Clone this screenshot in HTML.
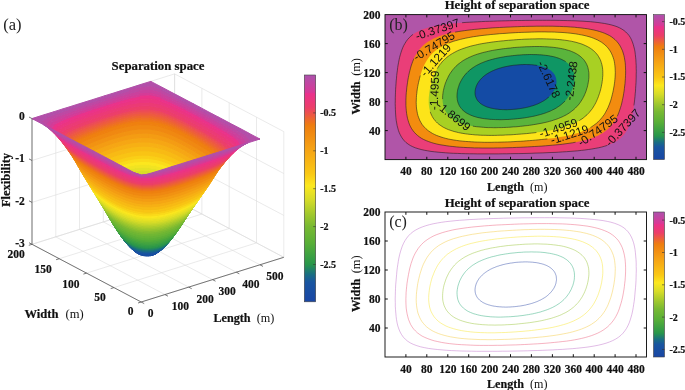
<!DOCTYPE html><html><head><meta charset="utf-8"><title>figure</title><style>html,body{margin:0;padding:0;background:#fff}svg{display:block}text[font-weight=bold],g[font-weight=bold] text{stroke:#111;stroke-width:0.2px}tspan[font-weight=normal]{stroke:none}</style></head><body>
<svg width="685" height="390" viewBox="0 0 685 390">
<rect width="685" height="390" fill="#fff"/>
<g stroke="#dcdcdc" stroke-width="0.6" fill="none">
<path d="M141.2,302.0 L283.8,257.3"/>
<path d="M113.9,287.6 L256.5,242.9"/>
<path d="M86.6,273.1 L229.2,228.5"/>
<path d="M59.3,258.7 L201.9,214.0"/>
<path d="M32.0,244.3 L174.6,199.6"/>
<path d="M141.2,302.0 L32.0,244.3"/>
<path d="M165.0,294.6 L55.8,236.9"/>
<path d="M188.7,287.1 L79.5,229.4"/>
<path d="M212.5,279.6 L103.3,221.9"/>
<path d="M236.3,272.2 L127.1,214.5"/>
<path d="M260.0,264.8 L150.8,207.1"/>
<path d="M283.8,257.3 L174.6,199.6"/>
<path d="M32.0,244.3 L32.0,118.6"/>
<path d="M55.8,236.9 L55.8,111.2"/>
<path d="M79.5,229.4 L79.5,103.7"/>
<path d="M103.3,221.9 L103.3,96.2"/>
<path d="M127.1,214.5 L127.1,88.8"/>
<path d="M150.8,207.1 L150.8,81.4"/>
<path d="M174.6,199.6 L174.6,73.9"/>
<path d="M32.0,118.6 L174.6,73.9"/>
<path d="M32.0,160.5 L174.6,115.8"/>
<path d="M32.0,202.4 L174.6,157.7"/>
<path d="M32.0,244.3 L174.6,199.6"/>
<path d="M283.8,257.3 L283.8,131.6"/>
<path d="M256.5,242.9 L256.5,117.2"/>
<path d="M229.2,228.5 L229.2,102.8"/>
<path d="M201.9,214.0 L201.9,88.3"/>
<path d="M174.6,199.6 L174.6,73.9"/>
<path d="M283.8,131.6 L174.6,73.9"/>
<path d="M283.8,173.5 L174.6,115.8"/>
<path d="M283.8,215.4 L174.6,157.7"/>
<path d="M283.8,257.3 L174.6,199.6"/>
</g>
<style>.q0{fill:#b24fa9;stroke:#b24fa9}.q1{fill:#be48a3;stroke:#be48a3}.q2{fill:#ca419d;stroke:#ca419d}.q3{fill:#d53b97;stroke:#d53b97}.q4{fill:#ea328a;stroke:#ea328a}.q5{fill:#eb3580;stroke:#eb3580}.q6{fill:#eb3a75;stroke:#eb3a75}.q7{fill:#ec3e6a;stroke:#ec3e6a}.q8{fill:#ec495a;stroke:#ec495a}.q9{fill:#ed524d;stroke:#ed524d}.q10{fill:#ed5b3f;stroke:#ed5b3f}.q11{fill:#ed6531;stroke:#ed6531}.q12{fill:#ee6f23;stroke:#ee6f23}.q13{fill:#ee7816;stroke:#ee7816}.q14{fill:#ef800f;stroke:#ef800f}.q15{fill:#f08811;stroke:#f08811}.q16{fill:#f29212;stroke:#f29212}.q17{fill:#f49c13;stroke:#f49c13}.q18{fill:#f6a614;stroke:#f6a614}.q19{fill:#f7b014;stroke:#f7b014}.q20{fill:#f8ba14;stroke:#f8ba14}.q21{fill:#f9c414;stroke:#f9c414}.q22{fill:#facf16;stroke:#facf16}.q23{fill:#fbdb1a;stroke:#fbdb1a}.q24{fill:#fce71e;stroke:#fce71e}.q25{fill:#f1e421;stroke:#f1e421}.q26{fill:#e5e124;stroke:#e5e124}.q27{fill:#d9dd27;stroke:#d9dd27}.q28{fill:#ccd829;stroke:#ccd829}.q29{fill:#bed32a;stroke:#bed32a}.q30{fill:#b1ce2b;stroke:#b1ce2b}.q31{fill:#a3c92d;stroke:#a3c92d}.q32{fill:#96c42e;stroke:#96c42e}.q33{fill:#89bf30;stroke:#89bf30}.q34{fill:#7cba32;stroke:#7cba32}.q35{fill:#71b733;stroke:#71b733}.q36{fill:#67b435;stroke:#67b435}.q37{fill:#5db036;stroke:#5db036}.q38{fill:#53ac39;stroke:#53ac39}.q39{fill:#49a73d;stroke:#49a73d}.q40{fill:#40a341;stroke:#40a341}.q41{fill:#379e45;stroke:#379e45}.q42{fill:#2e9949;stroke:#2e9949}.q43{fill:#279250;stroke:#279250}.q44{fill:#23885f;stroke:#23885f}.q45{fill:#1f7e6c;stroke:#1f7e6c}.q46{fill:#1b747a;stroke:#1b747a}.q47{fill:#196a87;stroke:#196a87}.q48{fill:#196093;stroke:#196093}.q49{fill:#1954a0;stroke:#1954a0}.q50{fill:#194fa2;stroke:#194fa2}.q51{fill:#1949a4;stroke:#1949a4}</style>
<g stroke-width="1" stroke-linejoin="round">
<path class="q40" d="M147.7,210.4l-4.4,-0.2l0.1,2.9l4.2,0.2z"/>
<path class="q41" d="M147.6,213.3l-4.2,-0.2l0.2,3.1l3.9,0.2z"/>
<path class="q39" d="M147.8,207.2l-4.6,-0.2l0.1,3.2l4.4,0.2z"/>
<path class="q40" d="M143.3,210.2l-4.1,0.3l0.3,2.9l3.9,-0.3z"/>
<path class="q41" d="M143.4,213.1l-3.9,0.3l0.3,3l3.8,-0.2z"/>
<path class="q38" d="M147.8,204.2l-4.7,-0.1l0.1,2.9l4.6,0.2z"/>
<path class="q42" d="M147.5,216.4l-3.9,-0.2l0.1,3.2l3.7,0.2z"/>
<path class="q39" d="M143.2,207.0l-4.4,0.3l0.4,3.2l4.1,-0.3z"/>
<path class="q42" d="M143.6,216.2l-3.8,0.2l0.3,3.2l3.6,-0.2z"/>
<path class="q38" d="M143.1,204.1l-4.6,0.2l0.3,3l4.4,-0.3z"/>
<path class="q43" d="M147.4,219.6l-3.7,-0.2l0.1,2l3.6,0.2z"/>
<path class="q43" d="M143.7,219.4l-3.6,0.2l0.3,2l3.4,-0.2z"/>
<path class="q37" d="M147.9,200.5l-5,-0.2l0.2,3.8l4.7,0.1z"/>
<path class="q44" d="M147.4,221.6l-3.6,-0.2l0.1,1.9l3.4,0.1z"/>
<path class="q44" d="M143.8,221.4l-3.4,0.2l0.2,1.8l3.3,-0.1z"/>
<path class="q37" d="M142.9,200.3l-4.7,0.4l0.3,3.6l4.6,-0.2z"/>
<path class="q45" d="M147.3,223.4l-3.4,-0.1l0.1,1.8l3.3,0.1z"/>
<path class="q45" d="M143.9,223.3l-3.3,0.1l0.2,1.8l3.2,-0.1z"/>
<path class="q36" d="M148.0,196.8l-5.2,-0.2l0.1,3.7l5,0.2z"/>
<path class="q36" d="M142.8,196.6l-5,0.3l0.4,3.8l4.7,-0.4z"/>
<path class="q46" d="M144.0,225.1l-3.2,0.1l0.2,2l3.1,-0.2z"/>
<path class="q46" d="M147.3,225.2l-3.3,-0.1l0.1,1.9l3.1,0.2z"/>
<path class="q41" d="M151.7,213.9l-4.1,-0.6l-0.1,3.1l3.9,0.5z"/>
<path class="q40" d="M152.0,211.0l-4.3,-0.6l-0.1,2.9l4.1,0.6z"/>
<path class="q42" d="M151.4,216.9l-3.9,-0.5l-0.1,3.2l3.7,0.5z"/>
<path class="q35" d="M148.1,193.0l-5.4,-0.2l0.1,3.8l5.2,0.2z"/>
<path class="q41" d="M139.5,213.4l-3.7,0.5l0.5,3l3.5,-0.5z"/>
<path class="q42" d="M139.8,216.4l-3.5,0.5l0.5,3.2l3.3,-0.5z"/>
<path class="q39" d="M152.3,207.8l-4.5,-0.6l-0.1,3.2l4.3,0.6z"/>
<path class="q40" d="M139.2,210.5l-3.9,0.5l0.5,2.9l3.7,-0.5z"/>
<path class="q43" d="M140.1,219.6l-3.3,0.5l0.4,1.9l3.2,-0.4z"/>
<path class="q43" d="M151.1,220.1l-3.7,-0.5l0,2l3.5,0.5z"/>
<path class="q47" d="M144.1,227.0l-3.1,0.2l0.4,2.4l2.8,-0.1z"/>
<path class="q47" d="M147.2,227.2l-3.1,-0.2l0.1,2.5l2.9,0.1z"/>
<path class="q38" d="M152.5,204.9l-4.7,-0.7l0,3l4.5,0.6z"/>
<path class="q44" d="M140.4,221.6l-3.2,0.4l0.3,1.8l3.1,-0.4z"/>
<path class="q39" d="M138.8,207.3l-4,0.6l0.5,3.1l3.9,-0.5z"/>
<path class="q35" d="M142.7,192.8l-5.2,0.4l0.3,3.7l5,-0.3z"/>
<path class="q44" d="M150.9,222.1l-3.5,-0.5l-0.1,1.8l3.4,0.5z"/>
<path class="q45" d="M140.6,223.4l-3.1,0.4l0.4,1.8l2.9,-0.4z"/>
<path class="q45" d="M150.7,223.9l-3.4,-0.5l0,1.8l3.2,0.5z"/>
<path class="q34" d="M148.1,190.0l-5.6,-0.2l0.2,3l5.4,0.2z"/>
<path class="q38" d="M138.5,204.3l-4.1,0.7l0.4,2.9l4,-0.6z"/>
<path class="q37" d="M152.8,201.2l-4.9,-0.7l-0.1,3.7l4.7,0.7z"/>
<path class="q46" d="M140.8,225.2l-2.9,0.4l0.3,1.9l2.8,-0.3z"/>
<path class="q46" d="M150.5,225.7l-3.2,-0.5l-0.1,2l3.1,0.4z"/>
<path class="q48" d="M144.2,229.5l-2.8,0.1l0.3,2.4l2.6,-0.1z"/>
<path class="q48" d="M147.1,229.6l-2.9,-0.1l0.1,2.4l2.8,0.2z"/>
<path class="q34" d="M142.5,189.8l-5.3,0.4l0.3,3l5.2,-0.4z"/>
<path class="q37" d="M138.2,200.7l-4.4,0.6l0.6,3.7l4.1,-0.7z"/>
<path class="q33" d="M148.2,187.2l-5.8,-0.2l0.1,2.8l5.6,0.2z"/>
<path class="q47" d="M141.0,227.2l-2.8,0.3l0.5,2.4l2.7,-0.3z"/>
<path class="q36" d="M153.1,197.5l-5.1,-0.7l-0.1,3.7l4.9,0.7z"/>
<path class="q47" d="M150.3,227.6l-3.1,-0.4l-0.1,2.4l3,0.4z"/>
<path class="q33" d="M142.4,187.0l-5.4,0.4l0.2,2.8l5.3,-0.4z"/>
<path class="q32" d="M148.3,184.4l-6,-0.2l0.1,2.8l5.8,0.2z"/>
<path class="q48" d="M141.4,229.6l-2.7,0.3l0.5,2.4l2.5,-0.3z"/>
<path class="q36" d="M137.8,196.9l-4.5,0.7l0.5,3.7l4.4,-0.6z"/>
<path class="q35" d="M153.4,193.8l-5.3,-0.8l-0.1,3.8l5.1,0.7z"/>
<path class="q48" d="M150.1,230.0l-3,-0.4l0,2.5l2.7,0.3z"/>
<path class="q49" d="M144.3,231.9l-2.6,0.1l0.5,4.2l2.3,-0.1z"/>
<path class="q32" d="M142.3,184.2l-5.6,0.4l0.3,2.8l5.4,-0.4z"/>
<path class="q49" d="M147.1,232.1l-2.8,-0.2l0.2,4.2l2.4,0.2z"/>
<path class="q31" d="M148.3,181.6l-6.1,-0.2l0.1,2.8l6,0.2z"/>
<path class="q43" d="M136.8,220.1l-2.9,0.6l0.4,1.9l2.9,-0.6z"/>
<path class="q44" d="M137.2,222.0l-2.9,0.6l0.5,1.8l2.7,-0.6z"/>
<path class="q42" d="M136.3,216.9l-3.1,0.7l0.7,3.1l2.9,-0.6z"/>
<path class="q45" d="M137.5,223.8l-2.7,0.6l0.4,1.8l2.7,-0.6z"/>
<path class="q41" d="M135.8,213.9l-3.3,0.7l0.7,3l3.1,-0.7z"/>
<path class="q35" d="M137.5,193.2l-4.7,0.8l0.5,3.6l4.5,-0.7z"/>
<path class="q34" d="M153.7,190.8l-5.6,-0.8l0,3l5.3,0.8z"/>
<path class="q46" d="M137.9,225.6l-2.7,0.6l0.5,1.9l2.5,-0.6z"/>
<path class="q31" d="M142.2,181.4l-5.8,0.4l0.3,2.8l5.6,-0.4z"/>
<path class="q30" d="M148.4,179.0l-6.3,-0.2l0.1,2.6l6.1,0.2z"/>
<path class="q42" d="M155.1,217.8l-3.7,-0.9l-0.3,3.2l3.5,0.8z"/>
<path class="q43" d="M154.6,220.9l-3.5,-0.8l-0.2,2l3.3,0.8z"/>
<path class="q40" d="M135.3,211.0l-3.4,0.8l0.6,2.8l3.3,-0.7z"/>
<path class="q41" d="M155.6,214.8l-3.9,-0.9l-0.3,3l3.7,0.9z"/>
<path class="q44" d="M154.2,222.9l-3.3,-0.8l-0.2,1.8l3.2,0.7z"/>
<path class="q49" d="M141.7,232.0l-2.5,0.3l0.9,4.2l2.1,-0.3z"/>
<path class="q47" d="M138.2,227.5l-2.5,0.6l0.6,2.3l2.4,-0.5z"/>
<path class="q45" d="M153.9,224.6l-3.2,-0.7l-0.2,1.8l3.1,0.7z"/>
<path class="q40" d="M156.0,212.0l-4,-1l-0.3,2.9l3.9,0.9z"/>
<path class="q49" d="M149.8,232.4l-2.7,-0.3l-0.2,4.2l2.4,0.3z"/>
<path class="q46" d="M153.6,226.4l-3.1,-0.7l-0.2,1.9l3,0.7z"/>
<path class="q39" d="M134.8,207.9l-3.6,0.8l0.7,3.1l3.4,-0.8z"/>
<path class="q29" d="M148.5,176.4l-6.4,-0.2l0,2.6l6.3,0.2z"/>
<path class="q30" d="M142.1,178.8l-5.9,0.4l0.2,2.6l5.8,-0.4z"/>
<path class="q33" d="M153.9,188.1l-5.7,-0.9l-0.1,2.8l5.6,0.8z"/>
<path class="q48" d="M138.7,229.9l-2.4,0.5l0.6,2.4l2.3,-0.5z"/>
<path class="q34" d="M137.2,190.2l-4.9,0.8l0.5,3l4.7,-0.8z"/>
<path class="q39" d="M156.5,208.9l-4.2,-1.1l-0.3,3.2l4,1z"/>
<path class="q47" d="M153.3,228.3l-3,-0.7l-0.2,2.4l2.7,0.6z"/>
<path class="q38" d="M134.4,205.0l-3.8,0.9l0.6,2.8l3.6,-0.8z"/>
<path class="q28" d="M148.5,173.7l-6.5,-0.2l0.1,2.7l6.4,0.2z"/>
<path class="q29" d="M142.1,176.2l-6.1,0.4l0.2,2.6l5.9,-0.4z"/>
<path class="q38" d="M156.9,206.0l-4.4,-1.1l-0.2,2.9l4.2,1.1z"/>
<path class="q32" d="M154.1,185.3l-5.8,-0.9l-0.1,2.8l5.7,0.9z"/>
<path class="q48" d="M152.8,230.6l-2.7,-0.6l-0.3,2.4l2.6,0.6z"/>
<path class="q33" d="M137.0,187.4l-5,0.8l0.3,2.8l4.9,-0.8z"/>
<path class="q27" d="M148.6,170.8l-6.8,-0.2l0.2,2.9l6.5,0.2z"/>
<path class="q28" d="M142.0,173.5l-6.3,0.5l0.3,2.6l6.1,-0.4z"/>
<path class="q49" d="M139.2,232.3l-2.3,0.5l1.2,4l2,-0.3z"/>
<path class="q37" d="M133.8,201.3l-3.9,1l0.7,3.6l3.8,-0.9z"/>
<path class="q37" d="M157.4,202.4l-4.6,-1.2l-0.3,3.7l4.4,1.1z"/>
<path class="q31" d="M154.4,182.5l-6.1,-0.9l0,2.8l5.8,0.9z"/>
<path class="q32" d="M136.7,184.6l-5.1,0.9l0.4,2.7l5,-0.8z"/>
<path class="q27" d="M141.8,170.6l-6.3,0.5l0.2,2.9l6.3,-0.5z"/>
<path class="q26" d="M148.6,167.7l-6.9,-0.2l0.1,3.1l6.8,0.2z"/>
<path class="q49" d="M152.4,233.0l-2.6,-0.6l-0.5,4.2l2.2,0.5z"/>
<path class="q30" d="M154.6,179.9l-6.2,-0.9l-0.1,2.6l6.1,0.9z"/>
<path class="q45" d="M134.8,224.4l-2.5,0.7l0.5,1.8l2.4,-0.7z"/>
<path class="q44" d="M134.3,222.6l-2.5,0.8l0.5,1.7l2.5,-0.7z"/>
<path class="q46" d="M135.2,226.2l-2.4,0.7l0.6,1.8l2.3,-0.6z"/>
<path class="q36" d="M158.0,198.7l-4.9,-1.2l-0.3,3.7l4.6,1.2z"/>
<path class="q43" d="M133.9,220.7l-2.7,0.8l0.6,1.9l2.5,-0.8z"/>
<path class="q36" d="M133.3,197.6l-4.1,1l0.7,3.7l3.9,-1z"/>
<path class="q47" d="M135.7,228.1l-2.3,0.6l0.8,2.3l2.1,-0.6z"/>
<path class="q50" d="M144.5,236.1l-2.3,0.1l1.2,7.2l1.6,0z"/>
<path class="q31" d="M136.4,181.8l-5.2,0.9l0.4,2.8l5.1,-0.9z"/>
<path class="q42" d="M133.2,217.6l-2.8,0.8l0.8,3.1l2.7,-0.8z"/>
<path class="q50" d="M146.9,236.3l-2.4,-0.2l0.5,7.3l1.7,0.1z"/>
<path class="q29" d="M154.8,177.3l-6.3,-0.9l-0.1,2.6l6.2,0.9z"/>
<path class="q48" d="M136.3,230.4l-2.1,0.6l0.7,2.3l2,-0.5z"/>
<path class="q26" d="M141.7,167.5l-6.5,0.5l0.3,3.1l6.3,-0.5z"/>
<path class="q25" d="M148.7,164.7l-7.1,-0.2l0.1,3l6.9,0.2z"/>
<path class="q41" d="M132.5,214.6l-2.9,0.9l0.8,2.9l2.8,-0.8z"/>
<path class="q50" d="M142.2,236.2l-2.1,0.3l1.8,7.1l1.5,-0.2z"/>
<path class="q30" d="M136.2,179.2l-5.4,0.9l0.4,2.6l5.2,-0.9z"/>
<path class="q35" d="M158.5,195.1l-5.1,-1.3l-0.3,3.7l4.9,1.2z"/>
<path class="q28" d="M155.0,174.7l-6.5,-1l0,2.7l6.3,0.9z"/>
<path class="q49" d="M136.9,232.8l-2,0.5l1.5,4l1.7,-0.5z"/>
<path class="q35" d="M132.8,194.0l-4.3,1l0.7,3.6l4.1,-1z"/>
<path class="q50" d="M149.3,236.6l-2.4,-0.3l-0.2,7.2l1.6,0.2z"/>
<path class="q40" d="M131.9,211.8l-3.1,0.9l0.8,2.8l2.9,-0.9z"/>
<path class="q25" d="M141.6,164.5l-6.7,0.5l0.3,3l6.5,-0.5z"/>
<path class="q24" d="M148.8,161.6l-7.3,-0.2l0.1,3.1l7.1,0.2z"/>
<path class="q45" d="M156.9,225.6l-3,-1l-0.3,1.8l2.8,0.9z"/>
<path class="q46" d="M156.4,227.3l-2.8,-0.9l-0.3,1.9l2.7,0.8z"/>
<path class="q44" d="M157.3,223.8l-3.1,-0.9l-0.3,1.7l3,1z"/>
<path class="q43" d="M157.7,221.9l-3.1,-1l-0.4,2l3.1,0.9z"/>
<path class="q47" d="M156.0,229.1l-2.7,-0.8l-0.5,2.3l2.6,0.8z"/>
<path class="q29" d="M136.0,176.6l-5.6,1l0.4,2.5l5.4,-0.9z"/>
<path class="q27" d="M155.2,171.8l-6.6,-1l-0.1,2.9l6.5,1z"/>
<path class="q42" d="M158.4,218.9l-3.3,-1.1l-0.5,3.1l3.1,1z"/>
<path class="q48" d="M155.4,231.4l-2.6,-0.8l-0.4,2.4l2.3,0.7z"/>
<path class="q39" d="M131.2,208.7l-3.2,1l0.8,3l3.1,-0.9z"/>
<path class="q34" d="M158.9,192.1l-5.2,-1.3l-0.3,3l5.1,1.3z"/>
<path class="q50" d="M140.1,236.5l-2,0.3l2.4,7l1.4,-0.2z"/>
<path class="q41" d="M159.1,216.0l-3.5,-1.2l-0.5,3l3.3,1.1z"/>
<path class="q24" d="M141.5,161.4l-6.8,0.6l0.2,3l6.7,-0.5z"/>
<path class="q23" d="M148.8,158.4l-7.4,-0.2l0.1,3.2l7.3,0.2z"/>
<path class="q34" d="M132.3,191.0l-4.3,1l0.5,3l4.3,-1z"/>
<path class="q28" d="M135.7,174.0l-5.6,1l0.3,2.6l5.6,-1z"/>
<path class="q26" d="M155.5,168.7l-6.9,-1l0,3.1l6.6,1z"/>
<path class="q49" d="M154.7,233.7l-2.3,-0.7l-0.9,4.1l2.1,0.6z"/>
<path class="q38" d="M130.6,205.9l-3.3,1l0.7,2.8l3.2,-1z"/>
<path class="q40" d="M159.7,213.2l-3.7,-1.2l-0.4,2.8l3.5,1.2z"/>
<path class="q50" d="M151.5,237.1l-2.2,-0.5l-1,7.1l1.6,0.3z"/>
<path class="q33" d="M159.2,189.4l-5.3,-1.3l-0.2,2.7l5.2,1.3z"/>
<path class="q22" d="M148.9,155.3l-7.6,-0.2l0.1,3.1l7.4,0.2z"/>
<path class="q23" d="M141.4,158.2l-7,0.6l0.3,3.2l6.8,-0.6z"/>
<path class="q27" d="M135.5,171.1l-5.8,1l0.4,2.9l5.6,-1z"/>
<path class="q33" d="M132.0,188.2l-4.5,1.1l0.5,2.7l4.3,-1z"/>
<path class="q47" d="M133.4,228.7l-2,0.7l0.9,2.3l1.9,-0.7z"/>
<path class="q46" d="M132.8,226.9l-2.1,0.7l0.7,1.8l2,-0.7z"/>
<path class="q48" d="M134.2,231.0l-1.9,0.7l0.9,2.3l1.7,-0.7z"/>
<path class="q39" d="M160.3,210.2l-3.8,-1.3l-0.5,3.1l3.7,1.2z"/>
<path class="q45" d="M132.3,225.1l-2.2,0.8l0.6,1.7l2.1,-0.7z"/>
<path class="q25" d="M155.7,165.7l-7,-1l-0.1,3l6.9,1z"/>
<path class="q44" d="M131.8,223.4l-2.3,0.8l0.6,1.7l2.2,-0.8z"/>
<path class="q37" d="M129.9,202.3l-3.4,1l0.8,3.6l3.3,-1z"/>
<path class="q50" d="M138.1,236.8l-1.7,0.5l2.8,6.9l1.3,-0.4z"/>
<path class="q32" d="M159.6,186.7l-5.5,-1.4l-0.2,2.8l5.3,1.3z"/>
<path class="q49" d="M134.9,233.3l-1.7,0.7l1.6,3.9l1.6,-0.6z"/>
<path class="q43" d="M131.2,221.5l-2.3,0.8l0.6,1.9l2.3,-0.8z"/>
<path class="q26" d="M135.2,168.0l-5.9,1l0.4,3.1l5.8,-1z"/>
<path class="q38" d="M160.9,207.4l-4,-1.4l-0.4,2.9l3.8,1.3z"/>
<path class="q22" d="M141.3,155.1l-7.2,0.6l0.3,3.1l7,-0.6z"/>
<path class="q32" d="M131.6,185.5l-4.6,1.1l0.5,2.7l4.5,-1.1z"/>
<path class="q42" d="M130.4,218.4l-2.5,1l1,2.9l2.3,-0.8z"/>
<path class="q24" d="M155.9,162.7l-7.1,-1.1l-0.1,3.1l7,1z"/>
<path class="q21" d="M149.0,150.9l-7.8,-0.2l0.1,4.4l7.6,0.2z"/>
<path class="q31" d="M160.0,183.9l-5.6,-1.4l-0.3,2.8l5.5,1.4z"/>
<path class="q36" d="M129.2,198.6l-3.6,1.1l0.9,3.6l3.4,-1z"/>
<path class="q41" d="M129.6,215.5l-2.7,1l1,2.9l2.5,-1z"/>
<path class="q50" d="M153.6,237.7l-2.1,-0.6l-1.6,6.9l1.4,0.4z"/>
<path class="q31" d="M131.2,182.7l-4.7,1.2l0.5,2.7l4.6,-1.1z"/>
<path class="q37" d="M161.6,203.8l-4.2,-1.4l-0.5,3.6l4,1.4z"/>
<path class="q25" d="M134.9,165.0l-6,1.1l0.4,2.9l5.9,-1z"/>
<path class="q23" d="M156.2,159.6l-7.4,-1.2l0,3.2l7.1,1.1z"/>
<path class="q30" d="M160.3,181.4l-5.7,-1.5l-0.2,2.6l5.6,1.4z"/>
<path class="q21" d="M141.2,150.7l-7.4,0.6l0.3,4.4l7.2,-0.6z"/>
<path class="q40" d="M128.8,212.7l-2.7,1l0.8,2.8l2.7,-1z"/>
<path class="q48" d="M157.6,232.3l-2.2,-0.9l-0.7,2.3l2.2,0.9z"/>
<path class="q47" d="M158.4,230.1l-2.4,-1l-0.6,2.3l2.2,0.9z"/>
<path class="q50" d="M136.4,237.3l-1.6,0.6l3.3,6.6l1.1,-0.3z"/>
<path class="q46" d="M158.9,228.3l-2.5,-1l-0.4,1.8l2.4,1z"/>
<path class="q20" d="M149.1,146.3l-8.1,-0.2l0.2,4.6l7.8,0.2z"/>
<path class="q30" d="M130.8,180.1l-4.8,1.2l0.5,2.6l4.7,-1.2z"/>
<path class="q49" d="M156.9,234.6l-2.2,-0.9l-1.1,4l1.8,0.7z"/>
<path class="q45" d="M159.5,226.6l-2.6,-1l-0.5,1.7l2.5,1z"/>
<path class="q24" d="M134.7,162.0l-6.2,1.1l0.4,3l6,-1.1z"/>
<path class="q29" d="M160.7,178.8l-5.9,-1.5l-0.2,2.6l5.7,1.5z"/>
<path class="q35" d="M128.5,195.0l-3.7,1.1l0.8,3.6l3.6,-1.1z"/>
<path class="q44" d="M160.0,224.9l-2.7,-1.1l-0.4,1.8l2.6,1z"/>
<path class="q36" d="M162.3,200.2l-4.3,-1.5l-0.6,3.7l4.2,1.4z"/>
<path class="q22" d="M156.4,156.4l-7.5,-1.1l-0.1,3.1l7.4,1.2z"/>
<path class="q39" d="M128.0,209.7l-2.8,1l0.9,3l2.7,-1z"/>
<path class="q43" d="M160.5,223.1l-2.8,-1.2l-0.4,1.9l2.7,1.1z"/>
<path class="q48" d="M132.3,231.7l-1.7,0.7l1,2.2l1.6,-0.6z"/>
<path class="q47" d="M131.4,229.4l-1.8,0.8l1,2.2l1.7,-0.7z"/>
<path class="q49" d="M133.2,234.0l-1.6,0.6l1.9,3.9l1.3,-0.6z"/>
<path class="q29" d="M130.4,177.6l-4.9,1.2l0.5,2.5l4.8,-1.2z"/>
<path class="q46" d="M130.7,227.6l-1.8,0.8l0.7,1.8l1.8,-0.8z"/>
<path class="q28" d="M161.0,176.2l-6,-1.5l-0.2,2.6l5.9,1.5z"/>
<path class="q20" d="M141.0,146.1l-7.6,0.8l0.4,4.4l7.4,-0.6z"/>
<path class="q42" d="M161.4,220.1l-3,-1.2l-0.7,3l2.8,1.2z"/>
<path class="q45" d="M130.1,225.9l-1.9,0.9l0.7,1.6l1.8,-0.8z"/>
<path class="q23" d="M134.4,158.8l-6.3,1.2l0.4,3.1l6.2,-1.1z"/>
<path class="q44" d="M129.5,224.2l-2,0.9l0.7,1.7l1.9,-0.9z"/>
<path class="q34" d="M128.0,192.0l-3.9,1.2l0.7,2.9l3.7,-1.1z"/>
<path class="q19" d="M149.2,142.1l-8.3,-0.2l0.1,4.2l8.1,0.2z"/>
<path class="q38" d="M127.3,206.9l-2.9,1.1l0.8,2.7l2.8,-1z"/>
<path class="q21" d="M156.7,152.1l-7.7,-1.2l-0.1,4.4l7.5,1.1z"/>
<path class="q50" d="M155.4,238.4l-1.8,-0.7l-2.3,6.7l1.3,0.5z"/>
<path class="q28" d="M130.1,175.0l-5.1,1.2l0.5,2.6l4.9,-1.2z"/>
<path class="q35" d="M162.9,196.7l-4.4,-1.6l-0.5,3.6l4.3,1.5z"/>
<path class="q27" d="M161.4,173.4l-6.2,-1.6l-0.2,2.9l6,1.5z"/>
<path class="q41" d="M162.2,217.3l-3.1,-1.3l-0.7,2.9l3,1.2z"/>
<path class="q43" d="M128.9,222.3l-2.1,0.9l0.7,1.9l2,-0.9z"/>
<path class="q50" d="M134.8,237.9l-1.3,0.6l3.7,6.5l0.9,-0.5z"/>
<path class="q22" d="M134.1,155.7l-6.4,1.2l0.4,3.1l6.3,-1.2z"/>
<path class="q27" d="M129.7,172.1l-5.2,1.3l0.5,2.8l5.1,-1.2z"/>
<path class="q42" d="M127.9,219.4l-2.2,0.9l1.1,2.9l2.1,-0.9z"/>
<path class="q33" d="M127.5,189.3l-4,1.3l0.6,2.6l3.9,-1.2z"/>
<path class="q40" d="M162.9,214.6l-3.2,-1.4l-0.6,2.8l3.1,1.3z"/>
<path class="q37" d="M126.5,203.3l-3.1,1.2l1,3.5l2.9,-1.1z"/>
<path class="q26" d="M161.8,170.4l-6.3,-1.7l-0.3,3.1l6.2,1.6z"/>
<path class="q19" d="M140.9,141.9l-7.8,0.8l0.3,4.2l7.6,-0.8z"/>
<path class="q34" d="M163.5,193.8l-4.6,-1.7l-0.4,3l4.4,1.6z"/>
<path class="q20" d="M157.0,147.6l-7.9,-1.3l-0.1,4.6l7.7,1.2z"/>
<path class="q18" d="M149.3,137.6l-8.5,-0.1l0.1,4.4l8.3,0.2z"/>
<path class="q41" d="M126.9,216.5l-2.3,1l1.1,2.8l2.2,-0.9z"/>
<path class="q26" d="M129.3,169.0l-5.3,1.4l0.5,3l5.2,-1.3z"/>
<path class="q39" d="M163.7,211.6l-3.4,-1.4l-0.6,3l3.2,1.4z"/>
<path class="q32" d="M127.0,186.6l-4.1,1.3l0.6,2.7l4,-1.3z"/>
<path class="q49" d="M158.7,235.5l-1.8,-0.9l-1.5,3.8l1.7,0.8z"/>
<path class="q21" d="M133.8,151.3l-6.7,1.3l0.6,4.3l6.4,-1.2z"/>
<path class="q25" d="M162.2,167.5l-6.5,-1.8l-0.2,3l6.3,1.7z"/>
<path class="q49" d="M131.6,234.6l-1.3,0.8l2,3.7l1.2,-0.6z"/>
<path class="q48" d="M159.6,233.3l-2,-1l-0.7,2.3l1.8,0.9z"/>
<path class="q33" d="M164.0,191.1l-4.8,-1.7l-0.3,2.7l4.6,1.7z"/>
<path class="q48" d="M130.6,232.4l-1.5,0.8l1.2,2.2l1.3,-0.8z"/>
<path class="q36" d="M125.6,199.7l-3.2,1.2l1,3.6l3.1,-1.2z"/>
<path class="q47" d="M160.5,231.1l-2.1,-1l-0.8,2.2l2,1z"/>
<path class="q47" d="M129.6,230.2l-1.5,0.8l1,2.2l1.5,-0.8z"/>
<path class="q40" d="M126.1,213.7l-2.4,1.1l0.9,2.7l2.3,-1z"/>
<path class="q50" d="M157.1,239.2l-1.7,-0.8l-2.8,6.5l1.2,0.6z"/>
<path class="q50" d="M133.5,238.5l-1.2,0.6l4.1,6.3l0.8,-0.4z"/>
<path class="q46" d="M161.1,229.4l-2.2,-1.1l-0.5,1.8l2.1,1z"/>
<path class="q25" d="M128.9,166.1l-5.4,1.4l0.5,2.9l5.3,-1.4z"/>
<path class="q38" d="M164.4,208.9l-3.5,-1.5l-0.6,2.8l3.4,1.4z"/>
<path class="q31" d="M126.5,183.9l-4.2,1.3l0.6,2.7l4.1,-1.3z"/>
<path class="q46" d="M128.9,228.4l-1.7,0.9l0.9,1.7l1.5,-0.8z"/>
<path class="q18" d="M140.8,137.5l-8,0.8l0.3,4.4l7.8,-0.8z"/>
<path class="q19" d="M157.3,143.4l-8.1,-1.3l-0.1,4.2l7.9,1.3z"/>
<path class="q24" d="M162.5,164.5l-6.6,-1.8l-0.2,3l6.5,1.8z"/>
<path class="q45" d="M161.7,227.8l-2.2,-1.2l-0.6,1.7l2.2,1.1z"/>
<path class="q32" d="M164.5,188.4l-4.9,-1.7l-0.4,2.7l4.8,1.7z"/>
<path class="q45" d="M128.2,226.8l-1.7,0.9l0.7,1.6l1.7,-0.9z"/>
<path class="q17" d="M149.3,133.2l-8.7,-0.1l0.2,4.4l8.5,0.1z"/>
<path class="q39" d="M125.2,210.7l-2.6,1.1l1.1,3l2.4,-1.1z"/>
<path class="q44" d="M162.3,226.1l-2.3,-1.2l-0.5,1.7l2.2,1.2z"/>
<path class="q20" d="M133.4,146.9l-6.8,1.2l0.5,4.5l6.7,-1.3z"/>
<path class="q44" d="M127.5,225.1l-1.8,0.9l0.8,1.7l1.7,-0.9z"/>
<path class="q35" d="M124.8,196.1l-3.4,1.3l1,3.5l3.2,-1.2z"/>
<path class="q30" d="M126.0,181.3l-4.3,1.4l0.6,2.5l4.2,-1.3z"/>
<path class="q24" d="M128.5,163.1l-5.6,1.4l0.6,3l5.4,-1.4z"/>
<path class="q37" d="M165.2,205.4l-3.6,-1.6l-0.7,3.6l3.5,1.5z"/>
<path class="q43" d="M163.0,224.3l-2.5,-1.2l-0.5,1.8l2.3,1.2z"/>
<path class="q23" d="M162.9,161.4l-6.7,-1.8l-0.3,3.1l6.6,1.8z"/>
<path class="q31" d="M165.0,185.7l-5,-1.8l-0.4,2.8l4.9,1.7z"/>
<path class="q43" d="M126.8,223.2l-1.9,1l0.8,1.8l1.8,-0.9z"/>
<path class="q38" d="M124.4,208.0l-2.7,1.1l0.9,2.7l2.6,-1.1z"/>
<path class="q29" d="M125.5,178.8l-4.4,1.4l0.6,2.5l4.3,-1.4z"/>
<path class="q18" d="M157.6,139.0l-8.3,-1.4l-0.1,4.5l8.1,1.3z"/>
<path class="q42" d="M163.9,221.5l-2.5,-1.4l-0.9,3l2.5,1.2z"/>
<path class="q17" d="M140.6,133.1l-8.1,0.9l0.3,4.3l8,-0.8z"/>
<path class="q42" d="M125.7,220.3l-2,1l1.2,2.9l1.9,-1z"/>
<path class="q30" d="M165.4,183.2l-5.1,-1.8l-0.3,2.5l5,1.8z"/>
<path class="q23" d="M128.1,160.0l-5.7,1.4l0.5,3.1l5.6,-1.4z"/>
<path class="q49" d="M130.3,235.4l-1.2,0.8l2.2,3.6l1,-0.7z"/>
<path class="q16" d="M149.4,129.0l-8.9,-0.1l0.1,4.2l8.7,0.1z"/>
<path class="q50" d="M132.3,239.1l-1,0.7l4.4,6.1l0.7,-0.5z"/>
<path class="q34" d="M124.1,193.2l-3.4,1.3l0.7,2.9l3.4,-1.3z"/>
<path class="q22" d="M163.3,158.3l-6.9,-1.9l-0.2,3.2l6.7,1.8z"/>
<path class="q0" d="M150.8,81.4l-12,3.7l0.2,3l11.5,-1.5z"/>
<path class="q36" d="M166.1,201.9l-3.8,-1.7l-0.7,3.6l3.6,1.6z"/>
<path class="q50" d="M158.5,240.0l-1.4,-0.8l-3.3,6.3l1,0.5z"/>
<path class="q19" d="M133.1,142.7l-7,1.3l0.5,4.1l6.8,-1.2z"/>
<path class="q48" d="M129.1,233.2l-1.2,0.8l1.2,2.2l1.2,-0.8z"/>
<path class="q49" d="M160.3,236.4l-1.6,-0.9l-1.6,3.7l1.4,0.8z"/>
<path class="q28" d="M125.0,176.2l-4.5,1.4l0.6,2.6l4.4,-1.4z"/>
<path class="q51" d="M145.0,243.4l-1.6,0l2.6,10.8l0,0z"/>
<path class="q41" d="M164.9,218.7l-2.7,-1.4l-0.8,2.8l2.5,1.4z"/>
<path class="q51" d="M146.7,243.5l-1.7,-0.1l1,10.8l0,0z"/>
<path class="q37" d="M123.4,204.5l-2.8,1.2l1.1,3.4l2.7,-1.1z"/>
<path class="q29" d="M165.9,180.8l-5.2,-2l-0.4,2.6l5.1,1.8z"/>
<path class="q51" d="M143.4,243.4l-1.5,0.2l4.1,10.6l0,0z"/>
<path class="q41" d="M124.6,217.5l-2,1l1.1,2.8l2,-1z"/>
<path class="q47" d="M128.1,231.0l-1.4,0.9l1.2,2.1l1.2,-0.8z"/>
<path class="q51" d="M148.3,243.7l-1.6,-0.2l-0.7,10.7l0,0z"/>
<path class="q48" d="M161.3,234.3l-1.7,-1l-0.9,2.2l1.6,0.9z"/>
<path class="q22" d="M127.7,156.9l-5.8,1.5l0.5,3l5.7,-1.4z"/>
<path class="q33" d="M123.5,190.6l-3.5,1.3l0.7,2.6l3.4,-1.3z"/>
<path class="q51" d="M141.9,243.6l-1.4,0.2l5.5,10.4l0,0z"/>
<path class="q21" d="M163.8,154.0l-7.1,-1.9l-0.3,4.3l6.9,1.9z"/>
<path class="q27" d="M124.5,173.4l-4.6,1.4l0.6,2.8l4.5,-1.4z"/>
<path class="q46" d="M127.2,229.3l-1.4,0.9l0.9,1.7l1.4,-0.9z"/>
<path class="q17" d="M157.9,134.6l-8.6,-1.4l0,4.4l8.3,1.4z"/>
<path class="q15" d="M149.5,124.6l-9.1,-0.1l0.1,4.4l8.9,0.1z"/>
<path class="q51" d="M149.9,244.0l-1.6,-0.3l-2.3,10.5l0,0z"/>
<path class="q47" d="M162.3,232.2l-1.8,-1.1l-0.9,2.2l1.7,1z"/>
<path class="q16" d="M140.5,128.9l-8.3,0.9l0.3,4.2l8.1,-0.9z"/>
<path class="q28" d="M166.4,178.2l-5.4,-2l-0.3,2.6l5.2,2z"/>
<path class="q40" d="M165.7,216.0l-2.8,-1.4l-0.7,2.7l2.7,1.4z"/>
<path class="q35" d="M166.9,198.4l-4,-1.7l-0.6,3.5l3.8,1.7z"/>
<path class="q51" d="M140.5,243.8l-1.3,0.4l6.8,10l0,0z"/>
<path class="q40" d="M123.7,214.8l-2.2,1.1l1.1,2.6l2,-1z"/>
<path class="q45" d="M126.5,227.7l-1.5,0.9l0.8,1.6l1.4,-0.9z"/>
<path class="q46" d="M163.0,230.5l-1.9,-1.1l-0.6,1.7l1.8,1.1z"/>
<path class="q32" d="M122.9,187.9l-3.7,1.3l0.8,2.7l3.5,-1.3z"/>
<path class="q36" d="M122.4,200.9l-2.9,1.3l1.1,3.5l2.8,-1.2z"/>
<path class="q51" d="M151.3,244.4l-1.4,-0.4l-3.9,10.2l0,0z"/>
<path class="q18" d="M132.8,138.3l-7.2,1.4l0.5,4.3l7,-1.3z"/>
<path class="q50" d="M131.3,239.8l-0.8,0.7l4.6,5.9l0.6,-0.5z"/>
<path class="q26" d="M124.0,170.4l-4.8,1.4l0.7,3l4.6,-1.4z"/>
<path class="q21" d="M127.1,152.6l-5.9,1.5l0.7,4.3l5.8,-1.5z"/>
<path class="q44" d="M125.7,226.0l-1.5,1l0.8,1.6l1.5,-0.9z"/>
<path class="q51" d="M139.2,244.2l-1.1,0.3l7.9,9.7l0,0z"/>
<path class="q27" d="M166.9,175.4l-5.5,-2l-0.4,2.8l5.4,2z"/>
<path class="q45" d="M163.7,228.9l-2,-1.1l-0.6,1.6l1.9,1.1z"/>
<path class="q14" d="M149.6,121.1l-9.4,-0.1l0.2,3.5l9.1,0.1z"/>
<path class="q39" d="M166.6,213.2l-2.9,-1.6l-0.8,3l2.8,1.4z"/>
<path class="q49" d="M129.1,236.2l-1,0.8l2.4,3.5l0.8,-0.7z"/>
<path class="q39" d="M122.6,211.8l-2.2,1.2l1.1,2.9l2.2,-1.1z"/>
<path class="q20" d="M164.4,149.6l-7.4,-2l-0.3,4.5l7.1,1.9z"/>
<path class="q34" d="M167.5,195.6l-4,-1.8l-0.6,2.9l4,1.7z"/>
<path class="q43" d="M124.9,224.2l-1.6,1l0.9,1.8l1.5,-1z"/>
<path class="q16" d="M158.2,130.5l-8.8,-1.5l-0.1,4.2l8.6,1.4z"/>
<path class="q51" d="M152.6,244.9l-1.3,-0.5l-5.3,9.8l0,0z"/>
<path class="q50" d="M159.7,240.8l-1.2,-0.8l-3.7,6l0.8,0.6z"/>
<path class="q15" d="M140.4,124.5l-8.5,1l0.3,4.3l8.3,-0.9z"/>
<path class="q44" d="M164.4,227.3l-2.1,-1.2l-0.6,1.7l2,1.1z"/>
<path class="q31" d="M122.3,185.2l-3.8,1.4l0.7,2.6l3.7,-1.3z"/>
<path class="q51" d="M138.1,244.5l-0.9,0.5l8.8,9.2l0,0z"/>
<path class="q13" d="M149.6,119.3l-9.4,-0.1l0,1.8l9.4,0.1z"/>
<path class="q25" d="M123.5,167.5l-4.9,1.5l0.6,2.8l4.8,-1.4z"/>
<path class="q26" d="M167.4,172.4l-5.6,-2l-0.4,3l5.5,2z"/>
<path class="q48" d="M127.9,234.0l-1.1,0.9l1.3,2.1l1,-0.8z"/>
<path class="q35" d="M121.4,197.4l-3,1.3l1.1,3.5l2.9,-1.3z"/>
<path class="q12" d="M149.7,117.3l-9.6,-0.1l0.1,2l9.4,0.1z"/>
<path class="q43" d="M165.1,225.6l-2.1,-1.3l-0.7,1.8l2.1,1.2z"/>
<path class="q1" d="M150.5,86.6l-11.5,1.5l0.1,2.9l11.3,-0.9z"/>
<path class="q38" d="M167.4,210.5l-3,-1.6l-0.7,2.7l2.9,1.6z"/>
<path class="q42" d="M123.7,221.3l-1.7,1.1l1.3,2.8l1.6,-1z"/>
<path class="q49" d="M161.7,237.3l-1.4,-0.9l-1.8,3.6l1.2,0.8z"/>
<path class="q38" d="M121.7,209.1l-2.4,1.2l1.1,2.7l2.2,-1.2z"/>
<path class="q51" d="M153.8,245.5l-1.2,-0.6l-6.6,9.3l0,0z"/>
<path class="q51" d="M137.2,245.0l-0.8,0.4l9.6,8.8l0,0z"/>
<path class="q30" d="M121.7,182.7l-3.9,1.4l0.7,2.5l3.8,-1.4z"/>
<path class="q33" d="M168.1,193.0l-4.1,-1.9l-0.5,2.7l4,1.8z"/>
<path class="q11" d="M149.7,115.1l-9.6,0l0,2.1l9.6,0.1z"/>
<path class="q20" d="M126.6,148.1l-6.1,1.6l0.7,4.4l5.9,-1.5z"/>
<path class="q17" d="M132.5,134.0l-7.3,1.4l0.4,4.3l7.2,-1.4z"/>
<path class="q0" d="M161.9,87.2l-11.1,-5.8l-0.3,5.2l11.1,3.5z"/>
<path class="q47" d="M126.7,231.9l-1.1,0.9l1.2,2.1l1.1,-0.9z"/>
<path class="q14" d="M140.2,121.0l-8.6,1.1l0.3,3.4l8.5,-1z"/>
<path class="q15" d="M158.5,126.1l-9,-1.5l-0.1,4.4l8.8,1.5z"/>
<path class="q24" d="M122.9,164.5l-4.9,1.5l0.6,3l4.9,-1.5z"/>
<path class="q10" d="M149.8,112.9l-9.8,0.1l0.1,2.1l9.6,0z"/>
<path class="q25" d="M167.9,169.6l-5.7,-2.1l-0.4,2.9l5.6,2z"/>
<path class="q19" d="M164.8,145.5l-7.5,-2.1l-0.3,4.2l7.4,2z"/>
<path class="q42" d="M166.2,222.8l-2.3,-1.3l-0.9,2.8l2.1,1.3z"/>
<path class="q50" d="M130.5,240.5l-0.7,0.7l4.9,5.7l0.4,-0.5z"/>
<path class="q48" d="M162.8,235.3l-1.5,-1l-1,2.1l1.4,0.9z"/>
<path class="q9" d="M149.8,111.0l-9.9,0.1l0.1,1.9l9.8,-0.1z"/>
<path class="q46" d="M125.8,230.2l-1.1,1l0.9,1.6l1.1,-0.9z"/>
<path class="q51" d="M136.4,245.4l-0.7,0.5l10.3,8.3l0,0z"/>
<path class="q41" d="M122.6,218.5l-1.9,1.2l1.3,2.7l1.7,-1.1z"/>
<path class="q34" d="M120.7,194.5l-3.2,1.3l0.9,2.9l3,-1.3z"/>
<path class="q2" d="M150.4,90.1l-11.3,0.9l0.1,2.9l11.1,-0.7z"/>
<path class="q29" d="M121.1,180.2l-3.9,1.4l0.6,2.5l3.9,-1.4z"/>
<path class="q51" d="M154.8,246.0l-1,-0.5l-7.8,8.7l0,0z"/>
<path class="q37" d="M168.4,207.1l-3.2,-1.7l-0.8,3.5l3,1.6z"/>
<path class="q8" d="M149.8,109.1l-10,0.1l0.1,1.9l9.9,-0.1z"/>
<path class="q32" d="M168.7,190.4l-4.2,-2l-0.5,2.7l4.1,1.9z"/>
<path class="q13" d="M140.2,119.2l-8.7,1.1l0.1,1.8l8.6,-1.1z"/>
<path class="q37" d="M120.6,205.7l-2.5,1.2l1.2,3.4l2.4,-1.2z"/>
<path class="q47" d="M163.9,233.3l-1.6,-1.1l-1,2.1l1.5,1z"/>
<path class="q7" d="M149.9,105.8l-10.2,0.2l0.1,3.2l10,-0.1z"/>
<path class="q45" d="M125.0,228.6l-1.2,1l0.9,1.6l1.1,-1z"/>
<path class="q3" d="M150.3,93.2l-11.1,0.7l0.1,2.4l10.9,-0.5z"/>
<path class="q24" d="M168.4,166.7l-5.9,-2.2l-0.3,3l5.7,2.1z"/>
<path class="q23" d="M122.4,161.4l-5.1,1.6l0.7,3l4.9,-1.5z"/>
<path class="q14" d="M158.7,122.7l-9.1,-1.6l-0.1,3.5l9,1.5z"/>
<path class="q49" d="M128.1,237.0l-0.7,0.8l2.4,3.4l0.7,-0.7z"/>
<path class="q50" d="M160.7,241.6l-1,-0.8l-4.1,5.8l0.7,0.6z"/>
<path class="q12" d="M140.1,117.2l-8.8,1.2l0.2,1.9l8.7,-1.1z"/>
<path class="q6" d="M150.0,102.2l-10.4,0.3l0.1,3.5l10.2,-0.2z"/>
<path class="q41" d="M167.2,220.1l-2.3,-1.4l-1,2.8l2.3,1.3z"/>
<path class="q4" d="M150.2,95.8l-10.9,0.5l0.2,2.9l10.6,-0.3z"/>
<path class="q51" d="M135.7,245.9l-0.6,0.5l10.9,7.8l0,0z"/>
<path class="q28" d="M120.5,177.6l-4,1.5l0.7,2.5l3.9,-1.4z"/>
<path class="q19" d="M126.1,144.0l-6.3,1.6l0.7,4.1l6.1,-1.6z"/>
<path class="q5" d="M150.1,98.9l-10.6,0.3l0.1,3.3l10.4,-0.3z"/>
<path class="q40" d="M121.5,215.9l-1.9,1.2l1.1,2.6l1.9,-1.2z"/>
<path class="q16" d="M132.2,129.8l-7.5,1.5l0.5,4.1l7.3,-1.4z"/>
<path class="q33" d="M120.0,191.9l-3.3,1.3l0.8,2.6l3.2,-1.3z"/>
<path class="q44" d="M124.2,227.0l-1.3,1l0.9,1.6l1.2,-1z"/>
<path class="q51" d="M155.6,246.6l-0.8,-0.6l-8.8,8.2l0,0z"/>
<path class="q46" d="M164.7,231.6l-1.7,-1.1l-0.7,1.7l1.6,1.1z"/>
<path class="q31" d="M169.3,187.7l-4.3,-2l-0.5,2.7l4.2,2z"/>
<path class="q18" d="M165.3,141.2l-7.7,-2.2l-0.3,4.4l7.5,2.1z"/>
<path class="q11" d="M140.1,115.1l-9,1.3l0.2,2l8.8,-1.2z"/>
<path class="q13" d="M158.9,120.9l-9.3,-1.6l0,1.8l9.1,1.6z"/>
<path class="q36" d="M169.4,203.6l-3.3,-1.7l-0.9,3.5l3.2,1.7z"/>
<path class="q23" d="M168.9,163.7l-6,-2.3l-0.4,3.1l5.9,2.2z"/>
<path class="q48" d="M126.8,234.9l-0.8,0.9l1.4,2l0.7,-0.8z"/>
<path class="q22" d="M121.9,158.4l-5.2,1.6l0.6,3l5.1,-1.6z"/>
<path class="q51" d="M135.1,246.4l-0.4,0.5l11.3,7.3l0,0z"/>
<path class="q12" d="M159.0,118.9l-9.3,-1.6l-0.1,2l9.3,1.6z"/>
<path class="q43" d="M123.3,225.2l-1.3,1.1l0.9,1.7l1.3,-1z"/>
<path class="q36" d="M119.5,202.2l-2.6,1.3l1.2,3.4l2.5,-1.2z"/>
<path class="q27" d="M119.9,174.8l-4.2,1.5l0.8,2.8l4,-1.5z"/>
<path class="q45" d="M165.4,230.1l-1.7,-1.2l-0.7,1.6l1.7,1.1z"/>
<path class="q10" d="M140.0,113.0l-9,1.3l0.1,2.1l9,-1.3z"/>
<path class="q40" d="M168.2,217.5l-2.5,-1.5l-0.8,2.7l2.3,1.4z"/>
<path class="q50" d="M129.8,241.2l-0.5,0.8l5.1,5.5l0.3,-0.6z"/>
<path class="q49" d="M162.9,238.3l-1.2,-1l-2,3.5l1,0.8z"/>
<path class="q30" d="M169.9,185.3l-4.5,-2.1l-0.4,2.5l4.3,2z"/>
<path class="q32" d="M119.2,189.2l-3.3,1.4l0.8,2.6l3.3,-1.3z"/>
<path class="q39" d="M120.4,213.0l-2.1,1.2l1.3,2.9l1.9,-1.2z"/>
<path class="q51" d="M156.3,247.2l-0.7,-0.6l-9.6,7.6l0,0z"/>
<path class="q11" d="M159.2,116.9l-9.5,-1.8l0,2.2l9.3,1.6z"/>
<path class="q9" d="M139.9,111.1l-9.1,1.3l0.2,1.9l9,-1.3z"/>
<path class="q1" d="M161.6,90.1l-11.1,-3.5l-0.1,3.5l10.9,2.9z"/>
<path class="q44" d="M166.2,228.6l-1.8,-1.3l-0.7,1.6l1.7,1.2z"/>
<path class="q47" d="M125.6,232.8l-0.9,1l1.3,2l0.8,-0.9z"/>
<path class="q10" d="M159.4,114.7l-9.6,-1.8l-0.1,2.2l9.5,1.8z"/>
<path class="q51" d="M134.7,246.9l-0.3,0.6l11.6,6.7l0,0z"/>
<path class="q42" d="M122.0,222.4l-1.5,1.1l1.5,2.8l1.3,-1.1z"/>
<path class="q15" d="M131.9,125.5l-7.7,1.6l0.5,4.2l7.5,-1.5z"/>
<path class="q18" d="M125.6,139.7l-6.4,1.6l0.6,4.3l6.3,-1.6z"/>
<path class="q8" d="M139.8,109.2l-9.1,1.4l0.1,1.8l9.1,-1.3z"/>
<path class="q22" d="M169.4,160.7l-6.1,-2.4l-0.4,3.1l6,2.3z"/>
<path class="q26" d="M119.2,171.8l-4.2,1.6l0.7,2.9l4.2,-1.5z"/>
<path class="q9" d="M159.5,112.8l-9.7,-1.8l0,1.9l9.6,1.8z"/>
<path class="q29" d="M170.5,182.8l-4.6,-2l-0.5,2.4l4.5,2.1z"/>
<path class="q35" d="M170.3,200.2l-3.4,-1.8l-0.8,3.5l3.3,1.7z"/>
<path class="q17" d="M165.7,136.9l-7.8,-2.3l-0.3,4.4l7.7,2.2z"/>
<path class="q39" d="M169.2,214.7l-2.6,-1.5l-0.9,2.8l2.5,1.5z"/>
<path class="q21" d="M121.2,154.1l-5.4,1.6l0.9,4.3l5.2,-1.6z"/>
<path class="q31" d="M118.5,186.6l-3.4,1.4l0.8,2.6l3.3,-1.4z"/>
<path class="q51" d="M156.9,247.8l-0.6,-0.6l-10.3,7l0,0z"/>
<path class="q43" d="M167.0,226.8l-1.9,-1.2l-0.7,1.7l1.8,1.3z"/>
<path class="q48" d="M164.1,236.3l-1.3,-1l-1.1,2l1.2,1z"/>
<path class="q8" d="M159.7,110.9l-9.9,-1.8l0,1.9l9.7,1.8z"/>
<path class="q46" d="M124.7,231.2l-1,1l1,1.6l0.9,-1z"/>
<path class="q50" d="M161.5,242.5l-0.8,-0.9l-4.4,5.6l0.6,0.6z"/>
<path class="q35" d="M118.4,198.7l-2.7,1.3l1.2,3.5l2.6,-1.3z"/>
<path class="q7" d="M139.7,106.0l-9.3,1.5l0.3,3.1l9.1,-1.4z"/>
<path class="q38" d="M119.3,210.3l-2.1,1.3l1.1,2.6l2.1,-1.2z"/>
<path class="q2" d="M161.3,93.0l-10.9,-2.9l-0.1,3.1l10.7,2.7z"/>
<path class="q49" d="M127.4,237.8l-0.6,0.9l2.5,3.3l0.5,-0.8z"/>
<path class="q51" d="M134.4,247.5l-0.3,0.5l11.9,6.2l0,0z"/>
<path class="q7" d="M159.9,107.8l-10,-2l-0.1,3.3l9.9,1.8z"/>
<path class="q41" d="M120.7,219.7l-1.5,1.1l1.3,2.7l1.5,-1.1z"/>
<path class="q25" d="M118.6,169.0l-4.4,1.5l0.8,2.9l4.2,-1.6z"/>
<path class="q3" d="M161.0,95.9l-10.7,-2.7l-0.1,2.6l10.5,2.4z"/>
<path class="q6" d="M160.2,104.3l-10.2,-2.1l-0.1,3.6l10,2z"/>
<path class="q28" d="M171.1,180.3l-4.7,-2.1l-0.5,2.6l4.6,2z"/>
<path class="q45" d="M123.8,229.6l-1,1l0.9,1.6l1,-1z"/>
<path class="q6" d="M139.6,102.5l-9.5,1.7l0.3,3.3l9.3,-1.5z"/>
<path class="q4" d="M160.7,98.2l-10.5,-2.4l-0.1,3.1l10.4,2.2z"/>
<path class="q21" d="M170.1,156.4l-6.3,-2.4l-0.5,4.3l6.1,2.4z"/>
<path class="q30" d="M117.8,184.1l-3.5,1.4l0.8,2.5l3.4,-1.4z"/>
<path class="q5" d="M160.5,101.1l-10.4,-2.2l-0.1,3.3l10.2,2.1z"/>
<path class="q47" d="M165.2,234.4l-1.3,-1.1l-1.1,2l1.3,1z"/>
<path class="q14" d="M131.6,122.1l-7.7,1.6l0.3,3.4l7.7,-1.6z"/>
<path class="q51" d="M157.4,248.4l-0.5,-0.6l-10.9,6.4l0,0z"/>
<path class="q50" d="M129.3,242.0l-0.3,0.8l5.1,5.2l0.3,-0.5z"/>
<path class="q42" d="M168.2,224.1l-2,-1.3l-1.1,2.8l1.9,1.2z"/>
<path class="q38" d="M170.1,212.1l-2.7,-1.6l-0.8,2.7l2.6,1.5z"/>
<path class="q34" d="M171.1,197.4l-3.6,-1.8l-0.6,2.8l3.4,1.8z"/>
<path class="q51" d="M134.1,248.0l-0.1,0.6l12,5.6l0,0z"/>
<path class="q5" d="M139.5,99.2l-9.6,1.9l0.2,3.1l9.5,-1.7z"/>
<path class="q34" d="M117.5,195.8l-2.8,1.4l1,2.8l2.7,-1.3z"/>
<path class="q44" d="M122.9,228.0l-1.1,1.1l1,1.5l1,-1z"/>
<path class="q37" d="M118.1,206.9l-2.2,1.3l1.3,3.4l2.1,-1.3z"/>
<path class="q17" d="M125.2,135.4l-6.6,1.7l0.6,4.2l6.4,-1.6z"/>
<path class="q48" d="M126.0,235.8l-0.6,0.9l1.4,2l0.6,-0.9z"/>
<path class="q16" d="M166.2,132.9l-8,-2.4l-0.3,4.1l7.8,2.3z"/>
<path class="q20" d="M120.5,149.7l-5.6,1.7l0.9,4.3l5.4,-1.6z"/>
<path class="q27" d="M171.7,177.6l-4.8,-2.2l-0.5,2.8l4.7,2.1z"/>
<path class="q24" d="M118.0,166.0l-4.5,1.6l0.7,2.9l4.4,-1.5z"/>
<path class="q46" d="M166.1,232.8l-1.4,-1.2l-0.8,1.7l1.3,1.1z"/>
<path class="q4" d="M139.3,96.3l-9.6,2l0.2,2.8l9.6,-1.9z"/>
<path class="q29" d="M117.2,181.6l-3.6,1.5l0.7,2.4l3.5,-1.4z"/>
<path class="q40" d="M119.6,217.1l-1.7,1.2l1.3,2.5l1.5,-1.1z"/>
<path class="q13" d="M131.5,120.3l-7.8,1.7l0.2,1.7l7.7,-1.6z"/>
<path class="q51" d="M157.7,249.0l-0.3,-0.6l-11.4,5.8l0,0z"/>
<path class="q49" d="M163.9,239.3l-1,-1l-2.2,3.3l0.8,0.9z"/>
<path class="q3" d="M139.2,93.9l-9.7,2.2l0.2,2.2l9.6,-2z"/>
<path class="q43" d="M122.0,226.3l-1.1,1.1l0.9,1.7l1.1,-1.1z"/>
<path class="q51" d="M134.0,248.6l0,0.5l12,5.1l0,0z"/>
<path class="q0" d="M138.8,85.1l-10,3.2l0.2,2.6l10,-2.8z"/>
<path class="q2" d="M139.1,91.0l-9.9,2.5l0.3,2.6l9.7,-2.2z"/>
<path class="q41" d="M169.3,221.5l-2.1,-1.4l-1,2.7l2,1.3z"/>
<path class="q1" d="M139.0,88.1l-10,2.8l0.2,2.6l9.9,-2.5z"/>
<path class="q33" d="M171.8,194.9l-3.7,-1.9l-0.6,2.6l3.6,1.8z"/>
<path class="q50" d="M162.2,243.3l-0.7,-0.8l-4.6,5.3l0.5,0.6z"/>
<path class="q12" d="M131.3,118.4l-7.9,1.7l0.3,1.9l7.8,-1.7z"/>
<path class="q47" d="M124.7,233.8l-0.7,1l1.4,1.9l0.6,-0.9z"/>
<path class="q37" d="M171.2,208.8l-2.8,-1.7l-1,3.4l2.7,1.6z"/>
<path class="q20" d="M170.8,152.1l-6.4,-2.5l-0.6,4.4l6.3,2.4z"/>
<path class="q45" d="M166.9,231.3l-1.5,-1.2l-0.7,1.5l1.4,1.2z"/>
<path class="q33" d="M116.7,193.2l-2.9,1.5l0.9,2.5l2.8,-1.4z"/>
<path class="q28" d="M116.5,179.1l-3.7,1.5l0.8,2.5l3.6,-1.5z"/>
<path class="q26" d="M172.3,174.7l-4.9,-2.3l-0.5,3l4.8,2.2z"/>
<path class="q23" d="M117.3,163.0l-4.6,1.6l0.8,3l4.5,-1.6z"/>
<path class="q51" d="M157.9,249.6l-0.2,-0.6l-11.7,5.2l0,0z"/>
<path class="q36" d="M116.9,203.5l-2.4,1.3l1.4,3.4l2.2,-1.3z"/>
<path class="q39" d="M118.3,214.2l-1.7,1.3l1.3,2.8l1.7,-1.2z"/>
<path class="q49" d="M126.8,238.7l-0.4,0.9l2.6,3.2l0.3,-0.8z"/>
<path class="q15" d="M166.7,128.6l-8.2,-2.5l-0.3,4.4l8,2.4z"/>
<path class="q11" d="M131.1,116.4l-7.9,1.7l0.2,2l7.9,-1.7z"/>
<path class="q51" d="M134.0,249.1l0.1,0.6l11.9,4.5l0,0z"/>
<path class="q50" d="M129.0,242.8l-0.2,0.8l5.2,5l0.1,-0.6z"/>
<path class="q42" d="M120.5,223.5l-1.2,1.2l1.6,2.7l1.1,-1.1z"/>
<path class="q16" d="M124.7,131.3l-6.7,1.8l0.6,4l6.6,-1.7z"/>
<path class="q19" d="M119.8,145.6l-5.6,1.7l0.7,4.1l5.6,-1.7z"/>
<path class="q44" d="M167.7,229.8l-1.5,-1.2l-0.8,1.5l1.5,1.2z"/>
<path class="q48" d="M165.1,237.4l-1,-1.1l-1.2,2l1,1z"/>
<path class="q46" d="M123.7,232.2l-0.7,1l1,1.6l0.7,-1z"/>
<path class="q32" d="M172.5,192.3l-3.8,-1.9l-0.6,2.6l3.7,1.9z"/>
<path class="q40" d="M170.4,219.0l-2.2,-1.5l-1,2.6l2.1,1.4z"/>
<path class="q32" d="M115.9,190.6l-3,1.5l0.9,2.6l2.9,-1.5z"/>
<path class="q27" d="M115.7,176.3l-3.8,1.6l0.9,2.7l3.7,-1.5z"/>
<path class="q10" d="M131.0,114.3l-8,1.8l0.2,2l7.9,-1.7z"/>
<path class="q25" d="M172.9,171.9l-5,-2.3l-0.5,2.8l4.9,2.3z"/>
<path class="q51" d="M158.0,250.1l-0.1,-0.5l-11.9,4.6l0,0z"/>
<path class="q22" d="M116.7,160.0l-4.7,1.6l0.7,3l4.6,-1.6z"/>
<path class="q36" d="M172.3,205.4l-2.9,-1.8l-1,3.5l2.8,1.7z"/>
<path class="q51" d="M134.1,249.7l0.3,0.6l11.6,3.9l0,0z"/>
<path class="q43" d="M168.6,228.1l-1.6,-1.3l-0.8,1.8l1.5,1.2z"/>
<path class="q45" d="M122.8,230.6l-0.8,1.1l1,1.5l0.7,-1z"/>
<path class="q19" d="M171.4,148.1l-6.6,-2.6l-0.4,4.1l6.4,2.5z"/>
<path class="q38" d="M117.2,211.6l-1.8,1.3l1.2,2.6l1.7,-1.3z"/>
<path class="q14" d="M167.0,125.3l-8.3,-2.6l-0.2,3.4l8.2,2.5z"/>
<path class="q9" d="M130.8,112.4l-8,1.9l0.2,1.8l8,-1.8z"/>
<path class="q47" d="M166.4,235.5l-1.2,-1.1l-1.1,1.9l1,1.1z"/>
<path class="q48" d="M125.4,236.7l-0.5,1l1.5,1.9l0.4,-0.9z"/>
<path class="q35" d="M115.7,200.0l-2.5,1.4l1.3,3.4l2.4,-1.3z"/>
<path class="q41" d="M119.2,220.8l-1.3,1.3l1.4,2.6l1.2,-1.2z"/>
<path class="q31" d="M173.2,189.7l-3.9,-2l-0.6,2.7l3.8,1.9z"/>
<path class="q31" d="M115.1,188.0l-3.1,1.5l0.9,2.6l3,-1.5z"/>
<path class="q26" d="M115.0,173.4l-4,1.5l0.9,3l3.8,-1.6z"/>
<path class="q50" d="M162.7,244.2l-0.5,-0.9l-4.8,5.1l0.3,0.6z"/>
<path class="q51" d="M158.0,250.7l0,-0.6l-12,4.1l0,0z"/>
<path class="q39" d="M171.5,216.2l-2.3,-1.5l-1,2.8l2.2,1.5z"/>
<path class="q49" d="M164.7,240.2l-0.8,-0.9l-2.4,3.2l0.7,0.8z"/>
<path class="q44" d="M121.8,229.1l-0.8,1.1l1,1.5l0.8,-1.1z"/>
<path class="q24" d="M173.6,169.0l-5.2,-2.3l-0.5,2.9l5,2.3z"/>
<path class="q8" d="M130.7,110.6l-8.2,1.9l0.3,1.8l8,-1.9z"/>
<path class="q15" d="M124.2,127.1l-6.8,1.8l0.6,4.2l6.7,-1.8z"/>
<path class="q51" d="M134.4,250.3l0.3,0.6l11.3,3.3l0,0z"/>
<path class="q18" d="M119.2,141.3l-5.8,1.8l0.8,4.2l5.6,-1.7z"/>
<path class="q13" d="M167.2,123.5l-8.3,-2.6l-0.2,1.8l8.3,2.6z"/>
<path class="q42" d="M169.9,225.5l-1.7,-1.4l-1.2,2.7l1.6,1.3z"/>
<path class="q21" d="M115.8,155.7l-4.9,1.7l1.1,4.2l4.7,-1.6z"/>
<path class="q50" d="M128.8,243.6l0,0.8l5.2,4.7l0,-0.5z"/>
<path class="q46" d="M167.3,233.9l-1.2,-1.1l-0.9,1.6l1.2,1.1z"/>
<path class="q47" d="M124.0,234.8l-0.5,1l1.4,1.9l0.5,-1z"/>
<path class="q30" d="M173.9,187.3l-4,-2l-0.6,2.4l3.9,2z"/>
<path class="q51" d="M157.9,251.3l0.1,-0.6l-12,3.5l0,0z"/>
<path class="q35" d="M173.4,202.0l-3.1,-1.8l-0.9,3.4l2.9,1.8z"/>
<path class="q37" d="M115.9,208.2l-2,1.4l1.5,3.3l1.8,-1.3z"/>
<path class="q30" d="M114.3,185.5l-3.2,1.5l0.9,2.5l3.1,-1.5z"/>
<path class="q12" d="M167.5,121.7l-8.5,-2.8l-0.1,2l8.3,2.6z"/>
<path class="q7" d="M130.4,107.5l-8.2,2l0.3,3l8.2,-1.9z"/>
<path class="q43" d="M120.9,227.4l-0.9,1.2l1,1.6l0.8,-1.1z"/>
<path class="q40" d="M117.9,218.3l-1.4,1.3l1.4,2.5l1.3,-1.3z"/>
<path class="q49" d="M126.4,239.6l-0.2,0.9l2.6,3.1l0.2,-0.8z"/>
<path class="q25" d="M114.2,170.5l-4,1.7l0.8,2.7l4,-1.5z"/>
<path class="q34" d="M114.7,197.2l-2.6,1.4l1.1,2.8l2.5,-1.4z"/>
<path class="q51" d="M134.7,250.9l0.4,0.6l10.9,2.7l0,0z"/>
<path class="q18" d="M172.1,143.8l-6.8,-2.6l-0.5,4.3l6.6,2.6z"/>
<path class="q23" d="M174.2,166.1l-5.3,-2.4l-0.5,3l5.2,2.3z"/>
<path class="q38" d="M172.5,213.7l-2.4,-1.6l-0.9,2.6l2.3,1.5z"/>
<path class="q11" d="M167.7,119.6l-8.5,-2.7l-0.2,2l8.5,2.8z"/>
<path class="q45" d="M168.2,232.5l-1.3,-1.2l-0.8,1.5l1.2,1.1z"/>
<path class="q48" d="M166.0,238.4l-0.9,-1l-1.2,1.9l0.8,0.9z"/>
<path class="q14" d="M123.9,123.7l-7,1.9l0.5,3.3l6.8,-1.8z"/>
<path class="q51" d="M157.7,251.8l0.2,-0.5l-11.9,2.9l0,0z"/>
<path class="q29" d="M174.5,185.0l-4,-2.2l-0.6,2.5l4,2z"/>
<path class="q46" d="M123.0,233.2l-0.5,1.1l1,1.5l0.5,-1z"/>
<path class="q29" d="M113.6,183.1l-3.4,1.5l0.9,2.4l3.2,-1.5z"/>
<path class="q6" d="M130.1,104.2l-8.3,2.1l0.4,3.2l8.2,-2z"/>
<path class="q41" d="M171.1,222.9l-1.8,-1.4l-1.1,2.6l1.7,1.4z"/>
<path class="q10" d="M167.9,117.6l-8.5,-2.9l-0.2,2.2l8.5,2.7z"/>
<path class="q51" d="M135.1,251.5l0.6,0.6l10.3,2.1l0,0z"/>
<path class="q24" d="M113.5,167.6l-4.2,1.7l0.9,2.9l4,-1.7z"/>
<path class="q42" d="M119.3,224.7l-0.9,1.2l1.6,2.7l0.9,-1.2z"/>
<path class="q50" d="M163.0,245.0l-0.3,-0.8l-5,4.8l0.2,0.6z"/>
<path class="q20" d="M114.9,151.4l-5,1.7l1,4.3l4.9,-1.7z"/>
<path class="q17" d="M118.6,137.1l-5.9,1.8l0.7,4.2l5.8,-1.8z"/>
<path class="q39" d="M116.6,215.5l-1.5,1.3l1.4,2.8l1.4,-1.3z"/>
<path class="q33" d="M113.8,194.7l-2.7,1.4l1,2.5l2.6,-1.4z"/>
<path class="q44" d="M169.0,231.0l-1.3,-1.2l-0.8,1.5l1.3,1.2z"/>
<path class="q34" d="M174.2,199.3l-3.1,-1.9l-0.8,2.8l3.1,1.8z"/>
<path class="q22" d="M174.8,163.1l-5.4,-2.4l-0.5,3l5.3,2.4z"/>
<path class="q36" d="M114.5,204.8l-2.1,1.4l1.5,3.4l2,-1.4z"/>
<path class="q9" d="M168.2,115.8l-8.7,-3l-0.1,1.9l8.5,2.9z"/>
<path class="q51" d="M157.4,252.3l0.3,-0.5l-11.7,2.4l0,0z"/>
<path class="q48" d="M124.9,237.7l-0.2,1l1.5,1.8l0.2,-0.9z"/>
<path class="q13" d="M123.7,122.0l-7,1.9l0.2,1.7l7,-1.9z"/>
<path class="q45" d="M122.0,231.7l-0.5,1.1l1,1.5l0.5,-1.1z"/>
<path class="q50" d="M128.8,244.4l0.2,0.8l5.1,4.5l-0.1,-0.6z"/>
<path class="q28" d="M175.2,182.5l-4.1,-2.2l-0.6,2.5l4,2.2z"/>
<path class="q28" d="M112.8,180.6l-3.4,1.6l0.8,2.4l3.4,-1.5z"/>
<path class="q5" d="M129.9,101.1l-8.4,2.2l0.3,3l8.3,-2.1z"/>
<path class="q37" d="M173.7,210.4l-2.5,-1.6l-1.1,3.3l2.4,1.6z"/>
<path class="q49" d="M165.3,241.2l-0.6,-1l-2.5,3.1l0.5,0.9z"/>
<path class="q47" d="M167.3,236.6l-0.9,-1.1l-1.3,1.9l0.9,1z"/>
<path class="q8" d="M168.4,114.0l-8.7,-3.1l-0.2,1.9l8.7,3z"/>
<path class="q51" d="M135.7,252.1l0.7,0.5l9.6,1.6l0,0z"/>
<path class="q17" d="M172.6,139.7l-6.9,-2.8l-0.4,4.3l6.8,2.6z"/>
<path class="q23" d="M112.7,164.6l-4.2,1.7l0.8,3l4.2,-1.7z"/>
<path class="q43" d="M169.9,229.4l-1.3,-1.3l-0.9,1.7l1.3,1.2z"/>
<path class="q40" d="M172.3,220.5l-1.9,-1.5l-1.1,2.5l1.8,1.4z"/>
<path class="q12" d="M123.4,120.1l-7,1.9l0.3,1.9l7,-1.9z"/>
<path class="q51" d="M156.9,252.9l0.5,-0.6l-11.4,1.9l0,0z"/>
<path class="q32" d="M112.9,192.1l-2.8,1.5l1,2.5l2.7,-1.4z"/>
<path class="q41" d="M117.9,222.1l-1,1.2l1.5,2.6l0.9,-1.2z"/>
<path class="q33" d="M175.0,196.8l-3.2,-1.9l-0.7,2.5l3.1,1.9z"/>
<path class="q7" d="M168.7,111.0l-8.8,-3.2l-0.2,3.1l8.7,3.1z"/>
<path class="q44" d="M121.0,230.2l-0.5,1.2l1,1.4l0.5,-1.1z"/>
<path class="q38" d="M115.4,212.9l-1.6,1.3l1.3,2.6l1.5,-1.3z"/>
<path class="q4" d="M129.7,98.3l-8.5,2.3l0.3,2.7l8.4,-2.2z"/>
<path class="q49" d="M126.2,240.5l0,0.9l2.6,3l0,-0.8z"/>
<path class="q27" d="M111.9,177.9l-3.5,1.6l1,2.7l3.4,-1.6z"/>
<path class="q27" d="M175.9,179.8l-4.2,-2.2l-0.6,2.7l4.1,2.2z"/>
<path class="q21" d="M175.7,159.0l-5.6,-2.6l-0.7,4.3l5.4,2.4z"/>
<path class="q51" d="M136.4,252.6l0.9,0.6l8.7,1l0,0z"/>
<path class="q47" d="M123.5,235.8l-0.2,1l1.4,1.9l0.2,-1z"/>
<path class="q19" d="M114.2,147.3l-5.2,1.8l0.9,4l5,-1.7z"/>
<path class="q16" d="M118.0,133.1l-6,1.8l0.7,4l5.9,-1.8z"/>
<path class="q11" d="M123.2,118.1l-7.1,2l0.3,1.9l7,-1.9z"/>
<path class="q46" d="M168.3,235.1l-1,-1.2l-0.9,1.6l0.9,1.1z"/>
<path class="q35" d="M113.2,201.4l-2.3,1.5l1.5,3.3l2.1,-1.4z"/>
<path class="q51" d="M156.4,253.4l0.5,-0.5l-10.9,1.3l0,0z"/>
<path class="q3" d="M129.5,96.1l-8.6,2.4l0.3,2.1l8.5,-2.3z"/>
<path class="q6" d="M169.1,107.7l-8.9,-3.4l-0.3,3.5l8.8,3.2z"/>
<path class="q50" d="M163.2,245.8l-0.2,-0.8l-5.1,4.6l0.1,0.5z"/>
<path class="q22" d="M112.0,161.6l-4.4,1.7l0.9,3l4.2,-1.7z"/>
<path class="q31" d="M112.0,189.5l-2.9,1.5l1,2.6l2.8,-1.5z"/>
<path class="q42" d="M171.4,226.8l-1.5,-1.3l-1.3,2.6l1.3,1.3z"/>
<path class="q43" d="M120.0,228.6l-0.6,1.2l1.1,1.6l0.5,-1.2z"/>
<path class="q36" d="M174.9,207.1l-2.6,-1.7l-1.1,3.4l2.5,1.6z"/>
<path class="q39" d="M173.5,217.8l-2,-1.6l-1.1,2.8l1.9,1.5z"/>
<path class="q32" d="M175.8,194.3l-3.3,-2l-0.7,2.6l3.2,1.9z"/>
<path class="q48" d="M166.6,239.4l-0.6,-1l-1.3,1.8l0.6,1z"/>
<path class="q51" d="M137.3,253.2l1,0.6l7.7,0.4l0,0z"/>
<path class="q10" d="M123.0,116.1l-7.2,1.9l0.3,2.1l7.1,-2z"/>
<path class="q16" d="M173.2,135.7l-7,-2.8l-0.5,4l6.9,2.8z"/>
<path class="q26" d="M111.0,174.9l-3.6,1.7l1,2.9l3.5,-1.6z"/>
<path class="q50" d="M129.0,245.2l0.3,0.8l5.1,4.3l-0.3,-0.6z"/>
<path class="q51" d="M155.7,253.8l0.7,-0.4l-10.4,0.8l0,0z"/>
<path class="q26" d="M176.7,177.0l-4.4,-2.3l-0.6,2.9l4.2,2.2z"/>
<path class="q40" d="M116.5,219.6l-1,1.3l1.4,2.4l1,-1.2z"/>
<path class="q2" d="M129.2,93.5l-8.6,2.5l0.3,2.5l8.6,-2.4z"/>
<path class="q5" d="M169.5,104.6l-9,-3.5l-0.3,3.2l8.9,3.4z"/>
<path class="q45" d="M169.2,233.7l-1,-1.2l-0.9,1.4l1,1.2z"/>
<path class="q46" d="M122.5,234.3l-0.3,1.1l1.1,1.4l0.2,-1z"/>
<path class="q37" d="M113.9,209.6l-1.7,1.4l1.6,3.2l1.6,-1.3z"/>
<path class="q9" d="M122.8,114.3l-7.2,2l0.2,1.7l7.2,-1.9z"/>
<path class="q4" d="M169.8,101.9l-9.1,-3.7l-0.2,2.9l9,3.5z"/>
<path class="q34" d="M112.1,198.6l-2.3,1.6l1.1,2.7l2.3,-1.5z"/>
<path class="q30" d="M111.1,187.0l-3,1.6l1,2.4l2.9,-1.5z"/>
<path class="q48" d="M124.7,238.7l0,1l1.5,1.7l0,-0.9z"/>
<path class="q20" d="M176.5,154.7l-5.7,-2.6l-0.7,4.3l5.6,2.6z"/>
<path class="q51" d="M154.9,254.3l0.8,-0.5l-9.7,0.4l0,0z"/>
<path class="q1" d="M129.0,90.9l-8.7,2.6l0.3,2.5l8.6,-2.5z"/>
<path class="q51" d="M138.3,253.8l1.1,0.5l6.6,-0.1l0,0z"/>
<path class="q49" d="M165.6,242.2l-0.3,-1l-2.6,3l0.3,0.8z"/>
<path class="q18" d="M113.4,143.1l-5.3,1.8l0.9,4.2l5.2,-1.8z"/>
<path class="q21" d="M110.9,157.4l-4.5,1.8l1.2,4.1l4.4,-1.7z"/>
<path class="q15" d="M117.4,128.9l-6.1,1.8l0.7,4.2l6,-1.8z"/>
<path class="q42" d="M118.4,225.9l-0.6,1.3l1.6,2.6l0.6,-1.2z"/>
<path class="q3" d="M170.1,99.8l-9.1,-3.9l-0.3,2.3l9.1,3.7z"/>
<path class="q31" d="M176.6,191.8l-3.4,-2.1l-0.7,2.6l3.3,2z"/>
<path class="q25" d="M110.2,172.2l-3.7,1.6l0.9,2.8l3.6,-1.7z"/>
<path class="q44" d="M170.1,232.3l-1.1,-1.3l-0.8,1.5l1,1.2z"/>
<path class="q45" d="M121.5,232.8l-0.3,1.2l1,1.4l0.3,-1.1z"/>
<path class="q41" d="M172.7,224.3l-1.6,-1.4l-1.2,2.6l1.5,1.3z"/>
<path class="q25" d="M177.4,174.2l-4.5,-2.3l-0.6,2.8l4.4,2.3z"/>
<path class="q8" d="M122.5,112.5l-7.2,2l0.3,1.8l7.2,-2z"/>
<path class="q38" d="M174.6,215.3l-2.1,-1.6l-1,2.5l2,1.6z"/>
<path class="q47" d="M168.0,237.7l-0.7,-1.1l-1.3,1.8l0.6,1z"/>
<path class="q2" d="M170.5,97.2l-9.2,-4.2l-0.3,2.9l9.1,3.9z"/>
<path class="q0" d="M128.8,88.3l-8.8,2.7l0.3,2.5l8.7,-2.6z"/>
<path class="q51" d="M153.9,254.7l1,-0.4l-8.9,-0.1l0,0z"/>
<path class="q35" d="M176.1,203.9l-2.7,-1.9l-1.1,3.4l2.6,1.7z"/>
<path class="q49" d="M126.2,241.4l0.2,1l2.6,2.8l-0.2,-0.8z"/>
<path class="q39" d="M115.1,216.8l-1.1,1.4l1.5,2.7l1,-1.3z"/>
<path class="q51" d="M139.4,254.3l1.3,0.5l5.3,-0.6l0,0z"/>
<path class="q1" d="M170.8,94.6l-9.2,-4.5l-0.3,2.9l9.2,4.2z"/>
<path class="q50" d="M163.2,246.6l0,-0.8l-5.2,4.3l0,0.6z"/>
<path class="q0" d="M171.1,92.1l-9.2,-4.9l-0.3,2.9l9.2,4.5z"/>
<path class="q15" d="M173.8,131.5l-7.1,-2.9l-0.5,4.3l7,2.8z"/>
<path class="q29" d="M110.2,184.6l-3,1.6l0.9,2.4l3,-1.6z"/>
<path class="q33" d="M111.1,196.1l-2.4,1.6l1.1,2.5l2.3,-1.6z"/>
<path class="q36" d="M112.4,206.2l-1.8,1.5l1.6,3.3l1.7,-1.4z"/>
<path class="q51" d="M152.8,255.1l1.1,-0.4l-7.9,-0.5l0,0z"/>
<path class="q47" d="M123.3,236.8l0,1.1l1.4,1.8l0,-1z"/>
<path class="q7" d="M122.2,109.5l-7.3,2.1l0.4,2.9l7.2,-2z"/>
<path class="q50" d="M129.3,246.0l0.5,0.8l4.9,4.1l-0.3,-0.6z"/>
<path class="q51" d="M140.7,254.8l1.5,0.4l3.8,-1l0,0z"/>
<path class="q43" d="M171.1,230.7l-1.2,-1.3l-0.9,1.6l1.1,1.3z"/>
<path class="q30" d="M177.4,189.4l-3.5,-2.1l-0.7,2.4l3.4,2.1z"/>
<path class="q44" d="M120.5,231.4l-0.3,1.2l1,1.4l0.3,-1.2z"/>
<path class="q24" d="M109.3,169.3l-3.8,1.6l1,2.9l3.7,-1.6z"/>
<path class="q24" d="M178.1,171.4l-4.5,-2.4l-0.7,2.9l4.5,2.3z"/>
<path class="q14" d="M116.9,125.6l-6.2,1.9l0.6,3.2l6.1,-1.8z"/>
<path class="q19" d="M177.3,150.8l-5.9,-2.7l-0.6,4l5.7,2.6z"/>
<path class="q51" d="M151.6,255.4l1.2,-0.3l-6.8,-0.9l0,0z"/>
<path class="q41" d="M116.9,223.3l-0.7,1.4l1.6,2.5l0.6,-1.3z"/>
<path class="q46" d="M169.0,236.2l-0.7,-1.1l-1,1.5l0.7,1.1z"/>
<path class="q20" d="M109.9,153.1l-4.7,1.8l1.2,4.3l4.5,-1.8z"/>
<path class="q28" d="M109.4,182.2l-3.2,1.6l1,2.4l3,-1.6z"/>
<path class="q51" d="M142.2,255.2l1.6,0.4l2.2,-1.4l0,0z"/>
<path class="q40" d="M173.9,221.9l-1.6,-1.4l-1.2,2.4l1.6,1.4z"/>
<path class="q17" d="M112.7,138.9l-5.4,1.8l0.8,4.2l5.3,-1.8z"/>
<path class="q48" d="M167.1,240.5l-0.5,-1.1l-1.3,1.8l0.3,1z"/>
<path class="q37" d="M175.9,212.1l-2.2,-1.7l-1.2,3.3l2.1,1.6z"/>
<path class="q51" d="M150.2,255.7l1.4,-0.3l-5.6,-1.2l0,0z"/>
<path class="q38" d="M113.8,214.2l-1.2,1.5l1.4,2.5l1.1,-1.4z"/>
<path class="q34" d="M177.0,201.2l-2.8,-1.9l-0.8,2.7l2.7,1.9z"/>
<path class="q14" d="M174.3,128.3l-7.3,-3l-0.3,3.3l7.1,2.9z"/>
<path class="q32" d="M110.1,193.6l-2.5,1.5l1.1,2.6l2.4,-1.6z"/>
<path class="q51" d="M143.8,255.6l1.6,0.2l0.6,-1.6l0,0z"/>
<path class="q51" d="M148.7,255.8l1.5,-0.1l-4.2,-1.5l0,0z"/>
<path class="q43" d="M119.4,229.8l-0.3,1.2l1.1,1.6l0.3,-1.2z"/>
<path class="q29" d="M178.1,187.1l-3.6,-2.1l-0.6,2.3l3.5,2.1z"/>
<path class="q6" d="M121.8,106.3l-7.4,2.1l0.5,3.2l7.3,-2.1z"/>
<path class="q51" d="M145.4,255.8l1.7,0.1l-1.1,-1.7l0,0z"/>
<path class="q51" d="M147.1,255.9l1.6,-0.1l-2.7,-1.6l0,0z"/>
<path class="q23" d="M108.5,166.3l-4,1.7l1,2.9l3.8,-1.6z"/>
<path class="q49" d="M165.9,243.1l-0.3,-0.9l-2.6,2.8l0.2,0.8z"/>
<path class="q46" d="M122.2,235.4l0,1.1l1.1,1.4l0,-1.1z"/>
<path class="q13" d="M116.7,123.9l-6.3,1.9l0.3,1.7l6.2,-1.9z"/>
<path class="q50" d="M163.0,247.4l0.2,-0.8l-5.2,4.1l-0.1,0.6z"/>
<path class="q48" d="M124.7,239.7l0.3,1l1.4,1.7l-0.2,-1z"/>
<path class="q42" d="M172.6,228.2l-1.2,-1.4l-1.5,2.6l1.2,1.3z"/>
<path class="q23" d="M178.9,168.5l-4.7,-2.4l-0.6,2.9l4.5,2.4z"/>
<path class="q35" d="M110.9,202.9l-1.9,1.5l1.6,3.3l1.8,-1.5z"/>
<path class="q45" d="M170.0,234.9l-0.8,-1.2l-0.9,1.4l0.7,1.1z"/>
<path class="q27" d="M108.4,179.5l-3.3,1.6l1.1,2.7l3.2,-1.6z"/>
<path class="q13" d="M174.5,126.6l-7.3,-3.1l-0.2,1.8l7.3,3z"/>
<path class="q40" d="M115.5,220.9l-0.8,1.4l1.5,2.4l0.7,-1.4z"/>
<path class="q49" d="M126.4,242.4l0.4,0.9l2.5,2.7l-0.3,-0.8z"/>
<path class="q12" d="M116.4,122.0l-6.4,2l0.4,1.8l6.3,-1.9z"/>
<path class="q50" d="M129.8,246.8l0.7,0.9l4.6,3.8l-0.4,-0.6z"/>
<path class="q31" d="M109.1,191.0l-2.6,1.6l1.1,2.5l2.5,-1.5z"/>
<path class="q39" d="M175.2,219.3l-1.7,-1.5l-1.2,2.7l1.6,1.4z"/>
<path class="q28" d="M178.9,184.7l-3.7,-2.2l-0.7,2.5l3.6,2.1z"/>
<path class="q18" d="M178.0,146.6l-5.9,-2.8l-0.7,4.3l5.9,2.7z"/>
<path class="q33" d="M177.9,198.7l-2.9,-1.9l-0.8,2.5l2.8,1.9z"/>
<path class="q19" d="M109.0,149.1l-4.8,1.8l1,4l4.7,-1.8z"/>
<path class="q5" d="M121.5,103.3l-7.5,2.2l0.4,2.9l7.4,-2.1z"/>
<path class="q47" d="M168.5,238.8l-0.5,-1.1l-1.4,1.7l0.5,1.1z"/>
<path class="q37" d="M112.2,211.0l-1.3,1.5l1.7,3.2l1.2,-1.5z"/>
<path class="q45" d="M121.2,234.0l0,1.1l1,1.4l0,-1.1z"/>
<path class="q22" d="M107.6,163.3l-4.1,1.8l1,2.9l4,-1.7z"/>
<path class="q16" d="M112.0,134.9l-5.6,1.9l0.9,3.9l5.4,-1.8z"/>
<path class="q42" d="M117.8,227.2l-0.3,1.3l1.6,2.5l0.3,-1.2z"/>
<path class="q12" d="M174.8,124.7l-7.3,-3l-0.3,1.8l7.3,3.1z"/>
<path class="q44" d="M170.9,233.5l-0.8,-1.2l-0.9,1.4l0.8,1.2z"/>
<path class="q36" d="M177.2,208.9l-2.3,-1.8l-1.2,3.3l2.2,1.7z"/>
<path class="q26" d="M107.4,176.6l-3.4,1.7l1.1,2.8l3.3,-1.6z"/>
<path class="q22" d="M179.6,165.6l-4.8,-2.5l-0.6,3l4.7,2.4z"/>
<path class="q11" d="M116.1,120.1l-6.4,1.9l0.3,2l6.4,-2z"/>
<path class="q47" d="M123.3,237.9l0.3,1.1l1.4,1.7l-0.3,-1z"/>
<path class="q34" d="M109.8,200.2l-2,1.6l1.2,2.6l1.9,-1.5z"/>
<path class="q41" d="M174.0,225.7l-1.3,-1.4l-1.3,2.5l1.2,1.4z"/>
<path class="q30" d="M108.1,188.6l-2.7,1.7l1.1,2.3l2.6,-1.6z"/>
<path class="q11" d="M175.1,122.8l-7.4,-3.2l-0.2,2.1l7.3,3z"/>
<path class="q4" d="M121.2,100.6l-7.6,2.2l0.4,2.7l7.5,-2.2z"/>
<path class="q27" d="M179.7,182.1l-3.8,-2.3l-0.7,2.7l3.7,2.2z"/>
<path class="q50" d="M162.7,248.2l0.3,-0.8l-5.1,3.9l-0.2,0.5z"/>
<path class="q39" d="M114.0,218.2l-0.8,1.5l1.5,2.6l0.8,-1.4z"/>
<path class="q32" d="M178.8,196.3l-3,-2l-0.8,2.5l2.9,1.9z"/>
<path class="q44" d="M120.2,232.6l0,1.2l1,1.3l0,-1.1z"/>
<path class="q10" d="M115.8,118.0l-6.5,2l0.4,2l6.4,-1.9z"/>
<path class="q48" d="M167.3,241.5l-0.2,-1l-1.5,1.7l0.3,0.9z"/>
<path class="q46" d="M169.5,237.4l-0.5,-1.2l-1,1.5l0.5,1.1z"/>
<path class="q43" d="M171.9,232.0l-0.8,-1.3l-1,1.6l0.8,1.2z"/>
<path class="q38" d="M176.4,216.9l-1.8,-1.6l-1.1,2.5l1.7,1.5z"/>
<path class="q49" d="M165.9,244.0l0,-0.9l-2.7,2.7l0,0.8z"/>
<path class="q21" d="M106.4,159.2l-4.2,1.8l1.3,4.1l4.1,-1.8z"/>
<path class="q25" d="M106.5,173.8l-3.6,1.7l1.1,2.8l3.4,-1.7z"/>
<path class="q10" d="M175.4,120.8l-7.5,-3.2l-0.2,2l7.4,3.2z"/>
<path class="q18" d="M108.1,144.9l-4.9,1.8l1,4.2l4.8,-1.8z"/>
<path class="q3" d="M120.9,98.5l-7.6,2.3l0.3,2l7.6,-2.2z"/>
<path class="q17" d="M178.7,142.5l-6.1,-2.8l-0.5,4.1l5.9,2.8z"/>
<path class="q50" d="M130.5,247.7l0.8,0.8l4.4,3.6l-0.6,-0.6z"/>
<path class="q36" d="M110.6,207.7l-1.4,1.6l1.7,3.2l1.3,-1.5z"/>
<path class="q21" d="M180.6,161.5l-4.9,-2.5l-0.9,4.1l4.8,2.5z"/>
<path class="q41" d="M116.2,224.7l-0.3,1.4l1.6,2.4l0.3,-1.3z"/>
<path class="q29" d="M107.2,186.2l-2.9,1.7l1.1,2.4l2.7,-1.7z"/>
<path class="q15" d="M111.3,130.7l-5.7,1.9l0.8,4.2l5.6,-1.9z"/>
<path class="q9" d="M115.6,116.3l-6.6,2l0.3,1.7l6.5,-2z"/>
<path class="q48" d="M125.0,240.7l0.4,1l1.4,1.6l-0.4,-0.9z"/>
<path class="q33" d="M108.7,197.7l-2.1,1.6l1.2,2.5l2,-1.6z"/>
<path class="q35" d="M178.5,205.7l-2.4,-1.8l-1.2,3.2l2.3,1.8z"/>
<path class="q46" d="M122.2,236.5l0.3,1.1l1.1,1.4l-0.3,-1.1z"/>
<path class="q49" d="M126.8,243.3l0.6,1l2.4,2.5l-0.5,-0.8z"/>
<path class="q26" d="M180.6,179.2l-3.9,-2.2l-0.8,2.8l3.8,2.3z"/>
<path class="q9" d="M175.7,119.0l-7.5,-3.2l-0.3,1.8l7.5,3.2z"/>
<path class="q43" d="M119.1,231.0l0.1,1.3l1,1.5l0,-1.2z"/>
<path class="q31" d="M179.7,193.8l-3.1,-2l-0.8,2.5l3,2z"/>
<path class="q40" d="M175.3,223.4l-1.4,-1.5l-1.2,2.4l1.3,1.4z"/>
<path class="q2" d="M120.6,96.0l-7.7,2.3l0.4,2.5l7.6,-2.3z"/>
<path class="q45" d="M170.5,236.1l-0.5,-1.2l-1,1.3l0.5,1.2z"/>
<path class="q8" d="M115.3,114.5l-6.6,2l0.3,1.8l6.6,-2z"/>
<path class="q38" d="M112.6,215.7l-0.9,1.5l1.5,2.5l0.8,-1.5z"/>
<path class="q24" d="M105.5,170.9l-3.7,1.8l1.1,2.8l3.6,-1.7z"/>
<path class="q8" d="M176.0,117.3l-7.6,-3.3l-0.2,1.8l7.5,3.2z"/>
<path class="q50" d="M162.2,249.0l0.5,-0.8l-5,3.6l-0.3,0.5z"/>
<path class="q42" d="M173.5,229.6l-0.9,-1.4l-1.5,2.5l0.8,1.3z"/>
<path class="q28" d="M106.2,183.8l-2.9,1.7l1,2.4l2.9,-1.7z"/>
<path class="q47" d="M168.7,239.8l-0.2,-1l-1.4,1.7l0.2,1z"/>
<path class="q37" d="M177.8,213.8l-1.9,-1.7l-1.3,3.2l1.8,1.6z"/>
<path class="q32" d="M107.6,195.1l-2.2,1.7l1.2,2.5l2.1,-1.6z"/>
<path class="q20" d="M105.2,154.9l-4.4,1.8l1.4,4.3l4.2,-1.8z"/>
<path class="q45" d="M121.2,235.1l0.3,1.2l1,1.3l-0.3,-1.1z"/>
<path class="q1" d="M120.3,93.5l-7.7,2.4l0.3,2.4l7.7,-2.3z"/>
<path class="q25" d="M181.4,176.6l-4,-2.4l-0.7,2.8l3.9,2.2z"/>
<path class="q14" d="M110.7,127.5l-5.8,1.9l0.7,3.2l5.7,-1.9z"/>
<path class="q7" d="M114.9,111.6l-6.8,2l0.6,2.9l6.6,-2z"/>
<path class="q40" d="M114.7,222.3l-0.3,1.5l1.5,2.3l0.3,-1.4z"/>
<path class="q30" d="M180.5,191.5l-3.1,-2.1l-0.8,2.4l3.1,2z"/>
<path class="q17" d="M107.3,140.7l-5.1,1.9l1,4.1l4.9,-1.8z"/>
<path class="q16" d="M179.4,138.6l-6.2,-2.9l-0.6,4l6.1,2.8z"/>
<path class="q35" d="M109.0,204.4l-1.5,1.7l1.7,3.2l1.4,-1.6z"/>
<path class="q7" d="M176.4,114.4l-7.7,-3.4l-0.3,3l7.6,3.3z"/>
<path class="q47" d="M123.6,239.0l0.5,1.1l1.3,1.6l-0.4,-1z"/>
<path class="q44" d="M171.5,234.7l-0.6,-1.2l-0.9,1.4l0.5,1.2z"/>
<path class="q20" d="M181.6,157.4l-5.1,-2.7l-0.8,4.3l4.9,2.5z"/>
<path class="q34" d="M179.6,203.0l-2.6,-1.8l-0.9,2.7l2.4,1.8z"/>
<path class="q50" d="M131.3,248.5l1.1,0.9l4,3.2l-0.7,-0.5z"/>
<path class="q42" d="M117.5,228.5l0,1.4l1.7,2.4l-0.1,-1.3z"/>
<path class="q23" d="M104.5,168.0l-3.8,1.8l1.1,2.9l3.7,-1.8z"/>
<path class="q49" d="M165.7,245.0l0.2,-1l-2.7,2.6l-0.2,0.8z"/>
<path class="q48" d="M167.3,242.5l0,-1l-1.4,1.6l0,0.9z"/>
<path class="q27" d="M105.1,181.1l-3,1.8l1.2,2.6l2.9,-1.7z"/>
<path class="q39" d="M176.7,220.9l-1.5,-1.6l-1.3,2.6l1.4,1.5z"/>
<path class="q0" d="M120.0,91.0l-7.8,2.5l0.4,2.4l7.7,-2.4z"/>
<path class="q37" d="M110.9,212.5l-0.9,1.7l1.7,3l0.9,-1.5z"/>
<path class="q31" d="M106.5,192.6l-2.3,1.7l1.2,2.5l2.2,-1.7z"/>
<path class="q46" d="M169.8,238.5l-0.3,-1.1l-1,1.4l0.2,1z"/>
<path class="q13" d="M110.4,125.8l-5.9,1.9l0.4,1.7l5.8,-1.9z"/>
<path class="q44" d="M120.2,233.8l0.3,1.2l1,1.3l-0.3,-1.2z"/>
<path class="q50" d="M161.6,249.7l0.6,-0.7l-4.8,3.3l-0.5,0.6z"/>
<path class="q24" d="M182.2,173.8l-4.1,-2.4l-0.7,2.8l4,2.4z"/>
<path class="q49" d="M127.4,244.3l0.8,1l2.3,2.4l-0.7,-0.9z"/>
<path class="q29" d="M181.4,189.2l-3.3,-2.1l-0.7,2.3l3.1,2.1z"/>
<path class="q6" d="M176.9,111.2l-7.8,-3.5l-0.4,3.3l7.7,3.4z"/>
<path class="q6" d="M114.4,108.4l-6.8,2.1l0.5,3.1l6.8,-2z"/>
<path class="q48" d="M125.4,241.7l0.7,1l1.3,1.6l-0.6,-1z"/>
<path class="q41" d="M175.0,227.2l-1,-1.5l-1.4,2.5l0.9,1.4z"/>
<path class="q43" d="M172.6,233.3l-0.7,-1.3l-1,1.5l0.6,1.2z"/>
<path class="q19" d="M104.2,150.9l-4.6,1.9l1.2,3.9l4.4,-1.8z"/>
<path class="q36" d="M179.3,210.6l-2.1,-1.7l-1.3,3.2l1.9,1.7z"/>
<path class="q22" d="M103.5,165.1l-3.9,1.8l1.1,2.9l3.8,-1.8z"/>
<path class="q12" d="M110.0,124.0l-5.9,1.9l0.4,1.8l5.9,-1.9z"/>
<path class="q33" d="M180.5,200.6l-2.6,-1.9l-0.9,2.5l2.6,1.8z"/>
<path class="q26" d="M104.0,178.3l-3.2,1.7l1.3,2.9l3,-1.8z"/>
<path class="q39" d="M113.2,219.7l-0.4,1.5l1.6,2.6l0.3,-1.5z"/>
<path class="q46" d="M122.5,237.6l0.5,1.2l1.1,1.3l-0.5,-1.1z"/>
<path class="q34" d="M107.8,201.8l-1.7,1.7l1.4,2.6l1.5,-1.7z"/>
<path class="q16" d="M106.4,136.8l-5.2,1.9l1,3.9l5.1,-1.9z"/>
<path class="q15" d="M180.1,134.5l-6.3,-3l-0.6,4.2l6.2,2.9z"/>
<path class="q19" d="M182.5,153.5l-5.2,-2.7l-0.8,3.9l5.1,2.7z"/>
<path class="q30" d="M105.4,190.3l-2.4,1.7l1.2,2.3l2.3,-1.7z"/>
<path class="q41" d="M115.9,226.1l0,1.4l1.6,2.4l0,-1.4z"/>
<path class="q5" d="M177.3,108.3l-7.8,-3.7l-0.4,3.1l7.8,3.5z"/>
<path class="q45" d="M170.8,237.2l-0.3,-1.1l-1,1.3l0.3,1.1z"/>
<path class="q43" d="M119.2,232.3l0.3,1.3l1,1.4l-0.3,-1.2z"/>
<path class="q50" d="M132.4,249.4l1.2,0.8l3.7,3l-0.9,-0.6z"/>
<path class="q38" d="M178.0,218.5l-1.6,-1.6l-1.2,2.4l1.5,1.6z"/>
<path class="q28" d="M182.2,186.8l-3.3,-2.1l-0.8,2.4l3.3,2.1z"/>
<path class="q47" d="M168.7,240.9l0,-1.1l-1.4,1.7l0,1z"/>
<path class="q5" d="M114.0,105.5l-6.9,2.1l0.5,2.9l6.8,-2.1z"/>
<path class="q11" d="M109.7,122.0l-6,2l0.4,1.9l5.9,-1.9z"/>
<path class="q23" d="M183.1,170.9l-4.2,-2.4l-0.8,2.9l4.1,2.4z"/>
<path class="q49" d="M165.3,245.9l0.4,-0.9l-2.7,2.4l-0.3,0.8z"/>
<path class="q36" d="M109.2,209.3l-1,1.7l1.8,3.2l0.9,-1.7z"/>
<path class="q50" d="M160.7,250.4l0.9,-0.7l-4.7,3.2l-0.5,0.5z"/>
<path class="q25" d="M102.9,175.5l-3.2,1.8l1.1,2.7l3.2,-1.7z"/>
<path class="q40" d="M176.4,224.9l-1.1,-1.5l-1.3,2.3l1,1.5z"/>
<path class="q32" d="M181.5,198.2l-2.7,-1.9l-0.9,2.4l2.6,1.9z"/>
<path class="q21" d="M102.2,161.0l-4.1,1.8l1.5,4.1l3.9,-1.8z"/>
<path class="q45" d="M121.5,236.3l0.6,1.2l0.9,1.3l-0.5,-1.2z"/>
<path class="q42" d="M174.2,230.9l-0.7,-1.3l-1.6,2.4l0.7,1.3z"/>
<path class="q47" d="M124.1,240.1l0.7,1.1l1.3,1.5l-0.7,-1z"/>
<path class="q4" d="M177.7,105.7l-7.9,-3.8l-0.3,2.7l7.8,3.7z"/>
<path class="q48" d="M167.1,243.5l0.2,-1l-1.4,1.5l-0.2,1z"/>
<path class="q33" d="M106.6,199.3l-1.7,1.8l1.2,2.4l1.7,-1.7z"/>
<path class="q29" d="M104.3,187.9l-2.4,1.8l1.1,2.3l2.4,-1.7z"/>
<path class="q10" d="M109.3,120.0l-6.1,2l0.5,2l6,-2z"/>
<path class="q18" d="M103.2,146.7l-4.8,1.9l1.2,4.2l4.6,-1.9z"/>
<path class="q38" d="M111.7,217.2l-0.4,1.6l1.5,2.4l0.4,-1.5z"/>
<path class="q4" d="M113.6,102.8l-7,2.2l0.5,2.6l6.9,-2.1z"/>
<path class="q14" d="M180.7,131.3l-6.4,-3l-0.5,3.2l6.3,3z"/>
<path class="q27" d="M183.1,184.3l-3.4,-2.2l-0.8,2.6l3.3,2.1z"/>
<path class="q35" d="M180.7,207.5l-2.2,-1.8l-1.3,3.2l2.1,1.7z"/>
<path class="q44" d="M171.8,236.0l-0.3,-1.3l-1,1.4l0.3,1.1z"/>
<path class="q49" d="M128.2,245.3l1,0.9l2.1,2.3l-0.8,-0.8z"/>
<path class="q15" d="M105.6,132.6l-5.4,2l1,4.1l5.2,-1.9z"/>
<path class="q22" d="M183.9,168.1l-4.3,-2.5l-0.7,2.9l4.2,2.4z"/>
<path class="q3" d="M178.0,103.6l-7.9,-3.8l-0.3,2.1l7.9,3.8z"/>
<path class="q9" d="M109.0,118.3l-6.2,2l0.4,1.7l6.1,-2z"/>
<path class="q48" d="M126.1,242.7l0.8,1.1l1.3,1.5l-0.8,-1z"/>
<path class="q42" d="M117.5,229.9l0.4,1.3l1.6,2.4l-0.3,-1.3z"/>
<path class="q18" d="M183.3,149.4l-5.3,-2.8l-0.7,4.2l5.2,2.7z"/>
<path class="q46" d="M169.8,239.6l0,-1.1l-1.1,1.3l0,1.1z"/>
<path class="q40" d="M114.4,223.8l0,1.5l1.5,2.2l0,-1.4z"/>
<path class="q24" d="M101.8,172.7l-3.4,1.8l1.3,2.8l3.2,-1.8z"/>
<path class="q37" d="M179.5,215.5l-1.7,-1.7l-1.4,3.1l1.6,1.6z"/>
<path class="q50" d="M133.6,250.2l1.4,0.8l3.3,2.8l-1,-0.6z"/>
<path class="q28" d="M103.3,185.5l-2.6,1.8l1.2,2.4l2.4,-1.8z"/>
<path class="q44" d="M120.5,235.0l0.6,1.3l1,1.2l-0.6,-1.2z"/>
<path class="q3" d="M113.3,100.8l-7,2.1l0.3,2.1l7,-2.2z"/>
<path class="q31" d="M182.5,195.8l-2.8,-2l-0.9,2.5l2.7,1.9z"/>
<path class="q50" d="M159.7,251.1l1,-0.7l-4.3,3l-0.7,0.4z"/>
<path class="q32" d="M105.4,196.8l-1.8,1.8l1.3,2.5l1.7,-1.8z"/>
<path class="q13" d="M181.0,129.7l-6.5,-3.1l-0.2,1.7l6.4,3z"/>
<path class="q2" d="M178.4,101.2l-7.9,-4l-0.4,2.6l7.9,3.8z"/>
<path class="q8" d="M108.7,116.5l-6.2,2l0.3,1.8l6.2,-2z"/>
<path class="q35" d="M107.5,206.1l-1,1.7l1.7,3.2l1,-1.7z"/>
<path class="q46" d="M123.0,238.8l0.8,1.1l1,1.3l-0.7,-1.1z"/>
<path class="q20" d="M100.8,156.7l-4.2,1.9l1.5,4.2l4.1,-1.8z"/>
<path class="q39" d="M177.9,222.4l-1.2,-1.5l-1.4,2.5l1.1,1.5z"/>
<path class="q26" d="M184.1,181.5l-3.5,-2.3l-0.9,2.9l3.4,2.2z"/>
<path class="q43" d="M172.9,234.6l-0.3,-1.3l-1.1,1.4l0.3,1.3z"/>
<path class="q49" d="M164.7,246.7l0.6,-0.8l-2.6,2.3l-0.5,0.8z"/>
<path class="q41" d="M175.7,228.6l-0.7,-1.4l-1.5,2.4l0.7,1.3z"/>
<path class="q47" d="M168.5,242.0l0.2,-1.1l-1.4,1.6l-0.2,1z"/>
<path class="q2" d="M112.9,98.3l-7.1,2.2l0.5,2.4l7,-2.1z"/>
<path class="q17" d="M102.2,142.6l-4.9,1.9l1.1,4.1l4.8,-1.9z"/>
<path class="q12" d="M181.3,127.9l-6.5,-3.2l-0.3,1.9l6.5,3.1z"/>
<path class="q14" d="M104.9,129.4l-5.6,2l0.9,3.2l5.4,-2z"/>
<path class="q37" d="M110.0,214.2l-0.5,1.6l1.8,3l0.4,-1.6z"/>
<path class="q34" d="M181.8,204.9l-2.2,-1.9l-1.1,2.7l2.2,1.8z"/>
<path class="q1" d="M178.8,98.7l-8,-4.1l-0.3,2.6l7.9,4z"/>
<path class="q21" d="M185.0,164.1l-4.4,-2.6l-1,4.1l4.3,2.5z"/>
<path class="q23" d="M100.7,169.8l-3.5,1.9l1.2,2.8l3.4,-1.8z"/>
<path class="q45" d="M170.8,238.4l0,-1.2l-1,1.3l0,1.1z"/>
<path class="q27" d="M102.1,182.9l-2.7,1.8l1.3,2.6l2.6,-1.8z"/>
<path class="q7" d="M108.1,113.6l-6.2,2.1l0.6,2.8l6.2,-2z"/>
<path class="q30" d="M183.4,193.5l-2.9,-2l-0.8,2.3l2.8,2z"/>
<path class="q48" d="M166.7,244.4l0.4,-0.9l-1.4,1.5l-0.4,0.9z"/>
<path class="q43" d="M119.5,233.6l0.6,1.2l1,1.5l-0.6,-1.3z"/>
<path class="q31" d="M104.2,194.3l-1.9,1.9l1.3,2.4l1.8,-1.8z"/>
<path class="q39" d="M112.8,221.2l0.1,1.6l1.5,2.5l0,-1.5z"/>
<path class="q17" d="M184.2,145.3l-5.5,-2.8l-0.7,4.1l5.3,2.8z"/>
<path class="q50" d="M158.6,251.7l1.1,-0.6l-4,2.7l-0.8,0.5z"/>
<path class="q47" d="M124.8,241.2l0.9,1.1l1.2,1.5l-0.8,-1.1z"/>
<path class="q11" d="M181.7,125.9l-6.6,-3.1l-0.3,1.9l6.5,3.2z"/>
<path class="q41" d="M115.9,227.5l0.4,1.4l1.6,2.3l-0.4,-1.3z"/>
<path class="q0" d="M179.2,96.3l-8.1,-4.2l-0.3,2.5l8,4.1z"/>
<path class="q50" d="M135.0,251.0l1.6,0.8l2.8,2.5l-1.1,-0.5z"/>
<path class="q49" d="M129.2,246.2l1.1,1l2.1,2.2l-1.1,-0.9z"/>
<path class="q25" d="M185.0,178.9l-3.6,-2.3l-0.8,2.6l3.5,2.3z"/>
<path class="q1" d="M112.6,95.9l-7.2,2.2l0.4,2.4l7.1,-2.2z"/>
<path class="q45" d="M122.1,237.5l0.8,1.2l0.9,1.2l-0.8,-1.1z"/>
<path class="q36" d="M181.1,212.4l-1.8,-1.8l-1.5,3.2l1.7,1.7z"/>
<path class="q13" d="M104.5,127.7l-5.6,2l0.4,1.7l5.6,-2z"/>
<path class="q34" d="M106.1,203.5l-1.1,1.8l1.5,2.5l1,-1.7z"/>
<path class="q19" d="M99.6,152.8l-4.4,1.9l1.4,3.9l4.2,-1.9z"/>
<path class="q22" d="M99.6,166.9l-3.6,1.9l1.2,2.9l3.5,-1.9z"/>
<path class="q38" d="M179.2,220.1l-1.2,-1.6l-1.3,2.4l1.2,1.5z"/>
<path class="q48" d="M126.9,243.8l1.1,1l1.2,1.4l-1,-0.9z"/>
<path class="q42" d="M174.6,232.3l-0.4,-1.4l-1.6,2.4l0.3,1.3z"/>
<path class="q26" d="M100.8,180.0l-2.8,2l1.4,2.7l2.7,-1.8z"/>
<path class="q44" d="M171.8,237.2l0,-1.2l-1,1.2l0,1.2z"/>
<path class="q6" d="M107.6,110.5l-6.4,2l0.7,3.2l6.2,-2.1z"/>
<path class="q10" d="M182.1,124.0l-6.7,-3.2l-0.3,2l6.6,3.1z"/>
<path class="q33" d="M182.9,202.6l-2.4,-2l-0.9,2.4l2.2,1.9z"/>
<path class="q29" d="M184.3,191.3l-2.9,-2.1l-0.9,2.3l2.9,2z"/>
<path class="q46" d="M169.6,240.7l0.2,-1.1l-1.1,1.3l-0.2,1.1z"/>
<path class="q12" d="M104.1,125.9l-5.6,2l0.4,1.8l5.6,-2z"/>
<path class="q30" d="M103.0,192.0l-1.9,1.9l1.2,2.3l1.9,-1.9z"/>
<path class="q40" d="M177.2,226.4l-0.8,-1.5l-1.4,2.3l0.7,1.4z"/>
<path class="q16" d="M101.2,138.7l-5,1.9l1.1,3.9l4.9,-1.9z"/>
<path class="q0" d="M112.2,93.5l-7.2,2.2l0.4,2.4l7.2,-2.2z"/>
<path class="q49" d="M163.9,247.6l0.8,-0.9l-2.5,2.3l-0.6,0.7z"/>
<path class="q20" d="M186.2,160.0l-4.6,-2.6l-1,4.1l4.4,2.6z"/>
<path class="q36" d="M108.2,211.0l-0.5,1.8l1.8,3l0.5,-1.6z"/>
<path class="q50" d="M157.2,252.3l1.4,-0.6l-3.7,2.6l-1,0.4z"/>
<path class="q24" d="M185.9,176.1l-3.7,-2.3l-0.8,2.8l3.6,2.3z"/>
<path class="q42" d="M117.9,231.2l0.6,1.4l1.6,2.2l-0.6,-1.2z"/>
<path class="q9" d="M182.4,122.3l-6.7,-3.3l-0.3,1.8l6.7,3.2z"/>
<path class="q44" d="M121.1,236.3l0.9,1.2l0.9,1.2l-0.8,-1.2z"/>
<path class="q38" d="M111.3,218.8l0.1,1.7l1.5,2.3l-0.1,-1.6z"/>
<path class="q50" d="M136.6,251.8l1.9,0.7l2.2,2.3l-1.3,-0.5z"/>
<path class="q11" d="M103.7,124.0l-5.7,2l0.5,1.9l5.6,-2z"/>
<path class="q46" d="M123.8,239.9l0.9,1.2l1,1.2l-0.9,-1.1z"/>
<path class="q47" d="M168.0,243.0l0.5,-1l-1.4,1.5l-0.4,0.9z"/>
<path class="q16" d="M185.0,141.5l-5.6,-2.9l-0.7,3.9l5.5,2.8z"/>
<path class="q25" d="M99.7,177.3l-3,2l1.3,2.7l2.8,-2z"/>
<path class="q40" d="M114.4,225.3l0.5,1.5l1.4,2.1l-0.4,-1.4z"/>
<path class="q33" d="M104.9,201.1l-1.2,1.8l1.3,2.4l1.1,-1.8z"/>
<path class="q5" d="M107.1,107.6l-6.5,2l0.6,2.9l6.4,-2z"/>
<path class="q28" d="M185.3,189.0l-3.1,-2.2l-0.8,2.4l2.9,2.1z"/>
<path class="q21" d="M98.1,162.8l-3.8,2l1.7,4l3.6,-1.9z"/>
<path class="q48" d="M166.0,245.4l0.7,-1l-1.4,1.5l-0.6,0.8z"/>
<path class="q29" d="M101.9,189.7l-2.1,1.9l1.3,2.3l1.9,-1.9z"/>
<path class="q43" d="M172.9,235.8l0,-1.2l-1.1,1.4l0,1.2z"/>
<path class="q32" d="M183.9,200.2l-2.4,-2l-1,2.4l2.4,2z"/>
<path class="q8" d="M182.7,120.5l-6.7,-3.2l-0.3,1.7l6.7,3.3z"/>
<path class="q35" d="M182.6,209.3l-1.9,-1.8l-1.4,3.1l1.8,1.8z"/>
<path class="q45" d="M170.6,239.6l0.2,-1.2l-1,1.2l-0.2,1.1z"/>
<path class="q18" d="M98.4,148.6l-4.5,2l1.3,4.1l4.4,-1.9z"/>
<path class="q49" d="M130.3,247.2l1.4,0.9l1.9,2.1l-1.2,-0.8z"/>
<path class="q10" d="M103.2,122.0l-5.8,2l0.6,2l5.7,-2z"/>
<path class="q37" d="M180.9,217.2l-1.4,-1.7l-1.5,3l1.2,1.6z"/>
<path class="q50" d="M155.7,252.9l1.5,-0.6l-3.3,2.4l-1.1,0.4z"/>
<path class="q47" d="M125.7,242.3l1.1,1.1l1.2,1.4l-1.1,-1z"/>
<path class="q41" d="M176.1,230.1l-0.4,-1.5l-1.5,2.3l0.4,1.4z"/>
<path class="q15" d="M100.2,134.6l-5.2,1.9l1.2,4.1l5,-1.9z"/>
<path class="q23" d="M186.9,173.3l-3.8,-2.4l-0.9,2.9l3.7,2.3z"/>
<path class="q39" d="M178.7,224.0l-0.8,-1.6l-1.5,2.5l0.8,1.5z"/>
<path class="q43" d="M120.1,234.8l0.9,1.3l1,1.4l-0.9,-1.2z"/>
<path class="q4" d="M106.6,105.0l-6.6,2.1l0.6,2.5l6.5,-2z"/>
<path class="q7" d="M183.2,117.7l-6.8,-3.3l-0.4,2.9l6.7,3.2z"/>
<path class="q49" d="M163.0,248.4l0.9,-0.8l-2.3,2.1l-0.9,0.7z"/>
<path class="q19" d="M187.2,156.1l-4.7,-2.6l-0.9,3.9l4.6,2.6z"/>
<path class="q50" d="M138.5,252.5l2,0.6l1.7,2.1l-1.5,-0.4z"/>
<path class="q24" d="M98.4,174.5l-3,2l1.3,2.8l3,-2z"/>
<path class="q9" d="M102.8,120.3l-5.8,2l0.4,1.7l5.8,-2z"/>
<path class="q48" d="M128.0,244.8l1.2,1l1.1,1.4l-1.1,-1z"/>
<path class="q28" d="M100.7,187.3l-2.2,2l1.3,2.3l2.1,-1.9z"/>
<path class="q27" d="M186.3,186.5l-3.2,-2.2l-0.9,2.5l3.1,2.2z"/>
<path class="q45" d="M122.9,238.7l1,1.2l0.8,1.2l-0.9,-1.2z"/>
<path class="q32" d="M103.6,198.6l-1.2,1.9l1.3,2.4l1.2,-1.8z"/>
<path class="q35" d="M106.5,207.8l-0.5,1.9l1.7,3.1l0.5,-1.8z"/>
<path class="q31" d="M185.0,197.8l-2.5,-2l-1,2.4l2.4,2z"/>
<path class="q37" d="M109.5,215.8l0.1,1.7l1.8,3l-0.1,-1.7z"/>
<path class="q46" d="M169.1,241.8l0.5,-1.1l-1.1,1.3l-0.5,1z"/>
<path class="q41" d="M116.3,228.9l0.7,1.5l1.5,2.2l-0.6,-1.4z"/>
<path class="q15" d="M185.8,137.4l-5.7,-2.9l-0.7,4.1l5.6,2.9z"/>
<path class="q50" d="M153.9,253.3l1.8,-0.4l-2.9,2.2l-1.2,0.3z"/>
<path class="q44" d="M171.6,238.4l0.2,-1.2l-1,1.2l-0.2,1.2z"/>
<path class="q39" d="M112.9,222.8l0.4,1.6l1.6,2.4l-0.5,-1.5z"/>
<path class="q20" d="M96.6,158.6l-4.1,2l1.8,4.2l3.8,-2z"/>
<path class="q8" d="M102.5,118.5l-5.9,2l0.4,1.8l5.8,-2z"/>
<path class="q3" d="M106.3,102.9l-6.7,2.1l0.4,2.1l6.6,-2.1z"/>
<path class="q42" d="M174.6,233.6l0,-1.3l-1.7,2.3l0,1.2z"/>
<path class="q34" d="M183.8,206.8l-2,-1.9l-1.1,2.6l1.9,1.8z"/>
<path class="q22" d="M187.8,170.5l-3.9,-2.4l-0.8,2.8l3.8,2.4z"/>
<path class="q17" d="M97.3,144.5l-4.7,2l1.3,4.1l4.5,-2z"/>
<path class="q6" d="M183.8,114.6l-6.9,-3.4l-0.5,3.2l6.8,3.3z"/>
<path class="q50" d="M140.5,253.1l2.3,0.5l1,2l-1.6,-0.4z"/>
<path class="q47" d="M167.3,244.0l0.7,-1l-1.3,1.4l-0.7,1z"/>
<path class="q14" d="M99.3,131.4l-5.3,1.9l1,3.2l5.2,-1.9z"/>
<path class="q48" d="M165.2,246.3l0.8,-0.9l-1.3,1.3l-0.8,0.9z"/>
<path class="q23" d="M97.2,171.7l-3.2,2l1.4,2.8l3,-2z"/>
<path class="q27" d="M99.4,184.7l-2.3,2.1l1.4,2.5l2.2,-2z"/>
<path class="q26" d="M187.4,183.7l-3.3,-2.2l-1,2.8l3.2,2.2z"/>
<path class="q46" d="M124.7,241.1l1.2,1.1l0.9,1.2l-1.1,-1.1z"/>
<path class="q31" d="M102.3,196.2l-1.3,2l1.4,2.3l1.2,-1.9z"/>
<path class="q50" d="M152.0,253.7l1.9,-0.4l-2.3,2.1l-1.4,0.3z"/>
<path class="q49" d="M131.7,248.1l1.6,1l1.7,1.9l-1.4,-0.8z"/>
<path class="q44" d="M122.0,237.5l1,1.2l0.9,1.2l-1,-1.2z"/>
<path class="q36" d="M182.5,214.2l-1.4,-1.8l-1.6,3.1l1.4,1.7z"/>
<path class="q40" d="M177.6,228.0l-0.4,-1.6l-1.5,2.2l0.4,1.5z"/>
<path class="q38" d="M180.1,221.8l-0.9,-1.7l-1.3,2.3l0.8,1.6z"/>
<path class="q7" d="M101.9,115.7l-6.1,2l0.8,2.8l5.9,-2z"/>
<path class="q2" d="M105.8,100.5l-6.7,2.1l0.5,2.4l6.7,-2.1z"/>
<path class="q30" d="M186.0,195.6l-2.6,-2.1l-0.9,2.3l2.5,2z"/>
<path class="q42" d="M118.5,232.6l1,1.4l1.5,2.1l-0.9,-1.3z"/>
<path class="q49" d="M161.8,249.1l1.2,-0.7l-2.3,2l-1,0.7z"/>
<path class="q18" d="M188.2,152.1l-4.9,-2.7l-0.8,4.1l4.7,2.6z"/>
<path class="q50" d="M142.8,253.6l2.3,0.3l0.3,1.9l-1.6,-0.2z"/>
<path class="q34" d="M105.0,205.3l-0.5,1.9l1.5,2.5l0.5,-1.9z"/>
<path class="q45" d="M170.1,240.7l0.5,-1.1l-1,1.1l-0.5,1.1z"/>
<path class="q13" d="M98.9,129.7l-5.4,2l0.5,1.6l5.3,-1.9z"/>
<path class="q14" d="M186.5,134.3l-5.8,-3l-0.6,3.2l5.7,2.9z"/>
<path class="q43" d="M172.6,237.1l0.3,-1.3l-1.1,1.4l-0.2,1.2z"/>
<path class="q50" d="M149.8,254.0l2.2,-0.3l-1.8,2l-1.5,0.1z"/>
<path class="q5" d="M184.3,111.8l-7,-3.5l-0.4,2.9l6.9,3.4z"/>
<path class="q47" d="M126.8,243.4l1.4,1.1l1,1.3l-1.2,-1z"/>
<path class="q50" d="M145.1,253.9l2.4,0.1l-0.4,1.9l-1.7,-0.1z"/>
<path class="q19" d="M95.2,154.7l-4.2,2l1.5,3.9l4.1,-2z"/>
<path class="q50" d="M147.5,254.0l2.3,0l-1.1,1.8l-1.6,0.1z"/>
<path class="q22" d="M96.0,168.8l-3.4,2.1l1.4,2.8l3.2,-2z"/>
<path class="q33" d="M184.9,204.5l-2,-1.9l-1.1,2.3l2,1.9z"/>
<path class="q40" d="M114.9,226.8l0.8,1.5l1.3,2.1l-0.7,-1.5z"/>
<path class="q26" d="M98.0,182.0l-2.4,2l1.5,2.8l2.3,-2.1z"/>
<path class="q1" d="M105.4,98.1l-6.8,2.1l0.5,2.4l6.7,-2.1z"/>
<path class="q48" d="M129.2,245.8l1.5,1.1l1,1.2l-1.4,-0.9z"/>
<path class="q21" d="M189.1,166.6l-4.1,-2.5l-1.1,4l3.9,2.4z"/>
<path class="q38" d="M111.4,220.5l0.5,1.6l1.4,2.3l-0.4,-1.6z"/>
<path class="q36" d="M107.7,212.8l0.1,1.8l1.8,2.9l-0.1,-1.7z"/>
<path class="q30" d="M101.1,193.9l-1.4,2l1.3,2.3l1.3,-2z"/>
<path class="q6" d="M101.2,112.5l-6.2,2l0.8,3.2l6.1,-2z"/>
<path class="q25" d="M188.4,181.2l-3.4,-2.3l-0.9,2.6l3.3,2.2z"/>
<path class="q12" d="M98.5,127.9l-5.5,2l0.5,1.8l5.4,-2z"/>
<path class="q16" d="M96.2,140.6l-4.9,2l1.3,3.9l4.7,-2z"/>
<path class="q29" d="M187.0,193.4l-2.7,-2.1l-0.9,2.2l2.6,2.1z"/>
<path class="q43" d="M121.0,236.1l1.1,1.3l0.9,1.3l-1,-1.2z"/>
<path class="q45" d="M123.9,239.9l1.2,1.2l0.8,1.1l-1.2,-1.1z"/>
<path class="q46" d="M168.4,242.8l0.7,-1l-1.1,1.2l-0.7,1z"/>
<path class="q41" d="M176.2,231.5l-0.1,-1.4l-1.5,2.2l0,1.3z"/>
<path class="q13" d="M186.8,132.7l-5.8,-3l-0.3,1.6l5.8,3z"/>
<path class="q48" d="M164.2,247.1l1,-0.8l-1.3,1.3l-0.9,0.8z"/>
<path class="q4" d="M184.7,109.2l-7,-3.5l-0.4,2.6l7,3.5z"/>
<path class="q47" d="M166.4,244.9l0.9,-0.9l-1.3,1.4l-0.8,0.9z"/>
<path class="q0" d="M105.0,95.7l-6.9,2.2l0.5,2.3l6.8,-2.1z"/>
<path class="q44" d="M171.0,239.5l0.6,-1.1l-1,1.2l-0.5,1.1z"/>
<path class="q33" d="M103.7,202.9l-0.5,2l1.3,2.3l0.5,-1.9z"/>
<path class="q11" d="M98.0,126.0l-5.6,2l0.6,1.9l5.5,-2z"/>
<path class="q49" d="M160.4,249.9l1.4,-0.8l-2.1,2l-1.1,0.6z"/>
<path class="q39" d="M179.2,225.6l-0.5,-1.6l-1.5,2.4l0.4,1.6z"/>
<path class="q37" d="M181.9,218.9l-1,-1.7l-1.7,2.9l0.9,1.7z"/>
<path class="q49" d="M133.3,249.1l1.9,0.9l1.4,1.8l-1.6,-0.8z"/>
<path class="q35" d="M184.1,211.2l-1.5,-1.9l-1.5,3.1l1.4,1.8z"/>
<path class="q25" d="M96.7,179.3l-2.5,2.1l1.4,2.6l2.4,-2z"/>
<path class="q17" d="M189.1,148.1l-4.9,-2.8l-0.9,4.1l4.9,2.7z"/>
<path class="q12" d="M187.2,130.9l-5.9,-3l-0.3,1.8l5.8,3z"/>
<path class="q29" d="M99.8,191.6l-1.4,2.1l1.3,2.2l1.4,-2z"/>
<path class="q32" d="M186.1,202.2l-2.2,-2l-1,2.4l2,1.9z"/>
<path class="q5" d="M100.6,109.6l-6.3,2.1l0.7,2.8l6.2,-2z"/>
<path class="q21" d="M94.3,164.8l-3.6,2.1l1.9,4l3.4,-2.1z"/>
<path class="q41" d="M117.0,230.4l1.1,1.4l1.4,2.2l-1,-1.4z"/>
<path class="q42" d="M174.3,235.0l0.3,-1.4l-1.7,2.2l-0.3,1.3z"/>
<path class="q24" d="M189.4,178.5l-3.5,-2.4l-0.9,2.8l3.4,2.3z"/>
<path class="q3" d="M185.1,107.2l-7.1,-3.6l-0.3,2.1l7,3.5z"/>
<path class="q28" d="M188.0,191.1l-2.7,-2.1l-1,2.3l2.7,2.1z"/>
<path class="q46" d="M125.9,242.2l1.4,1.2l0.9,1.1l-1.4,-1.1z"/>
<path class="q18" d="M93.9,150.6l-4.4,2l1.5,4.1l4.2,-2z"/>
<path class="q10" d="M97.4,124.0l-5.6,2l0.6,2l5.6,-2z"/>
<path class="q20" d="M190.4,162.5l-4.2,-2.5l-1.2,4.1l4.1,2.5z"/>
<path class="q39" d="M113.3,224.4l0.9,1.6l1.5,2.3l-0.8,-1.5z"/>
<path class="q44" d="M123.0,238.7l1.3,1.3l0.8,1.1l-1.2,-1.2z"/>
<path class="q15" d="M95.0,136.5l-5.1,2l1.4,4.1l4.9,-2z"/>
<path class="q37" d="M109.6,217.5l0.6,1.8l1.7,2.8l-0.5,-1.6z"/>
<path class="q11" d="M187.6,129.0l-5.9,-3.1l-0.4,2l5.9,3z"/>
<path class="q45" d="M169.3,241.8l0.8,-1.1l-1,1.1l-0.7,1z"/>
<path class="q35" d="M106.0,209.7l0.1,1.9l1.7,3l-0.1,-1.8z"/>
<path class="q47" d="M128.2,244.5l1.5,1.1l1,1.3l-1.5,-1.1z"/>
<path class="q32" d="M102.4,200.5l-0.6,2.1l1.4,2.3l0.5,-2z"/>
<path class="q48" d="M130.7,246.9l1.7,1l0.9,1.2l-1.6,-1z"/>
<path class="q42" d="M119.5,234.0l1.2,1.3l1.4,2.1l-1.1,-1.3z"/>
<path class="q2" d="M185.5,104.8l-7.1,-3.6l-0.4,2.4l7.1,3.6z"/>
<path class="q4" d="M100.0,107.1l-6.3,2l0.6,2.6l6.3,-2.1z"/>
<path class="q9" d="M97.0,122.3l-5.7,2l0.5,1.7l5.6,-2z"/>
<path class="q43" d="M172.1,238.3l0.5,-1.2l-1,1.3l-0.6,1.1z"/>
<path class="q24" d="M95.4,176.5l-2.6,2.2l1.4,2.7l2.5,-2.1z"/>
<path class="q28" d="M98.5,189.3l-1.5,2.1l1.4,2.3l1.4,-2.1z"/>
<path class="q40" d="M177.7,229.4l-0.1,-1.4l-1.5,2.1l0.1,1.4z"/>
<path class="q49" d="M158.9,250.6l1.5,-0.7l-1.8,1.8l-1.4,0.6z"/>
<path class="q48" d="M162.9,247.9l1.3,-0.8l-1.2,1.3l-1.2,0.7z"/>
<path class="q31" d="M187.2,199.9l-2.2,-2.1l-1.1,2.4l2.2,2z"/>
<path class="q10" d="M188.1,127.1l-6,-3.1l-0.4,1.9l5.9,3.1z"/>
<path class="q46" d="M167.4,243.8l1,-1l-1.1,1.2l-0.9,0.9z"/>
<path class="q27" d="M189.2,188.7l-2.9,-2.2l-1,2.5l2.7,2.1z"/>
<path class="q23" d="M190.5,175.7l-3.6,-2.4l-1,2.8l3.5,2.4z"/>
<path class="q34" d="M185.4,208.7l-1.6,-1.9l-1.2,2.5l1.5,1.9z"/>
<path class="q38" d="M180.7,223.4l-0.6,-1.6l-1.4,2.2l0.5,1.6z"/>
<path class="q49" d="M135.2,250.0l2.1,0.8l1.2,1.7l-1.9,-0.7z"/>
<path class="q47" d="M165.3,245.8l1.1,-0.9l-1.2,1.4l-1,0.8z"/>
<path class="q8" d="M96.6,120.5l-5.8,2l0.5,1.8l5.7,-2z"/>
<path class="q16" d="M190.1,144.3l-5.1,-2.8l-0.8,3.8l4.9,2.8z"/>
<path class="q20" d="M92.5,160.6l-3.7,2.2l1.9,4.1l3.6,-2.1z"/>
<path class="q45" d="M125.1,241.1l1.5,1.2l0.7,1.1l-1.4,-1.2z"/>
<path class="q36" d="M183.6,216.0l-1.1,-1.8l-1.6,3l1,1.7z"/>
<path class="q3" d="M99.6,105.0l-6.4,2.1l0.5,2l6.3,-2z"/>
<path class="q1" d="M185.9,102.4l-7.1,-3.7l-0.4,2.5l7.1,3.6z"/>
<path class="q14" d="M94.0,133.3l-5.2,2.1l1.1,3.1l5.1,-2z"/>
<path class="q17" d="M92.6,146.5l-4.6,2.1l1.5,4l4.4,-2z"/>
<path class="q43" d="M122.1,237.4l1.4,1.3l0.8,1.3l-1.3,-1.3z"/>
<path class="q40" d="M115.7,228.3l1.1,1.5l1.3,2l-1.1,-1.4z"/>
<path class="q44" d="M170.2,240.7l0.8,-1.2l-0.9,1.2l-0.8,1.1z"/>
<path class="q9" d="M188.4,125.4l-6,-3.1l-0.3,1.7l6,3.1z"/>
<path class="q27" d="M97.1,186.8l-1.6,2.2l1.5,2.4l1.5,-2.1z"/>
<path class="q31" d="M101.0,198.2l-0.6,2l1.4,2.4l0.6,-2.1z"/>
<path class="q23" d="M94.0,173.7l-2.7,2.2l1.5,2.8l2.6,-2.2z"/>
<path class="q19" d="M191.5,158.8l-4.3,-2.7l-1,3.9l4.2,2.5z"/>
<path class="q41" d="M175.9,232.9l0.3,-1.4l-1.6,2.1l-0.3,1.4z"/>
<path class="q38" d="M111.9,222.1l0.9,1.7l1.4,2.2l-0.9,-1.6z"/>
<path class="q7" d="M95.8,117.7l-5.9,2l0.9,2.8l5.8,-2z"/>
<path class="q34" d="M104.5,207.2l0.1,1.9l1.5,2.5l-0.1,-1.9z"/>
<path class="q49" d="M157.1,251.2l1.8,-0.6l-1.7,1.7l-1.5,0.6z"/>
<path class="q30" d="M188.3,197.7l-2.3,-2.1l-1,2.2l2.2,2.1z"/>
<path class="q2" d="M99.1,102.6l-6.5,2.1l0.6,2.4l6.4,-2.1z"/>
<path class="q0" d="M186.3,100.1l-7.1,-3.8l-0.4,2.4l7.1,3.7z"/>
<path class="q26" d="M190.4,186.0l-3,-2.3l-1.1,2.8l2.9,2.2z"/>
<path class="q22" d="M191.5,173.0l-3.7,-2.5l-0.9,2.8l3.6,2.4z"/>
<path class="q36" d="M107.8,214.6l0.7,1.8l1.7,2.9l-0.6,-1.8z"/>
<path class="q46" d="M127.3,243.4l1.7,1.1l0.7,1.1l-1.5,-1.1z"/>
<path class="q8" d="M188.8,123.7l-6.1,-3.2l-0.3,1.8l6,3.1z"/>
<path class="q13" d="M93.5,131.7l-5.2,2l0.5,1.7l5.2,-2.1z"/>
<path class="q42" d="M173.7,236.2l0.6,-1.2l-1.7,2.1l-0.5,1.2z"/>
<path class="q45" d="M168.3,242.8l1,-1l-0.9,1l-1,1z"/>
<path class="q48" d="M161.5,248.7l1.4,-0.8l-1.1,1.2l-1.4,0.8z"/>
<path class="q33" d="M186.6,206.5l-1.7,-2l-1.1,2.3l1.6,1.9z"/>
<path class="q48" d="M132.4,247.9l2,0.9l0.8,1.2l-1.9,-0.9z"/>
<path class="q39" d="M179.3,227.2l-0.1,-1.6l-1.6,2.4l0.1,1.4z"/>
<path class="q49" d="M137.3,250.8l2.4,0.7l0.8,1.6l-2,-0.6z"/>
<path class="q41" d="M118.1,231.8l1.3,1.4l1.3,2.1l-1.2,-1.3z"/>
<path class="q47" d="M129.7,245.6l1.9,1l0.8,1.3l-1.7,-1z"/>
<path class="q44" d="M124.3,240.0l1.6,1.2l0.7,1.1l-1.5,-1.2z"/>
<path class="q19" d="M91.0,156.7l-3.9,2.2l1.7,3.9l3.7,-2.2z"/>
<path class="q15" d="M191.0,140.3l-5.2,-2.9l-0.8,4.1l5.1,2.8z"/>
<path class="q1" d="M98.6,100.2l-6.6,2.1l0.6,2.4l6.5,-2.1z"/>
<path class="q22" d="M92.6,170.9l-2.9,2.2l1.6,2.8l2.7,-2.2z"/>
<path class="q37" d="M182.4,220.6l-0.5,-1.7l-1.8,2.9l0.6,1.6z"/>
<path class="q26" d="M95.6,184.0l-1.6,2.3l1.5,2.7l1.6,-2.2z"/>
<path class="q12" d="M93.0,129.9l-5.4,2l0.7,1.8l5.2,-2z"/>
<path class="q6" d="M95.0,114.5l-6,2.1l0.9,3.1l5.9,-2z"/>
<path class="q30" d="M99.7,195.9l-0.6,2.2l1.3,2.1l0.6,-2z"/>
<path class="q46" d="M166.2,244.8l1.2,-1l-1,1.1l-1.1,0.9z"/>
<path class="q47" d="M164.0,246.7l1.3,-0.9l-1.1,1.3l-1.3,0.8z"/>
<path class="q16" d="M91.3,142.6l-4.8,2.1l1.5,3.9l4.6,-2.1z"/>
<path class="q43" d="M171.2,239.4l0.9,-1.1l-1.1,1.2l-0.8,1.2z"/>
<path class="q7" d="M189.4,120.9l-6.2,-3.2l-0.5,2.8l6.1,3.2z"/>
<path class="q49" d="M155.1,251.8l2,-0.6l-1.4,1.7l-1.8,0.4z"/>
<path class="q29" d="M189.4,195.5l-2.4,-2.1l-1,2.2l2.3,2.1z"/>
<path class="q35" d="M185.3,213.1l-1.2,-1.9l-1.6,3l1.1,1.8z"/>
<path class="q42" d="M120.7,235.3l1.5,1.4l1.3,2l-1.4,-1.3z"/>
<path class="q39" d="M114.2,226.0l1.2,1.5l1.4,2.3l-1.1,-1.5z"/>
<path class="q33" d="M103.2,204.9l0.1,2l1.3,2.2l-0.1,-1.9z"/>
<path class="q25" d="M191.5,183.5l-3.1,-2.3l-1,2.5l3,2.3z"/>
<path class="q18" d="M192.7,154.8l-4.5,-2.7l-1,4l4.3,2.7z"/>
<path class="q11" d="M92.4,128.0l-5.4,2l0.6,1.9l5.4,-2z"/>
<path class="q21" d="M193.0,169.1l-3.9,-2.5l-1.3,3.9l3.7,2.5z"/>
<path class="q0" d="M98.1,97.9l-6.7,2.1l0.6,2.3l6.6,-2.1z"/>
<path class="q45" d="M126.6,242.3l1.7,1.2l0.7,1l-1.7,-1.1z"/>
<path class="q40" d="M177.3,230.9l0.4,-1.5l-1.5,2.1l-0.3,1.4z"/>
<path class="q37" d="M110.2,219.3l1,1.7l1.6,2.8l-0.9,-1.7z"/>
<path class="q32" d="M187.9,204.2l-1.8,-2l-1.2,2.3l1.7,2z"/>
<path class="q49" d="M139.7,251.5l2.6,0.6l0.5,1.5l-2.3,-0.5z"/>
<path class="q44" d="M169.1,241.7l1.1,-1l-0.9,1.1l-1,1z"/>
<path class="q5" d="M94.3,111.7l-6.1,2l0.8,2.9l6,-2.1z"/>
<path class="q48" d="M159.8,249.5l1.7,-0.8l-1.1,1.2l-1.5,0.7z"/>
<path class="q29" d="M98.4,193.7l-0.7,2.2l1.4,2.2l0.6,-2.2z"/>
<path class="q43" d="M123.5,238.7l1.6,1.3l0.8,1.2l-1.6,-1.2z"/>
<path class="q25" d="M94.2,181.4l-1.7,2.3l1.5,2.6l1.6,-2.3z"/>
<path class="q6" d="M190.0,117.9l-6.2,-3.3l-0.6,3.1l6.2,3.2z"/>
<path class="q49" d="M152.9,252.2l2.2,-0.4l-1.2,1.5l-1.9,0.4z"/>
<path class="q35" d="M106.1,211.6l0.7,1.9l1.7,2.9l-0.7,-1.8z"/>
<path class="q14" d="M191.8,137.2l-5.3,-2.9l-0.7,3.1l5.2,2.9z"/>
<path class="q10" d="M91.8,126.0l-5.5,2.1l0.7,1.9l5.4,-2z"/>
<path class="q21" d="M90.7,166.9l-3.1,2.3l2.1,3.9l2.9,-2.2z"/>
<path class="q28" d="M190.6,193.3l-2.6,-2.2l-1,2.3l2.4,2.1z"/>
<path class="q18" d="M89.5,152.6l-4.2,2.3l1.8,4l3.9,-2.2z"/>
<path class="q48" d="M134.4,248.8l2.3,0.9l0.6,1.1l-2.1,-0.8z"/>
<path class="q38" d="M180.7,225.1l0,-1.7l-1.5,2.2l0.1,1.6z"/>
<path class="q45" d="M167.0,243.8l1.3,-1l-0.9,1l-1.2,1z"/>
<path class="q46" d="M129.0,244.5l1.9,1.1l0.7,1l-1.9,-1z"/>
<path class="q15" d="M89.9,138.5l-4.9,2.2l1.5,4l4.8,-2.1z"/>
<path class="q40" d="M116.8,229.8l1.3,1.5l1.3,1.9l-1.3,-1.4z"/>
<path class="q41" d="M175.2,234.2l0.7,-1.3l-1.6,2.1l-0.6,1.2z"/>
<path class="q24" d="M192.6,180.8l-3.2,-2.3l-1,2.7l3.1,2.3z"/>
<path class="q47" d="M162.4,247.5l1.6,-0.8l-1.1,1.2l-1.4,0.8z"/>
<path class="q49" d="M142.3,252.1l2.7,0.4l0.1,1.4l-2.3,-0.3z"/>
<path class="q32" d="M101.8,202.6l0.2,2.1l1.3,2.2l-0.1,-2z"/>
<path class="q47" d="M131.6,246.6l2.1,1.1l0.7,1.1l-2,-0.9z"/>
<path class="q49" d="M150.4,252.5l2.5,-0.3l-0.9,1.5l-2.2,0.3z"/>
<path class="q46" d="M164.8,245.7l1.4,-0.9l-0.9,1l-1.3,0.9z"/>
<path class="q9" d="M91.3,124.3l-5.6,2.1l0.6,1.7l5.5,-2.1z"/>
<path class="q4" d="M93.7,109.1l-6.3,2.1l0.8,2.5l6.1,-2z"/>
<path class="q42" d="M172.7,237.5l1,-1.3l-1.6,2.1l-0.9,1.1z"/>
<path class="q36" d="M184.2,217.8l-0.6,-1.8l-1.7,2.9l0.5,1.7z"/>
<path class="q34" d="M186.7,210.7l-1.3,-2l-1.3,2.5l1.2,1.9z"/>
<path class="q31" d="M189.1,202.0l-1.9,-2.1l-1.1,2.3l1.8,2z"/>
<path class="q13" d="M192.2,135.6l-5.4,-2.9l-0.3,1.6l5.3,2.9z"/>
<path class="q44" d="M125.9,241.2l1.8,1.2l0.6,1.1l-1.7,-1.2z"/>
<path class="q49" d="M145.0,252.5l2.7,0.1l-0.2,1.4l-2.4,-0.1z"/>
<path class="q28" d="M97.0,191.4l-0.7,2.3l1.4,2.2l0.7,-2.2z"/>
<path class="q49" d="M147.7,252.6l2.7,-0.1l-0.6,1.5l-2.3,0z"/>
<path class="q38" d="M112.8,223.8l1.3,1.6l1.3,2.1l-1.2,-1.5z"/>
<path class="q5" d="M190.6,115.1l-6.3,-3.3l-0.5,2.8l6.2,3.3z"/>
<path class="q17" d="M193.8,150.8l-4.7,-2.7l-0.9,4l4.5,2.7z"/>
<path class="q24" d="M92.8,178.7l-1.9,2.4l1.6,2.6l1.7,-2.3z"/>
<path class="q43" d="M170.1,240.5l1.1,-1.1l-1,1.3l-1.1,1z"/>
<path class="q20" d="M194.4,165.1l-4,-2.6l-1.3,4.1l3.9,2.5z"/>
<path class="q48" d="M157.9,250.2l1.9,-0.7l-0.9,1.1l-1.8,0.6z"/>
<path class="q8" d="M90.8,122.5l-5.7,2.1l0.6,1.8l5.6,-2.1z"/>
<path class="q41" d="M119.4,233.2l1.5,1.5l1.3,2l-1.5,-1.4z"/>
<path class="q27" d="M191.8,190.9l-2.6,-2.2l-1.2,2.4l2.6,2.2z"/>
<path class="q3" d="M93.2,107.1l-6.4,2.1l0.6,2l6.3,-2.1z"/>
<path class="q39" d="M178.9,228.7l0.4,-1.5l-1.6,2.2l-0.4,1.5z"/>
<path class="q12" d="M192.7,133.9l-5.5,-3l-0.4,1.8l5.4,2.9z"/>
<path class="q14" d="M88.8,135.4l-5.1,2.2l1.3,3.1l4.9,-2.2z"/>
<path class="q36" d="M108.5,216.4l1,1.8l1.7,2.8l-1,-1.7z"/>
<path class="q20" d="M88.8,162.8l-3.3,2.4l2.1,4l3.1,-2.3z"/>
<path class="q23" d="M193.8,178.1l-3.3,-2.4l-1.1,2.8l3.2,2.3z"/>
<path class="q44" d="M167.8,242.7l1.3,-1l-0.8,1.1l-1.3,1z"/>
<path class="q34" d="M104.6,209.1l0.8,2l1.4,2.4l-0.7,-1.9z"/>
<path class="q17" d="M88.0,148.6l-4.4,2.3l1.7,4l4.2,-2.3z"/>
<path class="q42" d="M122.2,236.7l1.7,1.3l1.2,2l-1.6,-1.3z"/>
<path class="q48" d="M136.7,249.7l2.5,0.8l0.5,1l-2.4,-0.7z"/>
<path class="q31" d="M100.4,200.2l0.2,2.2l1.4,2.3l-0.2,-2.1z"/>
<path class="q45" d="M128.3,243.5l2,1.1l0.6,1l-1.9,-1.1z"/>
<path class="q4" d="M191.1,112.6l-6.4,-3.4l-0.4,2.6l6.3,3.3z"/>
<path class="q7" d="M89.9,119.7l-5.8,2.1l1,2.8l5.7,-2.1z"/>
<path class="q47" d="M160.7,248.3l1.7,-0.8l-0.9,1.2l-1.7,0.8z"/>
<path class="q27" d="M95.5,189.0l-0.7,2.3l1.5,2.4l0.7,-2.3z"/>
<path class="q2" d="M92.6,104.7l-6.5,2.1l0.7,2.4l6.4,-2.1z"/>
<path class="q30" d="M190.3,199.8l-2,-2.1l-1.1,2.2l1.9,2.1z"/>
<path class="q37" d="M182.5,222.4l-0.1,-1.8l-1.7,2.8l0,1.7z"/>
<path class="q45" d="M165.6,244.7l1.4,-0.9l-0.8,1l-1.4,0.9z"/>
<path class="q39" d="M115.4,227.5l1.4,1.6l1.3,2.2l-1.3,-1.5z"/>
<path class="q23" d="M91.3,175.9l-2,2.5l1.6,2.7l1.9,-2.4z"/>
<path class="q11" d="M193.1,132.0l-5.5,-3l-0.4,1.9l5.5,3z"/>
<path class="q33" d="M188.0,208.5l-1.4,-2l-1.2,2.2l1.3,2z"/>
<path class="q40" d="M176.6,232.3l0.7,-1.4l-1.4,2l-0.7,1.3z"/>
<path class="q46" d="M163.2,246.6l1.6,-0.9l-0.8,1l-1.6,0.8z"/>
<path class="q43" d="M125.1,240.0l1.8,1.2l0.8,1.2l-1.8,-1.2z"/>
<path class="q48" d="M155.7,250.8l2.2,-0.6l-0.8,1l-2,0.6z"/>
<path class="q13" d="M88.3,133.7l-5.3,2.2l0.7,1.7l5.1,-2.2z"/>
<path class="q46" d="M130.9,245.6l2.2,1.1l0.6,1l-2.1,-1.1z"/>
<path class="q47" d="M133.7,247.7l2.4,0.9l0.6,1.1l-2.3,-0.9z"/>
<path class="q26" d="M193.1,188.3l-2.7,-2.3l-1.2,2.7l2.6,2.2z"/>
<path class="q16" d="M194.8,147.1l-4.7,-2.8l-1,3.8l4.7,2.7z"/>
<path class="q3" d="M191.5,110.6l-6.4,-3.4l-0.4,2l6.4,3.4z"/>
<path class="q35" d="M186.0,215.0l-0.7,-1.9l-1.7,2.9l0.6,1.8z"/>
<path class="q19" d="M195.7,161.4l-4.2,-2.6l-1.1,3.7l4,2.6z"/>
<path class="q1" d="M92.0,102.3l-6.6,2.1l0.7,2.4l6.5,-2.1z"/>
<path class="q41" d="M174.2,235.5l1,-1.3l-1.5,2l-1,1.3z"/>
<path class="q22" d="M195.0,175.4l-3.5,-2.4l-1,2.7l3.3,2.4z"/>
<path class="q6" d="M89.0,116.6l-6,2.1l1.1,3.1l5.8,-2.1z"/>
<path class="q37" d="M111.2,221.0l1.3,1.7l1.6,2.7l-1.3,-1.6z"/>
<path class="q10" d="M193.6,130.1l-5.5,-3l-0.5,1.9l5.5,3z"/>
<path class="q12" d="M87.6,131.9l-5.3,2.2l0.7,1.8l5.3,-2.2z"/>
<path class="q42" d="M171.5,238.6l1.2,-1.1l-1.5,1.9l-1.1,1.1z"/>
<path class="q30" d="M99.1,198.1l0.1,2.2l1.4,2.1l-0.2,-2.2z"/>
<path class="q48" d="M139.2,250.5l2.8,0.6l0.3,1l-2.6,-0.6z"/>
<path class="q33" d="M103.3,206.9l0.8,2l1.3,2.2l-0.8,-2z"/>
<path class="q19" d="M87.1,158.9l-3.5,2.5l1.9,3.8l3.3,-2.4z"/>
<path class="q43" d="M168.7,241.6l1.4,-1.1l-1,1.2l-1.3,1z"/>
<path class="q40" d="M118.1,231.3l1.7,1.5l1.1,1.9l-1.5,-1.5z"/>
<path class="q16" d="M86.5,144.7l-4.5,2.4l1.6,3.8l4.4,-2.3z"/>
<path class="q44" d="M127.7,242.4l2,1.2l0.6,1l-2,-1.1z"/>
<path class="q29" d="M191.5,197.7l-2.1,-2.2l-1.1,2.2l2,2.1z"/>
<path class="q26" d="M94.0,186.3l-0.8,2.4l1.6,2.6l0.7,-2.3z"/>
<path class="q38" d="M180.3,226.7l0.4,-1.6l-1.4,2.1l-0.4,1.5z"/>
<path class="q22" d="M89.7,173.1l-2,2.5l1.6,2.8l2,-2.5z"/>
<path class="q48" d="M153.3,251.2l2.4,-0.4l-0.6,1l-2.2,0.4z"/>
<path class="q47" d="M158.6,249.1l2.1,-0.8l-0.9,1.2l-1.9,0.7z"/>
<path class="q2" d="M192.0,108.2l-6.5,-3.4l-0.4,2.4l6.4,3.4z"/>
<path class="q9" d="M194.0,128.4l-5.6,-3l-0.3,1.7l5.5,3z"/>
<path class="q32" d="M189.3,206.3l-1.4,-2.1l-1.3,2.3l1.4,2z"/>
<path class="q11" d="M87.0,130.0l-5.5,2.2l0.8,1.9l5.3,-2.2z"/>
<path class="q0" d="M91.4,100.0l-6.7,2.1l0.7,2.3l6.6,-2.1z"/>
<path class="q44" d="M166.3,243.7l1.5,-1l-0.8,1.1l-1.4,0.9z"/>
<path class="q35" d="M106.8,213.5l1.1,1.9l1.6,2.8l-1,-1.8z"/>
<path class="q25" d="M194.3,185.8l-2.8,-2.3l-1.1,2.5l2.7,2.3z"/>
<path class="q5" d="M88.2,113.7l-6.2,2.2l1,2.8l6,-2.1z"/>
<path class="q41" d="M120.9,234.7l1.8,1.4l1.2,1.9l-1.7,-1.3z"/>
<path class="q45" d="M163.9,245.6l1.7,-0.9l-0.8,1l-1.6,0.9z"/>
<path class="q46" d="M161.3,247.4l1.9,-0.8l-0.8,0.9l-1.7,0.8z"/>
<path class="q45" d="M130.3,244.6l2.3,1.2l0.5,0.9l-2.2,-1.1z"/>
<path class="q48" d="M142.0,251.1l2.9,0.4l0.1,1l-2.7,-0.4z"/>
<path class="q38" d="M114.1,225.4l1.5,1.6l1.2,2.1l-1.4,-1.6z"/>
<path class="q47" d="M136.1,248.6l2.7,0.9l0.4,1l-2.5,-0.8z"/>
<path class="q48" d="M150.7,251.6l2.6,-0.4l-0.4,1l-2.5,0.3z"/>
<path class="q29" d="M97.7,195.9l0.2,2.3l1.3,2.1l-0.1,-2.2z"/>
<path class="q15" d="M195.9,143.1l-4.9,-2.8l-0.9,4l4.7,2.8z"/>
<path class="q8" d="M194.5,126.8l-5.7,-3.1l-0.4,1.7l5.6,3z"/>
<path class="q36" d="M184.3,219.6l-0.1,-1.8l-1.8,2.8l0.1,1.8z"/>
<path class="q10" d="M86.3,128.1l-5.6,2.2l0.8,1.9l5.5,-2.2z"/>
<path class="q39" d="M178.1,230.2l0.8,-1.5l-1.6,2.2l-0.7,1.4z"/>
<path class="q1" d="M192.5,105.9l-6.6,-3.5l-0.4,2.4l6.5,3.4z"/>
<path class="q42" d="M123.9,238.0l1.9,1.4l1.1,1.8l-1.8,-1.2z"/>
<path class="q21" d="M196.6,171.6l-3.6,-2.5l-1.5,3.9l3.5,2.4z"/>
<path class="q46" d="M133.1,246.7l2.5,1l0.5,0.9l-2.4,-0.9z"/>
<path class="q28" d="M192.7,195.6l-2.1,-2.3l-1.2,2.2l2.1,2.2z"/>
<path class="q18" d="M196.9,157.4l-4.2,-2.6l-1.2,4l4.2,2.6z"/>
<path class="q48" d="M144.9,251.5l3,0.2l-0.2,0.9l-2.7,-0.1z"/>
<path class="q48" d="M147.9,251.7l2.8,-0.1l-0.3,0.9l-2.7,0.1z"/>
<path class="q25" d="M92.5,183.7l-0.8,2.5l1.5,2.5l0.8,-2.4z"/>
<path class="q32" d="M102.0,204.7l0.8,2.1l1.3,2.1l-0.8,-2z"/>
<path class="q34" d="M187.4,212.7l-0.7,-2l-1.4,2.4l0.7,1.9z"/>
<path class="q15" d="M85.0,140.7l-4.8,2.4l1.8,4l4.5,-2.4z"/>
<path class="q47" d="M156.4,249.7l2.2,-0.6l-0.7,1.1l-2.2,0.6z"/>
<path class="q4" d="M87.4,111.2l-6.3,2.1l0.9,2.6l6.2,-2.2z"/>
<path class="q18" d="M85.3,154.9l-3.6,2.5l1.9,4l3.5,-2.5z"/>
<path class="q43" d="M126.9,241.2l2.2,1.3l0.6,1.1l-2,-1.2z"/>
<path class="q21" d="M87.6,169.2l-2.2,2.6l2.3,3.8l2,-2.5z"/>
<path class="q9" d="M85.7,126.4l-5.7,2.2l0.7,1.7l5.6,-2.2z"/>
<path class="q40" d="M175.5,233.7l1.1,-1.4l-1.4,1.9l-1,1.3z"/>
<path class="q31" d="M190.6,204.1l-1.5,-2.1l-1.2,2.2l1.4,2.1z"/>
<path class="q7" d="M195.1,124.0l-5.7,-3.1l-0.6,2.8l5.7,3.1z"/>
<path class="q36" d="M109.5,218.2l1.5,1.8l1.5,2.7l-1.3,-1.7z"/>
<path class="q24" d="M195.6,183.3l-3,-2.5l-1.1,2.7l2.8,2.3z"/>
<path class="q0" d="M193.0,103.6l-6.7,-3.5l-0.4,2.3l6.6,3.5z"/>
<path class="q42" d="M170.0,239.7l1.5,-1.1l-1.4,1.9l-1.4,1.1z"/>
<path class="q39" d="M116.8,229.1l1.8,1.5l1.2,2.2l-1.7,-1.5z"/>
<path class="q43" d="M167.1,242.6l1.6,-1l-0.9,1.1l-1.5,1z"/>
<path class="q41" d="M172.9,236.7l1.3,-1.2l-1.5,2l-1.2,1.1z"/>
<path class="q37" d="M182.1,224.0l0.4,-1.6l-1.8,2.7l-0.4,1.6z"/>
<path class="q28" d="M96.3,193.7l0.3,2.4l1.3,2.1l-0.2,-2.3z"/>
<path class="q8" d="M85.1,124.6l-5.8,2.3l0.7,1.7l5.7,-2.2z"/>
<path class="q44" d="M164.5,244.7l1.8,-1l-0.7,1l-1.7,0.9z"/>
<path class="q46" d="M159.2,248.1l2.1,-0.7l-0.6,0.9l-2.1,0.8z"/>
<path class="q34" d="M105.4,211.1l1.2,2l1.3,2.3l-1.1,-1.9z"/>
<path class="q3" d="M86.8,109.2l-6.4,2.1l0.7,2l6.3,-2.1z"/>
<path class="q44" d="M129.7,243.6l2.4,1.2l0.5,1l-2.3,-1.2z"/>
<path class="q47" d="M138.8,249.5l2.9,0.6l0.3,1l-2.8,-0.6z"/>
<path class="q45" d="M161.9,246.5l2,-0.9l-0.7,1l-1.9,0.8z"/>
<path class="q14" d="M196.8,140.1l-5,-2.9l-0.8,3.1l4.9,2.8z"/>
<path class="q27" d="M194.1,193.2l-2.3,-2.3l-1.2,2.4l2.1,2.3z"/>
<path class="q24" d="M90.9,181.1l-0.8,2.5l1.6,2.6l0.8,-2.5z"/>
<path class="q47" d="M153.8,250.2l2.6,-0.5l-0.7,1.1l-2.4,0.4z"/>
<path class="q31" d="M100.6,202.4l0.8,2.2l1.4,2.2l-0.8,-2.1z"/>
<path class="q40" d="M119.8,232.8l1.9,1.4l1,1.9l-1.8,-1.4z"/>
<path class="q14" d="M83.7,137.6l-5,2.3l1.5,3.2l4.8,-2.4z"/>
<path class="q45" d="M132.6,245.8l2.6,1l0.4,0.9l-2.5,-1z"/>
<path class="q33" d="M188.7,210.5l-0.7,-2l-1.3,2.2l0.7,2z"/>
<path class="q20" d="M198.2,167.7l-3.8,-2.6l-1.4,4l3.6,2.5z"/>
<path class="q37" d="M112.5,222.7l1.7,1.7l1.4,2.6l-1.5,-1.6z"/>
<path class="q6" d="M195.9,121.0l-5.9,-3.1l-0.6,3l5.7,3.1z"/>
<path class="q7" d="M84.1,121.8l-6,2.3l1.2,2.8l5.8,-2.3z"/>
<path class="q2" d="M86.1,106.8l-6.6,2.1l0.9,2.4l6.4,-2.1z"/>
<path class="q46" d="M135.6,247.7l2.8,0.9l0.4,0.9l-2.7,-0.9z"/>
<path class="q17" d="M198.2,153.6l-4.4,-2.8l-1.1,4l4.2,2.6z"/>
<path class="q38" d="M179.5,228.2l0.8,-1.5l-1.4,2l-0.8,1.5z"/>
<path class="q30" d="M191.9,202.0l-1.6,-2.2l-1.2,2.2l1.5,2.1z"/>
<path class="q23" d="M196.9,180.6l-3.1,-2.5l-1.2,2.7l3,2.5z"/>
<path class="q35" d="M186.1,216.9l-0.1,-1.9l-1.8,2.8l0.1,1.8z"/>
<path class="q17" d="M83.6,150.9l-3.8,2.5l1.9,4l3.6,-2.5z"/>
<path class="q20" d="M85.5,165.2l-2.3,2.6l2.2,4l2.2,-2.6z"/>
<path class="q47" d="M141.7,250.1l3.1,0.5l0.1,0.9l-2.9,-0.4z"/>
<path class="q13" d="M197.3,138.5l-5.1,-2.9l-0.4,1.6l5,2.9z"/>
<path class="q41" d="M122.7,236.1l2.1,1.4l1,1.9l-1.9,-1.4z"/>
<path class="q27" d="M94.8,191.3l0.3,2.4l1.5,2.4l-0.3,-2.4z"/>
<path class="q47" d="M151.0,250.6l2.8,-0.4l-0.5,1l-2.6,0.4z"/>
<path class="q42" d="M125.8,239.4l2.3,1.3l1,1.8l-2.2,-1.3z"/>
<path class="q46" d="M156.8,248.8l2.4,-0.7l-0.6,1l-2.2,0.6z"/>
<path class="q13" d="M83.0,135.9l-5.1,2.4l0.8,1.6l5,-2.3z"/>
<path class="q1" d="M85.4,104.4l-6.7,2.2l0.8,2.3l6.6,-2.1z"/>
<path class="q39" d="M176.9,231.6l1.2,-1.4l-1.5,2.1l-1.1,1.4z"/>
<path class="q26" d="M195.5,190.7l-2.4,-2.4l-1.3,2.6l2.3,2.3z"/>
<path class="q33" d="M104.1,208.9l1.3,2.1l1.2,2.1l-1.2,-2z"/>
<path class="q43" d="M165.3,243.6l1.8,-1l-0.8,1.1l-1.8,1z"/>
<path class="q23" d="M89.3,178.4l-0.9,2.6l1.7,2.6l0.8,-2.5z"/>
<path class="q47" d="M144.8,250.6l3.2,0.1l-0.1,1l-3,-0.2z"/>
<path class="q47" d="M148.0,250.7l3,-0.1l-0.3,1l-2.8,0.1z"/>
<path class="q43" d="M129.1,242.5l2.4,1.2l0.6,1.1l-2.4,-1.2z"/>
<path class="q6" d="M83.0,118.7l-6.2,2.3l1.3,3.1l6,-2.3z"/>
<path class="q38" d="M115.6,227.0l1.9,1.6l1.1,2l-1.8,-1.5z"/>
<path class="q45" d="M159.8,247.3l2.1,-0.8l-0.6,0.9l-2.1,0.7z"/>
<path class="q44" d="M162.5,245.5l2,-0.8l-0.6,0.9l-2,0.9z"/>
<path class="q35" d="M107.9,215.4l1.6,1.8l1.5,2.8l-1.5,-1.8z"/>
<path class="q42" d="M168.3,240.8l1.7,-1.1l-1.3,1.9l-1.6,1z"/>
<path class="q12" d="M197.8,136.8l-5.1,-2.9l-0.5,1.7l5.1,2.9z"/>
<path class="q5" d="M196.6,118.2l-6,-3.1l-0.6,2.8l5.9,3.1z"/>
<path class="q30" d="M99.2,200.3l1,2.2l1.2,2.1l-0.8,-2.2z"/>
<path class="q40" d="M174.1,234.9l1.4,-1.2l-1.3,1.8l-1.3,1.2z"/>
<path class="q12" d="M82.3,134.1l-5.2,2.4l0.8,1.8l5.1,-2.4z"/>
<path class="q41" d="M171.3,237.9l1.6,-1.2l-1.4,1.9l-1.5,1.1z"/>
<path class="q29" d="M193.1,200.0l-1.6,-2.3l-1.2,2.1l1.6,2.2z"/>
<path class="q32" d="M190.1,208.4l-0.8,-2.1l-1.3,2.2l0.7,2z"/>
<path class="q36" d="M183.8,221.4l0.5,-1.8l-1.8,2.8l-0.4,1.6z"/>
<path class="q22" d="M198.2,178.0l-3.2,-2.6l-1.2,2.7l3.1,2.5z"/>
<path class="q44" d="M132.1,244.8l2.7,1.1l0.4,0.9l-2.6,-1z"/>
<path class="q46" d="M138.4,248.6l3.1,0.7l0.2,0.8l-2.9,-0.6z"/>
<path class="q0" d="M84.7,102.1l-6.8,2.1l0.8,2.4l6.7,-2.2z"/>
<path class="q19" d="M199.6,164.1l-3.9,-2.7l-1.3,3.7l3.8,2.6z"/>
<path class="q11" d="M198.3,135.0l-5.2,-3l-0.4,1.9l5.1,2.9z"/>
<path class="q16" d="M82.0,147.1l-4.1,2.6l1.9,3.7l3.8,-2.5z"/>
<path class="q16" d="M199.4,149.9l-4.6,-2.8l-1,3.7l4.4,2.8z"/>
<path class="q46" d="M154.2,249.4l2.6,-0.6l-0.4,0.9l-2.6,0.5z"/>
<path class="q45" d="M135.2,246.8l2.9,1l0.3,0.8l-2.8,-0.9z"/>
<path class="q26" d="M93.2,188.7l0.3,2.5l1.6,2.5l-0.3,-2.4z"/>
<path class="q11" d="M81.5,132.2l-5.3,2.5l0.9,1.8l5.2,-2.4z"/>
<path class="q39" d="M118.6,230.6l2,1.6l1.1,2l-1.9,-1.4z"/>
<path class="q19" d="M83.6,161.4l-2.5,2.7l2.1,3.7l2.3,-2.6z"/>
<path class="q5" d="M82.0,115.9l-6.4,2.3l1.2,2.8l6.2,-2.3z"/>
<path class="q4" d="M197.2,115.8l-6.1,-3.2l-0.5,2.5l6,3.1z"/>
<path class="q34" d="M187.5,214.6l-0.1,-1.9l-1.4,2.3l0.1,1.9z"/>
<path class="q22" d="M87.7,175.6l-0.9,2.7l1.6,2.7l0.9,-2.6z"/>
<path class="q25" d="M196.8,188.3l-2.5,-2.5l-1.2,2.5l2.4,2.4z"/>
<path class="q36" d="M111.0,220.0l1.8,1.8l1.4,2.6l-1.7,-1.7z"/>
<path class="q37" d="M181.2,225.7l0.9,-1.7l-1.8,2.7l-0.8,1.5z"/>
<path class="q32" d="M102.8,206.8l1.4,2l1.2,2.2l-1.3,-2.1z"/>
<path class="q29" d="M97.9,198.2l1,2.3l1.3,2l-1,-2.2z"/>
<path class="q45" d="M157.3,248.0l2.5,-0.7l-0.6,0.8l-2.4,0.7z"/>
<path class="q10" d="M198.9,133.1l-5.3,-3l-0.5,1.9l5.2,3z"/>
<path class="q10" d="M80.7,130.3l-5.5,2.4l1,2l5.3,-2.5z"/>
<path class="q40" d="M121.7,234.2l2.2,1.5l0.9,1.8l-2.1,-1.4z"/>
<path class="q46" d="M141.5,249.3l3.3,0.4l0,0.9l-3.1,-0.5z"/>
<path class="q44" d="M160.3,246.4l2.2,-0.9l-0.6,1l-2.1,0.8z"/>
<path class="q28" d="M194.4,197.9l-1.7,-2.3l-1.2,2.1l1.6,2.3z"/>
<path class="q43" d="M163.2,244.5l2.1,-0.9l-0.8,1.1l-2,0.8z"/>
<path class="q46" d="M151.2,249.8l3,-0.4l-0.4,0.8l-2.8,0.4z"/>
<path class="q4" d="M81.1,113.3l-6.5,2.3l1,2.6l6.4,-2.3z"/>
<path class="q31" d="M191.5,206.3l-0.9,-2.2l-1.3,2.2l0.8,2.1z"/>
<path class="q3" d="M197.6,113.8l-6.1,-3.2l-0.4,2l6.1,3.2z"/>
<path class="q38" d="M178.3,229.6l1.2,-1.4l-1.4,2l-1.2,1.4z"/>
<path class="q34" d="M106.6,213.1l1.7,1.9l1.2,2.2l-1.6,-1.8z"/>
<path class="q42" d="M166.4,241.8l1.9,-1l-1.2,1.8l-1.8,1z"/>
<path class="q41" d="M124.8,237.5l2.4,1.4l0.9,1.8l-2.3,-1.3z"/>
<path class="q21" d="M200.0,174.2l-3.4,-2.6l-1.6,3.8l3.2,2.6z"/>
<path class="q42" d="M128.1,240.7l2.6,1.3l0.8,1.7l-2.4,-1.2z"/>
<path class="q37" d="M114.2,224.4l1.9,1.7l1.4,2.5l-1.9,-1.6z"/>
<path class="q46" d="M144.8,249.7l3.3,0.2l-0.1,0.8l-3.2,-0.1z"/>
<path class="q46" d="M148.1,249.9l3.1,-0.1l-0.2,0.8l-3,0.1z"/>
<path class="q25" d="M91.7,186.2l0.3,2.6l1.5,2.4l-0.3,-2.5z"/>
<path class="q9" d="M80.0,128.6l-5.6,2.4l0.8,1.7l5.5,-2.4z"/>
<path class="q43" d="M131.5,243.7l2.8,1.2l0.5,1l-2.7,-1.1z"/>
<path class="q9" d="M199.4,131.4l-5.4,-3l-0.4,1.7l5.3,3z"/>
<path class="q15" d="M80.2,143.1l-4.4,2.6l2.1,4l4.1,-2.6z"/>
<path class="q45" d="M138.1,247.8l3.2,0.7l0.2,0.8l-3.1,-0.7z"/>
<path class="q39" d="M175.5,232.9l1.4,-1.3l-1.4,2.1l-1.4,1.2z"/>
<path class="q15" d="M200.6,146.0l-4.7,-2.9l-1.1,4l4.6,2.8z"/>
<path class="q44" d="M134.8,245.9l3,1l0.3,0.9l-2.9,-1z"/>
<path class="q18" d="M201.0,160.2l-4.1,-2.8l-1.2,4l3.9,2.7z"/>
<path class="q41" d="M169.5,239.0l1.8,-1.1l-1.3,1.8l-1.7,1.1z"/>
<path class="q24" d="M198.2,185.8l-2.6,-2.5l-1.3,2.5l2.5,2.5z"/>
<path class="q3" d="M80.4,111.3l-6.7,2.3l0.9,2l6.5,-2.3z"/>
<path class="q40" d="M172.5,236.2l1.6,-1.3l-1.2,1.8l-1.6,1.2z"/>
<path class="q45" d="M154.5,248.6l2.8,-0.6l-0.5,0.8l-2.6,0.6z"/>
<path class="q18" d="M81.7,157.4l-2.7,2.8l2.1,3.9l2.5,-2.7z"/>
<path class="q28" d="M96.6,196.1l1,2.3l1.3,2.1l-1,-2.3z"/>
<path class="q21" d="M85.4,171.8l-1,2.8l2.4,3.7l0.9,-2.7z"/>
<path class="q35" d="M185.6,218.7l0.5,-1.8l-1.8,2.7l-0.5,1.8z"/>
<path class="q2" d="M198.2,111.5l-6.2,-3.3l-0.5,2.4l6.1,3.2z"/>
<path class="q8" d="M79.3,126.9l-5.8,2.4l0.9,1.7l5.6,-2.4z"/>
<path class="q33" d="M188.9,212.6l-0.2,-2.1l-1.3,2.2l0.1,1.9z"/>
<path class="q31" d="M101.4,204.6l1.5,2.1l1.3,2.1l-1.4,-2z"/>
<path class="q8" d="M199.9,129.8l-5.4,-3l-0.5,1.6l5.4,3z"/>
<path class="q27" d="M195.9,195.6l-1.8,-2.4l-1.4,2.4l1.7,2.3z"/>
<path class="q38" d="M117.5,228.6l2.1,1.6l1,2l-2,-1.6z"/>
<path class="q44" d="M157.7,247.1l2.6,-0.7l-0.5,0.9l-2.5,0.7z"/>
<path class="q2" d="M79.5,108.9l-6.8,2.3l1,2.4l6.7,-2.3z"/>
<path class="q30" d="M192.8,204.3l-0.9,-2.3l-1.3,2.1l0.9,2.2z"/>
<path class="q43" d="M160.8,245.4l2.4,-0.9l-0.7,1l-2.2,0.9z"/>
<path class="q45" d="M141.3,248.5l3.4,0.5l0.1,0.7l-3.3,-0.4z"/>
<path class="q35" d="M109.5,217.2l1.9,1.9l1.4,2.7l-1.8,-1.8z"/>
<path class="q7" d="M78.1,124.1l-6,2.5l1.4,2.7l5.8,-2.4z"/>
<path class="q45" d="M151.5,249.0l3,-0.4l-0.3,0.8l-3,0.4z"/>
<path class="q24" d="M90.1,183.6l0.3,2.7l1.6,2.5l-0.3,-2.6z"/>
<path class="q1" d="M198.8,109.2l-6.3,-3.3l-0.5,2.3l6.2,3.3z"/>
<path class="q33" d="M105.4,211.0l1.7,2l1.2,2l-1.7,-1.9z"/>
<path class="q36" d="M182.9,223.1l0.9,-1.7l-1.7,2.6l-0.9,1.7z"/>
<path class="q14" d="M78.7,139.9l-4.6,2.7l1.7,3.1l4.4,-2.6z"/>
<path class="q7" d="M200.6,127.1l-5.5,-3.1l-0.6,2.8l5.4,3z"/>
<path class="q39" d="M120.6,232.2l2.3,1.5l1,2l-2.2,-1.5z"/>
<path class="q42" d="M164.2,242.8l2.2,-1l-1.1,1.8l-2.1,0.9z"/>
<path class="q14" d="M201.6,143.0l-4.8,-2.9l-0.9,3l4.7,2.9z"/>
<path class="q20" d="M201.7,170.4l-3.5,-2.7l-1.6,3.9l3.4,2.6z"/>
<path class="q23" d="M199.6,183.2l-2.7,-2.6l-1.3,2.7l2.6,2.5z"/>
<path class="q27" d="M95.1,193.7l1.1,2.5l1.4,2.2l-1,-2.3z"/>
<path class="q45" d="M148.2,249.1l3.3,-0.1l-0.3,0.8l-3.1,0.1z"/>
<path class="q1" d="M78.7,106.6l-7,2.2l1,2.4l6.8,-2.3z"/>
<path class="q45" d="M144.7,249.0l3.5,0.1l-0.1,0.8l-3.3,-0.2z"/>
<path class="q44" d="M137.8,246.9l3.3,0.8l0.2,0.8l-3.2,-0.7z"/>
<path class="q37" d="M179.9,227.2l1.3,-1.5l-1.7,2.5l-1.2,1.4z"/>
<path class="q43" d="M134.3,244.9l3.2,1l0.3,1l-3,-1z"/>
<path class="q30" d="M100.2,202.5l1.5,2.2l1.2,2l-1.5,-2.1z"/>
<path class="q17" d="M202.4,156.3l-4.2,-2.7l-1.3,3.8l4.1,2.8z"/>
<path class="q40" d="M123.9,235.7l2.4,1.5l0.9,1.7l-2.4,-1.4z"/>
<path class="q44" d="M154.8,247.7l2.9,-0.6l-0.4,0.9l-2.8,0.6z"/>
<path class="q17" d="M79.8,153.4l-2.9,2.9l2.1,3.9l2.7,-2.8z"/>
<path class="q32" d="M190.2,210.5l-0.1,-2.1l-1.4,2.1l0.2,2.1z"/>
<path class="q26" d="M197.4,193.2l-1.9,-2.5l-1.4,2.5l1.8,2.4z"/>
<path class="q42" d="M130.7,242.0l2.9,1.2l0.7,1.7l-2.8,-1.2z"/>
<path class="q0" d="M199.3,106.9l-6.3,-3.3l-0.5,2.3l6.3,3.3z"/>
<path class="q6" d="M76.8,121.0l-6.2,2.5l1.5,3.1l6,-2.5z"/>
<path class="q20" d="M83.2,167.8l-1.1,2.9l2.3,3.9l1,-2.8z"/>
<path class="q36" d="M112.8,221.8l2,1.7l1.3,2.6l-1.9,-1.7z"/>
<path class="q13" d="M77.9,138.3l-4.6,2.7l0.8,1.6l4.6,-2.7z"/>
<path class="q41" d="M167.4,240.1l2.1,-1.1l-1.2,1.8l-1.9,1z"/>
<path class="q38" d="M176.7,231.0l1.6,-1.4l-1.4,2l-1.4,1.3z"/>
<path class="q41" d="M127.2,238.9l2.7,1.4l0.8,1.7l-2.6,-1.3z"/>
<path class="q29" d="M194.1,202.3l-1,-2.3l-1.2,2l0.9,2.3z"/>
<path class="q34" d="M187.0,216.5l0.5,-1.9l-1.4,2.3l-0.5,1.8z"/>
<path class="q0" d="M77.9,104.2l-7.3,2.3l1.1,2.3l7,-2.2z"/>
<path class="q40" d="M170.5,237.3l2,-1.1l-1.2,1.7l-1.8,1.1z"/>
<path class="q39" d="M173.7,234.2l1.8,-1.3l-1.4,2l-1.6,1.3z"/>
<path class="q43" d="M158.2,246.1l2.6,-0.7l-0.5,1l-2.6,0.7z"/>
<path class="q6" d="M201.5,124.1l-5.6,-3.1l-0.8,3l5.5,3.1z"/>
<path class="q23" d="M88.4,181.0l0.4,2.7l1.6,2.6l-0.3,-2.7z"/>
<path class="q13" d="M202.2,141.4l-4.9,-2.9l-0.5,1.6l4.8,2.9z"/>
<path class="q12" d="M77.1,136.5l-4.8,2.8l1,1.7l4.6,-2.7z"/>
<path class="q32" d="M104.2,208.8l1.8,2.1l1.1,2.1l-1.7,-2z"/>
<path class="q37" d="M116.1,226.1l2.2,1.7l1.3,2.4l-2.1,-1.6z"/>
<path class="q44" d="M141.1,247.7l3.6,0.5l0,0.8l-3.4,-0.5z"/>
<path class="q44" d="M151.7,248.1l3.1,-0.4l-0.3,0.9l-3,0.4z"/>
<path class="q22" d="M201.0,180.6l-2.8,-2.6l-1.3,2.6l2.7,2.6z"/>
<path class="q5" d="M75.6,118.2l-6.5,2.4l1.5,2.9l6.2,-2.5z"/>
<path class="q26" d="M93.5,191.2l1.2,2.5l1.5,2.5l-1.1,-2.5z"/>
<path class="q34" d="M108.3,215.0l1.9,1.9l1.2,2.2l-1.9,-1.9z"/>
<path class="q42" d="M161.7,243.7l2.5,-0.9l-1,1.7l-2.4,0.9z"/>
<path class="q12" d="M202.8,139.7l-5,-2.9l-0.5,1.7l4.9,2.9z"/>
<path class="q29" d="M98.9,200.5l1.6,2.3l1.2,1.9l-1.5,-2.2z"/>
<path class="q11" d="M76.2,134.7l-5,2.7l1.1,1.9l4.8,-2.8z"/>
<path class="q19" d="M203.3,166.8l-3.7,-2.7l-1.4,3.6l3.5,2.7z"/>
<path class="q44" d="M148.2,248.3l3.5,-0.2l-0.2,0.9l-3.3,0.1z"/>
<path class="q44" d="M144.7,248.2l3.5,0.1l0,0.8l-3.5,-0.1z"/>
<path class="q25" d="M198.8,190.8l-2,-2.5l-1.3,2.4l1.9,2.5z"/>
<path class="q31" d="M191.7,208.4l-0.2,-2.1l-1.4,2.1l0.1,2.1z"/>
<path class="q43" d="M137.5,245.9l3.4,0.8l0.2,1l-3.3,-0.8z"/>
<path class="q38" d="M119.6,230.2l2.3,1.6l1,1.9l-2.3,-1.5z"/>
<path class="q16" d="M77.9,149.7l-3.1,2.9l2.1,3.7l2.9,-2.9z"/>
<path class="q28" d="M195.5,200.3l-1.1,-2.4l-1.3,2.1l1,2.3z"/>
<path class="q5" d="M202.3,121.4l-5.7,-3.2l-0.7,2.8l5.6,3.1z"/>
<path class="q35" d="M184.5,220.5l1.1,-1.8l-1.8,2.7l-0.9,1.7z"/>
<path class="q16" d="M203.7,152.7l-4.3,-2.8l-1.2,3.7l4.2,2.7z"/>
<path class="q43" d="M155.2,246.8l3,-0.7l-0.5,1l-2.9,0.6z"/>
<path class="q19" d="M81.1,164.1l-1.1,3l2.1,3.6l1.1,-2.9z"/>
<path class="q22" d="M86.8,178.3l0.3,2.8l1.7,2.6l-0.4,-2.7z"/>
<path class="q4" d="M74.6,115.6l-6.8,2.5l1.3,2.5l6.5,-2.4z"/>
<path class="q11" d="M203.4,137.9l-5.1,-2.9l-0.5,1.8l5,2.9z"/>
<path class="q41" d="M165.1,241.1l2.3,-1l-1,1.7l-2.2,1z"/>
<path class="q10" d="M75.2,132.7l-5.1,2.8l1.1,1.9l5,-2.7z"/>
<path class="q33" d="M188.3,214.5l0.6,-1.9l-1.4,2l-0.5,1.9z"/>
<path class="q42" d="M133.6,243.2l3.4,1.1l0.5,1.6l-3.2,-1z"/>
<path class="q39" d="M122.9,233.7l2.5,1.6l0.9,1.9l-2.4,-1.5z"/>
<path class="q36" d="M181.4,224.6l1.5,-1.5l-1.7,2.6l-1.3,1.5z"/>
<path class="q31" d="M102.9,206.7l1.9,2.1l1.2,2.1l-1.8,-2.1z"/>
<path class="q35" d="M111.4,219.1l2.1,1.8l1.3,2.6l-2,-1.7z"/>
<path class="q40" d="M168.4,238.4l2.1,-1.1l-1,1.7l-2.1,1.1z"/>
<path class="q37" d="M178.2,228.6l1.7,-1.4l-1.6,2.4l-1.6,1.4z"/>
<path class="q25" d="M92.0,188.8l1.2,2.6l1.5,2.3l-1.2,-2.5z"/>
<path class="q40" d="M126.3,237.2l2.9,1.4l0.7,1.7l-2.7,-1.4z"/>
<path class="q21" d="M203.0,177.0l-3,-2.8l-1.8,3.8l2.8,2.6z"/>
<path class="q28" d="M97.6,198.4l1.7,2.3l1.2,2.1l-1.6,-2.3z"/>
<path class="q4" d="M203.0,118.9l-5.8,-3.1l-0.6,2.4l5.7,3.2z"/>
<path class="q3" d="M73.7,113.6l-7,2.5l1.1,2l6.8,-2.5z"/>
<path class="q38" d="M174.8,232.3l1.9,-1.3l-1.2,1.9l-1.8,1.3z"/>
<path class="q9" d="M74.4,131.0l-5.3,2.8l1,1.7l5.1,-2.8z"/>
<path class="q41" d="M129.9,240.3l3.1,1.3l0.6,1.6l-2.9,-1.2z"/>
<path class="q39" d="M171.7,235.4l2,-1.2l-1.2,2l-2,1.1z"/>
<path class="q10" d="M204.0,136.0l-5.1,-2.9l-0.6,1.9l5.1,2.9z"/>
<path class="q43" d="M140.9,246.7l3.7,0.5l0.1,1l-3.6,-0.5z"/>
<path class="q43" d="M151.9,247.2l3.3,-0.4l-0.4,0.9l-3.1,0.4z"/>
<path class="q42" d="M158.9,244.5l2.8,-0.8l-0.9,1.7l-2.6,0.7z"/>
<path class="q33" d="M107.1,213.0l2.1,1.9l1,2l-1.9,-1.9z"/>
<path class="q24" d="M200.3,188.4l-2.1,-2.6l-1.4,2.5l2,2.5z"/>
<path class="q30" d="M193.0,206.5l-0.2,-2.2l-1.3,2l0.2,2.1z"/>
<path class="q27" d="M197.0,198.1l-1.1,-2.5l-1.5,2.3l1.1,2.4z"/>
<path class="q15" d="M75.8,145.7l-3.3,3l2.3,3.9l3.1,-2.9z"/>
<path class="q18" d="M204.9,163.0l-3.9,-2.8l-1.4,3.9l3.7,2.7z"/>
<path class="q8" d="M73.5,129.3l-5.5,2.8l1.1,1.7l5.3,-2.8z"/>
<path class="q43" d="M148.3,247.4l3.6,-0.2l-0.2,0.9l-3.5,0.2z"/>
<path class="q36" d="M114.8,223.5l2.3,1.7l1.2,2.6l-2.2,-1.7z"/>
<path class="q43" d="M144.6,247.2l3.7,0.2l-0.1,0.9l-3.5,-0.1z"/>
<path class="q2" d="M72.7,111.2l-7.2,2.5l1.2,2.4l7,-2.5z"/>
<path class="q15" d="M205.2,148.9l-4.6,-2.9l-1.2,3.9l4.3,2.8z"/>
<path class="q9" d="M204.6,134.4l-5.2,-3l-0.5,1.7l5.1,2.9z"/>
<path class="q3" d="M203.5,117.0l-5.9,-3.2l-0.4,2l5.8,3.1z"/>
<path class="q21" d="M84.4,174.6l0.5,2.9l2.2,3.6l-0.3,-2.8z"/>
<path class="q18" d="M79.0,160.2l-1.2,3.1l2.2,3.8l1.1,-3z"/>
<path class="q32" d="M189.7,212.5l0.5,-2l-1.3,2.1l-0.6,1.9z"/>
<path class="q34" d="M185.9,218.3l1.1,-1.8l-1.4,2.2l-1.1,1.8z"/>
<path class="q41" d="M162.5,242.1l2.6,-1l-0.9,1.7l-2.5,0.9z"/>
<path class="q37" d="M118.3,227.8l2.5,1.6l1.1,2.4l-2.3,-1.6z"/>
<path class="q30" d="M101.7,204.7l2,2.2l1.1,1.9l-1.9,-2.1z"/>
<path class="q42" d="M137.0,244.3l3.6,0.9l0.3,1.5l-3.4,-0.8z"/>
<path class="q7" d="M72.1,126.6l-5.7,2.7l1.6,2.8l5.5,-2.8z"/>
<path class="q24" d="M90.4,186.3l1.3,2.6l1.5,2.5l-1.2,-2.6z"/>
<path class="q27" d="M96.2,196.2l1.8,2.3l1.3,2.2l-1.7,-2.3z"/>
<path class="q1" d="M71.7,108.8l-7.6,2.5l1.4,2.4l7.2,-2.5z"/>
<path class="q42" d="M155.7,245.2l3.2,-0.7l-0.7,1.6l-3,0.7z"/>
<path class="q8" d="M205.1,132.8l-5.2,-3l-0.5,1.6l5.2,3z"/>
<path class="q2" d="M204.2,114.7l-6,-3.2l-0.6,2.3l5.9,3.2z"/>
<path class="q23" d="M201.9,185.8l-2.3,-2.6l-1.4,2.6l2.1,2.6z"/>
<path class="q38" d="M121.9,231.8l2.7,1.6l0.8,1.9l-2.5,-1.6z"/>
<path class="q29" d="M194.3,204.6l-0.2,-2.3l-1.3,2l0.2,2.2z"/>
<path class="q40" d="M166.0,239.5l2.4,-1.1l-1,1.7l-2.3,1z"/>
<path class="q32" d="M106.0,210.9l2.1,2l1.1,2l-2.1,-1.9z"/>
<path class="q14" d="M74.1,142.6l-3.5,3.1l1.9,3l3.3,-3z"/>
<path class="q26" d="M198.6,195.7l-1.2,-2.5l-1.5,2.4l1.1,2.5z"/>
<path class="q34" d="M110.2,216.9l2.3,1.9l1,2.1l-2.1,-1.8z"/>
<path class="q20" d="M205.0,173.2l-3.3,-2.8l-1.7,3.8l3,2.8z"/>
<path class="q35" d="M183.0,222.1l1.5,-1.6l-1.6,2.6l-1.5,1.5z"/>
<path class="q0" d="M70.6,106.5l-7.8,2.4l1.3,2.4l7.6,-2.5z"/>
<path class="q39" d="M169.4,236.6l2.3,-1.2l-1.2,1.9l-2.1,1.1z"/>
<path class="q41" d="M133.0,241.6l3.5,1.2l0.5,1.5l-3.4,-1.1z"/>
<path class="q14" d="M206.3,145.9l-4.7,-2.9l-1,3l4.6,2.9z"/>
<path class="q39" d="M125.4,235.3l3,1.5l0.8,1.8l-2.9,-1.4z"/>
<path class="q38" d="M172.7,233.6l2.1,-1.3l-1.1,1.9l-2,1.2z"/>
<path class="q7" d="M206.0,130.1l-5.4,-3l-0.7,2.7l5.2,3z"/>
<path class="q6" d="M70.6,123.5l-6.2,2.8l2,3l5.7,-2.7z"/>
<path class="q37" d="M176.2,230.0l2,-1.4l-1.5,2.4l-1.9,1.3z"/>
<path class="q36" d="M179.7,226.1l1.7,-1.5l-1.5,2.6l-1.7,1.4z"/>
<path class="q17" d="M206.5,159.2l-4.1,-2.9l-1.4,3.9l3.9,2.8z"/>
<path class="q40" d="M129.2,238.6l3.2,1.4l0.6,1.6l-3.1,-1.3z"/>
<path class="q42" d="M152.3,245.7l3.4,-0.5l-0.5,1.6l-3.3,0.4z"/>
<path class="q42" d="M140.6,245.2l3.9,0.6l0.1,1.4l-3.7,-0.5z"/>
<path class="q1" d="M204.8,112.4l-6,-3.2l-0.6,2.3l6,3.2z"/>
<path class="q29" d="M100.5,202.8l2.1,2.2l1.1,1.9l-2,-2.2z"/>
<path class="q31" d="M191.1,210.5l0.6,-2.1l-1.5,2.1l-0.5,2z"/>
<path class="q13" d="M73.3,141.0l-3.7,3.1l1,1.6l3.5,-3.1z"/>
<path class="q41" d="M159.6,242.9l2.9,-0.8l-0.8,1.6l-2.8,0.8z"/>
<path class="q17" d="M76.9,156.3l-1.3,3.2l2.2,3.8l1.2,-3.1z"/>
<path class="q23" d="M88.8,183.7l1.4,2.7l1.5,2.5l-1.3,-2.6z"/>
<path class="q20" d="M82.1,170.7l0.5,3.1l2.3,3.7l-0.5,-2.9z"/>
<path class="q33" d="M187.2,216.4l1.1,-1.9l-1.3,2l-1.1,1.8z"/>
<path class="q26" d="M94.7,193.7l1.9,2.5l1.4,2.3l-1.8,-2.3z"/>
<path class="q35" d="M113.5,220.9l2.5,1.8l1.1,2.5l-2.3,-1.7z"/>
<path class="q42" d="M148.5,245.9l3.8,-0.2l-0.4,1.5l-3.6,0.2z"/>
<path class="q42" d="M144.5,245.8l4,0.1l-0.2,1.5l-3.7,-0.2z"/>
<path class="q22" d="M203.4,183.3l-2.4,-2.7l-1.4,2.6l2.3,2.6z"/>
<path class="q28" d="M195.7,202.6l-0.2,-2.3l-1.4,2l0.2,2.3z"/>
<path class="q13" d="M206.9,144.4l-4.7,-3l-0.6,1.6l4.7,2.9z"/>
<path class="q5" d="M69.1,120.6l-6.5,2.8l1.8,2.9l6.2,-2.8z"/>
<path class="q12" d="M72.3,139.3l-3.8,3.1l1.1,1.7l3.7,-3.1z"/>
<path class="q25" d="M200.1,193.4l-1.3,-2.6l-1.4,2.4l1.2,2.5z"/>
<path class="q0" d="M205.4,110.2l-6.1,-3.3l-0.5,2.3l6,3.2z"/>
<path class="q31" d="M104.8,208.8l2.3,2.1l1,2l-2.1,-2z"/>
<path class="q6" d="M207.0,127.2l-5.5,-3.1l-0.9,3l5.4,3z"/>
<path class="q40" d="M163.2,240.5l2.8,-1l-0.9,1.6l-2.6,1z"/>
<path class="q33" d="M109.2,214.9l2.3,1.9l1,2l-2.3,-1.9z"/>
<path class="q36" d="M117.1,225.2l2.6,1.8l1.1,2.4l-2.5,-1.6z"/>
<path class="q19" d="M206.7,169.7l-3.4,-2.9l-1.6,3.6l3.3,2.8z"/>
<path class="q12" d="M207.6,142.7l-4.8,-3l-0.6,1.7l4.7,3z"/>
<path class="q41" d="M136.5,242.8l3.8,0.9l0.3,1.5l-3.6,-0.9z"/>
<path class="q11" d="M71.2,137.4l-4,3.1l1.3,1.9l3.8,-3.1z"/>
<path class="q28" d="M99.3,200.7l2.2,2.3l1.1,2l-2.1,-2.2z"/>
<path class="q4" d="M67.8,118.1l-6.9,2.8l1.7,2.5l6.5,-2.8z"/>
<path class="q37" d="M120.8,229.4l2.8,1.7l1,2.3l-2.7,-1.6z"/>
<path class="q39" d="M166.9,237.7l2.5,-1.1l-1,1.8l-2.4,1.1z"/>
<path class="q41" d="M156.3,243.7l3.3,-0.8l-0.7,1.6l-3.2,0.7z"/>
<path class="q16" d="M208.0,155.6l-4.3,-2.9l-1.3,3.6l4.1,2.9z"/>
<path class="q34" d="M184.3,220.0l1.6,-1.7l-1.4,2.2l-1.5,1.6z"/>
<path class="q30" d="M192.4,208.6l0.6,-2.1l-1.3,1.9l-0.6,2.1z"/>
<path class="q22" d="M87.1,181.1l1.6,2.8l1.5,2.5l-1.4,-2.7z"/>
<path class="q25" d="M93.2,191.4l2,2.5l1.4,2.3l-1.9,-2.5z"/>
<path class="q38" d="M170.3,234.8l2.4,-1.2l-1,1.8l-2.3,1.2z"/>
<path class="q16" d="M74.8,152.6l-1.4,3.3l2.2,3.6l1.3,-3.2z"/>
<path class="q32" d="M188.4,214.4l1.3,-1.9l-1.4,2l-1.1,1.9z"/>
<path class="q38" d="M124.6,233.4l3.1,1.6l0.7,1.8l-3,-1.5z"/>
<path class="q5" d="M207.9,124.5l-5.6,-3.1l-0.8,2.7l5.5,3.1z"/>
<path class="q11" d="M208.3,140.9l-4.9,-3l-0.6,1.8l4.8,3z"/>
<path class="q27" d="M197.2,200.5l-0.2,-2.4l-1.5,2.2l0.2,2.3z"/>
<path class="q19" d="M80.0,167.1l0.5,3.1l2.1,3.6l-0.5,-3.1z"/>
<path class="q37" d="M174.0,231.3l2.2,-1.3l-1.4,2.3l-2.1,1.3z"/>
<path class="q40" d="M132.4,240.0l3.6,1.2l0.5,1.6l-3.5,-1.2z"/>
<path class="q10" d="M70.1,135.5l-4.2,3.1l1.3,1.9l4,-3.1z"/>
<path class="q3" d="M66.7,116.1l-7.2,2.8l1.4,2l6.9,-2.8z"/>
<path class="q39" d="M128.4,236.8l3.3,1.4l0.7,1.8l-3.2,-1.4z"/>
<path class="q35" d="M181.1,223.7l1.9,-1.6l-1.6,2.5l-1.7,1.5z"/>
<path class="q21" d="M205.5,179.8l-2.5,-2.8l-2,3.6l2.4,2.7z"/>
<path class="q24" d="M201.7,191.0l-1.4,-2.6l-1.5,2.4l1.3,2.6z"/>
<path class="q36" d="M177.6,227.6l2.1,-1.5l-1.5,2.5l-2,1.4z"/>
<path class="q30" d="M103.7,206.9l2.3,2.1l1.1,1.9l-2.3,-2.1z"/>
<path class="q34" d="M112.5,218.8l2.5,1.8l1,2.1l-2.5,-1.8z"/>
<path class="q41" d="M152.6,244.2l3.7,-0.5l-0.6,1.5l-3.4,0.5z"/>
<path class="q40" d="M160.2,241.4l3,-0.9l-0.7,1.6l-2.9,0.8z"/>
<path class="q41" d="M140.3,243.7l4.2,0.6l0,1.5l-3.9,-0.6z"/>
<path class="q32" d="M108.1,212.9l2.5,1.9l0.9,2l-2.3,-1.9z"/>
<path class="q9" d="M69.1,133.8l-4.3,3.2l1.1,1.6l4.2,-3.1z"/>
<path class="q2" d="M65.5,113.7l-7.7,2.8l1.7,2.4l7.2,-2.8z"/>
<path class="q10" d="M209.1,139.1l-5.1,-3.1l-0.6,1.9l4.9,3z"/>
<path class="q27" d="M98.0,198.5l2.3,2.4l1.2,2.1l-2.2,-2.3z"/>
<path class="q4" d="M208.7,122.1l-5.7,-3.2l-0.7,2.5l5.6,3.1z"/>
<path class="q18" d="M208.5,165.9l-3.6,-2.9l-1.6,3.8l3.4,2.9z"/>
<path class="q29" d="M193.7,206.8l0.6,-2.2l-1.3,1.9l-0.6,2.1z"/>
<path class="q41" d="M148.6,244.4l4,-0.2l-0.3,1.5l-3.8,0.2z"/>
<path class="q15" d="M209.6,151.9l-4.4,-3l-1.5,3.8l4.3,2.9z"/>
<path class="q8" d="M68.0,132.1l-4.4,3.2l1.2,1.7l4.3,-3.2z"/>
<path class="q41" d="M144.5,244.3l4.1,0.1l-0.1,1.5l-4,-0.1z"/>
<path class="q24" d="M91.7,188.9l2.1,2.6l1.4,2.4l-2,-2.5z"/>
<path class="q21" d="M84.9,177.5l1.6,2.9l2.2,3.5l-1.6,-2.8z"/>
<path class="q39" d="M164.0,238.7l2.9,-1l-0.9,1.8l-2.8,1z"/>
<path class="q33" d="M185.5,218.1l1.7,-1.7l-1.3,1.9l-1.6,1.7z"/>
<path class="q1" d="M64.1,111.3l-8.1,2.8l1.8,2.4l7.7,-2.8z"/>
<path class="q15" d="M72.5,148.7l-1.5,3.4l2.4,3.8l1.4,-3.3z"/>
<path class="q9" d="M209.7,137.5l-5.1,-3.1l-0.6,1.6l5.1,3.1z"/>
<path class="q35" d="M116.0,222.7l2.7,1.8l1,2.5l-2.6,-1.8z"/>
<path class="q31" d="M189.8,212.5l1.3,-2l-1.4,2l-1.3,1.9z"/>
<path class="q26" d="M198.8,198.2l-0.2,-2.5l-1.6,2.4l0.2,2.4z"/>
<path class="q23" d="M203.3,188.6l-1.4,-2.8l-1.6,2.6l1.4,2.6z"/>
<path class="q29" d="M102.6,205.0l2.4,2.1l1,1.9l-2.3,-2.1z"/>
<path class="q3" d="M209.4,120.2l-5.9,-3.2l-0.5,1.9l5.7,3.2z"/>
<path class="q38" d="M167.7,235.9l2.6,-1.1l-0.9,1.8l-2.5,1.1z"/>
<path class="q18" d="M77.8,163.3l0.5,3.2l2.2,3.7l-0.5,-3.1z"/>
<path class="q40" d="M136.0,241.2l4.1,1l0.2,1.5l-3.8,-0.9z"/>
<path class="q7" d="M66.4,129.3l-4.9,3.3l2.1,2.7l4.4,-3.2z"/>
<path class="q36" d="M119.7,227.0l3,1.7l0.9,2.4l-2.8,-1.7z"/>
<path class="q40" d="M156.7,242.2l3.5,-0.8l-0.6,1.5l-3.3,0.8z"/>
<path class="q0" d="M62.8,108.9l-8.7,2.8l1.9,2.4l8.1,-2.8z"/>
<path class="q8" d="M210.3,135.9l-5.2,-3.1l-0.5,1.6l5.1,3.1z"/>
<path class="q37" d="M171.5,232.5l2.5,-1.2l-1.3,2.3l-2.4,1.2z"/>
<path class="q20" d="M207.7,176.1l-2.7,-2.9l-2,3.8l2.5,2.8z"/>
<path class="q33" d="M111.5,216.8l2.6,1.9l0.9,1.9l-2.5,-1.8z"/>
<path class="q31" d="M107.1,210.9l2.5,2l1,1.9l-2.5,-1.9z"/>
<path class="q37" d="M123.6,231.1l3.2,1.7l0.9,2.2l-3.1,-1.6z"/>
<path class="q34" d="M182.3,221.6l2,-1.6l-1.3,2.1l-1.9,1.6z"/>
<path class="q26" d="M96.6,196.2l2.4,2.3l1.3,2.4l-2.3,-2.4z"/>
<path class="q39" d="M131.7,238.2l3.9,1.3l0.4,1.7l-3.6,-1.2z"/>
<path class="q28" d="M195.0,204.9l0.7,-2.3l-1.4,2l-0.6,2.2z"/>
<path class="q38" d="M127.7,235.0l3.5,1.5l0.5,1.7l-3.3,-1.4z"/>
<path class="q2" d="M210.1,117.9l-5.9,-3.2l-0.7,2.3l5.9,3.2z"/>
<path class="q36" d="M175.2,228.9l2.4,-1.3l-1.4,2.4l-2.2,1.3z"/>
<path class="q35" d="M178.9,225.1l2.2,-1.4l-1.4,2.4l-2.1,1.5z"/>
<path class="q14" d="M210.9,149.0l-4.6,-3.1l-1.1,3l4.4,3z"/>
<path class="q23" d="M90.2,186.4l2.2,2.7l1.4,2.4l-2.1,-2.6z"/>
<path class="q17" d="M210.3,162.2l-3.8,-3l-1.6,3.8l3.6,2.9z"/>
<path class="q14" d="M70.6,145.7l-1.6,3.4l2,3l1.5,-3.4z"/>
<path class="q6" d="M64.4,126.3l-5.2,3.3l2.3,3l4.9,-3.3z"/>
<path class="q7" d="M211.4,133.3l-5.4,-3.2l-0.9,2.7l5.2,3.1z"/>
<path class="q39" d="M160.8,239.7l3.2,-1l-0.8,1.8l-3,0.9z"/>
<path class="q32" d="M186.7,216.2l1.7,-1.8l-1.2,2l-1.7,1.7z"/>
<path class="q40" d="M152.9,242.8l3.8,-0.6l-0.4,1.5l-3.7,0.5z"/>
<path class="q30" d="M191.0,210.7l1.4,-2.1l-1.3,1.9l-1.3,2z"/>
<path class="q25" d="M200.4,196.0l-0.3,-2.6l-1.5,2.3l0.2,2.5z"/>
<path class="q28" d="M101.5,203.0l2.5,2.2l1,1.9l-2.4,-2.1z"/>
<path class="q22" d="M204.9,186.1l-1.5,-2.8l-1.5,2.5l1.4,2.8z"/>
<path class="q40" d="M140.1,242.2l4.3,0.6l0.1,1.5l-4.2,-0.6z"/>
<path class="q20" d="M82.6,173.8l1.8,3l2.1,3.6l-1.6,-2.9z"/>
<path class="q1" d="M210.9,115.7l-6.1,-3.3l-0.6,2.3l5.9,3.2z"/>
<path class="q34" d="M115.0,220.6l2.8,1.9l0.9,2l-2.7,-1.8z"/>
<path class="q38" d="M164.7,237.0l3,-1.1l-0.8,1.8l-2.9,1z"/>
<path class="q17" d="M75.6,159.5l0.6,3.3l2.1,3.7l-0.5,-3.2z"/>
<path class="q13" d="M211.6,147.5l-4.7,-3.1l-0.6,1.5l4.6,3.1z"/>
<path class="q13" d="M69.6,144.1l-1.6,3.5l1,1.5l1.6,-3.4z"/>
<path class="q40" d="M148.7,243.0l4.2,-0.2l-0.3,1.4l-4,0.2z"/>
<path class="q30" d="M106.0,209.0l2.7,2.1l0.9,1.8l-2.5,-2z"/>
<path class="q40" d="M144.4,242.8l4.3,0.2l-0.1,1.4l-4.1,-0.1z"/>
<path class="q5" d="M62.6,123.4l-5.7,3.4l2.3,2.8l5.2,-3.3z"/>
<path class="q32" d="M110.6,214.8l2.7,2l0.8,1.9l-2.6,-1.9z"/>
<path class="q25" d="M95.2,193.9l2.5,2.4l1.3,2.2l-2.4,-2.3z"/>
<path class="q27" d="M196.5,202.8l0.7,-2.3l-1.5,2.1l-0.7,2.3z"/>
<path class="q19" d="M209.6,172.7l-2.9,-3l-1.7,3.5l2.7,2.9z"/>
<path class="q6" d="M212.5,130.3l-5.5,-3.1l-1,2.9l5.4,3.2z"/>
<path class="q33" d="M183.4,219.8l2.1,-1.7l-1.2,1.9l-2,1.6z"/>
<path class="q37" d="M168.7,233.7l2.8,-1.2l-1.2,2.3l-2.6,1.1z"/>
<path class="q22" d="M88.7,183.9l2.3,2.8l1.4,2.4l-2.2,-2.7z"/>
<path class="q0" d="M211.6,113.5l-6.2,-3.3l-0.6,2.2l6.1,3.3z"/>
<path class="q39" d="M135.6,239.5l4.2,1.1l0.3,1.6l-4.1,-1z"/>
<path class="q12" d="M68.5,142.4l-1.7,3.5l1.2,1.7l1.6,-3.5z"/>
<path class="q12" d="M212.4,145.8l-4.8,-3.1l-0.7,1.7l4.7,3.1z"/>
<path class="q39" d="M157.2,240.5l3.6,-0.8l-0.6,1.7l-3.5,0.8z"/>
<path class="q35" d="M118.7,224.5l3,1.8l1,2.4l-3,-1.7z"/>
<path class="q16" d="M212.0,158.7l-4,-3.1l-1.5,3.6l3.8,3z"/>
<path class="q29" d="M192.2,208.9l1.5,-2.1l-1.3,1.8l-1.4,2.1z"/>
<path class="q4" d="M60.9,120.9l-6.3,3.3l2.3,2.6l5.7,-3.4z"/>
<path class="q24" d="M202.0,193.7l-0.3,-2.7l-1.6,2.4l0.3,2.6z"/>
<path class="q27" d="M100.3,200.9l2.6,2.2l1.1,2.1l-2.5,-2.2z"/>
<path class="q31" d="M187.9,214.3l1.9,-1.8l-1.4,1.9l-1.7,1.8z"/>
<path class="q36" d="M172.6,230.2l2.6,-1.3l-1.2,2.4l-2.5,1.2z"/>
<path class="q38" d="M131.2,236.5l3.9,1.4l0.5,1.6l-3.9,-1.3z"/>
<path class="q36" d="M122.7,228.7l3.3,1.8l0.8,2.3l-3.2,-1.7z"/>
<path class="q34" d="M180.0,223.1l2.3,-1.5l-1.2,2.1l-2.2,1.4z"/>
<path class="q37" d="M126.8,232.8l3.7,1.6l0.7,2.1l-3.5,-1.5z"/>
<path class="q21" d="M207.2,182.7l-1.7,-2.9l-2.1,3.5l1.5,2.8z"/>
<path class="q35" d="M176.4,226.5l2.5,-1.4l-1.3,2.5l-2.4,1.3z"/>
<path class="q11" d="M67.2,140.5l-1.8,3.6l1.4,1.8l1.7,-3.5z"/>
<path class="q11" d="M213.2,144.1l-4.9,-3.2l-0.7,1.8l4.8,3.1z"/>
<path class="q19" d="M80.5,170.2l1.9,3.2l2,3.4l-1.8,-3z"/>
<path class="q5" d="M213.6,127.7l-5.7,-3.2l-0.9,2.7l5.5,3.1z"/>
<path class="q29" d="M105.0,207.1l2.7,2.1l1,1.9l-2.7,-2.1z"/>
<path class="q3" d="M59.5,118.9l-6.8,3.3l1.9,2l6.3,-3.3z"/>
<path class="q38" d="M161.4,238.0l3.3,-1l-0.7,1.7l-3.2,1z"/>
<path class="q33" d="M114.1,218.7l2.9,1.9l0.8,1.9l-2.8,-1.9z"/>
<path class="q16" d="M73.4,155.9l0.7,3.4l2.1,3.5l-0.6,-3.3z"/>
<path class="q24" d="M93.8,191.5l2.7,2.5l1.2,2.3l-2.5,-2.4z"/>
<path class="q31" d="M109.6,212.9l2.8,2l0.9,1.9l-2.7,-2z"/>
<path class="q39" d="M153.2,241.1l4,-0.6l-0.5,1.7l-3.8,0.6z"/>
<path class="q26" d="M198.1,200.6l0.7,-2.4l-1.6,2.3l-0.7,2.3z"/>
<path class="q39" d="M139.8,240.6l4.5,0.6l0.1,1.6l-4.3,-0.6z"/>
<path class="q10" d="M65.9,138.6l-1.9,3.7l1.4,1.8l1.8,-3.6z"/>
<path class="q2" d="M57.8,116.5l-7.6,3.3l2.5,2.4l6.8,-3.3z"/>
<path class="q32" d="M184.5,217.9l2.2,-1.7l-1.2,1.9l-2.1,1.7z"/>
<path class="q10" d="M214.1,142.3l-5,-3.2l-0.8,1.8l4.9,3.2z"/>
<path class="q18" d="M211.6,169.0l-3.1,-3.1l-1.8,3.8l2.9,3z"/>
<path class="q21" d="M86.5,180.4l2.5,2.8l2,3.5l-2.3,-2.8z"/>
<path class="q37" d="M165.6,234.9l3.1,-1.2l-1,2.2l-3,1.1z"/>
<path class="q28" d="M193.5,207.0l1.5,-2.1l-1.3,1.9l-1.5,2.1z"/>
<path class="q23" d="M203.6,191.3l-0.3,-2.7l-1.6,2.4l0.3,2.7z"/>
<path class="q4" d="M214.5,125.3l-5.8,-3.2l-0.8,2.4l5.7,3.2z"/>
<path class="q26" d="M99.0,198.5l2.7,2.4l1.2,2.2l-2.6,-2.2z"/>
<path class="q39" d="M148.9,241.4l4.3,-0.3l-0.3,1.7l-4.2,0.2z"/>
<path class="q30" d="M189.0,212.6l2,-1.9l-1.2,1.8l-1.9,1.8z"/>
<path class="q15" d="M213.9,155.0l-4.3,-3.1l-1.6,3.7l4,3.1z"/>
<path class="q39" d="M144.3,241.2l4.6,0.2l-0.2,1.6l-4.3,-0.2z"/>
<path class="q9" d="M64.8,137.0l-2,3.7l1.2,1.6l1.9,-3.7z"/>
<path class="q1" d="M56.0,114.1l-8.6,3.2l2.8,2.5l7.6,-3.3z"/>
<path class="q34" d="M117.8,222.5l3.2,1.8l0.7,2l-3,-1.8z"/>
<path class="q9" d="M214.8,140.7l-5.1,-3.2l-0.6,1.6l5,3.2z"/>
<path class="q28" d="M104.0,205.2l2.8,2.2l0.9,1.8l-2.7,-2.1z"/>
<path class="q33" d="M180.9,221.3l2.5,-1.5l-1.1,1.8l-2.3,1.5z"/>
<path class="q36" d="M169.7,231.5l2.9,-1.3l-1.1,2.3l-2.8,1.2z"/>
<path class="q38" d="M135.1,237.9l4.4,1.1l0.3,1.6l-4.2,-1.1z"/>
<path class="q38" d="M157.7,238.9l3.7,-0.9l-0.6,1.7l-3.6,0.8z"/>
<path class="q0" d="M54.1,111.7l-10.1,3.1l3.4,2.5l8.6,-3.2z"/>
<path class="q20" d="M209.5,179.2l-1.8,-3.1l-2.2,3.7l1.7,2.9z"/>
<path class="q8" d="M63.6,135.3l-2.1,3.8l1.3,1.6l2,-3.7z"/>
<path class="q23" d="M92.4,189.1l2.8,2.6l1.3,2.3l-2.7,-2.5z"/>
<path class="q3" d="M215.3,123.4l-5.9,-3.2l-0.7,1.9l5.8,3.2z"/>
<path class="q32" d="M113.3,216.8l2.9,2l0.8,1.8l-2.9,-1.9z"/>
<path class="q15" d="M71.0,152.1l0.8,3.5l2.3,3.7l-0.7,-3.4z"/>
<path class="q18" d="M78.3,166.5l2.1,3.2l2,3.7l-1.9,-3.2z"/>
<path class="q30" d="M108.7,211.1l2.8,2l0.9,1.8l-2.8,-2z"/>
<path class="q25" d="M199.6,198.4l0.8,-2.4l-1.6,2.2l-0.7,2.4z"/>
<path class="q35" d="M173.6,227.9l2.8,-1.4l-1.2,2.4l-2.6,1.3z"/>
<path class="q34" d="M177.4,224.6l2.6,-1.5l-1.1,2l-2.5,1.4z"/>
<path class="q8" d="M215.5,139.1l-5.2,-3.2l-0.6,1.6l5.1,3.2z"/>
<path class="q37" d="M130.5,234.4l4.1,1.4l0.5,2.1l-3.9,-1.4z"/>
<path class="q35" d="M121.7,226.3l3.5,1.8l0.8,2.4l-3.3,-1.8z"/>
<path class="q36" d="M126.0,230.5l3.8,1.6l0.7,2.3l-3.7,-1.6z"/>
<path class="q31" d="M185.6,216.1l2.3,-1.8l-1.2,1.9l-2.2,1.7z"/>
<path class="q27" d="M194.9,205.0l1.6,-2.2l-1.5,2.1l-1.5,2.1z"/>
<path class="q22" d="M205.3,189.0l-0.4,-2.9l-1.6,2.5l0.3,2.7z"/>
<path class="q7" d="M61.5,132.6l-2.2,3.8l2.2,2.7l2.1,-3.8z"/>
<path class="q37" d="M162.1,235.9l3.5,-1l-0.9,2.1l-3.3,1z"/>
<path class="q25" d="M97.7,196.3l2.9,2.4l1.1,2.2l-2.7,-2.4z"/>
<path class="q29" d="M190.2,210.8l2,-1.9l-1.2,1.8l-2,1.9z"/>
<path class="q14" d="M215.4,152.2l-4.5,-3.2l-1.3,2.9l4.3,3.1z"/>
<path class="q17" d="M213.6,165.4l-3.3,-3.2l-1.8,3.7l3.1,3.1z"/>
<path class="q2" d="M216.1,121.2l-6,-3.3l-0.7,2.3l5.9,3.2z"/>
<path class="q38" d="M153.5,239.5l4.2,-0.6l-0.5,1.6l-4,0.6z"/>
<path class="q20" d="M84.4,176.8l2.7,2.9l1.9,3.5l-2.5,-2.8z"/>
<path class="q7" d="M216.7,136.5l-5.3,-3.2l-1.1,2.6l5.2,3.2z"/>
<path class="q38" d="M139.5,239.0l4.7,0.7l0.1,1.5l-4.5,-0.6z"/>
<path class="q27" d="M102.9,203.1l2.9,2.2l1,2.1l-2.8,-2.2z"/>
<path class="q33" d="M117.0,220.6l3.3,2l0.7,1.7l-3.2,-1.8z"/>
<path class="q32" d="M182.0,219.5l2.5,-1.6l-1.1,1.9l-2.5,1.5z"/>
<path class="q22" d="M91.0,186.7l2.9,2.6l1.3,2.4l-2.8,-2.6z"/>
<path class="q14" d="M69.0,149.1l0.9,3.7l1.9,2.8l-0.8,-3.5z"/>
<path class="q29" d="M107.7,209.2l3,2.1l0.8,1.8l-2.8,-2z"/>
<path class="q36" d="M166.4,232.6l3.3,-1.1l-1,2.2l-3.1,1.2z"/>
<path class="q1" d="M217.0,119.0l-6.1,-3.3l-0.8,2.2l6,3.3z"/>
<path class="q38" d="M149.0,239.8l4.5,-0.3l-0.3,1.6l-4.3,0.3z"/>
<path class="q31" d="M112.4,214.9l3,2l0.8,1.9l-2.9,-2z"/>
<path class="q6" d="M59.2,129.6l-2.5,3.9l2.6,2.9l2.2,-3.8z"/>
<path class="q24" d="M201.1,196.2l0.9,-2.5l-1.6,2.3l-0.8,2.4z"/>
<path class="q38" d="M144.2,239.7l4.8,0.1l-0.1,1.6l-4.6,-0.2z"/>
<path class="q13" d="M216.2,150.7l-4.6,-3.2l-0.7,1.5l4.5,3.2z"/>
<path class="q19" d="M211.6,175.8l-2,-3.1l-1.9,3.4l1.8,3.1z"/>
<path class="q17" d="M76.2,162.8l2.3,3.3l1.9,3.6l-2.1,-3.2z"/>
<path class="q33" d="M178.3,222.8l2.6,-1.5l-0.9,1.8l-2.6,1.5z"/>
<path class="q30" d="M186.6,214.3l2.4,-1.7l-1.1,1.7l-2.3,1.8z"/>
<path class="q26" d="M196.4,202.8l1.7,-2.2l-1.6,2.2l-1.6,2.2z"/>
<path class="q6" d="M218.1,133.6l-5.6,-3.3l-1.1,3l5.3,3.2z"/>
<path class="q35" d="M170.6,229.2l3,-1.3l-1,2.3l-2.9,1.3z"/>
<path class="q37" d="M134.6,235.8l4.6,1.2l0.3,2l-4.4,-1.1z"/>
<path class="q37" d="M158.2,236.9l3.9,-1l-0.7,2.1l-3.7,0.9z"/>
<path class="q28" d="M191.4,209.0l2.1,-2l-1.3,1.9l-2,1.9z"/>
<path class="q24" d="M96.5,194.0l2.9,2.4l1.2,2.3l-2.9,-2.4z"/>
<path class="q34" d="M174.5,226.0l2.9,-1.4l-1,1.9l-2.8,1.4z"/>
<path class="q12" d="M217.0,149.1l-4.6,-3.3l-0.8,1.7l4.6,3.2z"/>
<path class="q13" d="M68.0,147.6l0.9,3.7l1,1.5l-0.9,-3.7z"/>
<path class="q34" d="M121.0,224.3l3.5,1.9l0.7,1.9l-3.5,-1.8z"/>
<path class="q21" d="M207.6,185.6l-0.4,-2.9l-2.3,3.4l0.4,2.9z"/>
<path class="q0" d="M217.9,116.8l-6.3,-3.3l-0.7,2.2l6.1,3.3z"/>
<path class="q16" d="M215.5,162.0l-3.5,-3.3l-1.7,3.5l3.3,3.2z"/>
<path class="q5" d="M56.9,126.8l-2.9,3.9l2.7,2.8l2.5,-3.9z"/>
<path class="q26" d="M101.7,200.9l3,2.2l1.1,2.2l-2.9,-2.2z"/>
<path class="q36" d="M129.8,232.1l4.3,1.5l0.5,2.2l-4.1,-1.4z"/>
<path class="q19" d="M82.4,173.4l2.9,3l1.8,3.3l-2.7,-2.9z"/>
<path class="q28" d="M106.8,207.4l3,2.1l0.9,1.8l-3,-2.1z"/>
<path class="q35" d="M125.2,228.1l3.9,1.8l0.7,2.2l-3.8,-1.6z"/>
<path class="q32" d="M116.2,218.8l3.4,1.9l0.7,1.9l-3.3,-2z"/>
<path class="q31" d="M183.0,217.7l2.6,-1.6l-1.1,1.8l-2.5,1.6z"/>
<path class="q12" d="M66.8,145.9l0.9,3.8l1.2,1.6l-0.9,-3.7z"/>
<path class="q11" d="M218.0,147.4l-4.8,-3.3l-0.8,1.7l4.6,3.3z"/>
<path class="q30" d="M111.5,213.1l3.2,2.1l0.7,1.7l-3,-2z"/>
<path class="q21" d="M89.0,183.2l3.1,2.8l1.8,3.3l-2.9,-2.6z"/>
<path class="q23" d="M202.7,193.9l0.9,-2.6l-1.6,2.4l-0.9,2.5z"/>
<path class="q5" d="M219.3,131.0l-5.7,-3.3l-1.1,2.6l5.6,3.3z"/>
<path class="q36" d="M162.8,233.8l3.6,-1.2l-0.8,2.3l-3.5,1z"/>
<path class="q4" d="M54.6,124.2l-3.1,4.1l2.5,2.4l2.9,-3.9z"/>
<path class="q37" d="M153.9,237.5l4.3,-0.6l-0.5,2l-4.2,0.6z"/>
<path class="q29" d="M187.7,212.6l2.5,-1.8l-1.2,1.8l-2.4,1.7z"/>
<path class="q37" d="M139.2,237.0l4.9,0.7l0.1,2l-4.7,-0.7z"/>
<path class="q16" d="M74.1,159.3l2.5,3.4l1.9,3.4l-2.3,-3.3z"/>
<path class="q32" d="M179.2,221.0l2.8,-1.5l-1.1,1.8l-2.6,1.5z"/>
<path class="q18" d="M213.7,172.3l-2.1,-3.3l-2,3.7l2,3.1z"/>
<path class="q27" d="M192.7,207.0l2.2,-2l-1.4,2l-2.1,2z"/>
<path class="q25" d="M197.8,200.7l1.8,-2.3l-1.5,2.2l-1.7,2.2z"/>
<path class="q23" d="M95.2,191.7l3.1,2.4l1.1,2.3l-2.9,-2.4z"/>
<path class="q11" d="M65.4,144.1l1.1,3.9l1.2,1.7l-0.9,-3.8z"/>
<path class="q10" d="M219.0,145.6l-4.9,-3.3l-0.9,1.8l4.8,3.3z"/>
<path class="q3" d="M52.7,122.2l-3.6,4.1l2.4,2l3.1,-4.1z"/>
<path class="q35" d="M167.3,230.4l3.3,-1.2l-0.9,2.3l-3.3,1.1z"/>
<path class="q37" d="M149.1,237.9l4.8,-0.4l-0.4,2l-4.5,0.3z"/>
<path class="q33" d="M175.3,224.2l3,-1.4l-0.9,1.8l-2.9,1.4z"/>
<path class="q33" d="M120.3,222.6l3.6,1.9l0.6,1.7l-3.5,-1.9z"/>
<path class="q37" d="M144.1,237.7l5,0.2l-0.1,1.9l-4.8,-0.1z"/>
<path class="q15" d="M217.6,158.4l-3.7,-3.4l-1.9,3.7l3.5,3.3z"/>
<path class="q4" d="M220.4,128.7l-5.9,-3.4l-0.9,2.4l5.7,3.3z"/>
<path class="q25" d="M100.6,198.7l3.1,2.3l1,2.1l-3,-2.2z"/>
<path class="q34" d="M171.4,227.3l3.1,-1.3l-0.9,1.9l-3,1.3z"/>
<path class="q27" d="M105.8,205.3l3.1,2.2l0.9,2l-3,-2.1z"/>
<path class="q20" d="M210.0,182.2l-0.5,-3l-2.3,3.5l0.4,2.9z"/>
<path class="q10" d="M64.0,142.3l1.2,3.9l1.3,1.8l-1.1,-3.9z"/>
<path class="q2" d="M50.2,119.8l-4.3,4.2l3.2,2.3l3.6,-4.1z"/>
<path class="q9" d="M219.8,144.1l-5,-3.4l-0.7,1.6l4.9,3.3z"/>
<path class="q30" d="M183.9,216.0l2.7,-1.7l-1,1.8l-2.6,1.6z"/>
<path class="q29" d="M110.7,211.3l3.2,2.1l0.8,1.8l-3.2,-2.1z"/>
<path class="q31" d="M115.4,216.9l3.5,2l0.7,1.8l-3.4,-1.9z"/>
<path class="q22" d="M204.4,191.6l0.9,-2.6l-1.7,2.3l-0.9,2.6z"/>
<path class="q18" d="M80.4,169.7l3.1,3.1l1.8,3.6l-2.9,-3z"/>
<path class="q36" d="M158.8,234.7l4,-0.9l-0.7,2.1l-3.9,1z"/>
<path class="q36" d="M134.1,233.6l4.8,1.3l0.3,2.1l-4.6,-1.2z"/>
<path class="q3" d="M221.3,126.8l-6,-3.4l-0.8,1.9l5.9,3.4z"/>
<path class="q28" d="M188.8,210.8l2.6,-1.8l-1.2,1.8l-2.5,1.8z"/>
<path class="q1" d="M47.4,117.3l-5.6,4.2l4.1,2.5l4.3,-4.2z"/>
<path class="q34" d="M124.5,226.2l4.1,1.8l0.5,1.9l-3.9,-1.8z"/>
<path class="q9" d="M62.8,140.7l1.2,4l1.2,1.5l-1.2,-3.9z"/>
<path class="q20" d="M87.1,179.7l3.2,2.8l1.8,3.5l-3.1,-2.8z"/>
<path class="q8" d="M220.7,142.5l-5.2,-3.4l-0.7,1.6l5,3.4z"/>
<path class="q22" d="M93.9,189.3l3.2,2.5l1.2,2.3l-3.1,-2.4z"/>
<path class="q24" d="M199.3,198.6l1.8,-2.4l-1.5,2.2l-1.8,2.3z"/>
<path class="q15" d="M71.8,155.6l2.7,3.6l2.1,3.5l-2.5,-3.4z"/>
<path class="q31" d="M180.1,219.2l2.9,-1.5l-1,1.8l-2.8,1.5z"/>
<path class="q0" d="M44.0,114.8l-12,3.8l9.8,2.9l5.6,-4.2z"/>
<path class="q26" d="M194.1,204.9l2.3,-2.1l-1.5,2.2l-2.2,2z"/>
<path class="q35" d="M129.1,229.9l4.5,1.6l0.5,2.1l-4.3,-1.5z"/>
<path class="q17" d="M215.8,168.8l-2.2,-3.4l-2,3.6l2.1,3.3z"/>
<path class="q14" d="M219.3,155.6l-3.9,-3.4l-1.5,2.8l3.7,3.4z"/>
<path class="q24" d="M99.4,196.4l3.2,2.4l1.1,2.2l-3.1,-2.3z"/>
<path class="q8" d="M61.5,139.1l1.3,4l1.2,1.6l-1.2,-4z"/>
<path class="q35" d="M163.5,231.6l3.8,-1.2l-0.9,2.2l-3.6,1.2z"/>
<path class="q2" d="M222.4,124.6l-6.3,-3.4l-0.8,2.2l6,3.4z"/>
<path class="q32" d="M176.1,222.4l3.1,-1.4l-0.9,1.8l-3,1.4z"/>
<path class="q32" d="M119.6,220.7l3.7,2l0.6,1.8l-3.6,-1.9z"/>
<path class="q26" d="M104.7,203.1l3.2,2.3l1,2.1l-3.1,-2.2z"/>
<path class="q36" d="M154.2,235.5l4.6,-0.8l-0.6,2.2l-4.3,0.6z"/>
<path class="q7" d="M222.1,140.0l-5.4,-3.5l-1.2,2.6l5.2,3.4z"/>
<path class="q28" d="M109.8,209.5l3.4,2.2l0.7,1.7l-3.2,-2.1z"/>
<path class="q29" d="M184.9,214.3l2.8,-1.7l-1.1,1.7l-2.7,1.7z"/>
<path class="q33" d="M172.1,225.6l3.2,-1.4l-0.8,1.8l-3.1,1.3z"/>
<path class="q30" d="M114.7,215.2l3.5,2l0.7,1.7l-3.5,-2z"/>
<path class="q34" d="M167.9,228.6l3.5,-1.3l-0.8,1.9l-3.3,1.2z"/>
<path class="q36" d="M138.9,234.9l5.2,0.7l0,2.1l-4.9,-0.7z"/>
<path class="q19" d="M212.1,178.9l-0.5,-3.1l-2.1,3.4l0.5,3z"/>
<path class="q27" d="M190.0,208.9l2.7,-1.9l-1.3,2l-2.6,1.8z"/>
<path class="q21" d="M206.6,188.4l1,-2.8l-2.3,3.4l-0.9,2.6z"/>
<path class="q7" d="M59.3,136.4l1.4,4.2l2.1,2.5l-1.3,-4z"/>
<path class="q1" d="M223.5,122.5l-6.5,-3.5l-0.9,2.2l6.3,3.4z"/>
<path class="q17" d="M78.5,166.1l3.3,3.2l1.7,3.5l-3.1,-3.1z"/>
<path class="q13" d="M220.2,154.2l-4,-3.5l-0.8,1.5l3.9,3.4z"/>
<path class="q36" d="M149.3,235.8l4.9,-0.3l-0.3,2l-4.8,0.4z"/>
<path class="q14" d="M69.9,152.8l2.8,3.6l1.8,2.8l-2.7,-3.6z"/>
<path class="q36" d="M144.1,235.6l5.2,0.2l-0.2,2.1l-5,-0.2z"/>
<path class="q23" d="M200.8,196.4l1.9,-2.5l-1.6,2.3l-1.8,2.4z"/>
<path class="q30" d="M181.0,217.5l2.9,-1.5l-0.9,1.7l-2.9,1.5z"/>
<path class="q33" d="M123.9,224.5l4.2,1.8l0.5,1.7l-4.1,-1.8z"/>
<path class="q25" d="M195.3,202.9l2.5,-2.2l-1.4,2.1l-2.3,2.1z"/>
<path class="q21" d="M92.1,186.0l3.4,2.6l1.6,3.2l-3.2,-2.5z"/>
<path class="q19" d="M85.3,176.4l3.4,2.8l1.6,3.3l-3.2,-2.8z"/>
<path class="q6" d="M223.7,137.2l-5.6,-3.6l-1.4,2.9l5.4,3.5z"/>
<path class="q23" d="M98.3,194.1l3.3,2.5l1,2.2l-3.2,-2.4z"/>
<path class="q35" d="M159.3,232.6l4.2,-1l-0.7,2.2l-4,0.9z"/>
<path class="q16" d="M217.9,165.4l-2.4,-3.4l-1.9,3.4l2.2,3.4z"/>
<path class="q12" d="M221.2,152.6l-4.2,-3.5l-0.8,1.6l4,3.5z"/>
<path class="q35" d="M133.6,231.5l5,1.2l0.3,2.2l-4.8,-1.3z"/>
<path class="q0" d="M224.6,120.3l-6.7,-3.5l-0.9,2.2l6.5,3.5z"/>
<path class="q31" d="M177.0,220.7l3.1,-1.5l-0.9,1.8l-3.1,1.4z"/>
<path class="q31" d="M118.9,218.9l3.8,2l0.6,1.8l-3.7,-2z"/>
<path class="q34" d="M128.6,228.0l4.6,1.7l0.4,1.8l-4.5,-1.6z"/>
<path class="q25" d="M103.7,201.0l3.3,2.3l0.9,2.1l-3.2,-2.3z"/>
<path class="q28" d="M185.9,212.5l2.9,-1.7l-1.1,1.8l-2.8,1.7z"/>
<path class="q27" d="M108.9,207.5l3.4,2.2l0.9,2l-3.4,-2.2z"/>
<path class="q6" d="M56.7,133.5l1.6,4.2l2.4,2.9l-1.4,-4.2z"/>
<path class="q29" d="M113.9,213.4l3.6,2.2l0.7,1.6l-3.5,-2z"/>
<path class="q13" d="M68.9,151.3l2.9,3.7l0.9,1.4l-2.8,-3.6z"/>
<path class="q32" d="M172.8,223.8l3.3,-1.4l-0.8,1.8l-3.2,1.4z"/>
<path class="q34" d="M164.1,229.8l3.8,-1.2l-0.6,1.8l-3.8,1.2z"/>
<path class="q33" d="M168.5,226.9l3.6,-1.3l-0.7,1.7l-3.5,1.3z"/>
<path class="q11" d="M222.3,150.9l-4.3,-3.5l-1,1.7l4.2,3.5z"/>
<path class="q26" d="M191.2,206.8l2.9,-1.9l-1.4,2.1l-2.7,1.9z"/>
<path class="q5" d="M225.2,134.6l-5.9,-3.6l-1.2,2.6l5.6,3.6z"/>
<path class="q18" d="M214.3,175.5l-0.6,-3.2l-2.1,3.5l0.5,3.1z"/>
<path class="q29" d="M181.8,215.9l3.1,-1.6l-1,1.7l-2.9,1.5z"/>
<path class="q16" d="M76.6,162.7l3.5,3.3l1.7,3.3l-3.3,-3.2z"/>
<path class="q22" d="M202.3,194.1l2.1,-2.5l-1.7,2.3l-1.9,2.5z"/>
<path class="q12" d="M67.7,149.7l3.1,3.7l1,1.6l-2.9,-3.7z"/>
<path class="q24" d="M196.7,200.7l2.6,-2.1l-1.5,2.1l-2.5,2.2z"/>
<path class="q35" d="M154.6,233.3l4.7,-0.7l-0.5,2.1l-4.6,0.8z"/>
<path class="q32" d="M123.3,222.7l4.3,1.9l0.5,1.7l-4.2,-1.8z"/>
<path class="q5" d="M54.0,130.7l2,4.5l2.3,2.5l-1.6,-4.2z"/>
<path class="q20" d="M208.9,185.1l1.1,-2.9l-2.4,3.4l-1,2.8z"/>
<path class="q35" d="M138.6,232.7l5.4,0.8l0.1,2.1l-5.2,-0.7z"/>
<path class="q22" d="M97.1,191.8l3.4,2.5l1.1,2.3l-3.3,-2.5z"/>
<path class="q10" d="M223.5,149.2l-4.5,-3.6l-1,1.8l4.3,3.5z"/>
<path class="q18" d="M83.5,172.8l3.6,3l1.6,3.4l-3.4,-2.8z"/>
<path class="q30" d="M177.7,219.0l3.3,-1.5l-0.9,1.7l-3.1,1.5z"/>
<path class="q24" d="M102.6,198.8l3.5,2.4l0.9,2.1l-3.3,-2.3z"/>
<path class="q20" d="M90.3,182.5l3.6,2.7l1.6,3.4l-3.4,-2.6z"/>
<path class="q15" d="M220.2,161.9l-2.6,-3.5l-2.1,3.6l2.4,3.4z"/>
<path class="q30" d="M118.2,217.2l3.9,2.1l0.6,1.6l-3.8,-2z"/>
<path class="q27" d="M186.9,210.7l3.1,-1.8l-1.2,1.9l-2.9,1.7z"/>
<path class="q28" d="M113.2,211.7l3.7,2.1l0.6,1.8l-3.6,-2.2z"/>
<path class="q26" d="M107.9,205.4l3.6,2.2l0.8,2.1l-3.4,-2.2z"/>
<path class="q11" d="M66.5,148.0l3.2,3.8l1.1,1.6l-3.1,-3.7z"/>
<path class="q4" d="M226.6,132.3l-6.2,-3.6l-1.1,2.3l5.9,3.6z"/>
<path class="q35" d="M149.4,233.7l5.2,-0.4l-0.4,2.2l-4.9,0.3z"/>
<path class="q33" d="M128.1,226.3l4.7,1.7l0.4,1.7l-4.6,-1.7z"/>
<path class="q35" d="M144.0,233.5l5.4,0.2l-0.1,2.1l-5.2,-0.2z"/>
<path class="q31" d="M173.5,222.1l3.5,-1.4l-0.9,1.7l-3.3,1.4z"/>
<path class="q4" d="M51.5,128.3l2.3,4.6l2.2,2.3l-2,-4.5z"/>
<path class="q34" d="M159.7,230.8l4.4,-1l-0.6,1.8l-4.2,1z"/>
<path class="q9" d="M224.5,147.7l-4.7,-3.6l-0.8,1.5l4.5,3.6z"/>
<path class="q34" d="M133.2,229.7l5.2,1.3l0.2,1.7l-5,-1.2z"/>
<path class="q32" d="M169.1,225.2l3.7,-1.4l-0.7,1.8l-3.6,1.3z"/>
<path class="q33" d="M164.6,228.1l3.9,-1.2l-0.6,1.7l-3.8,1.2z"/>
<path class="q25" d="M192.4,204.8l2.9,-1.9l-1.2,2l-2.9,1.9z"/>
<path class="q28" d="M182.7,214.2l3.2,-1.7l-1,1.8l-3.1,1.6z"/>
<path class="q10" d="M65.2,146.2l3.4,3.9l1.1,1.7l-3.2,-3.8z"/>
<path class="q3" d="M227.7,130.5l-6.4,-3.7l-0.9,1.9l6.2,3.6z"/>
<path class="q23" d="M198.1,198.6l2.7,-2.2l-1.5,2.2l-2.6,2.1z"/>
<path class="q15" d="M74.5,159.2l3.7,3.3l1.9,3.5l-3.5,-3.3z"/>
<path class="q3" d="M49.1,126.3l2.7,4.7l2,1.9l-2.3,-4.6z"/>
<path class="q8" d="M225.5,146.2l-4.8,-3.7l-0.9,1.6l4.7,3.6z"/>
<path class="q17" d="M216.5,172.1l-0.7,-3.3l-2.1,3.5l0.6,3.2z"/>
<path class="q21" d="M204.4,191.0l2.2,-2.6l-2.2,3.2l-2.1,2.5z"/>
<path class="q31" d="M122.7,220.9l4.4,2l0.5,1.7l-4.3,-1.9z"/>
<path class="q29" d="M178.5,217.4l3.3,-1.5l-0.8,1.6l-3.3,1.5z"/>
<path class="q21" d="M95.5,188.6l3.6,2.5l1.4,3.2l-3.4,-2.5z"/>
<path class="q29" d="M117.5,215.6l4.1,2.1l0.5,1.6l-3.9,-2.1z"/>
<path class="q23" d="M101.6,196.6l3.5,2.3l1,2.3l-3.5,-2.4z"/>
<path class="q27" d="M112.3,209.7l3.8,2.2l0.8,1.9l-3.7,-2.1z"/>
<path class="q14" d="M222.2,159.3l-2.9,-3.7l-1.7,2.8l2.6,3.5z"/>
<path class="q19" d="M211.0,181.9l1.1,-3l-2.1,3.3l-1.1,2.9z"/>
<path class="q9" d="M64.0,144.7l3.6,3.9l1,1.5l-3.4,-3.9z"/>
<path class="q25" d="M107.0,203.3l3.7,2.3l0.8,2l-3.6,-2.2z"/>
<path class="q26" d="M188.1,208.6l3.1,-1.8l-1.2,2.1l-3.1,1.8z"/>
<path class="q34" d="M154.8,231.6l4.9,-0.8l-0.4,1.8l-4.7,0.7z"/>
<path class="q2" d="M229.0,128.4l-6.6,-3.8l-1.1,2.2l6.4,3.7z"/>
<path class="q2" d="M45.9,124.0l3.4,4.8l2.5,2.2l-2.7,-4.7z"/>
<path class="q17" d="M81.8,169.3l3.8,3.1l1.5,3.4l-3.6,-3z"/>
<path class="q19" d="M88.7,179.2l3.8,2.8l1.4,3.2l-3.6,-2.7z"/>
<path class="q34" d="M138.4,231.0l5.5,0.8l0.1,1.7l-5.4,-0.8z"/>
<path class="q30" d="M174.2,220.5l3.5,-1.5l-0.7,1.7l-3.5,1.4z"/>
<path class="q32" d="M127.6,224.6l4.9,1.8l0.3,1.6l-4.7,-1.7z"/>
<path class="q7" d="M227.2,143.8l-5.1,-3.8l-1.4,2.5l4.8,3.7z"/>
<path class="q8" d="M62.8,143.1l3.7,4l1.1,1.5l-3.6,-3.9z"/>
<path class="q33" d="M160.1,229.2l4.5,-1.1l-0.5,1.7l-4.4,1z"/>
<path class="q24" d="M193.6,202.7l3.1,-2l-1.4,2.2l-2.9,1.9z"/>
<path class="q31" d="M169.8,223.5l3.7,-1.4l-0.7,1.7l-3.7,1.4z"/>
<path class="q27" d="M183.6,212.3l3.3,-1.6l-1,1.8l-3.2,1.7z"/>
<path class="q33" d="M132.8,228.0l5.3,1.4l0.3,1.6l-5.2,-1.3z"/>
<path class="q32" d="M165.1,226.5l4,-1.3l-0.6,1.7l-3.9,1.2z"/>
<path class="q1" d="M41.8,121.5l4.7,5.1l2.8,2.2l-3.4,-4.8z"/>
<path class="q34" d="M149.5,232.0l5.3,-0.4l-0.2,1.7l-5.2,0.4z"/>
<path class="q13" d="M223.2,157.9l-3,-3.7l-0.9,1.4l2.9,3.7z"/>
<path class="q1" d="M230.4,126.2l-6.9,-3.7l-1.1,2.1l6.6,3.8z"/>
<path class="q14" d="M72.7,156.4l4,3.4l1.5,2.7l-3.7,-3.3z"/>
<path class="q22" d="M199.4,196.4l2.9,-2.3l-1.5,2.3l-2.7,2.2z"/>
<path class="q34" d="M143.9,231.8l5.6,0.2l-0.1,1.7l-5.4,-0.2z"/>
<path class="q30" d="M122.1,219.3l4.5,2l0.5,1.6l-4.4,-2z"/>
<path class="q0" d="M32.0,118.6l11.1,5.8l3.4,2.2l-4.7,-5.1z"/>
<path class="q28" d="M179.3,215.7l3.4,-1.5l-0.9,1.7l-3.3,1.5z"/>
<path class="q28" d="M116.9,213.8l4.1,2.2l0.6,1.7l-4.1,-2.1z"/>
<path class="q16" d="M218.6,168.9l-0.7,-3.5l-2.1,3.4l0.7,3.3z"/>
<path class="q22" d="M100.5,194.3l3.7,2.4l0.9,2.2l-3.5,-2.3z"/>
<path class="q7" d="M60.7,140.6l4.1,4l1.7,2.5l-3.7,-4z"/>
<path class="q26" d="M111.5,207.6l3.9,2.3l0.7,2l-3.8,-2.2z"/>
<path class="q6" d="M229.2,141.0l-5.5,-3.8l-1.6,2.8l5.1,3.8z"/>
<path class="q24" d="M106.1,201.2l3.7,2.3l0.9,2.1l-3.7,-2.3z"/>
<path class="q25" d="M189.1,206.6l3.3,-1.8l-1.2,2l-3.1,1.8z"/>
<path class="q12" d="M224.3,156.4l-3.1,-3.8l-1,1.6l3,3.7z"/>
<path class="q20" d="M206.5,187.7l2.4,-2.6l-2.3,3.3l-2.2,2.6z"/>
<path class="q0" d="M231.7,124.1l-7.1,-3.8l-1.1,2.2l6.9,3.7z"/>
<path class="q29" d="M174.9,218.9l3.6,-1.5l-0.8,1.6l-3.5,1.5z"/>
<path class="q18" d="M213.1,178.6l1.2,-3.1l-2.2,3.4l-1.1,3z"/>
<path class="q20" d="M93.9,185.2l3.8,2.6l1.4,3.3l-3.6,-2.5z"/>
<path class="q33" d="M155.1,230.0l5,-0.8l-0.4,1.6l-4.9,0.8z"/>
<path class="q13" d="M71.8,155.0l4.1,3.5l0.8,1.3l-4,-3.4z"/>
<path class="q16" d="M80.1,166.0l4,3.1l1.5,3.3l-3.8,-3.1z"/>
<path class="q31" d="M127.1,222.9l5,1.8l0.4,1.7l-4.9,-1.8z"/>
<path class="q33" d="M138.1,229.4l5.7,0.8l0.1,1.6l-5.5,-0.8z"/>
<path class="q18" d="M87.1,175.8l3.9,2.8l1.5,3.4l-3.8,-2.8z"/>
<path class="q23" d="M194.8,200.6l3.3,-2l-1.4,2.1l-3.1,2z"/>
<path class="q30" d="M170.3,221.9l3.9,-1.4l-0.7,1.6l-3.7,1.4z"/>
<path class="q26" d="M184.7,210.3l3.4,-1.7l-1.2,2.1l-3.3,1.6z"/>
<path class="q32" d="M160.5,227.6l4.6,-1.1l-0.5,1.6l-4.5,1.1z"/>
<path class="q11" d="M225.6,154.7l-3.3,-3.8l-1.1,1.7l3.1,3.8z"/>
<path class="q31" d="M165.6,224.8l4.2,-1.3l-0.7,1.7l-4,1.3z"/>
<path class="q32" d="M132.5,226.4l5.4,1.4l0.2,1.6l-5.3,-1.4z"/>
<path class="q6" d="M58.3,137.7l4.5,4.2l2,2.7l-4.1,-4z"/>
<path class="q5" d="M231.1,138.5l-5.9,-3.9l-1.5,2.6l5.5,3.8z"/>
<path class="q29" d="M121.6,217.7l4.6,2.1l0.4,1.5l-4.5,-2z"/>
<path class="q12" d="M70.8,153.4l4.2,3.5l0.9,1.6l-4.1,-3.5z"/>
<path class="q33" d="M149.6,230.4l5.5,-0.4l-0.3,1.6l-5.3,0.4z"/>
<path class="q21" d="M201.4,193.3l3,-2.3l-2.1,3.1l-2.9,2.3z"/>
<path class="q27" d="M116.1,211.9l4.3,2.3l0.6,1.8l-4.1,-2.2z"/>
<path class="q33" d="M143.8,230.2l5.8,0.2l-0.1,1.6l-5.6,-0.2z"/>
<path class="q27" d="M180.1,213.9l3.5,-1.6l-0.9,1.9l-3.4,1.5z"/>
<path class="q25" d="M110.7,205.6l4,2.3l0.7,2l-3.9,-2.3z"/>
<path class="q23" d="M105.1,198.9l3.9,2.4l0.8,2.2l-3.7,-2.3z"/>
<path class="q15" d="M221.0,165.5l-0.8,-3.6l-2.3,3.5l0.7,3.5z"/>
<path class="q10" d="M226.9,153.1l-3.4,-3.9l-1.2,1.7l3.3,3.8z"/>
<path class="q24" d="M190.2,204.6l3.4,-1.9l-1.2,2.1l-3.3,1.8z"/>
<path class="q21" d="M99.1,191.1l3.8,2.5l1.3,3.1l-3.7,-2.4z"/>
<path class="q28" d="M175.6,217.3l3.7,-1.6l-0.8,1.7l-3.6,1.5z"/>
<path class="q11" d="M69.7,151.8l4.4,3.5l0.9,1.6l-4.2,-3.5z"/>
<path class="q4" d="M232.8,136.3l-6.2,-4l-1.4,2.3l5.9,3.9z"/>
<path class="q32" d="M155.3,228.4l5.2,-0.8l-0.4,1.6l-5,0.8z"/>
<path class="q30" d="M126.6,221.3l5.1,1.9l0.4,1.5l-5,-1.8z"/>
<path class="q5" d="M56.0,135.2l5,4.2l1.8,2.5l-4.5,-4.2z"/>
<path class="q19" d="M208.4,184.7l2.6,-2.8l-2.1,3.2l-2.4,2.6z"/>
<path class="q15" d="M78.2,162.5l4.2,3.2l1.7,3.4l-4,-3.1z"/>
<path class="q29" d="M170.9,220.3l4,-1.4l-0.7,1.6l-3.9,1.4z"/>
<path class="q22" d="M196.1,198.5l3.3,-2.1l-1.3,2.2l-3.3,2z"/>
<path class="q17" d="M215.2,175.3l1.3,-3.2l-2.2,3.4l-1.2,3.1z"/>
<path class="q19" d="M92.5,182.0l3.9,2.7l1.3,3.1l-3.8,-2.6z"/>
<path class="q9" d="M228.1,151.7l-3.6,-4l-1,1.5l3.4,3.9z"/>
<path class="q25" d="M185.6,208.4l3.5,-1.8l-1,2l-3.4,1.7z"/>
<path class="q32" d="M137.9,227.8l5.9,0.9l0,1.5l-5.7,-0.8z"/>
<path class="q31" d="M160.9,226.0l4.7,-1.2l-0.5,1.7l-4.6,1.1z"/>
<path class="q30" d="M166.1,223.2l4.2,-1.3l-0.5,1.6l-4.2,1.3z"/>
<path class="q17" d="M85.6,172.4l4,2.8l1.4,3.4l-3.9,-2.8z"/>
<path class="q28" d="M121.0,216.0l4.7,2.1l0.5,1.7l-4.6,-2.1z"/>
<path class="q31" d="M132.1,224.7l5.6,1.5l0.2,1.6l-5.4,-1.4z"/>
<path class="q10" d="M68.6,150.1l4.5,3.6l1,1.6l-4.4,-3.5z"/>
<path class="q3" d="M234.2,134.6l-6.5,-4.1l-1.1,1.8l6.2,4z"/>
<path class="q26" d="M115.4,209.9l4.3,2.3l0.7,2l-4.3,-2.3z"/>
<path class="q32" d="M149.7,228.8l5.6,-0.4l-0.2,1.6l-5.5,0.4z"/>
<path class="q26" d="M181.0,211.9l3.7,-1.6l-1.1,2l-3.5,1.6z"/>
<path class="q22" d="M104.2,196.7l3.9,2.5l0.9,2.1l-3.9,-2.4z"/>
<path class="q8" d="M229.3,150.2l-3.8,-4l-1,1.5l3.6,4z"/>
<path class="q24" d="M109.8,203.5l4.1,2.4l0.8,2l-4,-2.3z"/>
<path class="q32" d="M143.8,228.7l5.9,0.1l-0.1,1.6l-5.8,-0.2z"/>
<path class="q4" d="M53.8,132.9l5.5,4.3l1.7,2.2l-5,-4.2z"/>
<path class="q14" d="M223.0,162.9l-0.8,-3.6l-2,2.6l0.8,3.6z"/>
<path class="q23" d="M191.3,202.5l3.5,-1.9l-1.2,2.1l-3.4,1.9z"/>
<path class="q27" d="M176.3,215.5l3.8,-1.6l-0.8,1.8l-3.7,1.6z"/>
<path class="q9" d="M67.6,148.6l4.6,3.6l0.9,1.5l-4.5,-3.6z"/>
<path class="q20" d="M203.3,190.1l3.2,-2.4l-2.1,3.3l-3,2.3z"/>
<path class="q29" d="M126.2,219.8l5.2,1.9l0.3,1.5l-5.1,-1.9z"/>
<path class="q2" d="M236.0,132.5l-7,-4.1l-1.3,2.1l6.5,4.1z"/>
<path class="q20" d="M97.7,187.8l3.9,2.6l1.3,3.2l-3.8,-2.5z"/>
<path class="q28" d="M171.5,218.7l4.1,-1.4l-0.7,1.6l-4,1.4z"/>
<path class="q14" d="M76.7,159.8l4.4,3.3l1.3,2.6l-4.2,-3.2z"/>
<path class="q31" d="M155.6,226.8l5.3,-0.8l-0.4,1.6l-5.2,0.8z"/>
<path class="q3" d="M51.8,131.0l6,4.5l1.5,1.7l-5.5,-4.3z"/>
<path class="q7" d="M231.3,147.8l-4.1,-4l-1.7,2.4l3.8,4z"/>
<path class="q24" d="M186.6,206.3l3.6,-1.7l-1.1,2l-3.5,1.8z"/>
<path class="q29" d="M166.5,221.7l4.4,-1.4l-0.6,1.6l-4.2,1.3z"/>
<path class="q8" d="M66.5,147.1l4.9,3.7l0.8,1.4l-4.6,-3.6z"/>
<path class="q21" d="M197.8,195.4l3.6,-2.1l-2,3.1l-3.3,2.1z"/>
<path class="q16" d="M217.2,172.1l1.4,-3.2l-2.1,3.2l-1.3,3.2z"/>
<path class="q27" d="M120.4,214.2l4.8,2.2l0.5,1.7l-4.7,-2.1z"/>
<path class="q18" d="M210.4,181.4l2.7,-2.8l-2.1,3.3l-2.6,2.8z"/>
<path class="q31" d="M137.7,226.2l6,0.9l0.1,1.6l-5.9,-0.9z"/>
<path class="q30" d="M161.2,224.4l4.9,-1.2l-0.5,1.6l-4.7,1.2z"/>
<path class="q13" d="M224.1,161.6l-0.9,-3.7l-1,1.4l0.8,3.6z"/>
<path class="q18" d="M91.0,178.6l4.1,2.7l1.3,3.4l-3.9,-2.7z"/>
<path class="q30" d="M131.7,223.2l5.8,1.5l0.2,1.5l-5.6,-1.5z"/>
<path class="q16" d="M84.1,169.1l4.2,2.9l1.3,3.2l-4,-2.8z"/>
<path class="q25" d="M114.7,207.9l4.4,2.4l0.6,1.9l-4.3,-2.3z"/>
<path class="q1" d="M237.8,130.4l-7.4,-4.2l-1.4,2.2l7,4.1z"/>
<path class="q25" d="M181.8,210.0l3.8,-1.6l-0.9,1.9l-3.7,1.6z"/>
<path class="q23" d="M109.0,201.3l4.2,2.5l0.7,2.1l-4.1,-2.4z"/>
<path class="q31" d="M149.8,227.3l5.8,-0.5l-0.3,1.6l-5.6,0.4z"/>
<path class="q2" d="M49.3,128.8l6.8,4.6l1.7,2.1l-6,-4.5z"/>
<path class="q13" d="M75.9,158.5l4.5,3.2l0.7,1.4l-4.4,-3.3z"/>
<path class="q22" d="M192.4,200.4l3.7,-1.9l-1.3,2.1l-3.5,1.9z"/>
<path class="q31" d="M143.7,227.1l6.1,0.2l-0.1,1.5l-5.9,-0.1z"/>
<path class="q21" d="M102.9,193.6l4.1,2.5l1.1,3.1l-3.9,-2.5z"/>
<path class="q12" d="M225.3,160.1l-1,-3.7l-1.1,1.5l0.9,3.7z"/>
<path class="q26" d="M177.1,213.5l3.9,-1.6l-0.9,2l-3.8,1.6z"/>
<path class="q7" d="M64.8,144.6l5.1,3.8l1.5,2.4l-4.9,-3.7z"/>
<path class="q6" d="M233.7,145.2l-4.5,-4.2l-2,2.8l4.1,4z"/>
<path class="q28" d="M125.7,218.1l5.3,2l0.4,1.6l-5.2,-1.9z"/>
<path class="q27" d="M172.1,217.0l4.2,-1.5l-0.7,1.8l-4.1,1.4z"/>
<path class="q0" d="M239.8,128.3l-8.1,-4.2l-1.3,2.1l7.4,4.2z"/>
<path class="q19" d="M205.0,187.1l3.4,-2.4l-1.9,3l-3.2,2.4z"/>
<path class="q30" d="M155.8,225.4l5.4,-1l-0.3,1.6l-5.3,0.8z"/>
<path class="q12" d="M75.0,156.9l4.7,3.3l0.7,1.5l-4.5,-3.2z"/>
<path class="q28" d="M167.0,220.1l4.5,-1.4l-0.6,1.6l-4.4,1.4z"/>
<path class="q23" d="M187.6,204.3l3.7,-1.8l-1.1,2.1l-3.6,1.7z"/>
<path class="q1" d="M46.5,126.6l7.7,4.8l1.9,2l-6.8,-4.6z"/>
<path class="q29" d="M161.6,222.9l4.9,-1.2l-0.4,1.5l-4.9,1.2z"/>
<path class="q19" d="M96.4,184.7l4.1,2.6l1.1,3.1l-3.9,-2.6z"/>
<path class="q11" d="M226.6,158.6l-1,-3.9l-1.3,1.7l1,3.7z"/>
<path class="q26" d="M119.7,212.2l4.9,2.2l0.6,2l-4.8,-2.2z"/>
<path class="q30" d="M137.5,224.7l6.2,0.9l0,1.5l-6,-0.9z"/>
<path class="q29" d="M131.4,221.7l5.9,1.5l0.2,1.5l-5.8,-1.5z"/>
<path class="q15" d="M219.5,168.9l1.5,-3.4l-2.4,3.4l-1.4,3.2z"/>
<path class="q24" d="M113.9,205.9l4.6,2.4l0.6,2l-4.4,-2.4z"/>
<path class="q15" d="M82.4,165.7l4.5,3l1.4,3.3l-4.2,-2.9z"/>
<path class="q17" d="M212.3,178.1l2.9,-2.8l-2.1,3.3l-2.7,2.8z"/>
<path class="q17" d="M89.6,175.2l4.3,2.8l1.2,3.3l-4.1,-2.7z"/>
<path class="q24" d="M182.7,208.0l3.9,-1.7l-1,2.1l-3.8,1.6z"/>
<path class="q22" d="M108.1,199.2l4.3,2.5l0.8,2.1l-4.2,-2.5z"/>
<path class="q6" d="M62.8,141.9l5.5,3.9l1.6,2.6l-5.1,-3.8z"/>
<path class="q11" d="M74.1,155.3l4.7,3.3l0.9,1.6l-4.7,-3.3z"/>
<path class="q20" d="M199.5,192.3l3.8,-2.2l-1.9,3.2l-3.6,2.1z"/>
<path class="q5" d="M236.0,142.8l-4.9,-4.3l-1.9,2.5l4.5,4.2z"/>
<path class="q30" d="M149.9,225.8l5.9,-0.4l-0.2,1.4l-5.8,0.5z"/>
<path class="q0" d="M43.1,124.4l9.2,4.9l1.9,2.1l-7.7,-4.8z"/>
<path class="q30" d="M143.7,225.6l6.2,0.2l-0.1,1.5l-6.1,-0.2z"/>
<path class="q10" d="M228.0,157.0l-1.1,-3.9l-1.3,1.6l1,3.9z"/>
<path class="q25" d="M177.8,211.6l4,-1.6l-0.8,1.9l-3.9,1.6z"/>
<path class="q21" d="M194.0,197.4l3.8,-2l-1.7,3.1l-3.7,1.9z"/>
<path class="q27" d="M125.2,216.4l5.5,2l0.3,1.7l-5.3,-2z"/>
<path class="q20" d="M101.6,190.4l4.3,2.5l1.1,3.2l-4.1,-2.5z"/>
<path class="q26" d="M172.8,215.0l4.3,-1.5l-0.8,2l-4.2,1.5z"/>
<path class="q29" d="M156.1,223.9l5.5,-1l-0.4,1.5l-5.4,1z"/>
<path class="q10" d="M73.1,153.7l4.9,3.3l0.8,1.6l-4.7,-3.3z"/>
<path class="q27" d="M167.5,218.4l4.6,-1.4l-0.6,1.7l-4.5,1.4z"/>
<path class="q22" d="M188.5,202.2l3.9,-1.8l-1.1,2.1l-3.7,1.8z"/>
<path class="q28" d="M162.0,221.4l5,-1.3l-0.5,1.6l-4.9,1.2z"/>
<path class="q5" d="M61.0,139.4l5.8,4l1.5,2.4l-5.5,-3.9z"/>
<path class="q9" d="M229.3,155.6l-1.2,-3.9l-1.2,1.4l1.1,3.9z"/>
<path class="q4" d="M238.3,140.7l-5.5,-4.4l-1.7,2.2l4.9,4.3z"/>
<path class="q29" d="M137.3,223.2l6.3,0.9l0.1,1.5l-6.2,-0.9z"/>
<path class="q28" d="M131.0,220.1l6.1,1.6l0.2,1.5l-5.9,-1.5z"/>
<path class="q25" d="M119.1,210.3l5,2.3l0.5,1.8l-4.9,-2.2z"/>
<path class="q18" d="M206.7,183.9l3.7,-2.5l-2,3.3l-3.4,2.4z"/>
<path class="q18" d="M95.1,181.3l4.3,2.7l1.1,3.3l-4.1,-2.6z"/>
<path class="q14" d="M221.4,166.4l1.6,-3.5l-2,2.6l-1.5,3.4z"/>
<path class="q23" d="M113.2,203.8l4.6,2.4l0.7,2.1l-4.6,-2.4z"/>
<path class="q14" d="M81.1,163.1l4.6,3l1.2,2.6l-4.5,-3z"/>
<path class="q23" d="M183.6,206.0l4,-1.7l-1,2l-3.9,1.7z"/>
<path class="q9" d="M72.2,152.2l5.1,3.4l0.7,1.4l-4.9,-3.3z"/>
<path class="q29" d="M150.0,224.3l6.1,-0.4l-0.3,1.5l-5.9,0.4z"/>
<path class="q16" d="M88.3,172.0l4.4,2.9l1.2,3.1l-4.3,-2.8z"/>
<path class="q21" d="M107.0,196.1l4.4,2.6l1,3l-4.3,-2.5z"/>
<path class="q16" d="M214.2,175.1l3,-3l-2,3.2l-2.9,2.8z"/>
<path class="q29" d="M143.6,224.1l6.4,0.2l-0.1,1.5l-6.2,-0.2z"/>
<path class="q8" d="M230.6,154.2l-1.3,-4l-1.2,1.5l1.2,3.9z"/>
<path class="q24" d="M178.6,209.7l4.1,-1.7l-0.9,2l-4,1.6z"/>
<path class="q3" d="M240.2,139.0l-6,-4.4l-1.4,1.7l5.5,4.4z"/>
<path class="q19" d="M201.0,189.3l4,-2.2l-1.7,3l-3.8,2.2z"/>
<path class="q4" d="M59.3,137.2l6.2,4l1.3,2.2l-5.8,-4z"/>
<path class="q26" d="M124.6,214.4l5.7,2.1l0.4,1.9l-5.5,-2z"/>
<path class="q8" d="M71.4,150.8l5.1,3.4l0.8,1.4l-5.1,-3.4z"/>
<path class="q28" d="M156.3,222.4l5.7,-1l-0.4,1.5l-5.5,1z"/>
<path class="q25" d="M173.4,213.2l4.4,-1.6l-0.7,1.9l-4.3,1.5z"/>
<path class="q13" d="M222.5,165.1l1.6,-3.5l-1.1,1.3l-1.6,3.5z"/>
<path class="q13" d="M80.4,161.7l4.7,3.1l0.6,1.3l-4.6,-3z"/>
<path class="q26" d="M168.1,216.5l4.7,-1.5l-0.7,2l-4.6,1.4z"/>
<path class="q27" d="M162.4,219.7l5.1,-1.3l-0.5,1.7l-5,1.3z"/>
<path class="q20" d="M195.5,194.3l4,-2l-1.7,3.1l-3.8,2z"/>
<path class="q19" d="M100.5,187.3l4.4,2.6l1,3l-4.3,-2.5z"/>
<path class="q28" d="M137.1,221.7l6.4,0.9l0.1,1.5l-6.3,-0.9z"/>
<path class="q24" d="M118.5,208.3l5.1,2.3l0.5,2l-5,-2.3z"/>
<path class="q27" d="M130.7,218.4l6.1,1.6l0.3,1.7l-6.1,-1.6z"/>
<path class="q21" d="M189.9,199.2l4.1,-1.8l-1.6,3l-3.9,1.8z"/>
<path class="q7" d="M232.8,152.0l-1.5,-4.2l-2,2.4l1.3,4z"/>
<path class="q2" d="M242.7,137.1l-6.7,-4.6l-1.8,2.1l6,4.4z"/>
<path class="q22" d="M112.4,201.7l4.8,2.5l0.6,2l-4.6,-2.4z"/>
<path class="q3" d="M57.8,135.5l6.6,4l1.1,1.7l-6.2,-4z"/>
<path class="q22" d="M184.4,203.9l4.1,-1.7l-0.9,2.1l-4,1.7z"/>
<path class="q17" d="M208.4,180.7l3.9,-2.6l-1.9,3.3l-3.7,2.5z"/>
<path class="q12" d="M79.7,160.2l4.7,3.1l0.7,1.5l-4.7,-3.1z"/>
<path class="q28" d="M150.1,222.8l6.2,-0.4l-0.2,1.5l-6.1,0.4z"/>
<path class="q12" d="M223.6,163.7l1.7,-3.6l-1.2,1.5l-1.6,3.5z"/>
<path class="q7" d="M69.9,148.4l5.4,3.5l1.2,2.3l-5.1,-3.4z"/>
<path class="q17" d="M93.9,178.0l4.4,2.7l1.1,3.3l-4.3,-2.7z"/>
<path class="q28" d="M143.5,222.6l6.6,0.2l-0.1,1.5l-6.4,-0.2z"/>
<path class="q15" d="M86.9,168.7l4.5,2.9l1.3,3.3l-4.4,-2.9z"/>
<path class="q23" d="M179.3,207.7l4.3,-1.7l-0.9,2l-4.1,1.7z"/>
<path class="q15" d="M216.2,171.9l3.3,-3l-2.3,3.2l-3,3z"/>
<path class="q1" d="M245.6,135.1l-7.8,-4.7l-1.8,2.1l6.7,4.6z"/>
<path class="q25" d="M124.1,212.6l5.8,2.1l0.4,1.8l-5.7,-2.1z"/>
<path class="q20" d="M105.9,192.9l4.6,2.6l0.9,3.2l-4.4,-2.6z"/>
<path class="q2" d="M56.1,133.4l6.9,4.1l1.4,2l-6.6,-4z"/>
<path class="q24" d="M174.1,211.3l4.5,-1.6l-0.8,1.9l-4.4,1.6z"/>
<path class="q27" d="M156.6,220.7l5.8,-1l-0.4,1.7l-5.7,1z"/>
<path class="q11" d="M78.8,158.6l4.9,3.2l0.7,1.5l-4.7,-3.1z"/>
<path class="q11" d="M224.8,162.2l1.8,-3.6l-1.3,1.5l-1.7,3.6z"/>
<path class="q6" d="M235.4,149.5l-1.7,-4.3l-2.4,2.6l1.5,4.2z"/>
<path class="q18" d="M202.6,186.1l4.1,-2.2l-1.7,3.2l-4,2.2z"/>
<path class="q25" d="M168.6,214.7l4.8,-1.5l-0.6,1.8l-4.7,1.5z"/>
<path class="q26" d="M162.8,217.8l5.3,-1.3l-0.6,1.9l-5.1,1.3z"/>
<path class="q27" d="M136.8,220.0l6.7,1l0,1.6l-6.4,-0.9z"/>
<path class="q23" d="M117.8,206.2l5.3,2.4l0.5,2l-5.1,-2.3z"/>
<path class="q6" d="M68.3,145.8l5.7,3.5l1.3,2.6l-5.4,-3.5z"/>
<path class="q26" d="M130.3,216.5l6.3,1.7l0.2,1.8l-6.1,-1.6z"/>
<path class="q18" d="M99.4,184.0l4.5,2.7l1,3.2l-4.4,-2.6z"/>
<path class="q19" d="M196.8,191.4l4.2,-2.1l-1.5,3l-4,2z"/>
<path class="q0" d="M249.0,133.2l-9.2,-4.9l-2,2.1l7.8,4.7z"/>
<path class="q1" d="M54.2,131.4l7.5,4.1l1.3,2l-6.9,-4.1z"/>
<path class="q21" d="M111.4,198.7l5,2.5l0.8,3l-4.8,-2.5z"/>
<path class="q10" d="M78.0,157.0l5,3.2l0.7,1.6l-4.9,-3.2z"/>
<path class="q27" d="M150.2,221.2l6.4,-0.5l-0.3,1.7l-6.2,0.4z"/>
<path class="q10" d="M226.1,160.6l1.9,-3.6l-1.4,1.6l-1.8,3.6z"/>
<path class="q20" d="M191.2,196.2l4.3,-1.9l-1.5,3.1l-4.1,1.8z"/>
<path class="q21" d="M185.6,201.0l4.3,-1.8l-1.4,3l-4.1,1.7z"/>
<path class="q27" d="M143.5,221.0l6.7,0.2l-0.1,1.6l-6.6,-0.2z"/>
<path class="q14" d="M85.7,166.1l4.7,3l1,2.5l-4.5,-2.9z"/>
<path class="q16" d="M92.7,174.9l4.5,2.8l1.1,3l-4.4,-2.7z"/>
<path class="q16" d="M210.1,177.7l4.1,-2.6l-1.9,3l-3.9,2.6z"/>
<path class="q22" d="M180.1,205.6l4.3,-1.7l-0.8,2.1l-4.3,1.7z"/>
<path class="q14" d="M217.9,169.4l3.5,-3l-1.9,2.5l-3.3,3z"/>
<path class="q5" d="M238.0,147.2l-2,-4.4l-2.3,2.4l1.7,4.3z"/>
<path class="q24" d="M123.6,210.6l5.9,2.2l0.4,1.9l-5.8,-2.1z"/>
<path class="q23" d="M174.7,209.3l4.6,-1.6l-0.7,2l-4.5,1.6z"/>
<path class="q9" d="M77.3,155.6l5.1,3.2l0.6,1.4l-5,-3.2z"/>
<path class="q5" d="M66.8,143.4l5.9,3.6l1.3,2.3l-5.7,-3.5z"/>
<path class="q0" d="M52.3,129.3l8,4.3l1.4,1.9l-7.5,-4.1z"/>
<path class="q26" d="M156.9,218.9l5.9,-1.1l-0.4,1.9l-5.8,1z"/>
<path class="q9" d="M227.3,159.3l2,-3.7l-1.3,1.4l-1.9,3.6z"/>
<path class="q24" d="M169.1,212.8l5,-1.5l-0.7,1.9l-4.8,1.5z"/>
<path class="q19" d="M104.9,189.9l4.7,2.7l0.9,2.9l-4.6,-2.6z"/>
<path class="q25" d="M163.2,216.1l5.4,-1.4l-0.5,1.8l-5.3,1.3z"/>
<path class="q22" d="M117.2,204.2l5.4,2.4l0.5,2l-5.3,-2.4z"/>
<path class="q26" d="M136.6,218.2l6.8,1l0.1,1.8l-6.7,-1z"/>
<path class="q17" d="M204.1,183.0l4.3,-2.3l-1.7,3.2l-4.1,2.2z"/>
<path class="q13" d="M85.1,164.8l4.8,2.9l0.5,1.4l-4.7,-3z"/>
<path class="q25" d="M129.9,214.7l6.5,1.7l0.2,1.8l-6.3,-1.7z"/>
<path class="q8" d="M76.5,154.2l5.2,3.2l0.7,1.4l-5.1,-3.2z"/>
<path class="q13" d="M218.8,168.2l3.7,-3.1l-1.1,1.3l-3.5,3z"/>
<path class="q4" d="M240.6,145.3l-2.3,-4.6l-2.3,2.1l2,4.4z"/>
<path class="q8" d="M228.5,158.0l2.1,-3.8l-1.3,1.4l-2,3.7z"/>
<path class="q17" d="M98.3,180.7l4.6,2.8l1,3.2l-4.5,-2.7z"/>
<path class="q26" d="M150.3,219.4l6.6,-0.5l-0.3,1.8l-6.4,0.5z"/>
<path class="q18" d="M198.2,188.2l4.4,-2.1l-1.6,3.2l-4.2,2.1z"/>
<path class="q4" d="M65.5,141.2l6.1,3.7l1.1,2.1l-5.9,-3.6z"/>
<path class="q26" d="M143.4,219.2l6.9,0.2l-0.1,1.8l-6.7,-0.2z"/>
<path class="q12" d="M84.4,163.3l4.9,3l0.6,1.4l-4.8,-2.9z"/>
<path class="q15" d="M91.4,171.6l4.7,2.8l1.1,3.3l-4.5,-2.8z"/>
<path class="q20" d="M110.5,195.5l5,2.7l0.9,3l-5,-2.5z"/>
<path class="q15" d="M211.9,174.5l4.3,-2.6l-2,3.2l-4.1,2.6z"/>
<path class="q19" d="M192.4,193.3l4.4,-1.9l-1.3,2.9l-4.3,1.9z"/>
<path class="q21" d="M181.1,202.8l4.5,-1.8l-1.2,2.9l-4.3,1.7z"/>
<path class="q23" d="M123.1,208.6l6,2.3l0.4,1.9l-5.9,-2.2z"/>
<path class="q20" d="M186.8,198.0l4.4,-1.8l-1.3,3l-4.3,1.8z"/>
<path class="q22" d="M175.4,207.3l4.7,-1.7l-0.8,2.1l-4.6,1.6z"/>
<path class="q12" d="M219.8,166.8l3.8,-3.1l-1.1,1.4l-3.7,3.1z"/>
<path class="q7" d="M75.3,151.9l5.4,3.2l1,2.3l-5.2,-3.2z"/>
<path class="q25" d="M157.1,217.1l6.1,-1l-0.4,1.7l-5.9,1.1z"/>
<path class="q23" d="M169.7,210.9l5,-1.6l-0.6,2l-5,1.5z"/>
<path class="q3" d="M242.9,143.7l-2.7,-4.7l-1.9,1.7l2.3,4.6z"/>
<path class="q24" d="M163.6,214.2l5.5,-1.4l-0.5,1.9l-5.4,1.4z"/>
<path class="q7" d="M230.5,155.8l2.3,-3.8l-2.2,2.2l-2.1,3.8z"/>
<path class="q3" d="M64.4,139.5l6.3,3.7l0.9,1.7l-6.1,-3.7z"/>
<path class="q11" d="M83.7,161.8l5,3l0.6,1.5l-4.9,-3z"/>
<path class="q25" d="M136.4,216.4l6.9,1.1l0.1,1.7l-6.8,-1z"/>
<path class="q24" d="M129.5,212.8l6.6,1.8l0.3,1.8l-6.5,-1.7z"/>
<path class="q18" d="M103.9,186.7l4.8,2.7l0.9,3.2l-4.7,-2.7z"/>
<path class="q21" d="M116.4,201.2l5.5,2.6l0.7,2.8l-5.4,-2.4z"/>
<path class="q16" d="M205.5,180.0l4.6,-2.3l-1.7,3l-4.3,2.3z"/>
<path class="q11" d="M220.9,165.3l3.9,-3.1l-1.2,1.5l-3.8,3.1z"/>
<path class="q25" d="M150.4,217.7l6.7,-0.6l-0.2,1.8l-6.6,0.5z"/>
<path class="q16" d="M97.2,177.7l4.8,2.7l0.9,3.1l-4.6,-2.8z"/>
<path class="q2" d="M246.1,141.9l-3.4,-4.8l-2.5,1.9l2.7,4.7z"/>
<path class="q2" d="M63.0,137.5l6.6,3.7l1.1,2l-6.3,-3.7z"/>
<path class="q6" d="M74.0,149.3l5.5,3.3l1.2,2.5l-5.4,-3.2z"/>
<path class="q25" d="M143.3,217.5l7.1,0.2l-0.1,1.7l-6.9,-0.2z"/>
<path class="q14" d="M90.4,169.1l4.8,2.8l0.9,2.5l-4.7,-2.8z"/>
<path class="q10" d="M83.0,160.2l5,3l0.7,1.6l-5,-3z"/>
<path class="q17" d="M199.5,185.1l4.6,-2.1l-1.5,3.1l-4.4,2.1z"/>
<path class="q14" d="M213.3,172.1l4.6,-2.7l-1.7,2.5l-4.3,2.6z"/>
<path class="q22" d="M122.6,206.6l6.1,2.3l0.4,2l-6,-2.3z"/>
<path class="q6" d="M232.9,153.4l2.5,-3.9l-2.6,2.5l-2.3,3.8z"/>
<path class="q10" d="M222.0,163.8l4.1,-3.2l-1.3,1.6l-3.9,3.1z"/>
<path class="q19" d="M109.6,192.6l5.2,2.7l0.7,2.9l-5,-2.7z"/>
<path class="q24" d="M157.4,215.3l6.2,-1.1l-0.4,1.9l-6.1,1z"/>
<path class="q18" d="M193.6,190.1l4.6,-1.9l-1.4,3.2l-4.4,1.9z"/>
<path class="q21" d="M176.2,204.5l4.9,-1.7l-1,2.8l-4.7,1.7z"/>
<path class="q22" d="M170.2,208.9l5.2,-1.6l-0.7,2l-5,1.6z"/>
<path class="q23" d="M164.0,212.3l5.7,-1.4l-0.6,1.9l-5.5,1.4z"/>
<path class="q19" d="M187.8,195.1l4.6,-1.8l-1.2,2.9l-4.4,1.8z"/>
<path class="q20" d="M182.1,199.8l4.7,-1.8l-1.2,3l-4.5,1.8z"/>
<path class="q9" d="M82.4,158.8l5.1,3.1l0.5,1.3l-5,-3z"/>
<path class="q1" d="M61.7,135.5l6.9,3.8l1,1.9l-6.6,-3.7z"/>
<path class="q24" d="M136.1,214.6l7.2,1.1l0,1.8l-6.9,-1.1z"/>
<path class="q23" d="M129.1,210.9l6.8,1.8l0.2,1.9l-6.6,-1.8z"/>
<path class="q1" d="M250.3,140.2l-4.7,-5.1l-2.9,2l3.4,4.8z"/>
<path class="q13" d="M89.9,167.7l4.9,2.9l0.4,1.3l-4.8,-2.8z"/>
<path class="q5" d="M72.7,147.0l5.8,3.3l1,2.3l-5.5,-3.3z"/>
<path class="q17" d="M102.9,183.5l5,2.8l0.8,3.1l-4.8,-2.7z"/>
<path class="q9" d="M223.0,162.5l4.3,-3.2l-1.2,1.3l-4.1,3.2z"/>
<path class="q13" d="M214.1,170.8l4.7,-2.6l-0.9,1.2l-4.6,2.7z"/>
<path class="q15" d="M207.1,176.9l4.8,-2.4l-1.8,3.2l-4.6,2.3z"/>
<path class="q24" d="M150.5,215.9l6.9,-0.6l-0.3,1.8l-6.7,0.6z"/>
<path class="q20" d="M115.5,198.2l5.7,2.6l0.7,3l-5.5,-2.6z"/>
<path class="q8" d="M81.7,157.4l5.2,3.1l0.6,1.4l-5.1,-3.1z"/>
<path class="q24" d="M143.3,215.7l7.2,0.2l-0.1,1.8l-7.1,-0.2z"/>
<path class="q15" d="M96.1,174.4l4.9,2.9l1,3.1l-4.8,-2.7z"/>
<path class="q5" d="M235.2,151.2l2.8,-4l-2.6,2.3l-2.5,3.9z"/>
<path class="q12" d="M89.3,166.3l4.9,2.9l0.6,1.4l-4.9,-2.9z"/>
<path class="q0" d="M60.3,133.6l7.2,3.8l1.1,1.9l-6.9,-3.8z"/>
<path class="q16" d="M200.8,182.1l4.7,-2.1l-1.4,3l-4.6,2.1z"/>
<path class="q8" d="M224.0,161.2l4.5,-3.2l-1.2,1.3l-4.3,3.2z"/>
<path class="q12" d="M215.0,169.5l4.8,-2.7l-1,1.4l-4.7,2.6z"/>
<path class="q21" d="M121.9,203.8l6.3,2.4l0.5,2.7l-6.1,-2.3z"/>
<path class="q23" d="M157.6,213.4l6.4,-1.1l-0.4,1.9l-6.2,1.1z"/>
<path class="q0" d="M260.0,139.1l-11,-5.8l-3.4,1.9l4.7,5.1z"/>
<path class="q4" d="M71.6,144.9l5.9,3.4l1,2l-5.8,-3.3z"/>
<path class="q22" d="M164.4,210.4l5.8,-1.5l-0.5,2l-5.7,1.4z"/>
<path class="q18" d="M108.7,189.4l5.3,2.8l0.8,3.1l-5.2,-2.7z"/>
<path class="q7" d="M80.7,155.1l5.3,3.2l0.9,2.2l-5.2,-3.1z"/>
<path class="q21" d="M170.9,206.1l5.3,-1.6l-0.8,2.8l-5.2,1.6z"/>
<path class="q17" d="M194.8,187.1l4.7,-2l-1.3,3.1l-4.6,1.9z"/>
<path class="q22" d="M128.7,208.9l7,1.9l0.2,1.9l-6.8,-1.8z"/>
<path class="q11" d="M88.7,164.8l5,2.9l0.5,1.5l-4.9,-2.9z"/>
<path class="q23" d="M135.9,212.7l7.3,1.1l0.1,1.9l-7.2,-1.1z"/>
<path class="q18" d="M188.9,192.0l4.7,-1.9l-1.2,3.2l-4.6,1.8z"/>
<path class="q20" d="M177.1,201.5l5,-1.7l-1,3l-4.9,1.7z"/>
<path class="q19" d="M183.0,196.9l4.8,-1.8l-1,2.9l-4.7,1.8z"/>
<path class="q4" d="M237.4,149.3l3.2,-4l-2.6,1.9l-2.8,4z"/>
<path class="q11" d="M215.9,168.0l5,-2.7l-1.1,1.5l-4.8,2.7z"/>
<path class="q14" d="M208.3,174.5l5,-2.4l-1.4,2.4l-4.8,2.4z"/>
<path class="q16" d="M102.0,180.4l5.1,2.9l0.8,3l-5,-2.8z"/>
<path class="q7" d="M225.7,159.1l4.8,-3.3l-2,2.2l-4.5,3.2z"/>
<path class="q23" d="M150.6,214.0l7,-0.6l-0.2,1.9l-6.9,0.6z"/>
<path class="q3" d="M70.7,143.2l6.1,3.4l0.7,1.7l-5.9,-3.4z"/>
<path class="q14" d="M95.2,171.9l5,2.9l0.8,2.5l-4.9,-2.9z"/>
<path class="q23" d="M143.2,213.8l7.4,0.2l-0.1,1.9l-7.2,-0.2z"/>
<path class="q10" d="M88.0,163.2l5.1,3l0.6,1.5l-5,-2.9z"/>
<path class="q19" d="M114.8,195.3l5.8,2.7l0.6,2.8l-5.7,-2.6z"/>
<path class="q6" d="M79.5,152.6l5.5,3.2l1,2.5l-5.3,-3.2z"/>
<path class="q22" d="M157.9,211.5l6.5,-1.1l-0.4,1.9l-6.4,1.1z"/>
<path class="q10" d="M216.8,166.6l5.2,-2.8l-1.1,1.5l-5,2.7z"/>
<path class="q15" d="M202.1,179.0l5,-2.1l-1.6,3.1l-4.7,2.1z"/>
<path class="q3" d="M239.3,147.8l3.6,-4.1l-2.3,1.6l-3.2,4z"/>
<path class="q2" d="M69.6,141.2l6.3,3.5l0.9,1.9l-6.1,-3.4z"/>
<path class="q13" d="M209.0,173.2l5.1,-2.4l-0.8,1.3l-5,2.4z"/>
<path class="q9" d="M87.5,161.9l5.2,3l0.4,1.3l-5.1,-3z"/>
<path class="q21" d="M164.9,207.6l6,-1.5l-0.7,2.8l-5.8,1.5z"/>
<path class="q22" d="M135.7,210.8l7.4,1.2l0.1,1.8l-7.3,-1.1z"/>
<path class="q20" d="M121.2,200.8l6.5,2.5l0.5,2.9l-6.3,-2.4z"/>
<path class="q13" d="M94.8,170.6l5,2.9l0.4,1.3l-5,-2.9z"/>
<path class="q17" d="M107.9,186.3l5.4,2.8l0.7,3.1l-5.3,-2.8z"/>
<path class="q16" d="M195.9,184.1l4.9,-2l-1.3,3l-4.7,2z"/>
<path class="q6" d="M227.6,156.7l5.3,-3.3l-2.4,2.4l-4.8,3.3z"/>
<path class="q21" d="M128.2,206.2l7.1,1.9l0.4,2.7l-7,-1.9z"/>
<path class="q20" d="M171.6,203.2l5.5,-1.7l-0.9,3l-5.3,1.6z"/>
<path class="q9" d="M217.7,165.3l5.3,-2.8l-1,1.3l-5.2,2.8z"/>
<path class="q17" d="M189.9,189.0l4.9,-1.9l-1.2,3l-4.7,1.9z"/>
<path class="q18" d="M183.9,193.9l5,-1.9l-1.1,3.1l-4.8,1.8z"/>
<path class="q22" d="M150.7,212.2l7.2,-0.7l-0.3,1.9l-7,0.6z"/>
<path class="q19" d="M177.9,198.7l5.1,-1.8l-0.9,2.9l-5,1.7z"/>
<path class="q15" d="M101.0,177.3l5.2,2.9l0.9,3.1l-5.1,-2.9z"/>
<path class="q5" d="M78.5,150.3l5.6,3.2l0.9,2.3l-5.5,-3.2z"/>
<path class="q8" d="M86.9,160.5l5.3,3l0.5,1.4l-5.2,-3z"/>
<path class="q12" d="M209.7,171.9l5.3,-2.4l-0.9,1.3l-5.1,2.4z"/>
<path class="q1" d="M68.6,139.3l6.4,3.5l0.9,1.9l-6.3,-3.5z"/>
<path class="q2" d="M241.8,146.1l4.3,-4.2l-3.2,1.8l-3.6,4.1z"/>
<path class="q22" d="M143.1,212.0l7.6,0.2l-0.1,1.8l-7.4,-0.2z"/>
<path class="q12" d="M94.2,169.2l5.2,3l0.4,1.3l-5,-2.9z"/>
<path class="q8" d="M218.5,164.0l5.5,-2.8l-1,1.3l-5.3,2.8z"/>
<path class="q18" d="M114.0,192.2l6,2.7l0.6,3.1l-5.8,-2.7z"/>
<path class="q14" d="M203.2,176.7l5.1,-2.2l-1.2,2.4l-5,2.1z"/>
<path class="q21" d="M158.3,208.9l6.6,-1.3l-0.5,2.8l-6.5,1.1z"/>
<path class="q5" d="M229.4,154.6l5.8,-3.4l-2.3,2.2l-5.3,3.3z"/>
<path class="q11" d="M210.5,170.5l5.4,-2.5l-0.9,1.5l-5.3,2.4z"/>
<path class="q7" d="M86.0,158.3l5.4,3l0.8,2.2l-5.3,-3z"/>
<path class="q11" d="M93.7,167.7l5.2,3l0.5,1.5l-5.2,-3z"/>
<path class="q0" d="M67.5,137.4l6.6,3.5l0.9,1.9l-6.4,-3.5z"/>
<path class="q4" d="M77.5,148.3l5.8,3.2l0.8,2l-5.6,-3.2z"/>
<path class="q1" d="M244.7,144.4l5.6,-4.2l-4.2,1.7l-4.3,4.2z"/>
<path class="q16" d="M107.1,183.3l5.5,2.8l0.7,3l-5.4,-2.8z"/>
<path class="q15" d="M197.1,181.1l5,-2.1l-1.3,3.1l-4.9,2z"/>
<path class="q21" d="M135.3,208.1l7.8,1.2l0,2.7l-7.4,-1.2z"/>
<path class="q19" d="M120.6,198.0l6.6,2.5l0.5,2.8l-6.5,-2.5z"/>
<path class="q20" d="M165.5,204.8l6.1,-1.6l-0.7,2.9l-6,1.5z"/>
<path class="q7" d="M219.9,161.8l5.8,-2.7l-1.7,2.1l-5.5,2.8z"/>
<path class="q14" d="M100.2,174.8l5.4,2.9l0.6,2.5l-5.2,-2.9z"/>
<path class="q16" d="M190.9,186.1l5,-2l-1.1,3l-4.9,1.9z"/>
<path class="q10" d="M211.3,169.0l5.5,-2.4l-0.9,1.4l-5.4,2.5z"/>
<path class="q13" d="M203.8,175.4l5.2,-2.2l-0.7,1.3l-5.1,2.2z"/>
<path class="q10" d="M93.1,166.2l5.3,3l0.5,1.5l-5.2,-3z"/>
<path class="q19" d="M172.2,200.4l5.7,-1.7l-0.8,2.8l-5.5,1.7z"/>
<path class="q21" d="M150.9,209.5l7.4,-0.6l-0.4,2.6l-7.2,0.7z"/>
<path class="q17" d="M184.8,190.8l5.1,-1.8l-1,3l-5,1.9z"/>
<path class="q20" d="M127.7,203.3l7.3,2l0.3,2.8l-7.1,-1.9z"/>
<path class="q18" d="M178.6,195.7l5.3,-1.8l-0.9,3l-5.1,1.8z"/>
<path class="q3" d="M76.8,146.6l5.9,3.3l0.6,1.6l-5.8,-3.2z"/>
<path class="q21" d="M143.1,209.3l7.8,0.2l-0.2,2.7l-7.6,-0.2z"/>
<path class="q4" d="M231.1,152.7l6.3,-3.4l-2.2,1.9l-5.8,3.4z"/>
<path class="q6" d="M85.0,155.8l5.5,3.1l0.9,2.4l-5.4,-3z"/>
<path class="q17" d="M113.3,189.1l6.1,2.8l0.6,3l-6,-2.7z"/>
<path class="q12" d="M204.4,174.1l5.3,-2.2l-0.7,1.3l-5.2,2.2z"/>
<path class="q0" d="M248.0,142.8l12,-3.8l-9.7,1.2l-5.6,4.2z"/>
<path class="q9" d="M92.7,164.9l5.3,3l0.4,1.3l-5.3,-3z"/>
<path class="q9" d="M212.0,167.7l5.7,-2.4l-0.9,1.3l-5.5,2.4z"/>
<path class="q13" d="M99.8,173.5l5.4,3l0.4,1.2l-5.4,-2.9z"/>
<path class="q2" d="M75.9,144.7l6,3.3l0.8,1.9l-5.9,-3.3z"/>
<path class="q6" d="M221.5,159.5l6.1,-2.8l-1.9,2.4l-5.8,2.7z"/>
<path class="q14" d="M198.0,178.7l5.2,-2l-1.1,2.3l-5,2.1z"/>
<path class="q20" d="M158.6,206.1l6.9,-1.3l-0.6,2.8l-6.6,1.3z"/>
<path class="q15" d="M106.2,180.2l5.7,2.9l0.7,3l-5.5,-2.8z"/>
<path class="q3" d="M232.5,151.2l6.8,-3.4l-1.9,1.5l-6.3,3.4z"/>
<path class="q8" d="M92.2,163.5l5.4,3l0.4,1.4l-5.3,-3z"/>
<path class="q8" d="M212.8,166.4l5.7,-2.4l-0.8,1.3l-5.7,2.4z"/>
<path class="q12" d="M99.4,172.2l5.4,2.9l0.4,1.4l-5.4,-3z"/>
<path class="q5" d="M84.1,153.5l5.7,3.1l0.7,2.3l-5.5,-3.1z"/>
<path class="q11" d="M205.1,172.7l5.4,-2.2l-0.8,1.4l-5.3,2.2z"/>
<path class="q15" d="M191.9,183.0l5.2,-1.9l-1.2,3l-5,2z"/>
<path class="q18" d="M120.0,194.9l6.8,2.7l0.4,2.9l-6.6,-2.5z"/>
<path class="q19" d="M166.0,202.0l6.2,-1.6l-0.6,2.8l-6.1,1.6z"/>
<path class="q20" d="M135.0,205.3l8,1.3l0.1,2.7l-7.8,-1.2z"/>
<path class="q16" d="M185.6,187.9l5.3,-1.8l-1,2.9l-5.1,1.8z"/>
<path class="q1" d="M75.0,142.8l6.2,3.3l0.7,1.9l-6,-3.3z"/>
<path class="q18" d="M172.8,197.4l5.8,-1.7l-0.7,3l-5.7,1.7z"/>
<path class="q17" d="M179.4,192.7l5.4,-1.9l-0.9,3.1l-5.3,1.8z"/>
<path class="q19" d="M127.2,200.5l7.5,2.2l0.3,2.6l-7.3,-2z"/>
<path class="q13" d="M198.5,177.5l5.3,-2.1l-0.6,1.3l-5.2,2z"/>
<path class="q20" d="M151.0,206.8l7.6,-0.7l-0.3,2.8l-7.4,0.6z"/>
<path class="q2" d="M234.3,149.4l7.5,-3.3l-2.5,1.7l-6.8,3.4z"/>
<path class="q11" d="M98.9,170.7l5.5,3l0.4,1.4l-5.4,-2.9z"/>
<path class="q5" d="M222.9,157.4l6.5,-2.8l-1.8,2.1l-6.1,2.8z"/>
<path class="q7" d="M91.4,161.3l5.5,3.1l0.7,2.1l-5.4,-3z"/>
<path class="q10" d="M205.8,171.2l5.5,-2.2l-0.8,1.5l-5.4,2.2z"/>
<path class="q20" d="M143.0,206.6l8,0.2l-0.1,2.7l-7.8,-0.2z"/>
<path class="q16" d="M112.6,186.1l6.2,2.9l0.6,2.9l-6.1,-2.8z"/>
<path class="q7" d="M213.9,164.3l6,-2.5l-1.4,2.2l-5.7,2.4z"/>
<path class="q4" d="M83.3,151.5l5.8,3.1l0.7,2l-5.7,-3.1z"/>
<path class="q0" d="M74.1,140.9l6.3,3.3l0.8,1.9l-6.2,-3.3z"/>
<path class="q14" d="M105.6,177.7l5.7,3l0.6,2.4l-5.7,-2.9z"/>
<path class="q12" d="M199.1,176.2l5.3,-2.1l-0.6,1.3l-5.3,2.1z"/>
<path class="q10" d="M98.4,169.2l5.6,3l0.4,1.5l-5.5,-3z"/>
<path class="q9" d="M206.4,169.9l5.6,-2.2l-0.7,1.3l-5.5,2.2z"/>
<path class="q14" d="M192.7,180.7l5.3,-2l-0.9,2.4l-5.2,1.9z"/>
<path class="q19" d="M158.9,203.4l7.1,-1.4l-0.5,2.8l-6.9,1.3z"/>
<path class="q1" d="M236.1,147.7l8.6,-3.3l-2.9,1.7l-7.5,3.3z"/>
<path class="q3" d="M82.7,149.9l5.8,3.2l0.6,1.5l-5.8,-3.1z"/>
<path class="q4" d="M224.2,155.5l6.9,-2.8l-1.7,1.9l-6.5,2.8z"/>
<path class="q17" d="M119.4,191.9l6.9,2.7l0.5,3l-6.8,-2.7z"/>
<path class="q6" d="M90.5,158.9l5.7,3.1l0.7,2.4l-5.5,-3.1z"/>
<path class="q15" d="M186.5,184.9l5.4,-1.9l-1,3.1l-5.3,1.8z"/>
<path class="q18" d="M166.4,199.1l6.4,-1.7l-0.6,3l-6.2,1.6z"/>
<path class="q16" d="M180.0,189.8l5.6,-1.9l-0.8,2.9l-5.4,1.9z"/>
<path class="q6" d="M215.2,162.0l6.3,-2.5l-1.6,2.3l-6,2.5z"/>
<path class="q11" d="M199.6,174.7l5.5,-2l-0.7,1.4l-5.3,2.1z"/>
<path class="q17" d="M173.4,194.5l6,-1.8l-0.8,3l-5.8,1.7z"/>
<path class="q19" d="M134.7,202.7l8.2,1.3l0.1,2.6l-8,-1.3z"/>
<path class="q13" d="M105.2,176.5l5.8,3l0.3,1.2l-5.7,-3z"/>
<path class="q9" d="M98.0,167.9l5.6,3l0.4,1.3l-5.6,-3z"/>
<path class="q8" d="M207.0,168.7l5.8,-2.3l-0.8,1.3l-5.6,2.2z"/>
<path class="q18" d="M126.8,197.6l7.6,2.2l0.3,2.9l-7.5,-2.2z"/>
<path class="q15" d="M111.9,183.1l6.3,3l0.6,2.9l-6.2,-2.9z"/>
<path class="q19" d="M151.2,204.1l7.7,-0.7l-0.3,2.7l-7.6,0.7z"/>
<path class="q13" d="M193.1,179.5l5.4,-2l-0.5,1.2l-5.3,2z"/>
<path class="q2" d="M81.9,148.0l6,3.2l0.6,1.9l-5.8,-3.2z"/>
<path class="q3" d="M225.3,154.0l7.2,-2.8l-1.4,1.5l-6.9,2.8z"/>
<path class="q0" d="M238.0,146.0l10,-3.2l-3.3,1.6l-8.6,3.3z"/>
<path class="q8" d="M97.6,166.5l5.7,3.1l0.3,1.3l-5.6,-3z"/>
<path class="q19" d="M142.9,204.0l8.3,0.1l-0.2,2.7l-8,-0.2z"/>
<path class="q12" d="M104.8,175.1l5.9,3.1l0.3,1.3l-5.8,-3z"/>
<path class="q10" d="M200.2,173.3l5.6,-2.1l-0.7,1.5l-5.5,2z"/>
<path class="q5" d="M89.8,156.6l5.7,3.2l0.7,2.2l-5.7,-3.1z"/>
<path class="q7" d="M208.0,166.6l5.9,-2.3l-1.1,2.1l-5.8,2.3z"/>
<path class="q5" d="M216.4,159.8l6.5,-2.4l-1.4,2.1l-6.3,2.5z"/>
<path class="q12" d="M193.6,178.2l5.5,-2l-0.6,1.3l-5.4,2z"/>
<path class="q18" d="M159.3,200.5l7.1,-1.4l-0.4,2.9l-7.1,1.4z"/>
<path class="q14" d="M187.2,182.6l5.5,-1.9l-0.8,2.3l-5.4,1.9z"/>
<path class="q1" d="M81.2,146.1l6,3.2l0.7,1.9l-6,-3.2z"/>
<path class="q16" d="M118.8,189.0l7.1,2.9l0.4,2.7l-6.9,-2.7z"/>
<path class="q11" d="M104.4,173.7l6,3.1l0.3,1.4l-5.9,-3.1z"/>
<path class="q9" d="M200.7,172.0l5.7,-2.1l-0.6,1.3l-5.6,2.1z"/>
<path class="q2" d="M226.6,152.2l7.7,-2.8l-1.8,1.8l-7.2,2.8z"/>
<path class="q7" d="M96.9,164.4l5.8,3.1l0.6,2.1l-5.7,-3.1z"/>
<path class="q15" d="M180.8,186.8l5.7,-1.9l-0.9,3l-5.6,1.9z"/>
<path class="q17" d="M166.9,196.2l6.5,-1.7l-0.6,2.9l-6.4,1.7z"/>
<path class="q16" d="M174.0,191.6l6,-1.8l-0.6,2.9l-6,1.8z"/>
<path class="q4" d="M89.1,154.6l5.8,3.2l0.6,2l-5.7,-3.2z"/>
<path class="q11" d="M194.1,176.8l5.5,-2.1l-0.5,1.5l-5.5,2z"/>
<path class="q18" d="M134.4,199.8l8.4,1.3l0.1,2.9l-8.2,-1.3z"/>
<path class="q14" d="M111.3,180.7l6.5,3.1l0.4,2.3l-6.3,-3z"/>
<path class="q17" d="M126.3,194.6l7.8,2.3l0.3,2.9l-7.6,-2.2z"/>
<path class="q0" d="M80.4,144.2l6.2,3.2l0.6,1.9l-6,-3.2z"/>
<path class="q8" d="M201.3,170.8l5.7,-2.1l-0.6,1.2l-5.7,2.1z"/>
<path class="q6" d="M209.1,164.2l6.1,-2.2l-1.3,2.3l-5.9,2.3z"/>
<path class="q4" d="M217.5,157.9l6.7,-2.4l-1.3,1.9l-6.5,2.4z"/>
<path class="q10" d="M104.0,172.2l6,3.1l0.4,1.5l-6,-3.1z"/>
<path class="q13" d="M187.6,181.4l5.5,-1.9l-0.4,1.2l-5.5,1.9z"/>
<path class="q18" d="M151.3,201.3l8,-0.8l-0.4,2.9l-7.7,0.7z"/>
<path class="q1" d="M227.9,150.4l8.2,-2.7l-1.8,1.7l-7.7,2.8z"/>
<path class="q18" d="M142.8,201.1l8.5,0.2l-0.1,2.8l-8.3,-0.1z"/>
<path class="q3" d="M88.5,153.1l5.9,3.1l0.5,1.6l-5.8,-3.2z"/>
<path class="q10" d="M194.6,175.3l5.6,-2l-0.6,1.4l-5.5,2.1z"/>
<path class="q6" d="M96.2,162.0l5.8,3.1l0.7,2.4l-5.8,-3.1z"/>
<path class="q13" d="M111.0,179.5l6.5,3.1l0.3,1.2l-6.5,-3.1z"/>
<path class="q9" d="M103.6,170.9l6.1,3.1l0.3,1.3l-6,-3.1z"/>
<path class="q12" d="M188.0,180.1l5.6,-1.9l-0.5,1.3l-5.5,1.9z"/>
<path class="q7" d="M202.1,168.7l5.9,-2.1l-1,2.1l-5.7,2.1z"/>
<path class="q3" d="M218.3,156.4l7,-2.4l-1.1,1.5l-6.7,2.4z"/>
<path class="q17" d="M159.6,197.6l7.3,-1.4l-0.5,2.9l-7.1,1.4z"/>
<path class="q14" d="M181.4,184.5l5.8,-1.9l-0.7,2.3l-5.7,1.9z"/>
<path class="q15" d="M118.2,186.1l7.2,2.9l0.5,2.9l-7.1,-2.9z"/>
<path class="q16" d="M167.3,193.4l6.7,-1.8l-0.6,2.9l-6.5,1.7z"/>
<path class="q15" d="M174.6,188.7l6.2,-1.9l-0.8,3l-6,1.8z"/>
<path class="q5" d="M210.1,162.1l6.3,-2.3l-1.2,2.2l-6.1,2.2z"/>
<path class="q9" d="M195.0,174.1l5.7,-2.1l-0.5,1.3l-5.6,2z"/>
<path class="q0" d="M229.2,148.7l8.8,-2.7l-1.9,1.7l-8.2,2.7z"/>
<path class="q2" d="M87.9,151.2l6,3.2l0.5,1.8l-5.9,-3.1z"/>
<path class="q12" d="M110.7,178.2l6.5,3.1l0.3,1.3l-6.5,-3.1z"/>
<path class="q8" d="M103.3,169.6l6.1,3.2l0.3,1.2l-6.1,-3.1z"/>
<path class="q11" d="M188.4,178.7l5.7,-1.9l-0.5,1.4l-5.6,1.9z"/>
<path class="q17" d="M134.1,196.9l8.6,1.4l0.1,2.8l-8.4,-1.3z"/>
<path class="q5" d="M95.5,159.8l5.9,3.1l0.6,2.2l-5.8,-3.1z"/>
<path class="q16" d="M125.9,191.9l8,2.4l0.2,2.6l-7.8,-2.3z"/>
<path class="q2" d="M219.4,154.7l7.2,-2.5l-1.3,1.8l-7,2.4z"/>
<path class="q8" d="M195.5,172.8l5.8,-2l-0.6,1.2l-5.7,2.1z"/>
<path class="q13" d="M181.7,183.4l5.9,-2l-0.4,1.2l-5.8,1.9z"/>
<path class="q17" d="M151.4,198.5l8.2,-0.9l-0.3,2.9l-8,0.8z"/>
<path class="q6" d="M203.0,166.4l6.1,-2.2l-1.1,2.4l-5.9,2.1z"/>
<path class="q1" d="M87.2,149.3l6.1,3.2l0.6,1.9l-6,-3.2z"/>
<path class="q11" d="M110.4,176.8l6.5,3.1l0.3,1.4l-6.5,-3.1z"/>
<path class="q4" d="M211.0,160.2l6.5,-2.3l-1.1,1.9l-6.3,2.3z"/>
<path class="q7" d="M102.7,167.5l6.2,3.2l0.5,2.1l-6.1,-3.2z"/>
<path class="q17" d="M142.7,198.3l8.7,0.2l-0.1,2.8l-8.5,-0.2z"/>
<path class="q10" d="M188.8,177.3l5.8,-2l-0.5,1.5l-5.7,1.9z"/>
<path class="q14" d="M117.8,183.8l7.2,3l0.4,2.2l-7.2,-2.9z"/>
<path class="q4" d="M94.9,157.8l6,3.2l0.5,1.9l-5.9,-3.1z"/>
<path class="q12" d="M182.0,182.1l6,-2l-0.4,1.3l-5.9,2z"/>
<path class="q16" d="M159.9,194.9l7.4,-1.5l-0.4,2.8l-7.3,1.4z"/>
<path class="q14" d="M175.1,186.4l6.3,-1.9l-0.6,2.3l-6.2,1.9z"/>
<path class="q1" d="M220.4,152.9l7.5,-2.5l-1.3,1.8l-7.2,2.5z"/>
<path class="q7" d="M196.2,170.7l5.9,-2l-0.8,2.1l-5.8,2z"/>
<path class="q15" d="M167.8,190.5l6.8,-1.8l-0.6,2.9l-6.7,1.8z"/>
<path class="q10" d="M110.0,175.3l6.6,3.2l0.3,1.4l-6.5,-3.1z"/>
<path class="q0" d="M86.6,147.4l6.2,3.3l0.5,1.8l-6.1,-3.2z"/>
<path class="q9" d="M189.2,176.1l5.8,-2l-0.4,1.2l-5.8,2z"/>
<path class="q3" d="M211.7,158.7l6.6,-2.3l-0.8,1.5l-6.5,2.3z"/>
<path class="q5" d="M203.9,164.2l6.2,-2.1l-1,2.1l-6.1,2.2z"/>
<path class="q11" d="M182.4,180.7l6,-2l-0.4,1.4l-6,2z"/>
<path class="q16" d="M133.9,194.3l8.7,1.4l0.1,2.6l-8.6,-1.4z"/>
<path class="q15" d="M125.4,189.0l8.2,2.5l0.3,2.8l-8,-2.4z"/>
<path class="q6" d="M102.0,165.1l6.3,3.3l0.6,2.3l-6.2,-3.2z"/>
<path class="q3" d="M94.4,156.2l6.1,3.3l0.4,1.5l-6,-3.2z"/>
<path class="q13" d="M117.5,182.6l7.3,3l0.2,1.2l-7.2,-3z"/>
<path class="q0" d="M221.4,151.2l7.8,-2.5l-1.3,1.7l-7.5,2.5z"/>
<path class="q9" d="M109.7,174.0l6.7,3.3l0.2,1.2l-6.6,-3.2z"/>
<path class="q13" d="M175.4,185.3l6.3,-1.9l-0.3,1.1l-6.3,1.9z"/>
<path class="q16" d="M151.5,195.8l8.4,-0.9l-0.3,2.7l-8.2,0.9z"/>
<path class="q8" d="M189.6,174.8l5.9,-2l-0.5,1.3l-5.8,2z"/>
<path class="q2" d="M212.5,156.9l6.9,-2.2l-1.1,1.7l-6.6,2.3z"/>
<path class="q6" d="M197.0,168.4l6,-2l-0.9,2.3l-5.9,2z"/>
<path class="q16" d="M142.6,195.7l8.9,0.1l-0.1,2.7l-8.7,-0.2z"/>
<path class="q10" d="M182.8,179.3l6,-2l-0.4,1.4l-6,2z"/>
<path class="q12" d="M117.2,181.3l7.4,3.1l0.2,1.2l-7.3,-3z"/>
<path class="q2" d="M93.9,154.4l6.1,3.2l0.5,1.9l-6.1,-3.3z"/>
<path class="q4" d="M204.6,162.4l6.4,-2.2l-0.9,1.9l-6.2,2.1z"/>
<path class="q8" d="M109.4,172.8l6.7,3.2l0.3,1.3l-6.7,-3.3z"/>
<path class="q15" d="M160.2,192.1l7.6,-1.6l-0.5,2.9l-7.4,1.5z"/>
<path class="q14" d="M168.2,188.3l6.9,-1.9l-0.5,2.3l-6.8,1.8z"/>
<path class="q12" d="M175.6,184.0l6.4,-1.9l-0.3,1.3l-6.3,1.9z"/>
<path class="q5" d="M101.4,162.9l6.4,3.3l0.5,2.2l-6.3,-3.3z"/>
<path class="q7" d="M190.2,172.7l6,-2l-0.7,2.1l-5.9,2z"/>
<path class="q1" d="M213.4,155.2l7,-2.3l-1,1.8l-6.9,2.2z"/>
<path class="q9" d="M183.1,178.0l6.1,-1.9l-0.4,1.2l-6,2z"/>
<path class="q14" d="M125.0,186.8l8.3,2.6l0.3,2.1l-8.2,-2.5z"/>
<path class="q11" d="M116.9,179.9l7.5,3.2l0.2,1.3l-7.4,-3.1z"/>
<path class="q1" d="M93.3,152.5l6.2,3.3l0.5,1.8l-6.1,-3.2z"/>
<path class="q5" d="M197.7,166.3l6.2,-2.1l-0.9,2.2l-6,2z"/>
<path class="q3" d="M205.2,160.9l6.5,-2.2l-0.7,1.5l-6.4,2.2z"/>
<path class="q11" d="M175.9,182.6l6.5,-1.9l-0.4,1.4l-6.4,1.9z"/>
<path class="q15" d="M133.6,191.5l8.9,1.5l0.1,2.7l-8.7,-1.4z"/>
<path class="q7" d="M108.9,170.7l6.8,3.3l0.4,2l-6.7,-3.2z"/>
<path class="q13" d="M168.4,187.1l7,-1.8l-0.3,1.1l-6.9,1.9z"/>
<path class="q15" d="M151.7,193.1l8.5,-1l-0.3,2.8l-8.4,0.9z"/>
<path class="q4" d="M100.9,161.0l6.4,3.3l0.5,1.9l-6.4,-3.3z"/>
<path class="q8" d="M183.4,176.8l6.2,-2l-0.4,1.3l-6.1,1.9z"/>
<path class="q0" d="M214.2,153.4l7.2,-2.2l-1,1.7l-7,2.3z"/>
<path class="q6" d="M190.9,170.4l6.1,-2l-0.8,2.3l-6,2z"/>
<path class="q10" d="M116.6,178.5l7.5,3.2l0.3,1.4l-7.5,-3.2z"/>
<path class="q15" d="M142.5,193.0l9.2,0.1l-0.2,2.7l-8.9,-0.1z"/>
<path class="q10" d="M176.2,181.3l6.6,-2l-0.4,1.4l-6.5,1.9z"/>
<path class="q0" d="M92.8,150.7l6.3,3.3l0.4,1.8l-6.2,-3.3z"/>
<path class="q14" d="M160.5,189.9l7.7,-1.6l-0.4,2.2l-7.6,1.6z"/>
<path class="q2" d="M205.9,159.1l6.6,-2.2l-0.8,1.8l-6.5,2.2z"/>
<path class="q13" d="M124.8,185.6l8.4,2.7l0.1,1.1l-8.3,-2.6z"/>
<path class="q12" d="M168.6,185.9l7,-1.9l-0.2,1.3l-7,1.8z"/>
<path class="q4" d="M198.4,164.4l6.2,-2l-0.7,1.8l-6.2,2.1z"/>
<path class="q3" d="M100.5,159.5l6.5,3.3l0.3,1.5l-6.4,-3.3z"/>
<path class="q6" d="M108.3,168.4l6.9,3.4l0.5,2.2l-6.8,-3.3z"/>
<path class="q7" d="M183.9,174.8l6.3,-2.1l-0.6,2.1l-6.2,2z"/>
<path class="q9" d="M116.4,177.3l7.5,3.2l0.2,1.2l-7.5,-3.2z"/>
<path class="q9" d="M176.5,180.0l6.6,-2l-0.3,1.3l-6.6,2z"/>
<path class="q12" d="M124.6,184.4l8.4,2.7l0.2,1.2l-8.4,-2.7z"/>
<path class="q14" d="M133.3,189.4l9.2,1.6l0,2l-8.9,-1.5z"/>
<path class="q1" d="M206.6,157.3l6.8,-2.1l-0.9,1.7l-6.6,2.2z"/>
<path class="q11" d="M168.8,184.6l7.1,-2l-0.3,1.4l-7,1.9z"/>
<path class="q5" d="M191.5,168.4l6.2,-2.1l-0.7,2.1l-6.1,2z"/>
<path class="q13" d="M160.6,188.8l7.8,-1.7l-0.2,1.2l-7.7,1.6z"/>
<path class="q3" d="M198.9,162.9l6.3,-2l-0.6,1.5l-6.2,2z"/>
<path class="q14" d="M151.8,191.0l8.7,-1.1l-0.3,2.2l-8.5,1z"/>
<path class="q2" d="M100.0,157.6l6.5,3.5l0.5,1.7l-6.5,-3.3z"/>
<path class="q8" d="M116.1,176.0l7.6,3.4l0.2,1.1l-7.5,-3.2z"/>
<path class="q8" d="M176.8,178.8l6.6,-2l-0.3,1.2l-6.6,2z"/>
<path class="q5" d="M107.8,166.2l6.9,3.5l0.5,2.1l-6.9,-3.4z"/>
<path class="q14" d="M142.5,191.0l9.3,0l-0.1,2.1l-9.2,-0.1z"/>
<path class="q6" d="M184.5,172.5l6.4,-2.1l-0.7,2.3l-6.3,2.1z"/>
<path class="q11" d="M124.4,183.1l8.5,2.8l0.1,1.2l-8.4,-2.7z"/>
<path class="q10" d="M169.1,183.2l7.1,-1.9l-0.3,1.3l-7.1,2z"/>
<path class="q12" d="M160.8,187.6l7.8,-1.7l-0.2,1.2l-7.8,1.7z"/>
<path class="q0" d="M207.3,155.6l6.9,-2.2l-0.8,1.8l-6.8,2.1z"/>
<path class="q2" d="M199.5,161.2l6.4,-2.1l-0.7,1.8l-6.3,2z"/>
<path class="q13" d="M133.2,188.3l9.2,1.6l0.1,1.1l-9.2,-1.6z"/>
<path class="q4" d="M192.0,166.5l6.4,-2.1l-0.7,1.9l-6.2,2.1z"/>
<path class="q1" d="M99.5,155.8l6.6,3.5l0.4,1.8l-6.5,-3.5z"/>
<path class="q13" d="M151.9,190.0l8.7,-1.2l-0.1,1.1l-8.7,1.1z"/>
<path class="q7" d="M115.7,174.0l7.6,3.4l0.4,2l-7.6,-3.4z"/>
<path class="q7" d="M177.2,176.8l6.7,-2l-0.5,2l-6.6,2z"/>
<path class="q9" d="M169.3,182.0l7.2,-2l-0.3,1.3l-7.1,1.9z"/>
<path class="q10" d="M124.1,181.7l8.6,2.9l0.2,1.3l-8.5,-2.8z"/>
<path class="q11" d="M160.9,186.3l7.9,-1.7l-0.2,1.3l-7.8,1.7z"/>
<path class="q4" d="M107.3,164.3l7,3.6l0.4,1.8l-6.9,-3.5z"/>
<path class="q13" d="M142.4,189.9l9.5,0.1l-0.1,1l-9.3,0z"/>
<path class="q12" d="M133.0,187.1l9.4,1.7l0,1.1l-9.2,-1.6z"/>
<path class="q1" d="M200.0,159.4l6.6,-2.1l-0.7,1.8l-6.4,2.1z"/>
<path class="q5" d="M185.0,170.4l6.5,-2l-0.6,2l-6.4,2.1z"/>
<path class="q3" d="M192.4,165.0l6.5,-2.1l-0.5,1.5l-6.4,2.1z"/>
<path class="q0" d="M99.1,154.0l6.6,3.5l0.4,1.8l-6.6,-3.5z"/>
<path class="q12" d="M151.9,188.8l8.9,-1.2l-0.2,1.2l-8.7,1.2z"/>
<path class="q8" d="M169.5,180.8l7.3,-2l-0.3,1.2l-7.2,2z"/>
<path class="q9" d="M123.9,180.5l8.6,3l0.2,1.1l-8.6,-2.9z"/>
<path class="q10" d="M161.1,185.0l8,-1.8l-0.3,1.4l-7.9,1.7z"/>
<path class="q6" d="M177.7,174.6l6.8,-2.1l-0.6,2.3l-6.7,2z"/>
<path class="q6" d="M115.2,171.8l7.7,3.5l0.4,2.1l-7.6,-3.4z"/>
<path class="q12" d="M142.4,188.8l9.5,0l0,1.2l-9.5,-0.1z"/>
<path class="q3" d="M107.0,162.8l7,3.6l0.3,1.5l-7,-3.6z"/>
<path class="q11" d="M132.9,185.9l9.4,1.7l0.1,1.2l-9.4,-1.7z"/>
<path class="q0" d="M200.6,157.7l6.7,-2.1l-0.7,1.7l-6.6,2.1z"/>
<path class="q2" d="M192.9,163.2l6.6,-2l-0.6,1.7l-6.5,2.1z"/>
<path class="q11" d="M152.0,187.6l8.9,-1.3l-0.1,1.3l-8.9,1.2z"/>
<path class="q4" d="M185.4,168.6l6.6,-2.1l-0.5,1.9l-6.5,2z"/>
<path class="q8" d="M123.7,179.4l8.7,3l0.1,1.1l-8.6,-3z"/>
<path class="q7" d="M169.8,178.9l7.4,-2.1l-0.4,2l-7.3,2z"/>
<path class="q9" d="M161.2,183.9l8.1,-1.9l-0.2,1.2l-8,1.8z"/>
<path class="q2" d="M106.5,161.1l7.1,3.6l0.4,1.7l-7,-3.6z"/>
<path class="q11" d="M142.3,187.6l9.7,0l-0.1,1.2l-9.5,0z"/>
<path class="q10" d="M132.7,184.6l9.6,1.7l0,1.3l-9.4,-1.7z"/>
<path class="q1" d="M193.4,161.5l6.6,-2.1l-0.5,1.8l-6.6,2z"/>
<path class="q5" d="M178.1,172.5l6.9,-2.1l-0.5,2.1l-6.8,2.1z"/>
<path class="q5" d="M114.7,169.7l7.8,3.7l0.4,1.9l-7.7,-3.5z"/>
<path class="q10" d="M152.1,186.3l9,-1.3l-0.2,1.3l-8.9,1.3z"/>
<path class="q3" d="M185.8,167.1l6.6,-2.1l-0.4,1.5l-6.6,2.1z"/>
<path class="q8" d="M161.4,182.7l8.1,-1.9l-0.2,1.2l-8.1,1.9z"/>
<path class="q7" d="M123.3,177.4l8.8,3.2l0.3,1.8l-8.7,-3z"/>
<path class="q1" d="M106.1,159.3l7.2,3.7l0.3,1.7l-7.1,-3.6z"/>
<path class="q10" d="M142.3,186.3l9.8,0l-0.1,1.3l-9.7,0z"/>
<path class="q6" d="M170.2,176.7l7.5,-2.1l-0.5,2.2l-7.4,2.1z"/>
<path class="q9" d="M132.5,183.5l9.8,1.8l0,1l-9.6,-1.7z"/>
<path class="q0" d="M193.9,159.8l6.7,-2.1l-0.6,1.7l-6.6,2.1z"/>
<path class="q9" d="M152.1,185.2l9.1,-1.3l-0.1,1.1l-9,1.3z"/>
<path class="q2" d="M186.2,165.4l6.7,-2.2l-0.5,1.8l-6.6,2.1z"/>
<path class="q4" d="M178.5,170.7l6.9,-2.1l-0.4,1.8l-6.9,2.1z"/>
<path class="q4" d="M114.3,167.9l7.9,3.7l0.3,1.8l-7.8,-3.7z"/>
<path class="q7" d="M161.6,180.9l8.2,-2l-0.3,1.9l-8.1,1.9z"/>
<path class="q9" d="M142.3,185.3l9.8,-0.1l0,1.1l-9.8,0z"/>
<path class="q0" d="M105.7,157.5l7.2,3.8l0.4,1.7l-7.2,-3.7z"/>
<path class="q8" d="M132.4,182.4l9.8,1.8l0.1,1.1l-9.8,-1.8z"/>
<path class="q8" d="M152.2,184.2l9.2,-1.5l-0.2,1.2l-9.1,1.3z"/>
<path class="q6" d="M122.9,175.3l9,3.3l0.2,2l-8.8,-3.2z"/>
<path class="q1" d="M186.6,163.6l6.8,-2.1l-0.5,1.7l-6.7,2.2z"/>
<path class="q5" d="M170.6,174.7l7.5,-2.2l-0.4,2.1l-7.5,2.1z"/>
<path class="q3" d="M178.8,169.3l7,-2.2l-0.4,1.5l-6.9,2.1z"/>
<path class="q3" d="M114.0,166.4l7.9,3.9l0.3,1.3l-7.9,-3.7z"/>
<path class="q8" d="M142.2,184.2l10,0l-0.1,1l-9.8,0.1z"/>
<path class="q6" d="M161.9,178.8l8.3,-2.1l-0.4,2.2l-8.2,2z"/>
<path class="q7" d="M132.1,180.6l10,2l0.1,1.6l-9.8,-1.8z"/>
<path class="q7" d="M152.3,182.4l9.3,-1.5l-0.2,1.8l-9.2,1.5z"/>
<path class="q0" d="M187.1,161.9l6.8,-2.1l-0.5,1.7l-6.8,2.1z"/>
<path class="q2" d="M179.1,167.6l7.1,-2.2l-0.4,1.7l-7,2.2z"/>
<path class="q4" d="M170.9,173.0l7.6,-2.3l-0.4,1.8l-7.5,2.2z"/>
<path class="q2" d="M113.6,164.7l8,4l0.3,1.6l-7.9,-3.9z"/>
<path class="q5" d="M122.5,173.4l9.1,3.5l0.3,1.7l-9,-3.3z"/>
<path class="q7" d="M142.1,182.6l10.2,-0.2l-0.1,1.8l-10,0z"/>
<path class="q1" d="M179.5,165.9l7.1,-2.3l-0.4,1.8l-7.1,2.2z"/>
<path class="q5" d="M162.2,176.9l8.4,-2.2l-0.4,2l-8.3,2.1z"/>
<path class="q3" d="M171.1,171.6l7.7,-2.3l-0.3,1.4l-7.6,2.3z"/>
<path class="q1" d="M113.3,163.0l8,4.1l0.3,1.6l-8,-4z"/>
<path class="q6" d="M152.5,180.5l9.4,-1.7l-0.3,2.1l-9.3,1.5z"/>
<path class="q6" d="M131.9,178.6l10.1,2.1l0.1,1.9l-10,-2z"/>
<path class="q4" d="M122.2,171.6l9.1,3.8l0.3,1.5l-9.1,-3.5z"/>
<path class="q0" d="M179.8,164.2l7.3,-2.3l-0.5,1.7l-7.1,2.3z"/>
<path class="q2" d="M171.4,169.9l7.7,-2.3l-0.3,1.7l-7.7,2.3z"/>
<path class="q6" d="M142.0,180.7l10.5,-0.2l-0.2,1.9l-10.2,0.2z"/>
<path class="q4" d="M162.4,175.2l8.5,-2.2l-0.3,1.7l-8.4,2.2z"/>
<path class="q0" d="M112.9,161.3l8,4.3l0.4,1.5l-8,-4.1z"/>
<path class="q3" d="M121.9,170.3l9.2,3.9l0.2,1.2l-9.1,-3.8z"/>
<path class="q5" d="M152.6,178.8l9.6,-1.9l-0.3,1.9l-9.4,1.7z"/>
<path class="q5" d="M131.6,176.9l10.3,2.2l0.1,1.6l-10.1,-2.1z"/>
<path class="q1" d="M171.7,168.3l7.8,-2.4l-0.4,1.7l-7.7,2.3z"/>
<path class="q3" d="M162.6,173.9l8.5,-2.3l-0.2,1.4l-8.5,2.2z"/>
<path class="q5" d="M141.9,179.1l10.7,-0.3l-0.1,1.7l-10.5,0.2z"/>
<path class="q2" d="M121.6,168.7l9.2,4.2l0.3,1.3l-9.2,-3.9z"/>
<path class="q0" d="M172.0,166.6l7.8,-2.4l-0.3,1.7l-7.8,2.4z"/>
<path class="q4" d="M152.7,177.3l9.7,-2.1l-0.2,1.7l-9.6,1.9z"/>
<path class="q2" d="M162.8,172.4l8.6,-2.5l-0.3,1.7l-8.5,2.3z"/>
<path class="q4" d="M131.3,175.4l10.6,2.4l0,1.3l-10.3,-2.2z"/>
<path class="q1" d="M121.3,167.1l9.2,4.5l0.3,1.3l-9.2,-4.2z"/>
<path class="q4" d="M141.9,177.8l10.8,-0.5l-0.1,1.5l-10.7,0.3z"/>
<path class="q3" d="M152.8,176.1l9.8,-2.2l-0.2,1.3l-9.7,2.1z"/>
<path class="q1" d="M163.0,170.9l8.7,-2.6l-0.3,1.6l-8.6,2.5z"/>
<path class="q3" d="M131.1,174.2l10.7,2.6l0.1,1l-10.6,-2.4z"/>
<path class="q0" d="M120.9,165.6l9.2,4.9l0.4,1.1l-9.2,-4.5z"/>
<path class="q0" d="M163.3,169.4l8.7,-2.8l-0.3,1.7l-8.7,2.6z"/>
<path class="q2" d="M152.9,174.8l9.9,-2.4l-0.2,1.5l-9.8,2.2z"/>
<path class="q3" d="M141.8,176.8l11,-0.7l-0.1,1.2l-10.8,0.5z"/>
<path class="q2" d="M130.8,172.9l10.9,2.9l0.1,1l-10.7,-2.6z"/>
<path class="q1" d="M153.1,173.6l9.9,-2.7l-0.2,1.5l-9.9,2.4z"/>
<path class="q2" d="M141.7,175.8l11.2,-1l-0.1,1.3l-11,0.7z"/>
<path class="q1" d="M130.5,171.6l11,3.5l0.2,0.7l-10.9,-2.9z"/>
<path class="q0" d="M153.2,172.5l10.1,-3.1l-0.3,1.5l-9.9,2.7z"/>
<path class="q1" d="M141.5,175.1l11.6,-1.5l-0.2,1.2l-11.2,1z"/>
<path class="q0" d="M130.1,170.5l11.1,5.8l0.3,-1.2l-11,-3.5z"/>
<path class="q0" d="M141.2,176.3l12,-3.8l-0.1,1.1l-11.6,1.5z"/>
</g>
<g stroke="#555" stroke-width="0.8" fill="none">
<path d="M141.2,302.0 L283.8,257.3"/>
<path d="M141.2,302.0 L32.0,244.3"/>
<path d="M32.0,244.3 L32.0,118.6"/>
<path d="M141.2,302.0 l3.0,1.6"/>
<path d="M165.0,294.6 l3.0,1.6"/>
<path d="M188.7,287.1 l3.0,1.6"/>
<path d="M212.5,279.6 l3.0,1.6"/>
<path d="M236.3,272.2 l3.0,1.6"/>
<path d="M260.0,264.8 l3.0,1.6"/>
<path d="M141.2,302.0 l-3.2,1.0"/>
<path d="M113.9,287.6 l-3.2,1.0"/>
<path d="M86.6,273.1 l-3.2,1.0"/>
<path d="M59.3,258.7 l-3.2,1.0"/>
<path d="M32.0,244.3 l-3.2,1.0"/>
<path d="M32.0,118.6 l-3.0,-1.6"/>
<path d="M32.0,160.5 l-3.0,-1.6"/>
<path d="M32.0,202.4 l-3.0,-1.6"/>
<path d="M32.0,244.3 l-3.0,-1.6"/>
</g>
<g font-family="Liberation Serif, serif" font-weight="bold" font-size="11.5" fill="#111" text-anchor="middle">
<text x="150.5" y="316.9">0</text>
<text x="180.4" y="310.4">100</text>
<text x="205.0" y="302.8">200</text>
<text x="227.0" y="294.7">300</text>
<text x="250.8" y="287.6">400</text>
<text x="274.8" y="279.9">500</text>
<text x="130.5" y="315.4">0</text>
<text x="100.1" y="301.3">50</text>
<text x="70.8" y="287.5">100</text>
<text x="43.1" y="272.7">150</text>
<text x="16.0" y="257.9">200</text>
</g>
<g font-family="Liberation Serif, serif" font-weight="bold" font-size="11.5" fill="#111" text-anchor="end">
<text x="24.8" y="120.4">0</text>
<text x="24.8" y="162.4">-1</text>
<text x="24.8" y="204.9">-2</text>
<text x="24.8" y="247.1">-3</text>
</g>
<text x="158" y="70" font-family="Liberation Serif, serif" font-weight="bold" font-size="12.8" fill="#111" text-anchor="middle">Separation space</text>
<text transform="translate(9.5,180) rotate(-90)" font-family="Liberation Serif, serif" font-weight="bold" font-size="12.5" fill="#111" text-anchor="middle">Flexibility</text>
<text x="24.5" y="317.8" font-family="Liberation Serif, serif" font-weight="bold" font-size="12.6" fill="#111">Width<tspan font-weight="normal" dx="7">(m)</tspan></text>
<text x="213.4" y="321.5" font-family="Liberation Serif, serif" font-weight="bold" font-size="12.2" fill="#111">Length<tspan font-weight="normal" dx="6">(m)</tspan></text>
<text x="3.3" y="30.2" font-family="Liberation Serif, serif" font-size="16.5" fill="#222">(a)</text>
<defs><linearGradient id="cba" x1="0" y1="1" x2="0" y2="0">
<stop offset="0.0000" stop-color="#1946a5"/>
<stop offset="0.0870" stop-color="#1955a0"/>
<stop offset="0.1210" stop-color="#196e82"/>
<stop offset="0.1640" stop-color="#28964b"/>
<stop offset="0.2580" stop-color="#58af37"/>
<stop offset="0.3310" stop-color="#78b932"/>
<stop offset="0.3850" stop-color="#a0c82d"/>
<stop offset="0.4520" stop-color="#d7dc28"/>
<stop offset="0.5120" stop-color="#fce81e"/>
<stop offset="0.5650" stop-color="#fac814"/>
<stop offset="0.6800" stop-color="#f5a014"/>
<stop offset="0.7790" stop-color="#ee7d0f"/>
<stop offset="0.8560" stop-color="#ec3e69"/>
<stop offset="0.9195" stop-color="#ea308e"/>
<stop offset="0.9205" stop-color="#da3895"/>
<stop offset="1.0000" stop-color="#ac52ac"/>
</linearGradient></defs>
<rect x="304.3" y="75.0" width="11.4" height="226.8" fill="url(#cba)" stroke="#444" stroke-width="0.6"/>
<g font-family="Liberation Serif, serif" font-weight="bold" font-size="10" fill="#111">
<path d="M315.7,112.9 h-2.5" stroke="#333" stroke-width="0.6"/>
<text x="320.2" y="116.3">-0.5</text>
<path d="M315.7,150.8 h-2.5" stroke="#333" stroke-width="0.6"/>
<text x="320.2" y="154.2">-1</text>
<path d="M315.7,188.7 h-2.5" stroke="#333" stroke-width="0.6"/>
<text x="320.2" y="192.1">-1.5</text>
<path d="M315.7,226.6 h-2.5" stroke="#333" stroke-width="0.6"/>
<text x="320.2" y="230.0">-2</text>
<path d="M315.7,264.5 h-2.5" stroke="#333" stroke-width="0.6"/>
<text x="320.2" y="267.9">-2.5</text>
</g>
<rect x="385.0" y="14.6" width="261.5" height="145.0" fill="#b055a8"/>
<path d="M559.8,20.4 L564.9,20.5 L570.1,20.6 L574.8,20.8 L580.1,21.0 L584.8,21.3 L589.5,21.7 L594.2,22.1 L598.5,22.6 L603.1,23.2 L607.3,24.0 L610.9,24.8 L614.6,25.9 L618.3,27.3 L621.2,28.7 L624.0,30.5 L626.2,32.4 L628.2,34.5 L630.0,37.1 L631.4,39.6 L632.6,42.5 L633.6,45.4 L634.4,48.7 L635.0,51.9 L635.4,55.2 L635.7,58.5 L636.0,62.1 L636.2,65.3 L636.2,69.0 L636.3,72.6 L636.2,76.2 L636.1,79.8 L636.0,83.1 L635.8,86.7 L635.5,90.3 L635.2,93.6 L634.9,96.9 L634.6,100.5 L634.2,103.8 L633.7,107.0 L633.2,110.3 L632.6,113.6 L631.9,116.8 L631.1,119.7 L630.2,122.6 L629.2,125.5 L627.9,128.4 L626.5,131.0 L624.8,133.5 L623.0,135.8 L620.9,137.9 L618.3,140.0 L615.6,141.7 L612.5,143.3 L609.4,144.6 L606.0,145.8 L602.1,146.9 L598.4,147.8 L594.2,148.6 L590.0,149.3 L585.8,149.9 L581.1,150.4 L576.4,150.9 L572.2,151.3 L567.3,151.6 L562.3,152.0 L557.6,152.2 L552.9,152.5 L547.7,152.7 L542.9,152.9 L537.7,153.1 L533.0,153.2 L527.8,153.4 L523.1,153.5 L517.8,153.6 L512.6,153.7 L507.4,153.8 L502.7,153.8 L497.4,153.9 L492.2,153.9 L487.0,153.9 L481.8,153.9 L476.5,153.9 L471.7,153.8 L466.6,153.7 L461.4,153.6 L456.7,153.4 L451.4,153.2 L446.7,152.9 L442.0,152.5 L437.3,152.1 L433.0,151.6 L428.4,151.0 L424.2,150.2 L420.6,149.4 L416.9,148.3 L413.2,146.9 L410.3,145.5 L407.5,143.7 L405.3,141.8 L403.3,139.7 L401.5,137.1 L400.1,134.6 L398.9,131.7 L397.9,128.8 L397.1,125.5 L396.5,122.3 L396.1,119.0 L395.8,115.7 L395.5,112.1 L395.3,108.8 L395.3,105.2 L395.2,101.6 L395.3,98.0 L395.4,94.3 L395.5,91.1 L395.7,87.5 L396.0,83.9 L396.3,80.6 L396.6,77.3 L396.9,73.7 L397.3,70.4 L397.8,67.2 L398.3,63.9 L398.9,60.6 L399.6,57.4 L400.4,54.5 L401.3,51.6 L402.3,48.7 L403.6,45.8 L405.0,43.2 L406.7,40.7 L408.5,38.4 L410.6,36.3 L413.2,34.2 L415.9,32.5 L419.0,30.9 L422.1,29.6 L425.5,28.4 L429.4,27.3 L433.1,26.4 L437.3,25.6 L441.5,24.9 L445.7,24.3 L450.4,23.8 L455.1,23.3 L459.3,22.9 L464.2,22.6 L469.2,22.2 L473.9,22.0 L478.6,21.7 L483.8,21.5 L488.6,21.3 L493.8,21.1 L498.5,21.0 L503.7,20.8 L508.4,20.7 L513.7,20.6 L518.9,20.5 L524.1,20.4 L528.8,20.4 L534.1,20.3 L539.3,20.3 L544.5,20.3 L549.7,20.3 L555.0,20.3Z" fill="#ea3e78"/>
<path d="M548.6,26.2 L552.9,26.3 L557.6,26.4 L562.3,26.5 L566.5,26.7 L570.7,27.0 L574.8,27.3 L579.0,27.7 L583.2,28.2 L587.1,28.7 L591.1,29.4 L594.7,30.2 L597.9,31.0 L601.2,32.0 L604.2,33.1 L607.3,34.4 L609.9,35.8 L612.3,37.4 L614.6,39.2 L616.5,41.1 L618.3,43.1 L619.8,45.4 L621.0,47.6 L622.2,50.1 L623.1,52.7 L623.9,55.6 L624.5,58.4 L625.0,61.4 L625.3,64.3 L625.5,67.5 L625.6,70.4 L625.6,73.7 L625.5,76.6 L625.3,79.8 L625.1,82.9 L624.7,86.0 L624.4,88.9 L624.0,91.8 L623.5,94.7 L623.0,97.6 L622.4,100.5 L621.7,103.4 L620.9,106.3 L620.1,108.8 L619.3,111.4 L618.3,114.1 L617.2,116.5 L615.9,119.0 L614.6,121.2 L613.0,123.5 L611.4,125.5 L609.4,127.7 L607.5,129.5 L605.2,131.3 L603.1,132.8 L600.5,134.3 L597.8,135.7 L594.7,137.0 L591.6,138.2 L588.4,139.2 L585.3,140.1 L581.6,141.0 L578.0,141.8 L574.3,142.5 L570.7,143.1 L566.6,143.7 L562.8,144.1 L558.6,144.6 L554.5,145.0 L550.3,145.4 L546.1,145.8 L541.9,146.1 L537.7,146.4 L533.5,146.6 L528.8,146.9 L524.6,147.1 L520.4,147.3 L515.8,147.5 L511.0,147.6 L506.9,147.7 L502.2,147.9 L497.4,147.9 L492.9,148.0 L488.6,148.0 L483.8,148.0 L479.7,148.0 L475.0,147.9 L470.2,147.7 L466.1,147.5 L461.6,147.3 L457.2,147.0 L453.0,146.6 L449.3,146.2 L445.1,145.6 L441.5,145.0 L437.8,144.2 L434.2,143.4 L431.0,142.4 L427.9,141.3 L424.8,140.0 L422.1,138.7 L419.7,137.1 L417.4,135.4 L415.4,133.5 L413.7,131.7 L412.1,129.5 L410.6,127.0 L409.6,124.7 L408.5,122.0 L407.8,119.4 L407.1,116.5 L406.6,113.6 L406.2,110.7 L406.0,107.4 L405.9,104.5 L405.9,101.2 L406.0,98.3 L406.1,95.1 L406.4,91.8 L406.7,88.9 L407.0,86.0 L407.5,82.8 L408.0,79.8 L408.5,77.0 L409.1,74.1 L409.6,71.5 L410.4,68.6 L411.1,66.0 L412.1,63.2 L413.0,60.6 L414.1,58.1 L415.3,55.7 L416.7,53.4 L418.1,51.2 L419.8,49.0 L421.6,47.0 L423.6,45.0 L425.8,43.3 L427.9,41.8 L430.5,40.2 L433.1,38.8 L436.2,37.4 L439.0,36.3 L442.2,35.3 L445.7,34.3 L448.8,33.5 L452.5,32.6 L456.1,31.9 L460.0,31.3 L464.0,30.7 L467.7,30.2 L471.8,29.7 L476.0,29.3 L480.2,28.9 L484.4,28.5 L488.6,28.2 L492.7,27.9 L496.9,27.6 L501.6,27.4 L505.8,27.2 L510.5,27.0 L514.7,26.8 L519.4,26.6 L523.6,26.5 L528.3,26.4 L533.0,26.3 L537.7,26.2 L541.9,26.2 L546.6,26.2Z" fill="#f38c0f"/>
<path d="M550.3,32.0 L554.5,32.1 L558.6,32.3 L562.3,32.5 L566.0,32.8 L569.6,33.1 L573.3,33.6 L576.9,34.1 L580.1,34.6 L583.3,35.3 L586.4,36.0 L589.5,36.9 L592.3,37.8 L595.1,38.9 L597.5,40.0 L600.0,41.3 L602.0,42.6 L604.1,44.2 L605.9,45.8 L607.6,47.6 L609.1,49.4 L610.4,51.4 L611.5,53.4 L612.5,55.7 L613.4,58.1 L614.1,60.6 L614.6,63.2 L614.9,65.7 L615.1,68.2 L615.3,71.1 L615.2,74.0 L615.1,76.6 L614.9,79.5 L614.6,82.2 L614.2,84.9 L613.8,87.5 L613.3,90.0 L612.8,92.5 L612.2,95.1 L611.5,97.6 L610.9,99.8 L610.0,102.3 L609.2,104.5 L608.3,106.8 L607.3,109.1 L606.2,111.1 L605.1,113.2 L603.6,115.4 L602.3,117.2 L600.8,119.0 L599.1,120.8 L597.3,122.5 L595.5,124.1 L593.5,125.5 L591.3,127.0 L589.0,128.3 L586.6,129.5 L584.1,130.6 L581.4,131.7 L578.5,132.7 L575.9,133.5 L572.8,134.4 L569.6,135.2 L566.5,135.9 L563.3,136.5 L560.0,137.1 L556.5,137.7 L552.9,138.2 L549.7,138.6 L546.1,139.1 L542.4,139.5 L538.8,139.8 L535.1,140.2 L531.4,140.5 L527.8,140.8 L523.6,141.0 L519.9,141.3 L516.3,141.5 L512.1,141.7 L508.4,141.9 L504.2,142.0 L500.1,142.1 L496.4,142.2 L492.2,142.3 L488.0,142.3 L483.8,142.2 L480.2,142.2 L476.0,142.0 L471.8,141.8 L468.2,141.6 L464.5,141.3 L460.8,141.0 L457.2,140.5 L453.9,140.0 L450.4,139.4 L447.2,138.7 L444.1,137.9 L441.3,137.1 L438.3,136.1 L435.7,135.0 L433.3,133.9 L431.0,132.6 L428.9,131.2 L426.8,129.6 L425.2,128.1 L423.6,126.2 L422.1,124.4 L420.8,122.3 L419.7,120.1 L418.8,117.9 L417.9,115.5 L417.4,113.2 L416.9,110.7 L416.5,107.8 L416.3,105.2 L416.2,102.3 L416.3,99.4 L416.4,96.9 L416.7,94.0 L417.0,91.5 L417.4,88.5 L417.8,86.0 L418.3,83.5 L418.9,80.9 L419.5,78.4 L420.1,76.2 L420.9,73.7 L421.6,71.4 L422.5,69.0 L423.4,66.8 L424.5,64.6 L425.6,62.5 L426.8,60.4 L428.1,58.5 L429.5,56.6 L431.0,54.8 L432.7,53.0 L434.7,51.2 L436.5,49.8 L438.5,48.3 L440.8,46.9 L443.1,45.6 L445.7,44.3 L448.2,43.2 L450.9,42.2 L453.5,41.3 L456.7,40.4 L459.4,39.6 L462.4,38.9 L465.7,38.2 L469.2,37.5 L472.3,36.9 L476.0,36.4 L479.1,35.9 L482.8,35.4 L486.5,35.0 L490.1,34.6 L493.8,34.3 L497.4,33.9 L501.1,33.6 L504.8,33.4 L509.0,33.1 L512.6,32.9 L516.3,32.7 L520.5,32.5 L524.1,32.3 L528.3,32.2 L532.5,32.0 L536.1,32.0 L540.3,31.9 L544.5,31.9 L548.7,32.0Z" fill="#fde419"/>
<path d="M546.4,38.9 L549.7,39.0 L553.4,39.2 L556.5,39.4 L559.7,39.6 L562.9,40.0 L566.0,40.4 L569.1,40.9 L572.1,41.4 L574.8,42.0 L577.5,42.7 L580.1,43.5 L582.4,44.3 L584.8,45.3 L586.9,46.3 L589.0,47.4 L590.9,48.7 L592.6,49.9 L594.2,51.3 L595.8,52.9 L597.1,54.5 L598.4,56.3 L599.4,58.0 L600.3,59.9 L601.0,61.7 L601.7,63.9 L602.2,66.1 L602.6,68.6 L602.7,70.8 L602.8,73.3 L602.8,75.9 L602.6,78.4 L602.3,80.6 L602.0,82.8 L601.6,85.3 L601.1,87.5 L600.6,89.6 L600.0,91.8 L599.4,93.6 L598.7,95.8 L597.9,98.0 L597.1,99.8 L596.3,101.6 L595.2,103.7 L594.2,105.6 L593.2,107.3 L592.1,108.8 L590.7,110.7 L589.5,112.1 L587.9,113.8 L586.4,115.4 L584.8,116.7 L583.2,118.0 L581.2,119.4 L579.5,120.4 L577.5,121.6 L575.4,122.7 L573.3,123.7 L570.7,124.8 L568.6,125.6 L566.0,126.5 L563.3,127.3 L560.7,128.0 L558.1,128.7 L555.5,129.3 L552.9,129.9 L549.7,130.5 L547.0,131.0 L544.0,131.4 L540.9,131.9 L537.7,132.3 L534.6,132.7 L531.4,133.1 L528.3,133.4 L525.2,133.7 L522.0,134.0 L518.9,134.2 L515.2,134.5 L512.1,134.7 L508.4,134.9 L505.3,135.1 L501.6,135.2 L498.0,135.3 L494.8,135.4 L491.2,135.4 L487.5,135.4 L484.4,135.3 L480.7,135.2 L477.0,135.0 L473.9,134.8 L470.8,134.5 L467.6,134.1 L464.5,133.7 L461.4,133.2 L458.7,132.6 L456.1,132.0 L453.5,131.3 L450.9,130.5 L448.3,129.6 L446.2,128.7 L444.1,127.6 L442.0,126.4 L440.1,125.2 L438.3,123.8 L436.8,122.4 L435.3,120.8 L434.1,119.4 L432.9,117.5 L431.9,115.7 L431.0,113.9 L430.2,111.8 L429.6,109.6 L429.2,107.4 L428.9,105.2 L428.7,102.7 L428.7,100.2 L428.8,97.6 L429.0,95.4 L429.3,92.9 L429.6,90.7 L430.0,88.5 L430.5,86.3 L431.0,84.2 L431.6,82.0 L432.3,79.8 L433.1,77.7 L433.8,75.9 L434.7,73.7 L435.6,71.9 L436.5,70.1 L437.5,68.2 L438.7,66.4 L439.9,64.7 L441.1,63.2 L442.5,61.5 L444.0,59.9 L445.6,58.5 L447.2,57.0 L448.8,55.9 L450.8,54.5 L452.6,53.4 L454.6,52.3 L456.7,51.2 L459.1,50.1 L461.4,49.2 L463.7,48.3 L466.1,47.5 L468.7,46.7 L471.3,46.0 L473.9,45.4 L476.9,44.7 L479.7,44.1 L482.4,43.6 L485.4,43.1 L488.6,42.6 L491.6,42.1 L494.4,41.8 L497.4,41.4 L500.6,41.1 L504.1,40.7 L507.4,40.4 L510.5,40.1 L513.7,39.9 L517.3,39.6 L520.5,39.4 L523.9,39.2 L527.3,39.1 L530.9,39.0 L534.2,38.9 L537.7,38.8 L541.4,38.8 L545.0,38.9Z" fill="#a8d023"/>
<path d="M547.7,46.9 L550.8,47.1 L553.4,47.4 L556.0,47.7 L558.6,48.1 L561.3,48.5 L563.6,49.0 L566.0,49.6 L568.0,50.2 L570.1,50.9 L572.2,51.7 L574.3,52.6 L575.9,53.4 L577.7,54.5 L579.3,55.6 L580.7,56.6 L582.2,58.0 L583.3,59.2 L584.5,60.6 L585.4,62.1 L586.4,63.7 L587.1,65.3 L587.7,67.2 L588.2,69.0 L588.6,70.8 L588.8,73.0 L588.9,75.1 L588.9,77.3 L588.7,79.5 L588.4,81.5 L588.1,83.5 L587.7,85.3 L587.3,87.1 L586.7,88.9 L586.2,90.7 L585.5,92.5 L584.8,94.2 L584.1,95.8 L583.2,97.5 L582.4,99.1 L581.5,100.5 L580.5,102.0 L579.5,103.4 L578.4,104.9 L577.1,106.3 L575.9,107.6 L574.6,108.8 L573.3,110.0 L571.7,111.2 L570.1,112.4 L568.6,113.4 L567.0,114.4 L565.2,115.4 L563.3,116.3 L561.5,117.2 L559.7,118.0 L557.6,118.8 L555.5,119.5 L553.4,120.2 L551.3,120.9 L548.9,121.5 L546.6,122.1 L544.4,122.6 L541.9,123.2 L539.3,123.7 L537.1,124.1 L534.6,124.5 L532.0,124.9 L529.3,125.3 L526.7,125.6 L524.1,125.9 L521.2,126.2 L518.4,126.5 L515.8,126.8 L513.0,127.0 L510.0,127.2 L507.2,127.3 L504.2,127.5 L501.1,127.6 L498.0,127.6 L494.8,127.7 L491.7,127.6 L488.6,127.6 L485.4,127.4 L482.8,127.3 L479.7,127.0 L477.0,126.7 L474.4,126.4 L471.8,126.0 L469.5,125.5 L467.1,125.0 L465.0,124.4 L462.6,123.7 L460.5,123.0 L458.7,122.3 L456.7,121.3 L455.0,120.4 L453.3,119.4 L451.7,118.3 L450.4,117.2 L448.9,115.7 L447.8,114.5 L446.7,113.1 L445.7,111.5 L444.9,109.9 L444.1,108.1 L443.6,106.4 L443.1,104.5 L442.8,102.7 L442.6,100.5 L442.6,98.3 L442.7,96.2 L442.9,94.0 L443.1,92.2 L443.5,90.0 L443.9,88.2 L444.4,86.4 L445.0,84.6 L445.6,82.8 L446.2,81.2 L446.9,79.5 L447.8,77.7 L448.5,76.2 L449.3,74.8 L450.4,73.1 L451.4,71.6 L452.5,70.2 L453.5,68.9 L454.7,67.5 L456.1,66.1 L457.3,65.0 L458.7,63.8 L460.3,62.6 L461.9,61.5 L463.4,60.5 L465.0,59.5 L467.0,58.5 L468.7,57.6 L470.8,56.7 L472.6,55.9 L474.5,55.2 L476.6,54.5 L478.8,53.8 L481.2,53.0 L483.3,52.5 L485.5,51.9 L488.0,51.4 L490.5,50.8 L492.7,50.4 L495.4,50.0 L498.0,49.5 L500.6,49.1 L503.2,48.8 L505.8,48.4 L508.4,48.1 L511.0,47.9 L514.0,47.6 L516.8,47.4 L519.4,47.2 L522.5,47.0 L525.2,46.8 L528.3,46.7 L531.4,46.6 L534.6,46.5 L537.7,46.5 L540.9,46.6 L544.0,46.7 L547.1,46.8Z" fill="#5ab43c"/>
<path d="M540.7,54.8 L542.9,55.0 L545.0,55.2 L547.5,55.6 L549.7,55.9 L551.7,56.3 L553.4,56.7 L555.5,57.2 L557.3,57.7 L559.2,58.4 L560.7,59.0 L562.3,59.7 L563.9,60.5 L565.2,61.4 L566.5,62.2 L567.7,63.2 L568.9,64.3 L569.9,65.3 L570.8,66.4 L571.7,67.8 L572.4,69.0 L573.0,70.4 L573.6,71.9 L573.9,73.3 L574.3,75.1 L574.4,76.6 L574.5,78.4 L574.4,80.2 L574.3,81.7 L574.0,83.5 L573.7,84.9 L573.3,86.4 L572.8,88.1 L572.2,89.5 L571.7,90.8 L571.1,92.2 L570.3,93.6 L569.6,94.9 L568.8,96.2 L568.0,97.3 L567.0,98.7 L566.1,99.8 L565.1,100.9 L564.1,102.0 L563.0,103.0 L561.8,104.1 L560.7,104.9 L559.4,105.9 L558.1,106.8 L556.6,107.8 L555.4,108.5 L553.9,109.3 L552.4,110.1 L550.8,110.8 L549.2,111.5 L547.7,112.1 L545.8,112.8 L544.0,113.4 L542.4,113.9 L540.3,114.6 L538.7,115.0 L536.7,115.5 L534.6,116.0 L532.5,116.5 L530.6,116.8 L528.6,117.2 L526.4,117.5 L524.1,117.9 L522.0,118.2 L519.9,118.4 L517.8,118.7 L515.2,118.9 L513.1,119.1 L510.5,119.3 L508.4,119.4 L505.8,119.5 L503.2,119.6 L500.6,119.7 L498.0,119.7 L495.4,119.6 L492.7,119.5 L490.6,119.4 L488.0,119.1 L485.9,118.9 L483.8,118.6 L481.7,118.3 L479.7,117.9 L477.6,117.4 L475.5,116.8 L473.9,116.4 L472.1,115.7 L470.4,115.0 L468.8,114.3 L467.5,113.6 L466.1,112.7 L464.7,111.8 L463.4,110.7 L462.4,109.7 L461.4,108.6 L460.4,107.4 L459.7,106.3 L458.9,104.9 L458.3,103.4 L457.8,102.0 L457.5,100.5 L457.2,98.7 L457.1,97.2 L457.0,95.4 L457.1,93.6 L457.3,92.2 L457.6,90.4 L457.9,88.9 L458.3,87.5 L458.8,86.0 L459.3,84.6 L459.9,83.1 L460.6,81.7 L461.4,80.2 L462.0,79.1 L462.9,77.7 L463.7,76.6 L464.5,75.5 L465.5,74.2 L466.6,73.1 L467.6,72.0 L468.7,71.0 L469.8,70.1 L471.2,69.0 L472.3,68.1 L473.7,67.2 L475.0,66.4 L476.5,65.5 L478.1,64.6 L479.6,63.9 L481.2,63.2 L482.8,62.5 L484.4,61.9 L485.9,61.3 L487.9,60.6 L489.6,60.1 L491.5,59.5 L493.3,59.1 L495.4,58.6 L497.3,58.1 L499.1,57.7 L501.1,57.3 L503.2,57.0 L505.3,56.6 L507.5,56.3 L510.0,55.9 L512.1,55.7 L514.2,55.5 L516.8,55.2 L518.9,55.0 L521.5,54.9 L523.6,54.7 L526.2,54.6 L528.8,54.6 L531.4,54.5 L534.1,54.6 L536.7,54.6 L539.3,54.7Z" fill="#0f9664"/>
<path d="M529.5,64.6 L530.9,64.7 L532.5,64.8 L534.1,65.0 L535.1,65.1 L536.7,65.3 L537.7,65.5 L538.8,65.7 L540.3,66.1 L541.4,66.3 L542.4,66.6 L543.5,66.9 L544.5,67.3 L545.6,67.7 L546.6,68.1 L547.6,68.6 L548.3,69.0 L549.2,69.5 L550.0,70.1 L550.8,70.6 L551.5,71.1 L552.3,71.9 L552.9,72.5 L553.4,73.1 L553.9,73.8 L554.5,74.5 L555.0,75.5 L555.3,76.2 L555.6,77.0 L556.0,78.0 L556.2,78.8 L556.3,79.8 L556.4,80.9 L556.5,82.0 L556.4,83.1 L556.2,84.2 L556.0,85.3 L555.9,86.0 L555.5,87.1 L555.3,87.8 L555.0,88.5 L554.5,89.6 L554.1,90.4 L553.7,91.1 L553.2,91.8 L552.7,92.5 L552.2,93.3 L551.6,94.0 L551.0,94.7 L550.4,95.4 L549.7,96.1 L549.2,96.6 L548.5,97.2 L547.7,98.0 L547.1,98.4 L546.3,99.1 L545.6,99.6 L544.7,100.2 L544.0,100.6 L543.0,101.2 L542.3,101.6 L541.4,102.1 L540.3,102.7 L539.5,103.0 L538.7,103.4 L537.7,103.9 L536.7,104.3 L535.6,104.7 L534.6,105.1 L533.5,105.4 L532.5,105.8 L531.4,106.1 L530.4,106.4 L529.3,106.7 L528.0,107.0 L526.7,107.3 L525.7,107.6 L524.6,107.8 L523.1,108.1 L522.0,108.3 L520.8,108.5 L519.4,108.7 L518.3,108.8 L516.8,109.0 L515.2,109.2 L514.2,109.3 L512.6,109.4 L511.0,109.5 L510.0,109.6 L508.4,109.6 L506.9,109.7 L505.3,109.7 L503.7,109.6 L502.2,109.6 L501.1,109.5 L499.5,109.4 L498.0,109.3 L496.9,109.2 L495.4,108.9 L494.3,108.8 L492.7,108.5 L491.7,108.3 L490.6,108.0 L489.6,107.7 L488.4,107.4 L487.4,107.0 L486.4,106.7 L485.4,106.3 L484.4,105.8 L483.3,105.3 L482.6,104.9 L481.8,104.3 L481.0,103.8 L480.2,103.2 L479.6,102.7 L478.9,102.0 L478.2,101.2 L477.6,100.5 L477.1,99.8 L476.7,99.1 L476.3,98.3 L476.0,97.6 L475.6,96.5 L475.4,95.8 L475.2,94.7 L475.1,93.6 L475.0,92.5 L475.1,91.5 L475.2,90.4 L475.4,89.3 L475.6,88.5 L475.9,87.5 L476.1,86.7 L476.5,85.7 L476.9,84.9 L477.2,84.2 L477.6,83.5 L478.1,82.7 L478.6,81.9 L479.1,81.1 L479.7,80.5 L480.2,79.8 L480.8,79.1 L481.5,78.4 L482.2,77.7 L482.8,77.1 L483.4,76.6 L484.3,75.9 L484.9,75.4 L485.7,74.8 L486.5,74.3 L487.3,73.7 L488.0,73.3 L489.1,72.7 L489.8,72.2 L490.6,71.8 L491.7,71.3 L492.7,70.8 L493.6,70.4 L494.5,70.1 L495.4,69.7 L496.4,69.3 L497.4,68.9 L498.5,68.6 L499.5,68.2 L500.8,67.9 L502.1,67.5 L503.2,67.2 L504.2,67.0 L505.3,66.7 L506.7,66.4 L507.9,66.2 L509.0,66.0 L510.5,65.7 L511.6,65.6 L513.1,65.4 L514.2,65.2 L515.8,65.0 L516.8,64.9 L518.4,64.8 L519.9,64.7 L521.4,64.6 L522.5,64.6 L524.1,64.5 L525.7,64.5 L527.3,64.5 L528.8,64.6Z" fill="#144ba5"/>
<path d="M607.5,145.3 L604.7,146.2 L601.5,147.1 L598.4,147.8 L595.2,148.4 L591.8,149.0 L588.4,149.5 L584.9,150.0 L581.4,150.4 L577.7,150.8 L574.1,151.1 L570.1,151.4 L566.5,151.7 L562.6,151.9 L558.6,152.2 L555.0,152.4 L551.1,152.5 L547.0,152.7 L542.9,152.9 L539.0,153.0 L535.1,153.1 L531.2,153.3 L527.0,153.4 L523.1,153.5 L518.9,153.6 L515.0,153.6 L510.8,153.7 L506.6,153.8 L502.7,153.8 L498.5,153.9 L494.3,153.9 L490.1,153.9 L485.9,153.9 L481.8,153.9 L477.6,153.9 L473.4,153.8 L469.5,153.8 L465.3,153.7 L461.4,153.6 L457.4,153.4 L453.5,153.3 L449.6,153.1 L445.7,152.8 L441.9,152.5 L438.1,152.2 L434.5,151.8 L431.0,151.4 L427.6,150.8 L424.2,150.2 L421.1,149.5 L418.2,148.7 L415.3,147.8 L412.7,146.7 L410.3,145.5 L408.0,144.0 L406.1,142.6 L404.4,140.9 L402.8,139.0 L401.5,137.1 L400.3,134.9 L399.3,132.8 L398.4,130.4 L397.8,128.1 L397.1,125.5 L396.7,123.0 L396.2,120.3 L395.9,117.7 L395.7,115.0 L395.5,112.1 L395.4,109.4 L395.3,106.5 L395.2,103.6 L395.3,100.7 L395.3,97.8 L395.4,94.9 L395.5,92.2 L395.6,89.3 L395.8,86.6 L396.0,83.8 L396.2,80.9 L396.5,78.2 L396.7,75.5 L397.0,72.9 L397.4,70.2 L397.7,67.5 L398.1,65.0 L398.6,62.3 L399.1,59.7 L399.6,57.4 L400.3,54.8 L401.0,52.5 L401.8,50.1 L402.7,47.8 L403.7,45.6 L404.9,43.5 L406.2,41.4 L407.5,39.6 L409.1,37.8 L410.9,36.1 L412.8,34.5 L413.0,34.4 M462.1,22.7 L466.1,22.4 L469.8,22.2 L473.6,22.0 L477.6,21.8 L481.5,21.6 L485.4,21.4 L489.3,21.3 L493.5,21.2 L497.4,21.0 L501.4,20.9 L505.6,20.8 L509.5,20.7 L513.7,20.6 L517.6,20.5 L521.8,20.5 L525.9,20.4 L529.9,20.4 L534.1,20.3 L538.2,20.3 L542.4,20.3 L546.6,20.3 L550.8,20.3 L555.0,20.3 L559.2,20.4 L563.1,20.5 L567.3,20.6 L571.2,20.7 L575.1,20.8 L579.0,21.0 L583.0,21.2 L586.9,21.5 L590.5,21.7 L594.2,22.1 L597.9,22.5 L601.3,23.0 L604.7,23.5 L608.1,24.2 L611.2,24.9 L614.1,25.7 L617.0,26.7 L619.5,27.8 L621.9,29.1 L624.0,30.5 L625.8,32.0 L627.6,33.8 L629.1,35.6 L630.4,37.6 L631.5,39.8 L632.4,42.0 L633.2,44.3 L633.9,46.9 L634.5,49.2 L635.0,51.9 L635.3,54.5 L635.6,57.2 L635.9,59.9 L636.0,62.7 L636.2,65.5 L636.2,68.4 L636.3,71.3 L636.2,74.2 L636.2,77.1 L636.1,80.0 L636.0,82.8 L635.8,85.6 L635.6,88.4 L635.5,91.1 L635.2,93.8 L635.0,96.5 L634.7,99.2 L634.4,102.0 L634.0,104.7 L633.9,105.4 M575.6,142.2 L572.5,142.8 L569.1,143.3 L566.0,143.7 L562.6,144.2 L559.2,144.6 L555.8,144.9 L552.4,145.2 L549.0,145.5 L545.3,145.8 L541.9,146.1 L538.2,146.3 L534.6,146.5 L531.2,146.7 L527.5,146.9 L523.9,147.1 L520.2,147.3 L516.3,147.4 L512.6,147.6 L509.0,147.7 L505.0,147.8 L501.4,147.9 L497.4,147.9 L493.5,148.0 L489.9,148.0 L485.9,148.0 L482.3,148.0 L478.4,147.9 L474.4,147.9 L470.8,147.7 L467.1,147.6 L463.4,147.4 L459.8,147.2 L456.4,146.9 L452.8,146.5 L449.6,146.2 L446.2,145.7 L443.1,145.2 L439.9,144.7 L436.8,144.0 L433.9,143.3 L431.3,142.5 L428.7,141.6 L426.1,140.6 L423.7,139.5 L421.6,138.4 L419.5,137.0 L417.7,135.6 L415.9,134.0 L414.4,132.4 L413.0,130.7 L411.7,128.8 L410.6,126.9 L409.6,124.8 L408.8,122.7 L408.1,120.4 L407.5,118.3 L407.0,115.8 L406.6,113.4 L406.3,110.8 L406.1,108.3 L405.9,105.6 L405.9,103.0 L405.9,100.3 L406.0,97.8 L406.1,95.1 L406.3,92.5 L406.6,90.0 L406.8,87.5 L407.2,84.9 L407.5,82.6 L407.9,80.0 L408.3,77.7 L408.8,75.3 L409.3,72.9 L409.9,70.6 L410.5,68.2 L411.1,66.0 L411.9,63.7 L412.7,61.5 L413.5,59.5 L413.9,58.6 M455.1,32.1 L458.2,31.6 L461.4,31.1 L464.8,30.6 L467.9,30.2 L471.3,29.8 L474.7,29.4 L478.1,29.1 L481.7,28.7 L485.2,28.5 L488.6,28.2 L492.2,27.9 L495.9,27.7 L499.5,27.5 L503.2,27.3 L506.9,27.1 L510.5,27.0 L514.2,26.8 L517.8,26.7 L521.5,26.5 L525.4,26.4 L529.1,26.3 L533.0,26.3 L536.9,26.2 L540.6,26.2 L544.5,26.2 L548.4,26.2 L552.1,26.2 L556.0,26.3 L559.7,26.4 L563.3,26.6 L567.0,26.7 L570.7,27.0 L574.3,27.2 L577.7,27.6 L581.1,27.9 L584.5,28.4 L587.7,28.8 L590.8,29.4 L593.9,30.0 L596.8,30.7 L599.5,31.5 L602.3,32.4 L604.7,33.3 L607.1,34.4 L609.4,35.5 L611.5,36.8 L613.3,38.2 L615.1,39.7 L616.7,41.3 L618.2,43.1 L619.5,44.9 L620.6,46.8 L621.6,48.9 L622.5,50.8 L623.2,53.0 L623.9,55.4 L624.4,57.7 L624.8,60.1 L625.2,62.6 L625.4,65.2 L625.5,67.9 L625.6,70.4 L625.6,73.1 L625.5,75.7 L625.4,78.4 L625.2,80.9 L625.0,83.5 L624.7,86.0 L624.4,88.5 L624.1,91.1 L623.7,93.4 L623.3,96.0 L622.8,98.3 L622.3,100.7 L621.8,103.0 L621.2,105.4 L620.5,107.6 L619.8,109.8 L619.0,112.1 L618.2,114.1 L617.3,116.3 M547.4,138.9 L544.5,139.2 L541.6,139.5 L538.6,139.8 L535.6,140.1 L532.5,140.4 L529.6,140.6 L526.5,140.8 L523.3,141.1 L520.2,141.3 L517.1,141.4 L513.9,141.6 L510.8,141.8 L507.6,141.9 L504.2,142.0 L501.1,142.1 L497.7,142.2 L494.6,142.2 L491.2,142.3 L487.8,142.3 L484.4,142.3 L481.2,142.2 L477.8,142.1 L474.7,142.0 L471.6,141.8 L468.4,141.6 L465.3,141.4 L462.3,141.1 L459.3,140.8 L456.4,140.4 L453.8,140.0 L450.9,139.5 L448.3,139.0 L445.8,138.4 L443.3,137.7 L441.0,137.0 L438.7,136.2 L436.5,135.4 L434.4,134.4 L432.6,133.5 L430.8,132.4 L428.9,131.2 L427.4,130.0 L425.8,128.6 L424.5,127.3 L423.2,125.8 L422.0,124.3 L421.0,122.6 L420.0,120.9 L419.3,119.2 L418.5,117.2 L417.9,115.4 L417.4,113.4 L417.0,111.2 L416.6,109.0 L416.4,106.9 L416.3,104.7 L416.2,102.3 L416.3,100.0 L416.4,97.6 L416.5,95.4 L416.8,93.3 L417.0,91.1 L417.3,88.9 L417.7,86.7 L418.1,84.7 L418.5,82.7 L419.0,80.6 L419.5,78.6 L420.0,76.6 L420.3,75.5 M448.7,43.1 L450.9,42.2 L453.2,41.4 L455.5,40.7 L458.0,40.0 L460.3,39.4 L462.9,38.8 L465.5,38.2 L468.2,37.7 L470.8,37.2 L473.6,36.7 L476.3,36.3 L479.1,35.9 L482.0,35.5 L484.9,35.2 L487.8,34.9 L490.9,34.5 L493.8,34.3 L496.9,34.0 L499.8,33.7 L502.9,33.5 L506.1,33.3 L509.0,33.1 L512.1,32.9 L515.2,32.7 L518.6,32.5 L521.8,32.4 L524.9,32.3 L528.0,32.2 L531.4,32.1 L534.6,32.0 L538.0,31.9 L541.4,31.9 L544.8,31.9 L548.2,32.0 L551.3,32.0 L554.7,32.1 L557.9,32.3 L561.0,32.4 L564.1,32.6 L567.3,32.9 L570.1,33.2 L573.0,33.5 L575.9,33.9 L578.6,34.4 L581.4,34.9 L584.0,35.4 L586.4,36.0 L589.0,36.7 L591.3,37.4 L593.4,38.2 L595.5,39.1 L597.6,40.0 L599.5,41.1 L601.3,42.1 L603.1,43.4 L604.7,44.6 L606.1,46.0 L607.5,47.4 L608.7,48.9 L609.8,50.5 L610.8,52.1 L611.7,53.9 L612.5,55.7 L613.2,57.6 L613.8,59.5 L614.3,61.5 L614.6,63.5 L614.9,65.7 L615.1,68.0 L615.2,70.2 L615.3,72.6 L615.2,75.0 L615.1,77.1 L614.9,79.5 L614.7,81.7 L614.4,83.8 L614.1,85.9 L613.7,88.0 L613.3,90.2 L612.9,92.2 L612.4,94.2 L611.9,96.2 L611.4,98.2 L610.8,100.2 L610.2,102.0 L609.5,104.0 L608.7,105.8 L608.0,107.6 L607.1,109.4 L606.2,111.1 L605.3,112.8 L604.3,114.5 L603.1,116.1 L602.0,117.5 L600.7,119.1 L599.4,120.5 L598.0,121.9 L596.6,123.2 L595.0,124.4 L593.2,125.7 L591.6,126.8 L590.5,127.4 M536.4,132.5 L534.1,132.8 L531.4,133.1 L529.1,133.3 L526.5,133.6 L523.9,133.8 L521.4,134.0 L518.9,134.2 L516.3,134.4 L513.7,134.6 L511.0,134.8 L508.2,134.9 L505.6,135.0 L502.9,135.2 L500.1,135.2 L497.3,135.3 L494.6,135.4 L491.7,135.4 L488.8,135.4 L485.9,135.3 L483.3,135.3 L480.4,135.2 L477.8,135.0 L475.2,134.9 L472.6,134.6 L470.2,134.4 L467.6,134.1 L465.3,133.8 L462.9,133.4 L460.6,133.0 L458.5,132.6 L456.2,132.0 L454.1,131.5 L452.2,130.9 L450.1,130.2 L448.3,129.6 L446.5,128.8 L444.9,128.0 L443.2,127.2 L441.7,126.2 L440.2,125.2 L438.9,124.3 L437.6,123.2 L436.3,121.9 L435.2,120.8 L434.2,119.5 L433.2,118.1 L432.3,116.6 L431.6,115.2 L430.9,113.7 L430.3,112.1 L430.2,111.8 M437.3,68.6 L438.1,67.3 L439.0,65.9 L439.9,64.6 L441.0,63.3 L442.0,62.0 L443.1,60.8 L444.4,59.6 L445.6,58.5 L446.8,57.4 L448.2,56.3 L449.6,55.3 L451.1,54.3 L452.6,53.4 L454.2,52.5 L455.9,51.6 L457.4,50.8 L459.3,50.0 L461.1,49.3 L462.9,48.6 L464.8,48.0 L466.8,47.3 L468.9,46.7 L470.8,46.1 L473.0,45.6 L475.2,45.1 L477.3,44.6 L479.5,44.1 L481.8,43.7 L484.1,43.3 L486.5,42.9 L488.8,42.6 L491.2,42.2 L493.5,41.9 L495.9,41.6 L498.5,41.3 L500.8,41.0 L503.5,40.8 L506.0,40.5 L508.4,40.3 L511.0,40.1 L513.7,39.9 L516.3,39.7 L518.9,39.5 L521.5,39.4 L524.1,39.2 L527.0,39.1 L529.6,39.0 L532.5,38.9 L535.1,38.9 L538.0,38.8 L540.9,38.8 L543.7,38.8 L546.4,38.9 L549.2,39.0 L551.8,39.1 L554.7,39.2 L557.3,39.4 L559.7,39.6 L562.3,39.9 L564.7,40.2 L567.0,40.5 L569.4,40.9 L571.7,41.3 L573.8,41.8 L576.0,42.3 L578.0,42.9 L580.1,43.5 L581.9,44.1 L583.8,44.9 L585.6,45.7 L587.3,46.5 L588.9,47.4 L590.4,48.3 L591.8,49.3 L593.2,50.4 L594.5,51.5 L595.6,52.7 L596.7,53.9 L597.7,55.2 L598.6,56.6 L599.4,58.0 L600.2,59.5 L600.8,61.0 L601.3,62.6 L601.8,64.3 L602.2,66.1 L602.5,67.9 L602.7,69.7 L602.8,71.7 L602.8,73.7 L602.8,75.7 L602.6,77.7 L602.5,79.5 L602.2,81.3 L602.0,83.1 L601.6,84.9 L601.3,86.7 L600.9,88.4 L600.5,90.0 L600.0,91.8 L599.5,93.4 L598.9,95.1 L598.4,96.6 L597.8,98.2 L597.1,99.8 L596.5,101.2 L595.8,102.7 L595.0,104.2 L594.2,105.6 L593.3,107.0 L592.4,108.5 L591.4,109.8 L590.4,111.0 L589.4,112.3 L588.2,113.6 L587.1,114.7 L585.8,115.8 L584.5,116.9 L583.2,118.0 L581.8,119.0 L580.3,119.9 L579.3,120.6 M442.6,99.1 L442.6,97.2 L442.7,95.4 L442.9,93.8 L443.1,92.2 L443.4,90.5 L443.8,88.9 L444.1,87.5 L444.6,85.8 L445.0,84.4 L445.5,82.9 L446.1,81.5 L446.7,80.0 L447.3,78.8 L448.0,77.3 L448.6,76.0 L449.3,74.8 L450.1,73.5 L451.0,72.2 L451.9,71.0 L452.7,69.8 L453.8,68.6 L454.7,67.5 L455.8,66.4 L456.9,65.4 L458.0,64.4 L459.3,63.4 L460.5,62.5 L461.8,61.5 L463.1,60.6 L464.5,59.8 L465.9,59.0 L467.4,58.3 L468.9,57.5 L470.5,56.8 L472.1,56.1 L473.9,55.4 L475.5,54.8 L477.3,54.2 L479.1,53.7 L481.0,53.1 L482.8,52.6 L484.8,52.1 L486.7,51.7 L488.8,51.2 L490.6,50.8 L492.7,50.4 L494.8,50.0 L496.9,49.7 L499.0,49.4 L501.3,49.0 L503.5,48.7 L505.6,48.5 L507.9,48.2 L510.3,48.0 L512.4,47.7 L514.7,47.5 L517.1,47.3 L519.4,47.2 L521.8,47.0 L524.3,46.9 L526.7,46.7 L529.1,46.7 L531.7,46.6 L534.3,46.5 L536.9,46.5 L539.5,46.5 L542.2,46.6 L544.5,46.7 L547.1,46.8 L549.5,47.0 L551.8,47.2 L553.9,47.4 L556.3,47.7 L558.4,48.0 L560.5,48.4 L562.6,48.8 L564.4,49.2 L566.5,49.8 L568.3,50.3 L570.0,50.8 L571.7,51.5 L573.3,52.2 L574.8,52.9 L576.4,53.7 L577.7,54.5 L579.0,55.4 L580.3,56.4 L581.5,57.4 L582.6,58.5 L583.6,59.5 L584.5,60.7 L585.3,61.9 L586.1,63.2 L586.8,64.6 L587.4,66.1 L587.9,67.5 L588.2,69.0 L588.5,70.6 L588.8,72.2 L588.9,74.0 L588.9,75.9 L588.9,77.7 L588.7,79.5 L588.5,81.1 L588.2,82.8 L587.9,84.4 L587.6,85.8 L587.2,87.5 L586.7,88.9 L586.3,90.4 L585.8,91.8 L585.2,93.3 L584.6,94.7 L584.0,96.0 L583.3,97.4 L582.6,98.7 L581.8,100.0 L581.0,101.2 L580.2,102.5 L579.3,103.7 L578.4,104.9 L577.4,105.9 L576.4,107.0 L575.3,108.1 L574.2,109.2 L573.0,110.2 L571.7,111.2 L570.5,112.1 L569.2,113.0 L567.8,113.9 L566.5,114.7 L564.9,115.5 L563.4,116.3 L561.9,117.0 L560.2,117.7 L558.6,118.4 L557.0,119.0 L555.2,119.6 L553.4,120.2 L551.6,120.8 L549.7,121.3 L547.9,121.8 L546.0,122.3 L544.0,122.7 L541.9,123.2 L540.1,123.5 L538.0,123.9 L535.9,124.3 L533.8,124.6 L531.5,125.0 L529.3,125.3 L527.3,125.6 L524.9,125.8 L522.8,126.1 L520.5,126.3 L518.1,126.6 L515.8,126.8 L513.4,126.9 L511.0,127.1 L508.7,127.3 L506.3,127.4 L503.7,127.5 L501.4,127.6 L498.8,127.6 L496.1,127.7 L493.5,127.7 L490.9,127.6 L488.3,127.6 L485.9,127.5 L483.6,127.3 L481.2,127.1 L478.9,126.9 L476.5,126.7 L474.4,126.4 L472.9,126.1 M565.0,101.1 L564.1,101.9 L563.3,102.7 L562.3,103.6 L561.5,104.3 L560.5,105.1 L559.4,105.9 L558.4,106.6 L557.3,107.3 L556.3,108.0 L555.1,108.7 L553.9,109.3 L552.7,109.9 L551.5,110.5 L550.3,111.1 L549.0,111.6 L547.7,112.1 L546.3,112.7 L544.8,113.2 L543.5,113.6 L541.9,114.1 L540.6,114.5 L539.0,114.9 L537.5,115.3 L535.9,115.7 L534.3,116.1 L532.7,116.4 L531.2,116.7 L529.6,117.0 L527.8,117.3 L526.2,117.6 L524.4,117.9 L522.7,118.1 L521.0,118.3 L519.1,118.5 L517.3,118.7 L515.5,118.9 L513.7,119.1 L511.8,119.2 L509.7,119.4 L507.9,119.5 L506.0,119.5 L504.0,119.6 L501.9,119.7 L499.8,119.7 L497.7,119.6 L495.6,119.6 L493.8,119.5 L491.7,119.4 L489.9,119.3 L488.0,119.1 L486.2,118.9 L484.4,118.7 L482.8,118.5 L481.0,118.1 L479.4,117.8 L477.8,117.5 L476.3,117.1 L474.8,116.6 L473.4,116.2 L472.1,115.7 L470.8,115.2 L469.5,114.6 L468.2,113.9 L467.1,113.4 L466.0,112.7 L464.9,111.9 L464.0,111.2 L463.0,110.3 L462.1,109.5 L461.4,108.6 L460.6,107.6 L459.9,106.7 L459.3,105.6 L458.8,104.5 L458.3,103.4 L457.9,102.3 L457.6,101.1 L457.3,99.8 L457.2,98.5 L457.0,97.1 L457.0,95.6 L457.1,94.2 L457.2,92.9 L457.4,91.5 L457.6,90.2 L457.9,88.9 L458.2,87.8 L458.6,86.6 L459.0,85.3 L459.4,84.2 L459.9,83.1 L460.4,82.0 L461.0,80.9 L461.6,79.8 L462.1,78.9 L462.8,77.9 L463.4,76.9 L464.2,75.9 L464.9,75.0 L465.7,74.0 L466.5,73.1 L467.4,72.3 L468.2,71.5 L469.2,70.6 L470.0,69.9 L471.0,69.1 L472.1,68.3 L473.1,67.6 L474.2,66.9 L475.2,66.2 L476.4,65.5 L477.6,64.9 L478.8,64.3 L480.0,63.7 L481.2,63.1 L482.5,62.6 L483.8,62.1 L485.2,61.5 L486.7,61.0 L488.0,60.6 L489.6,60.1 L490.9,59.7 L492.5,59.3 L494.0,58.9 L495.6,58.5 L497.2,58.1 L498.8,57.8 L500.3,57.5 L501.9,57.2 L503.7,56.9 L505.3,56.6 L507.1,56.3 L508.8,56.1 L510.5,55.9 L512.4,55.7 L514.2,55.5 L516.0,55.3 L517.8,55.1 L519.7,55.0 L521.8,54.8 L523.6,54.7 L525.5,54.7 L527.5,54.6 L529.6,54.5 L531.7,54.5 L533.8,54.6 L535.9,54.6 L537.7,54.7 L539.8,54.8 L541.6,54.9 L543.5,55.1 L545.3,55.3 L547.1,55.5 L548.7,55.7 L550.5,56.1 L552.1,56.4 L553.7,56.7 L555.2,57.1 L556.7,57.6 L558.1,58.0 L559.4,58.5 L560.7,59.0 L562.0,59.6 L563.3,60.3 L564.4,60.8 L565.5,61.5 L565.8,61.7 M549.1,96.7 L548.5,97.2 L547.9,97.8 L547.4,98.2 L546.8,98.7 L546.1,99.2 L545.5,99.6 L544.8,100.1 L544.2,100.5 L543.5,100.9 L542.7,101.4 L542.0,101.8 L541.3,102.1 L540.6,102.5 L539.8,102.9 L539.0,103.3 L538.2,103.6 L537.5,104.0 L536.6,104.3 L535.7,104.7 L534.8,105.0 L534.1,105.3 L533.1,105.6 L532.2,105.9 L531.4,106.1 L530.4,106.4 L529.4,106.7 L528.6,106.9 L527.5,107.2 L526.5,107.4 L525.7,107.6 L524.6,107.8 L523.6,108.0 L522.5,108.2 L521.5,108.4 L520.5,108.5 L519.4,108.7 L518.3,108.8 L517.1,109.0 L516.0,109.1 L515.0,109.2 L513.7,109.3 L512.6,109.4 L511.3,109.5 L510.1,109.6 L509.0,109.6 L507.6,109.7 L506.3,109.7 L505.0,109.7 L503.7,109.6 L502.4,109.6 L501.4,109.5 L500.1,109.5 L499.0,109.4 L497.7,109.2 L496.7,109.1 L495.6,109.0 L494.6,108.8 L493.5,108.6 L492.5,108.4 L491.4,108.2 L490.4,108.0 L489.6,107.7 L488.6,107.4 L487.8,107.2 L486.8,106.9 L485.9,106.5 L485.2,106.2 L484.4,105.8 L483.6,105.4 L482.9,105.0 L482.3,104.7 L481.5,104.2 L480.9,103.8 L480.2,103.2 L479.7,102.7 L479.1,102.2 L478.6,101.7 L478.1,101.1 L477.6,100.5 L477.2,100.0 L476.8,99.2 L476.5,98.7 L476.2,98.0 L475.9,97.2 L475.6,96.5 L475.4,95.8 L475.2,94.9 L475.1,94.2 L475.1,93.3 L475.0,92.4 L475.1,91.5 L475.2,90.5 L475.3,89.8 L475.5,88.9 L475.6,88.2 L475.9,87.5 L476.1,86.7 L476.4,86.0 L476.7,85.3 L477.0,84.6 L477.3,84.0 L477.7,83.3 L478.1,82.7 L478.5,82.0 L478.9,81.5 L479.4,80.8 L479.9,80.2 L480.3,79.7 L480.8,79.1 L481.3,78.6 L481.8,78.0 L482.4,77.5 L483.0,77.0 L483.6,76.4 L484.1,76.0 L484.7,75.5 L485.4,75.0 L486.0,74.6 L486.7,74.1 L487.3,73.7 L488.0,73.3 L488.8,72.8 L489.5,72.4 L490.2,72.1 L490.9,71.7 L491.7,71.3 L492.5,70.9 L493.3,70.6 L494.0,70.2 L494.9,69.9 L495.8,69.5 L496.7,69.2 L497.4,68.9 L498.4,68.6 L499.3,68.3 L500.1,68.1 L501.1,67.8 L502.1,67.5 L502.9,67.3 L504.0,67.0 L505.0,66.8 L505.8,66.6 L506.9,66.4 L507.9,66.2 L509.0,66.0 L510.0,65.8 L511.0,65.7 L512.1,65.5 L513.2,65.3 L514.4,65.2 L515.5,65.1 L516.5,65.0 L517.8,64.9 L518.9,64.8 L520.2,64.7 L521.4,64.6 L522.5,64.6 L523.9,64.5 L525.2,64.5 L526.5,64.5 L527.8,64.6 L529.1,64.6 L530.1,64.7 L531.4,64.7 L532.5,64.8 L533.8,65.0 L534.8,65.1 L535.9,65.2 L536.9,65.4 L537.2,65.4" fill="none" stroke="#1a1a1a" stroke-width="0.55"/>
<g font-family="Liberation Sans, sans-serif" font-size="11.6" fill="#111" text-anchor="middle">
<text transform="translate(437.4,29.2) rotate(-18.0)" y="4.2">-0.37397</text>
<text transform="translate(622.6,127.5) rotate(-47.5)" y="4.2">-0.37397</text>
<text transform="translate(434.0,45.8) rotate(-31.0)" y="4.2">-0.74795</text>
<text transform="translate(597.7,130.3) rotate(-35.0)" y="4.2">-0.74795</text>
<text transform="translate(435.5,60.0) rotate(-48.0)" y="4.2">-1.1219</text>
<text transform="translate(569.4,134.3) rotate(-18.0)" y="4.2">-1.1219</text>
<text transform="translate(434.2,90.4) rotate(-88.0)" y="4.2">-1.4959</text>
<text transform="translate(558.3,127.8) rotate(-17.8)" y="4.2">-1.4959</text>
<text transform="translate(453.8,116.0) rotate(38.6)" y="4.2">-1.8699</text>
<text transform="translate(571.0,80.8) rotate(-83.0)" y="4.2">-2.2438</text>
<text transform="translate(549.0,79.2) rotate(65.0)" y="4.2">-2.6178</text>
</g>
<rect x="385.0" y="14.6" width="261.5" height="145.0" fill="none" stroke="#111" stroke-width="0.95"/>
<g stroke="#111" stroke-width="1">
<path d="M405.9,159.6 v-2.8 M405.9,14.6 v2.8"/>
<path d="M426.8,159.6 v-2.8 M426.8,14.6 v2.8"/>
<path d="M447.8,159.6 v-2.8 M447.8,14.6 v2.8"/>
<path d="M468.7,159.6 v-2.8 M468.7,14.6 v2.8"/>
<path d="M489.6,159.6 v-2.8 M489.6,14.6 v2.8"/>
<path d="M510.5,159.6 v-2.8 M510.5,14.6 v2.8"/>
<path d="M531.4,159.6 v-2.8 M531.4,14.6 v2.8"/>
<path d="M552.4,159.6 v-2.8 M552.4,14.6 v2.8"/>
<path d="M573.3,159.6 v-2.8 M573.3,14.6 v2.8"/>
<path d="M594.2,159.6 v-2.8 M594.2,14.6 v2.8"/>
<path d="M615.1,159.6 v-2.8 M615.1,14.6 v2.8"/>
<path d="M636.0,159.6 v-2.8 M636.0,14.6 v2.8"/>
<path d="M385.0,130.6 h2.8 M646.5,130.6 h-2.8"/>
<path d="M385.0,101.6 h2.8 M646.5,101.6 h-2.8"/>
<path d="M385.0,72.6 h2.8 M646.5,72.6 h-2.8"/>
<path d="M385.0,43.6 h2.8 M646.5,43.6 h-2.8"/>
</g>
<g font-family="Liberation Serif, serif" font-weight="bold" font-size="11.5" fill="#111" text-anchor="middle">
<text x="405.9" y="175.1">40</text>
<text x="426.8" y="175.1">80</text>
<text x="447.8" y="175.1">120</text>
<text x="468.7" y="175.1">160</text>
<text x="489.6" y="175.1">200</text>
<text x="510.5" y="175.1">240</text>
<text x="531.4" y="175.1">280</text>
<text x="552.4" y="175.1">320</text>
<text x="573.3" y="175.1">360</text>
<text x="594.2" y="175.1">400</text>
<text x="615.1" y="175.1">440</text>
<text x="636.0" y="175.1">480</text>
</g>
<g font-family="Liberation Serif, serif" font-weight="bold" font-size="11.5" fill="#111" text-anchor="end">
<text x="380.5" y="134.5">40</text>
<text x="380.5" y="105.5">80</text>
<text x="380.5" y="76.5">120</text>
<text x="380.5" y="47.5">160</text>
<text x="380.5" y="18.5">200</text>
</g>
<text x="517.0" y="9.3" font-family="Liberation Serif, serif" font-weight="bold" font-size="12.8" fill="#111" text-anchor="middle">Height of separation space</text>
<text x="487.0" y="190.6" font-family="Liberation Serif, serif" font-weight="bold" font-size="12.1" fill="#111">Length<tspan font-weight="normal" dx="6">(m)</tspan></text>
<text transform="translate(360.0,114.6) rotate(-90)" font-family="Liberation Serif, serif" font-weight="bold" font-size="12.3" fill="#111">Width<tspan font-weight="normal" dx="5.5">(m)</tspan></text>
<text x="389.2" y="30.0" font-family="Liberation Serif, serif" font-size="16" fill="#222">(b)</text>
<defs><linearGradient id="cbb" x1="0" y1="1" x2="0" y2="0">
<stop offset="0.0000" stop-color="#1946a5"/>
<stop offset="0.0870" stop-color="#1955a0"/>
<stop offset="0.1210" stop-color="#196e82"/>
<stop offset="0.1640" stop-color="#28964b"/>
<stop offset="0.2580" stop-color="#58af37"/>
<stop offset="0.3310" stop-color="#78b932"/>
<stop offset="0.3850" stop-color="#a0c82d"/>
<stop offset="0.4520" stop-color="#d7dc28"/>
<stop offset="0.5120" stop-color="#fce81e"/>
<stop offset="0.5650" stop-color="#fac814"/>
<stop offset="0.6800" stop-color="#f5a014"/>
<stop offset="0.7790" stop-color="#ee7d0f"/>
<stop offset="0.8560" stop-color="#ec3e69"/>
<stop offset="0.9195" stop-color="#ea308e"/>
<stop offset="0.9205" stop-color="#da3895"/>
<stop offset="1.0000" stop-color="#ac52ac"/>
</linearGradient></defs>
<rect x="653.5" y="14.6" width="11.0" height="145.0" fill="url(#cbb)" stroke="#444" stroke-width="0.6"/>
<g font-family="Liberation Serif, serif" font-weight="bold" font-size="10" fill="#111">
<path d="M664.5,21.6 h-2.5" stroke="#333" stroke-width="0.6"/>
<text x="669.5" y="25.0">-0.5</text>
<path d="M664.5,49.3 h-2.5" stroke="#333" stroke-width="0.6"/>
<text x="669.5" y="52.7">-1</text>
<path d="M664.5,77.0 h-2.5" stroke="#333" stroke-width="0.6"/>
<text x="669.5" y="80.4">-1.5</text>
<path d="M664.5,104.7 h-2.5" stroke="#333" stroke-width="0.6"/>
<text x="669.5" y="108.1">-2</text>
<path d="M664.5,132.4 h-2.5" stroke="#333" stroke-width="0.6"/>
<text x="669.5" y="135.8">-2.5</text>
</g>
<path d="M559.8,217.8 L564.9,217.9 L570.1,218.0 L574.8,218.2 L580.1,218.4 L584.8,218.7 L589.5,219.1 L594.2,219.5 L598.5,220.0 L603.1,220.6 L607.3,221.4 L610.9,222.2 L614.6,223.3 L618.3,224.7 L621.2,226.1 L624.0,227.9 L626.2,229.8 L628.2,231.9 L630.0,234.5 L631.4,237.0 L632.6,239.9 L633.6,242.8 L634.4,246.1 L635.0,249.3 L635.4,252.6 L635.7,255.9 L636.0,259.5 L636.2,262.8 L636.2,266.4 L636.3,270.0 L636.2,273.6 L636.1,277.2 L636.0,280.5 L635.8,284.1 L635.5,287.7 L635.2,291.0 L634.9,294.3 L634.6,297.9 L634.2,301.2 L633.7,304.4 L633.2,307.7 L632.6,311.0 L631.9,314.2 L631.1,317.1 L630.2,320.0 L629.2,322.9 L627.9,325.8 L626.5,328.4 L624.8,330.9 L623.0,333.2 L620.9,335.3 L618.3,337.4 L615.6,339.1 L612.5,340.7 L609.4,342.0 L606.0,343.2 L602.1,344.3 L598.4,345.2 L594.2,346.0 L590.0,346.7 L585.8,347.3 L581.1,347.8 L576.4,348.3 L572.2,348.7 L567.3,349.0 L562.3,349.4 L557.6,349.6 L552.9,349.9 L547.7,350.1 L542.9,350.3 L537.7,350.5 L533.0,350.6 L527.8,350.8 L523.1,350.9 L517.8,351.0 L512.6,351.1 L507.4,351.2 L502.7,351.2 L497.4,351.3 L492.2,351.3 L487.0,351.3 L481.8,351.3 L476.5,351.3 L471.7,351.2 L466.6,351.1 L461.4,351.0 L456.7,350.8 L451.4,350.6 L446.7,350.3 L442.0,349.9 L437.3,349.5 L433.0,349.0 L428.4,348.4 L424.2,347.6 L420.6,346.8 L416.9,345.7 L413.2,344.3 L410.3,342.9 L407.5,341.1 L405.3,339.2 L403.3,337.1 L401.5,334.5 L400.1,332.0 L398.9,329.1 L397.9,326.2 L397.1,322.9 L396.5,319.7 L396.1,316.4 L395.8,313.1 L395.5,309.5 L395.3,306.2 L395.3,302.6 L395.2,299.0 L395.3,295.4 L395.4,291.8 L395.5,288.5 L395.7,284.9 L396.0,281.3 L396.3,278.0 L396.6,274.7 L396.9,271.1 L397.3,267.8 L397.8,264.6 L398.3,261.3 L398.9,258.0 L399.6,254.8 L400.4,251.9 L401.3,249.0 L402.3,246.1 L403.6,243.2 L405.0,240.6 L406.7,238.1 L408.5,235.8 L410.6,233.7 L413.2,231.6 L415.9,229.9 L419.0,228.3 L422.1,227.0 L425.5,225.8 L429.4,224.7 L433.1,223.8 L437.3,223.0 L441.5,222.3 L445.7,221.7 L450.4,221.2 L455.1,220.7 L459.3,220.3 L464.2,220.0 L469.2,219.6 L473.9,219.4 L478.6,219.1 L483.8,218.9 L488.6,218.7 L493.8,218.5 L498.5,218.4 L503.7,218.2 L508.4,218.1 L513.7,218.0 L518.9,217.9 L524.1,217.8 L528.8,217.8 L534.1,217.7 L539.3,217.7 L544.5,217.7 L549.7,217.7 L555.0,217.7Z" fill="none" stroke="#be6ec8" stroke-width="0.55" stroke-opacity="0.85"/>
<path d="M548.6,223.6 L552.9,223.7 L557.6,223.8 L562.3,223.9 L566.5,224.1 L570.7,224.4 L574.8,224.7 L579.0,225.1 L583.2,225.6 L587.1,226.1 L591.1,226.8 L594.7,227.6 L597.9,228.4 L601.2,229.4 L604.2,230.5 L607.3,231.8 L609.9,233.2 L612.3,234.8 L614.6,236.6 L616.5,238.5 L618.3,240.5 L619.8,242.8 L621.0,245.0 L622.2,247.5 L623.1,250.1 L623.9,253.0 L624.5,255.8 L625.0,258.8 L625.3,261.7 L625.5,264.9 L625.6,267.8 L625.6,271.1 L625.5,274.0 L625.3,277.2 L625.1,280.3 L624.7,283.4 L624.4,286.3 L624.0,289.2 L623.5,292.1 L623.0,295.0 L622.4,297.9 L621.7,300.8 L620.9,303.7 L620.1,306.2 L619.3,308.8 L618.3,311.5 L617.2,313.9 L615.9,316.4 L614.6,318.6 L613.0,320.9 L611.4,322.9 L609.4,325.1 L607.5,326.9 L605.2,328.7 L603.1,330.2 L600.5,331.7 L597.8,333.1 L594.7,334.4 L591.6,335.6 L588.4,336.6 L585.3,337.5 L581.6,338.4 L578.0,339.2 L574.3,339.9 L570.7,340.5 L566.6,341.1 L562.8,341.5 L558.6,342.0 L554.5,342.4 L550.3,342.8 L546.1,343.2 L541.9,343.5 L537.7,343.8 L533.5,344.0 L528.8,344.3 L524.6,344.5 L520.4,344.7 L515.8,344.9 L511.0,345.0 L506.9,345.1 L502.2,345.3 L497.4,345.3 L492.9,345.4 L488.6,345.4 L483.8,345.4 L479.7,345.4 L475.0,345.3 L470.2,345.1 L466.1,344.9 L461.6,344.7 L457.2,344.4 L453.0,344.0 L449.3,343.6 L445.1,343.0 L441.5,342.4 L437.8,341.6 L434.2,340.8 L431.0,339.8 L427.9,338.7 L424.8,337.4 L422.1,336.1 L419.7,334.5 L417.4,332.8 L415.4,330.9 L413.7,329.1 L412.1,326.9 L410.6,324.4 L409.6,322.1 L408.5,319.4 L407.8,316.8 L407.1,313.9 L406.6,311.0 L406.2,308.1 L406.0,304.8 L405.9,301.9 L405.9,298.6 L406.0,295.7 L406.1,292.5 L406.4,289.2 L406.7,286.3 L407.0,283.4 L407.5,280.1 L408.0,277.2 L408.5,274.4 L409.1,271.5 L409.6,268.9 L410.4,266.0 L411.1,263.4 L412.1,260.6 L413.0,258.0 L414.1,255.5 L415.3,253.1 L416.7,250.8 L418.1,248.6 L419.8,246.4 L421.6,244.4 L423.6,242.4 L425.8,240.7 L427.9,239.2 L430.5,237.6 L433.1,236.2 L436.2,234.8 L439.0,233.8 L442.2,232.7 L445.7,231.7 L448.8,230.9 L452.5,230.0 L456.1,229.3 L460.0,228.7 L464.0,228.1 L467.7,227.6 L471.8,227.1 L476.0,226.7 L480.2,226.3 L484.4,225.9 L488.6,225.6 L492.7,225.3 L496.9,225.0 L501.6,224.8 L505.8,224.6 L510.5,224.4 L514.7,224.2 L519.4,224.0 L523.6,223.9 L528.3,223.8 L533.0,223.7 L537.7,223.6 L541.9,223.6 L546.6,223.6Z" fill="none" stroke="#eb5a78" stroke-width="0.55" stroke-opacity="0.85"/>
<path d="M550.3,229.4 L554.5,229.5 L558.6,229.7 L562.3,229.9 L566.0,230.2 L569.6,230.5 L573.3,231.0 L576.9,231.5 L580.1,232.0 L583.3,232.7 L586.4,233.4 L589.5,234.3 L592.3,235.2 L595.1,236.3 L597.5,237.4 L600.0,238.7 L602.0,240.0 L604.1,241.6 L605.9,243.2 L607.6,245.0 L609.1,246.8 L610.4,248.8 L611.5,250.8 L612.5,253.1 L613.4,255.5 L614.1,258.0 L614.6,260.6 L614.9,263.1 L615.1,265.6 L615.3,268.6 L615.2,271.4 L615.1,274.0 L614.9,276.9 L614.6,279.6 L614.2,282.3 L613.8,284.9 L613.3,287.4 L612.8,289.9 L612.2,292.5 L611.5,295.0 L610.9,297.2 L610.0,299.7 L609.2,301.9 L608.3,304.2 L607.3,306.5 L606.2,308.5 L605.1,310.6 L603.6,312.8 L602.3,314.6 L600.8,316.4 L599.1,318.2 L597.3,319.9 L595.5,321.5 L593.5,322.9 L591.3,324.4 L589.0,325.7 L586.6,326.9 L584.1,328.0 L581.4,329.1 L578.5,330.1 L575.9,330.9 L572.8,331.8 L569.6,332.6 L566.5,333.3 L563.3,333.9 L560.0,334.5 L556.5,335.1 L552.9,335.6 L549.7,336.0 L546.1,336.5 L542.4,336.9 L538.8,337.2 L535.1,337.6 L531.4,337.9 L527.8,338.2 L523.6,338.4 L519.9,338.7 L516.3,338.9 L512.1,339.1 L508.4,339.3 L504.2,339.4 L500.1,339.5 L496.4,339.6 L492.2,339.7 L488.0,339.7 L483.8,339.6 L480.2,339.6 L476.0,339.4 L471.8,339.2 L468.2,339.0 L464.5,338.7 L460.8,338.4 L457.2,337.9 L453.9,337.4 L450.4,336.8 L447.2,336.1 L444.1,335.3 L441.3,334.5 L438.3,333.5 L435.7,332.4 L433.3,331.3 L431.0,330.0 L428.9,328.6 L426.8,327.0 L425.2,325.5 L423.6,323.6 L422.1,321.8 L420.8,319.7 L419.7,317.5 L418.8,315.3 L417.9,312.9 L417.4,310.6 L416.9,308.1 L416.5,305.2 L416.3,302.6 L416.2,299.7 L416.3,296.8 L416.4,294.3 L416.7,291.4 L417.0,288.9 L417.4,285.9 L417.8,283.4 L418.3,280.9 L418.9,278.3 L419.5,275.8 L420.1,273.6 L420.9,271.1 L421.6,268.8 L422.5,266.4 L423.4,264.2 L424.5,262.0 L425.6,259.9 L426.8,257.8 L428.1,255.9 L429.5,254.1 L431.0,252.2 L432.7,250.4 L434.7,248.6 L436.5,247.2 L438.5,245.7 L440.8,244.3 L443.1,243.0 L445.7,241.7 L448.2,240.6 L450.9,239.6 L453.5,238.7 L456.7,237.8 L459.4,237.0 L462.4,236.3 L465.7,235.6 L469.2,234.9 L472.3,234.3 L476.0,233.8 L479.1,233.3 L482.8,232.8 L486.5,232.4 L490.1,232.0 L493.8,231.7 L497.4,231.3 L501.1,231.0 L504.8,230.8 L509.0,230.5 L512.6,230.3 L516.3,230.1 L520.5,229.9 L524.1,229.7 L528.3,229.6 L532.5,229.4 L536.1,229.4 L540.3,229.3 L544.5,229.3 L548.7,229.4Z" fill="none" stroke="#f5c83c" stroke-width="0.55" stroke-opacity="0.85"/>
<path d="M546.4,236.3 L549.7,236.4 L553.4,236.6 L556.5,236.8 L559.7,237.0 L562.9,237.4 L566.0,237.8 L569.1,238.3 L572.1,238.8 L574.8,239.4 L577.5,240.1 L580.1,240.9 L582.4,241.7 L584.8,242.7 L586.9,243.7 L589.0,244.8 L590.9,246.1 L592.6,247.3 L594.2,248.7 L595.8,250.3 L597.1,251.9 L598.4,253.7 L599.4,255.4 L600.3,257.3 L601.0,259.1 L601.7,261.3 L602.2,263.5 L602.6,266.0 L602.7,268.2 L602.8,270.7 L602.8,273.3 L602.6,275.8 L602.3,278.0 L602.0,280.1 L601.6,282.7 L601.1,284.9 L600.6,287.0 L600.0,289.2 L599.4,291.0 L598.7,293.2 L597.9,295.4 L597.1,297.2 L596.3,299.0 L595.2,301.1 L594.2,303.0 L593.2,304.7 L592.1,306.2 L590.7,308.1 L589.5,309.5 L587.9,311.2 L586.4,312.8 L584.8,314.1 L583.2,315.4 L581.2,316.8 L579.5,317.9 L577.5,319.0 L575.4,320.1 L573.3,321.1 L570.7,322.2 L568.6,323.0 L566.0,323.9 L563.3,324.7 L560.7,325.4 L558.1,326.1 L555.5,326.7 L552.9,327.3 L549.7,327.9 L547.0,328.4 L544.0,328.8 L540.9,329.3 L537.7,329.7 L534.6,330.1 L531.4,330.5 L528.3,330.8 L525.2,331.1 L522.0,331.4 L518.9,331.6 L515.2,331.9 L512.1,332.1 L508.4,332.3 L505.3,332.5 L501.6,332.6 L498.0,332.7 L494.8,332.8 L491.2,332.8 L487.5,332.8 L484.4,332.7 L480.7,332.6 L477.0,332.4 L473.9,332.2 L470.8,331.9 L467.6,331.5 L464.5,331.1 L461.4,330.6 L458.7,330.0 L456.1,329.4 L453.5,328.7 L450.9,327.9 L448.3,327.0 L446.2,326.1 L444.1,325.0 L442.0,323.8 L440.1,322.6 L438.3,321.2 L436.8,319.8 L435.3,318.2 L434.1,316.8 L432.9,314.9 L431.9,313.1 L431.0,311.3 L430.2,309.1 L429.6,307.0 L429.2,304.8 L428.9,302.6 L428.7,300.1 L428.7,297.6 L428.8,295.0 L429.0,292.8 L429.3,290.3 L429.6,288.1 L430.0,285.9 L430.5,283.7 L431.0,281.6 L431.6,279.4 L432.3,277.2 L433.1,275.1 L433.8,273.3 L434.7,271.1 L435.6,269.3 L436.5,267.5 L437.5,265.6 L438.7,263.8 L439.9,262.1 L441.1,260.6 L442.5,258.9 L444.0,257.3 L445.6,255.9 L447.2,254.4 L448.8,253.3 L450.8,251.9 L452.6,250.8 L454.6,249.7 L456.7,248.6 L459.1,247.5 L461.4,246.6 L463.7,245.7 L466.1,244.9 L468.7,244.1 L471.3,243.4 L473.9,242.8 L476.9,242.1 L479.7,241.5 L482.4,241.0 L485.4,240.5 L488.6,240.0 L491.6,239.6 L494.4,239.2 L497.4,238.8 L500.6,238.5 L504.1,238.1 L507.4,237.8 L510.5,237.5 L513.7,237.3 L517.3,237.0 L520.5,236.8 L523.9,236.7 L527.3,236.5 L530.9,236.4 L534.2,236.3 L537.7,236.2 L541.4,236.2 L545.0,236.3Z" fill="none" stroke="#f8e628" stroke-width="0.55" stroke-opacity="0.85"/>
<path d="M547.7,244.3 L550.8,244.5 L553.4,244.8 L556.0,245.1 L558.6,245.5 L561.3,245.9 L563.6,246.4 L566.0,247.0 L568.0,247.6 L570.1,248.3 L572.2,249.1 L574.3,250.0 L575.9,250.8 L577.7,251.9 L579.3,253.0 L580.7,254.1 L582.2,255.4 L583.3,256.6 L584.5,258.0 L585.4,259.5 L586.4,261.1 L587.1,262.8 L587.7,264.6 L588.2,266.4 L588.6,268.2 L588.8,270.4 L588.9,272.5 L588.9,274.7 L588.7,276.9 L588.4,278.9 L588.1,280.9 L587.7,282.7 L587.3,284.5 L586.7,286.3 L586.2,288.1 L585.5,289.9 L584.8,291.6 L584.1,293.2 L583.2,294.9 L582.4,296.5 L581.5,297.9 L580.5,299.4 L579.5,300.8 L578.4,302.3 L577.1,303.7 L575.9,305.0 L574.6,306.2 L573.3,307.4 L571.7,308.6 L570.1,309.8 L568.6,310.8 L567.0,311.8 L565.2,312.8 L563.3,313.7 L561.5,314.6 L559.7,315.4 L557.6,316.2 L555.5,316.9 L553.4,317.6 L551.3,318.3 L548.9,318.9 L546.6,319.5 L544.4,320.0 L541.9,320.6 L539.3,321.1 L537.1,321.5 L534.6,321.9 L532.0,322.3 L529.3,322.7 L526.7,323.0 L524.1,323.3 L521.2,323.6 L518.4,323.9 L515.8,324.2 L513.0,324.4 L510.0,324.6 L507.2,324.7 L504.2,324.9 L501.1,325.0 L498.0,325.0 L494.8,325.1 L491.7,325.0 L488.6,325.0 L485.4,324.8 L482.8,324.7 L479.7,324.4 L477.0,324.1 L474.4,323.8 L471.8,323.4 L469.5,322.9 L467.1,322.4 L465.0,321.8 L462.6,321.1 L460.5,320.4 L458.7,319.7 L456.7,318.7 L455.0,317.9 L453.3,316.8 L451.7,315.7 L450.4,314.6 L448.9,313.1 L447.8,311.9 L446.7,310.5 L445.7,308.9 L444.9,307.3 L444.1,305.5 L443.6,303.8 L443.1,301.9 L442.8,300.1 L442.6,297.9 L442.6,295.7 L442.7,293.6 L442.9,291.4 L443.1,289.6 L443.5,287.4 L443.9,285.6 L444.4,283.8 L445.0,282.0 L445.6,280.1 L446.2,278.6 L446.9,276.9 L447.8,275.1 L448.5,273.6 L449.3,272.2 L450.4,270.5 L451.4,269.0 L452.5,267.6 L453.5,266.3 L454.7,264.9 L456.1,263.5 L457.3,262.4 L458.7,261.2 L460.3,260.0 L461.9,258.9 L463.4,257.9 L465.0,256.9 L467.0,255.9 L468.7,255.0 L470.8,254.1 L472.6,253.3 L474.5,252.6 L476.6,251.9 L478.8,251.2 L481.2,250.4 L483.3,249.9 L485.5,249.3 L488.0,248.8 L490.5,248.2 L492.7,247.8 L495.4,247.4 L498.0,246.9 L500.6,246.5 L503.2,246.2 L505.8,245.8 L508.4,245.5 L511.0,245.3 L514.0,245.0 L516.8,244.8 L519.4,244.6 L522.5,244.4 L525.2,244.2 L528.3,244.1 L531.4,244.0 L534.6,243.9 L537.7,243.9 L540.9,244.0 L544.0,244.1 L547.1,244.2Z" fill="none" stroke="#96c332" stroke-width="0.55" stroke-opacity="0.85"/>
<path d="M540.7,252.2 L542.9,252.4 L545.0,252.6 L547.5,253.0 L549.7,253.3 L551.7,253.7 L553.4,254.1 L555.5,254.6 L557.3,255.1 L559.2,255.8 L560.7,256.4 L562.3,257.1 L563.9,257.9 L565.2,258.8 L566.5,259.6 L567.7,260.6 L568.9,261.7 L569.9,262.8 L570.8,263.8 L571.7,265.2 L572.4,266.4 L573.0,267.8 L573.6,269.3 L573.9,270.7 L574.3,272.5 L574.4,274.0 L574.5,275.8 L574.4,277.6 L574.3,279.1 L574.0,280.9 L573.7,282.3 L573.3,283.8 L572.8,285.5 L572.2,286.9 L571.7,288.2 L571.1,289.6 L570.3,291.0 L569.6,292.3 L568.8,293.6 L568.0,294.7 L567.0,296.1 L566.1,297.2 L565.1,298.3 L564.1,299.4 L563.0,300.4 L561.8,301.5 L560.7,302.3 L559.4,303.4 L558.1,304.2 L556.6,305.2 L555.4,305.9 L553.9,306.7 L552.4,307.5 L550.8,308.2 L549.2,308.9 L547.7,309.5 L545.8,310.2 L544.0,310.8 L542.4,311.3 L540.3,312.0 L538.7,312.4 L536.7,312.9 L534.6,313.4 L532.5,313.9 L530.6,314.2 L528.6,314.6 L526.4,314.9 L524.1,315.3 L522.0,315.6 L519.9,315.8 L517.8,316.1 L515.2,316.3 L513.1,316.5 L510.5,316.7 L508.4,316.8 L505.8,316.9 L503.2,317.0 L500.6,317.1 L498.0,317.1 L495.4,317.0 L492.7,316.9 L490.6,316.8 L488.0,316.5 L485.9,316.3 L483.8,316.0 L481.7,315.7 L479.7,315.3 L477.6,314.8 L475.5,314.2 L473.9,313.8 L472.1,313.1 L470.4,312.4 L468.8,311.7 L467.5,311.0 L466.1,310.1 L464.7,309.1 L463.4,308.1 L462.4,307.1 L461.4,306.0 L460.4,304.8 L459.7,303.7 L458.9,302.3 L458.3,300.8 L457.8,299.4 L457.5,297.9 L457.2,296.1 L457.1,294.6 L457.0,292.8 L457.1,291.0 L457.3,289.6 L457.6,287.8 L457.9,286.3 L458.3,284.9 L458.8,283.4 L459.3,282.0 L459.9,280.5 L460.6,279.1 L461.4,277.6 L462.0,276.5 L462.9,275.1 L463.7,274.0 L464.5,272.9 L465.5,271.6 L466.6,270.5 L467.6,269.4 L468.7,268.4 L469.8,267.5 L471.2,266.4 L472.3,265.5 L473.7,264.6 L475.0,263.8 L476.5,262.9 L478.1,262.0 L479.6,261.3 L481.2,260.6 L482.8,259.9 L484.4,259.3 L485.9,258.7 L487.9,258.0 L489.6,257.5 L491.5,256.9 L493.3,256.5 L495.4,256.0 L497.3,255.5 L499.1,255.1 L501.1,254.7 L503.2,254.4 L505.3,254.0 L507.5,253.7 L510.0,253.3 L512.1,253.1 L514.2,252.9 L516.8,252.6 L518.9,252.4 L521.5,252.3 L523.6,252.1 L526.2,252.0 L528.8,252.0 L531.4,251.9 L534.1,252.0 L536.7,252.0 L539.3,252.1Z" fill="none" stroke="#28aa78" stroke-width="0.55" stroke-opacity="0.85"/>
<path d="M529.5,262.0 L530.9,262.1 L532.5,262.2 L534.1,262.4 L535.1,262.5 L536.7,262.7 L537.7,262.9 L538.8,263.1 L540.3,263.5 L541.4,263.7 L542.4,264.0 L543.5,264.3 L544.5,264.7 L545.6,265.1 L546.6,265.5 L547.6,266.0 L548.3,266.4 L549.2,266.9 L550.0,267.5 L550.8,268.0 L551.5,268.6 L552.3,269.3 L552.9,269.9 L553.4,270.5 L553.9,271.2 L554.5,271.9 L555.0,272.9 L555.3,273.6 L555.6,274.4 L556.0,275.4 L556.2,276.2 L556.3,277.2 L556.4,278.3 L556.5,279.4 L556.4,280.5 L556.2,281.6 L556.0,282.7 L555.9,283.4 L555.5,284.5 L555.3,285.2 L555.0,285.9 L554.5,287.0 L554.1,287.8 L553.7,288.5 L553.2,289.2 L552.7,289.9 L552.2,290.7 L551.6,291.4 L551.0,292.1 L550.4,292.8 L549.7,293.5 L549.2,294.0 L548.5,294.6 L547.7,295.4 L547.1,295.8 L546.3,296.5 L545.6,297.0 L544.7,297.6 L544.0,298.0 L543.0,298.6 L542.3,299.0 L541.4,299.5 L540.3,300.1 L539.5,300.4 L538.7,300.8 L537.7,301.3 L536.7,301.7 L535.6,302.1 L534.6,302.5 L533.5,302.8 L532.5,303.2 L531.4,303.5 L530.4,303.8 L529.3,304.1 L528.0,304.4 L526.7,304.7 L525.7,305.0 L524.6,305.2 L523.1,305.5 L522.0,305.7 L520.8,305.9 L519.4,306.1 L518.3,306.2 L516.8,306.4 L515.2,306.6 L514.2,306.7 L512.6,306.8 L511.0,306.9 L510.0,307.0 L508.4,307.0 L506.9,307.1 L505.3,307.1 L503.7,307.0 L502.2,307.0 L501.1,306.9 L499.5,306.8 L498.0,306.7 L496.9,306.6 L495.4,306.3 L494.3,306.2 L492.7,305.9 L491.7,305.7 L490.6,305.4 L489.6,305.1 L488.4,304.8 L487.4,304.4 L486.4,304.1 L485.4,303.7 L484.4,303.2 L483.3,302.7 L482.6,302.3 L481.8,301.7 L481.0,301.2 L480.2,300.6 L479.6,300.1 L478.9,299.4 L478.2,298.6 L477.6,297.9 L477.1,297.2 L476.7,296.5 L476.3,295.7 L476.0,295.0 L475.6,293.9 L475.4,293.2 L475.2,292.1 L475.1,291.0 L475.0,289.9 L475.1,288.9 L475.2,287.8 L475.4,286.7 L475.6,285.9 L475.9,284.9 L476.1,284.1 L476.5,283.1 L476.9,282.3 L477.2,281.6 L477.6,280.9 L478.1,280.1 L478.6,279.3 L479.1,278.5 L479.7,277.9 L480.2,277.2 L480.8,276.5 L481.5,275.8 L482.2,275.1 L482.8,274.5 L483.4,274.0 L484.3,273.3 L484.9,272.8 L485.7,272.2 L486.5,271.7 L487.3,271.1 L488.0,270.7 L489.1,270.1 L489.8,269.6 L490.6,269.2 L491.7,268.7 L492.7,268.2 L493.6,267.8 L494.5,267.5 L495.4,267.1 L496.4,266.7 L497.4,266.3 L498.5,266.0 L499.5,265.6 L500.8,265.3 L502.1,264.9 L503.2,264.6 L504.2,264.4 L505.3,264.1 L506.7,263.8 L507.9,263.6 L509.0,263.4 L510.5,263.1 L511.6,263.0 L513.1,262.8 L514.2,262.6 L515.8,262.4 L516.8,262.3 L518.4,262.2 L519.9,262.1 L521.4,262.0 L522.5,262.0 L524.1,261.9 L525.7,261.9 L527.3,261.9 L528.8,262.0Z" fill="none" stroke="#2846a5" stroke-width="0.55" stroke-opacity="0.85"/>
<rect x="385.0" y="212.0" width="261.5" height="145.0" fill="none" stroke="#111" stroke-width="0.95"/>
<g stroke="#111" stroke-width="1">
<path d="M405.9,357.0 v-2.8 M405.9,212.0 v2.8"/>
<path d="M426.8,357.0 v-2.8 M426.8,212.0 v2.8"/>
<path d="M447.8,357.0 v-2.8 M447.8,212.0 v2.8"/>
<path d="M468.7,357.0 v-2.8 M468.7,212.0 v2.8"/>
<path d="M489.6,357.0 v-2.8 M489.6,212.0 v2.8"/>
<path d="M510.5,357.0 v-2.8 M510.5,212.0 v2.8"/>
<path d="M531.4,357.0 v-2.8 M531.4,212.0 v2.8"/>
<path d="M552.4,357.0 v-2.8 M552.4,212.0 v2.8"/>
<path d="M573.3,357.0 v-2.8 M573.3,212.0 v2.8"/>
<path d="M594.2,357.0 v-2.8 M594.2,212.0 v2.8"/>
<path d="M615.1,357.0 v-2.8 M615.1,212.0 v2.8"/>
<path d="M636.0,357.0 v-2.8 M636.0,212.0 v2.8"/>
<path d="M385.0,328.0 h2.8 M646.5,328.0 h-2.8"/>
<path d="M385.0,299.0 h2.8 M646.5,299.0 h-2.8"/>
<path d="M385.0,270.0 h2.8 M646.5,270.0 h-2.8"/>
<path d="M385.0,241.0 h2.8 M646.5,241.0 h-2.8"/>
</g>
<g font-family="Liberation Serif, serif" font-weight="bold" font-size="11.5" fill="#111" text-anchor="middle">
<text x="405.9" y="372.5">40</text>
<text x="426.8" y="372.5">80</text>
<text x="447.8" y="372.5">120</text>
<text x="468.7" y="372.5">160</text>
<text x="489.6" y="372.5">200</text>
<text x="510.5" y="372.5">240</text>
<text x="531.4" y="372.5">280</text>
<text x="552.4" y="372.5">320</text>
<text x="573.3" y="372.5">360</text>
<text x="594.2" y="372.5">400</text>
<text x="615.1" y="372.5">440</text>
<text x="636.0" y="372.5">480</text>
</g>
<g font-family="Liberation Serif, serif" font-weight="bold" font-size="11.5" fill="#111" text-anchor="end">
<text x="380.5" y="331.9">40</text>
<text x="380.5" y="302.9">80</text>
<text x="380.5" y="273.9">120</text>
<text x="380.5" y="244.9">160</text>
<text x="380.5" y="215.9">200</text>
</g>
<text x="517.0" y="206.7" font-family="Liberation Serif, serif" font-weight="bold" font-size="12.8" fill="#111" text-anchor="middle">Height of separation space</text>
<text x="487.0" y="388.0" font-family="Liberation Serif, serif" font-weight="bold" font-size="12.1" fill="#111">Length<tspan font-weight="normal" dx="6">(m)</tspan></text>
<text transform="translate(360.0,312.0) rotate(-90)" font-family="Liberation Serif, serif" font-weight="bold" font-size="12.3" fill="#111">Width<tspan font-weight="normal" dx="5.5">(m)</tspan></text>
<text x="389.2" y="227.4" font-family="Liberation Serif, serif" font-size="16" fill="#222">(c)</text>
<defs><linearGradient id="cbc" x1="0" y1="1" x2="0" y2="0">
<stop offset="0.0000" stop-color="#1946a5"/>
<stop offset="0.0870" stop-color="#1955a0"/>
<stop offset="0.1210" stop-color="#196e82"/>
<stop offset="0.1640" stop-color="#28964b"/>
<stop offset="0.2580" stop-color="#58af37"/>
<stop offset="0.3310" stop-color="#78b932"/>
<stop offset="0.3850" stop-color="#a0c82d"/>
<stop offset="0.4520" stop-color="#d7dc28"/>
<stop offset="0.5120" stop-color="#fce81e"/>
<stop offset="0.5650" stop-color="#fac814"/>
<stop offset="0.6800" stop-color="#f5a014"/>
<stop offset="0.7790" stop-color="#ee7d0f"/>
<stop offset="0.8560" stop-color="#ec3e69"/>
<stop offset="0.9195" stop-color="#ea308e"/>
<stop offset="0.9205" stop-color="#da3895"/>
<stop offset="1.0000" stop-color="#ac52ac"/>
</linearGradient></defs>
<rect x="653.5" y="212.0" width="11.0" height="145.0" fill="url(#cbc)" stroke="#444" stroke-width="0.6"/>
<g font-family="Liberation Serif, serif" font-weight="bold" font-size="10" fill="#111">
<path d="M664.5,220.1 h-2.5" stroke="#333" stroke-width="0.6"/>
<text x="669.5" y="223.5">-0.5</text>
<path d="M664.5,252.5 h-2.5" stroke="#333" stroke-width="0.6"/>
<text x="669.5" y="255.9">-1</text>
<path d="M664.5,284.8 h-2.5" stroke="#333" stroke-width="0.6"/>
<text x="669.5" y="288.2">-1.5</text>
<path d="M664.5,317.1 h-2.5" stroke="#333" stroke-width="0.6"/>
<text x="669.5" y="320.5">-2</text>
<path d="M664.5,349.4 h-2.5" stroke="#333" stroke-width="0.6"/>
<text x="669.5" y="352.8">-2.5</text>
</g>
</svg></body></html>
